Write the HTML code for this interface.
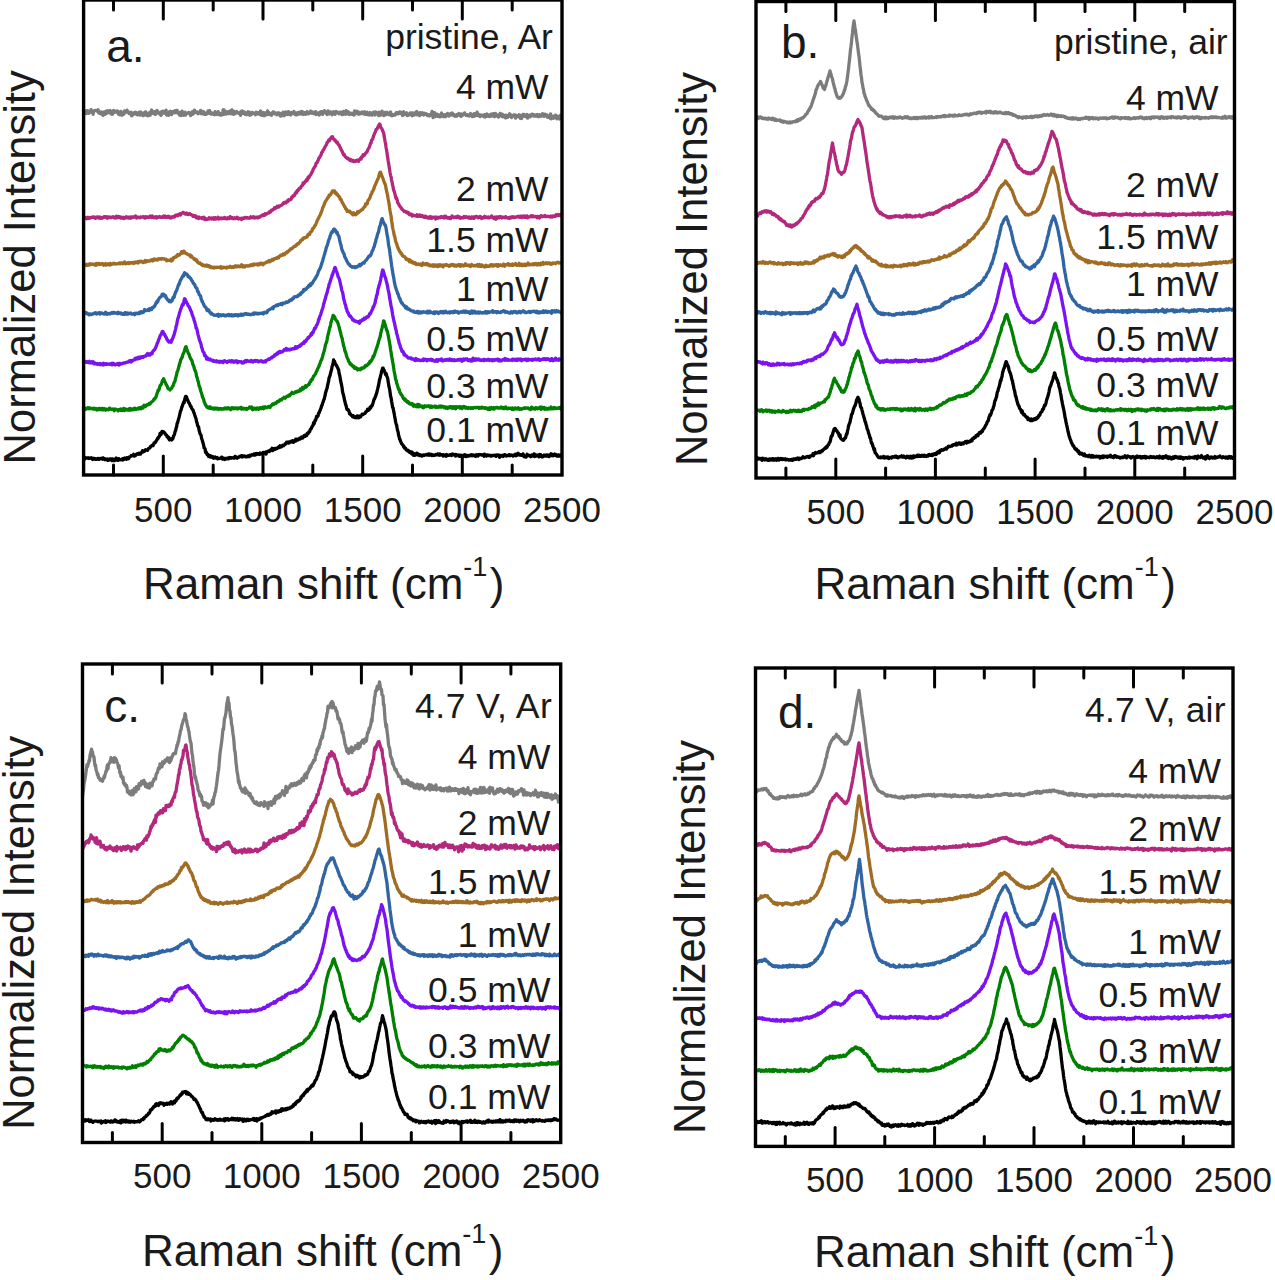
<!DOCTYPE html><html><head><meta charset="utf-8"><style>html,body{margin:0;padding:0;background:#fff;}svg{display:block}text{font-family:"Liberation Sans",sans-serif;fill:#1a1a1a}</style></head><body>
<div id="w">
<svg width="1275" height="1280" viewBox="0 0 1275 1280">
<clipPath id="ca"><rect x="83.6" y="0" width="478.4" height="475"/></clipPath>
<g clip-path="url(#ca)">
<path d="M83.6 111.1 84.1 112.6 84.6 111.5 85.1 112.7 85.6 113.1 86.1 113.6 86.6 110.7 87.1 112.3 87.6 113.0 88.1 110.9 88.6 113.4 89.1 112.9 89.6 112.8 90.1 111.7 90.6 111.2 91.1 109.6 91.6 110.8 92.1 112.3 92.6 111.3 93.1 114.3 93.6 111.2 94.1 110.8 94.6 110.8 95.1 110.4 95.6 110.4 96.1 110.4 96.6 110.9 97.1 110.9 97.6 111.6 98.1 109.8 98.6 112.9 99.1 111.5 99.6 112.3 100.1 113.5 100.6 113.1 101.1 113.4 101.6 112.0 102.1 114.4 102.6 113.0 103.1 115.3 103.6 112.4 104.1 111.9 104.6 112.3 105.1 114.3 105.6 112.7 106.1 111.2 106.6 113.3 107.1 111.9 107.6 110.7 108.1 112.6 108.6 111.9 109.1 112.6 109.6 111.1 110.1 110.5 110.6 112.7 111.1 114.0 111.6 112.3 112.1 112.8 112.6 114.2 113.1 111.2 113.6 110.4 114.1 112.4 114.6 111.2 115.1 112.0 115.6 111.3 116.1 111.9 116.6 111.9 117.1 110.9 117.6 112.7 118.1 111.2 118.6 114.3 119.1 112.9 119.6 112.7 120.1 114.9 120.6 114.4 121.1 111.5 121.6 114.6 122.1 115.2 122.6 114.0 123.1 114.5 123.6 113.9 124.1 113.9 124.6 110.9 125.1 112.5 125.6 111.8 126.1 111.4 126.6 112.0 127.1 110.2 127.6 111.9 128.1 112.3 128.6 112.2 129.1 113.6 129.6 112.8 130.1 112.4 130.6 112.6 131.1 112.2 131.6 115.9 132.1 113.0 132.6 113.3 133.1 114.6 133.6 113.5 134.1 113.9 134.6 112.4 135.1 113.7 135.6 112.3 136.1 113.4 136.6 114.2 137.1 112.9 137.6 114.9 138.1 113.4 138.6 112.8 139.1 112.3 139.6 113.8 140.1 115.0 140.6 111.9 141.1 113.4 141.6 113.9 142.1 114.9 142.6 113.6 143.1 115.7 143.6 112.9 144.1 114.2 144.6 115.0 145.1 112.1 145.6 111.7 146.1 113.0 146.6 115.2 147.1 114.1 147.6 114.6 148.1 115.8 148.6 114.8 149.1 112.8 149.6 112.5 150.1 115.3 150.6 113.3 151.1 111.1 151.6 110.0 152.1 112.1 152.6 113.4 153.1 112.0 153.6 113.6 154.1 112.8 154.6 111.6 155.1 112.9 155.6 114.4 156.1 112.2 156.6 111.4 157.1 110.4 157.6 112.0 158.1 112.5 158.6 113.1 159.1 112.6 159.6 114.1 160.1 113.3 160.6 113.9 161.1 115.4 161.6 111.7 162.1 113.3 162.6 113.3 163.1 111.2 163.6 111.6 164.1 113.0 164.6 113.1 165.1 113.4 165.6 112.3 166.1 110.2 166.6 115.1 167.1 112.7 167.6 113.0 168.1 114.1 168.6 115.2 169.1 114.3 169.6 111.7 170.1 111.8 170.6 111.3 171.1 112.4 171.6 114.6 172.1 112.2 172.6 111.6 173.1 111.6 173.6 111.7 174.1 111.7 174.6 112.9 175.1 110.7 175.6 111.8 176.1 111.1 176.6 110.8 177.1 110.2 177.6 113.2 178.1 113.2 178.6 112.4 179.1 112.8 179.6 115.2 180.1 112.3 180.6 112.9 181.1 115.7 181.6 112.3 182.1 111.1 182.6 114.9 183.1 112.6 183.6 113.7 184.1 115.2 184.6 112.4 185.1 112.2 185.6 115.1 186.1 113.3 186.6 113.7 187.1 113.5 187.6 113.3 188.1 112.8 188.6 112.3 189.1 112.5 189.6 113.5 190.1 114.0 190.6 115.6 191.1 114.1 191.6 113.6 192.1 112.0 192.6 114.4 193.1 113.7 193.6 111.2 194.1 113.1 194.6 110.1 195.1 111.9 195.6 111.7 196.1 112.3 196.6 112.3 197.1 113.0 197.6 112.0 198.1 113.7 198.6 113.1 199.1 112.5 199.6 113.1 200.1 113.2 200.6 110.4 201.1 113.7 201.6 111.2 202.1 113.8 202.6 113.7 203.1 113.2 203.6 111.8 204.1 112.9 204.6 114.4 205.1 113.0 205.6 113.2 206.1 114.2 206.6 113.6 207.1 112.7 207.6 113.5 208.1 110.8 208.6 112.2 209.1 111.8 209.6 110.6 210.1 113.6 210.6 113.6 211.1 114.1 211.6 112.8 212.1 113.0 212.6 114.1 213.1 113.7 213.6 114.0 214.1 114.5 214.6 114.7 215.1 111.7 215.6 112.8 216.1 114.4 216.6 114.3 217.1 114.5 217.6 113.1 218.1 111.6 218.6 113.0 219.1 113.0 219.6 114.8 220.1 114.5 220.6 113.8 221.1 115.2 221.6 114.1 222.1 113.3 222.6 114.3 223.1 109.9 223.6 114.7 224.1 109.9 224.6 113.8 225.1 112.6 225.6 111.5 226.1 114.1 226.6 112.9 227.1 112.9 227.6 113.3 228.1 111.6 228.6 113.7 229.1 113.0 229.6 112.3 230.1 111.7 230.6 110.8 231.1 113.6 231.6 113.8 232.1 109.9 232.6 113.3 233.1 113.1 233.6 114.4 234.1 111.5 234.6 113.9 235.1 112.7 235.6 113.3 236.1 111.9 236.6 111.4 237.1 112.8 237.6 113.0 238.1 112.8 238.6 112.8 239.1 113.5 239.6 113.0 240.1 112.5 240.6 115.4 241.1 111.5 241.6 112.0 242.1 113.4 242.6 111.0 243.1 112.6 243.6 113.2 244.1 113.4 244.6 112.1 245.1 114.4 245.6 113.5 246.1 113.4 246.6 114.7 247.1 112.7 247.6 112.8 248.1 111.7 248.6 111.9 249.1 113.9 249.6 115.2 250.1 112.8 250.6 113.2 251.1 114.8 251.6 112.3 252.1 112.3 252.6 113.8 253.1 112.7 253.6 113.3 254.1 113.6 254.6 113.1 255.1 113.1 255.6 114.7 256.1 112.2 256.6 112.8 257.1 113.9 257.6 114.0 258.1 112.6 258.6 113.1 259.1 113.2 259.6 114.3 260.1 112.2 260.6 111.0 261.1 113.0 261.6 115.3 262.1 113.6 262.6 113.6 263.1 113.3 263.6 112.6 264.1 115.8 264.6 112.8 265.1 114.1 265.6 113.4 266.1 115.0 266.6 112.8 267.1 114.3 267.6 110.9 268.1 113.0 268.6 114.4 269.1 112.7 269.6 114.6 270.1 113.4 270.6 113.5 271.1 114.3 271.6 115.2 272.1 113.5 272.6 112.8 273.1 111.9 273.6 111.8 274.1 112.4 274.6 113.7 275.1 112.7 275.6 113.1 276.1 113.8 276.6 114.7 277.1 113.1 277.6 113.9 278.1 114.1 278.6 112.7 279.1 113.3 279.6 114.0 280.1 115.8 280.6 113.5 281.1 116.1 281.6 114.1 282.1 114.8 282.6 113.3 283.1 112.2 283.6 113.2 284.1 115.8 284.6 113.5 285.1 112.6 285.6 111.9 286.1 114.5 286.6 113.4 287.1 112.3 287.6 112.6 288.1 114.5 288.6 111.7 289.1 112.7 289.6 114.3 290.1 114.5 290.6 114.9 291.1 113.5 291.6 112.4 292.1 112.7 292.6 113.4 293.1 113.0 293.6 113.6 294.1 111.5 294.6 113.4 295.1 114.2 295.6 113.4 296.1 114.9 296.6 113.1 297.1 114.7 297.6 112.7 298.1 113.0 298.6 113.5 299.1 114.1 299.6 112.2 300.1 113.9 300.6 114.0 301.1 111.9 301.6 111.4 302.1 111.5 302.6 112.6 303.1 114.2 303.6 112.4 304.1 114.2 304.6 113.6 305.1 112.7 305.6 114.3 306.1 114.0 306.6 113.5 307.1 111.7 307.6 113.4 308.1 112.6 308.6 113.8 309.1 113.4 309.6 113.2 310.1 112.4 310.6 111.1 311.1 112.0 311.6 111.6 312.1 113.4 312.6 112.5 313.1 113.6 313.6 113.6 314.1 112.4 314.6 112.0 315.1 113.6 315.6 111.7 316.1 114.6 316.6 112.7 317.1 114.2 317.6 114.1 318.1 113.1 318.6 114.1 319.1 115.1 319.6 112.5 320.1 112.9 320.6 111.9 321.1 113.9 321.6 111.6 322.1 112.7 322.6 114.4 323.1 113.4 323.6 112.3 324.1 111.0 324.6 110.7 325.1 112.1 325.6 112.5 326.1 112.7 326.6 113.9 327.1 114.6 327.6 114.3 328.1 110.8 328.6 112.8 329.1 112.9 329.6 113.8 330.1 113.7 330.6 111.9 331.1 113.5 331.6 113.3 332.1 114.8 332.6 114.0 333.1 113.5 333.6 111.8 334.1 112.9 334.6 113.3 335.1 114.4 335.6 111.8 336.1 111.5 336.6 112.0 337.1 112.7 337.6 112.2 338.1 112.8 338.6 112.7 339.1 113.9 339.6 113.2 340.1 112.1 340.6 113.4 341.1 113.7 341.6 114.4 342.1 112.1 342.6 114.6 343.1 113.7 343.6 111.5 344.1 112.8 344.6 112.5 345.1 111.9 345.6 114.3 346.1 110.7 346.6 111.4 347.1 111.8 347.6 113.0 348.1 111.8 348.6 114.3 349.1 112.3 349.6 114.5 350.1 114.2 350.6 113.6 351.1 113.6 351.6 113.2 352.1 114.4 352.6 113.4 353.1 114.5 353.6 113.0 354.1 115.0 354.6 111.0 355.1 112.7 355.6 113.8 356.1 112.7 356.6 112.9 357.1 111.3 357.6 112.6 358.1 113.6 358.6 114.2 359.1 112.3 359.6 114.0 360.1 113.8 360.6 113.0 361.1 113.1 361.6 113.5 362.1 112.0 362.6 113.6 363.1 113.6 363.6 113.2 364.1 114.0 364.6 111.8 365.1 112.8 365.6 112.9 366.1 114.4 366.6 113.3 367.1 112.2 367.6 114.2 368.1 114.8 368.6 114.9 369.1 114.3 369.6 113.9 370.1 112.5 370.6 114.9 371.1 113.6 371.6 113.2 372.1 115.1 372.6 112.8 373.1 113.5 373.6 112.1 374.1 112.5 374.6 113.0 375.1 115.0 375.6 111.9 376.1 113.3 376.6 112.8 377.1 113.5 377.6 112.9 378.1 114.1 378.6 115.6 379.1 112.2 379.6 114.6 380.1 115.2 380.6 113.9 381.1 113.6 381.6 112.7 382.1 111.1 382.6 115.1 383.1 114.0 383.6 115.0 384.1 115.6 384.6 114.0 385.1 112.4 385.6 112.9 386.1 114.6 386.6 112.8 387.1 112.3 387.6 114.0 388.1 113.1 388.6 114.6 389.1 113.2 389.6 113.7 390.1 113.7 390.6 112.0 391.1 115.6 391.6 114.1 392.1 115.7 392.6 114.8 393.1 115.3 393.6 114.7 394.1 114.5 394.6 114.7 395.1 115.0 395.6 113.8 396.1 113.0 396.6 112.4 397.1 113.9 397.6 113.6 398.1 112.8 398.6 113.7 399.1 113.5 399.6 111.9 400.1 113.2 400.6 112.1 401.1 113.5 401.6 113.8 402.1 112.7 402.6 115.6 403.1 113.3 403.6 111.8 404.1 113.6 404.6 114.4 405.1 113.9 405.6 114.4 406.1 113.5 406.6 112.8 407.1 115.4 407.6 115.6 408.1 114.9 408.6 115.1 409.1 115.0 409.6 113.9 410.1 113.0 410.6 113.4 411.1 114.2 411.6 112.9 412.1 115.8 412.6 113.0 413.1 114.7 413.6 114.7 414.1 115.1 414.6 112.9 415.1 113.7 415.6 113.3 416.1 112.3 416.6 111.5 417.1 114.9 417.6 113.7 418.1 113.9 418.6 113.1 419.1 113.7 419.6 115.7 420.1 112.6 420.6 113.0 421.1 114.2 421.6 113.1 422.1 112.8 422.6 114.5 423.1 113.7 423.6 115.0 424.1 113.1 424.6 113.8 425.1 114.2 425.6 114.4 426.1 113.7 426.6 114.2 427.1 114.7 427.6 115.6 428.1 114.7 428.6 114.8 429.1 114.9 429.6 115.9 430.1 114.7 430.6 114.9 431.1 113.7 431.6 114.3 432.1 111.3 432.6 115.0 433.1 117.6 433.6 115.8 434.1 115.1 434.6 112.6 435.1 116.5 435.6 115.2 436.1 114.1 436.6 114.5 437.1 114.3 437.6 116.3 438.1 115.1 438.6 116.1 439.1 115.0 439.6 116.8 440.1 116.8 440.6 116.5 441.1 114.5 441.6 113.0 442.1 115.8 442.6 115.1 443.1 116.5 443.6 115.2 444.1 116.6 444.6 114.8 445.1 114.6 445.6 116.7 446.1 114.7 446.6 116.0 447.1 113.8 447.6 113.5 448.1 113.9 448.6 115.1 449.1 116.0 449.6 115.0 450.1 115.1 450.6 113.7 451.1 114.9 451.6 115.0 452.1 113.0 452.6 114.0 453.1 114.3 453.6 115.5 454.1 114.5 454.6 115.3 455.1 116.3 455.6 116.2 456.1 115.9 456.6 116.2 457.1 114.4 457.6 114.4 458.1 115.1 458.6 115.2 459.1 113.5 459.6 115.2 460.1 114.2 460.6 115.9 461.1 116.4 461.6 113.9 462.1 115.5 462.6 115.3 463.1 114.1 463.6 114.2 464.1 114.3 464.6 112.9 465.1 113.9 465.6 114.4 466.1 115.4 466.6 115.2 467.1 114.7 467.6 115.6 468.1 114.8 468.6 114.9 469.1 116.1 469.6 115.3 470.1 115.2 470.6 113.5 471.1 115.1 471.6 115.2 472.1 116.4 472.6 116.6 473.1 115.2 473.6 116.4 474.1 113.6 474.6 114.0 475.1 115.8 475.6 114.4 476.1 115.4 476.6 114.1 477.1 112.2 477.6 115.7 478.1 113.9 478.6 114.7 479.1 114.9 479.6 115.3 480.1 116.6 480.6 115.0 481.1 115.9 481.6 115.6 482.1 115.3 482.6 115.2 483.1 115.9 483.6 116.5 484.1 115.8 484.6 114.7 485.1 117.2 485.6 114.6 486.1 116.2 486.6 116.3 487.1 114.0 487.6 115.9 488.1 115.4 488.6 115.8 489.1 116.5 489.6 115.8 490.1 114.7 490.6 116.4 491.1 114.1 491.6 114.1 492.1 114.3 492.6 114.2 493.1 116.1 493.6 113.7 494.1 115.3 494.6 116.7 495.1 114.4 495.6 113.5 496.1 115.5 496.6 115.0 497.1 114.9 497.6 115.5 498.1 117.0 498.6 117.0 499.1 115.3 499.6 115.7 500.1 113.4 500.6 114.3 501.1 114.9 501.6 116.3 502.1 114.1 502.6 114.4 503.1 116.8 503.6 116.6 504.1 115.3 504.6 115.8 505.1 116.9 505.6 117.9 506.1 115.2 506.6 116.0 507.1 116.4 507.6 117.3 508.1 115.5 508.6 116.5 509.1 115.4 509.6 113.8 510.1 116.2 510.6 114.8 511.1 115.9 511.6 117.6 512.1 116.0 512.6 116.2 513.1 115.7 513.6 115.1 514.1 114.9 514.6 115.9 515.1 115.0 515.6 118.2 516.1 115.4 516.6 116.5 517.1 116.4 517.6 116.4 518.1 115.7 518.6 116.9 519.1 114.8 519.6 117.2 520.1 116.8 520.6 118.4 521.1 115.5 521.6 118.6 522.1 116.6 522.6 116.4 523.1 114.4 523.6 115.3 524.1 114.5 524.6 116.2 525.1 115.2 525.6 116.5 526.1 115.5 526.6 115.8 527.1 114.5 527.6 118.2 528.1 116.0 528.6 117.1 529.1 115.5 529.6 116.7 530.1 116.8 530.6 115.0 531.1 116.0 531.6 115.4 532.1 114.1 532.6 115.2 533.1 115.2 533.6 116.0 534.1 114.7 534.6 115.7 535.1 116.0 535.6 115.2 536.1 115.9 536.6 115.0 537.1 114.6 537.6 116.3 538.1 114.9 538.6 116.7 539.1 116.6 539.6 114.8 540.1 116.4 540.6 115.5 541.1 115.9 541.6 114.7 542.1 116.0 542.6 113.6 543.1 115.2 543.6 115.0 544.1 116.4 544.6 116.1 545.1 114.2 545.6 115.9 546.1 115.7 546.6 116.1 547.1 114.9 547.6 117.3 548.1 115.8 548.6 116.0 549.1 116.0 549.6 117.5 550.1 118.2 550.6 114.0 551.1 118.9 551.6 117.3 552.1 117.1 552.6 116.5 553.1 116.2 553.6 118.2 554.1 117.9 554.6 116.8 555.1 117.9 555.6 115.1 556.1 115.8 556.6 117.2 557.1 118.7 557.6 116.3 558.1 116.3 558.6 117.3 559.1 116.9 559.6 119.0 560.1 116.2 560.6 115.3 561.1 117.8 561.6 115.6" fill="none" stroke="#7c7c7c" stroke-width="3.3" stroke-linejoin="round"/>
<path d="M83.6 217.6 84.1 216.7 84.6 218.5 85.1 218.0 85.6 217.7 86.1 217.9 86.6 218.8 87.1 217.6 87.6 217.3 88.1 218.4 88.6 217.7 89.1 218.4 89.6 217.5 90.1 218.0 90.6 217.8 91.1 217.3 91.6 217.5 92.1 217.4 92.6 216.8 93.1 216.8 93.6 217.3 94.1 217.0 94.6 217.8 95.1 217.6 95.6 218.4 96.1 217.7 96.6 216.9 97.1 217.4 97.6 217.3 98.1 216.9 98.6 218.0 99.1 217.0 99.6 217.7 100.1 218.2 100.6 217.3 101.1 218.2 101.6 217.8 102.1 217.8 102.6 218.1 103.1 217.4 103.6 217.6 104.1 216.6 104.6 217.1 105.1 216.9 105.6 216.7 106.1 216.7 106.6 217.6 107.1 218.2 107.6 217.1 108.1 216.9 108.6 217.8 109.1 217.2 109.6 216.9 110.1 217.2 110.6 217.3 111.1 217.6 111.6 217.2 112.1 217.1 112.6 217.0 113.1 216.7 113.6 217.2 114.1 217.6 114.6 218.0 115.1 217.2 115.6 217.6 116.1 217.9 116.6 216.3 117.1 217.2 117.6 217.6 118.1 216.4 118.6 216.7 119.1 217.3 119.6 216.7 120.1 216.9 120.6 218.1 121.1 218.1 121.6 217.5 122.1 217.9 122.6 218.1 123.1 217.2 123.6 218.6 124.1 217.7 124.6 217.8 125.1 218.0 125.6 217.6 126.1 216.7 126.6 216.9 127.1 217.9 127.6 217.4 128.1 217.5 128.6 217.2 129.1 218.1 129.6 217.1 130.1 217.0 130.6 218.2 131.1 217.6 131.6 217.0 132.1 217.5 132.6 216.9 133.1 216.8 133.6 217.2 134.1 216.8 134.6 217.0 135.1 217.0 135.6 215.9 136.1 216.9 136.6 218.1 137.1 217.6 137.6 217.3 138.1 217.1 138.6 217.3 139.1 217.7 139.6 217.5 140.1 217.7 140.6 217.0 141.1 216.8 141.6 217.1 142.1 217.1 142.6 217.2 143.1 216.6 143.6 216.6 144.1 217.1 144.6 217.9 145.1 217.0 145.6 217.9 146.1 216.8 146.6 217.4 147.1 217.0 147.6 216.9 148.1 217.2 148.6 217.5 149.1 217.3 149.6 216.9 150.1 216.1 150.6 217.1 151.1 217.4 151.6 216.1 152.1 216.0 152.6 217.1 153.1 217.4 153.6 217.8 154.1 216.9 154.6 217.2 155.1 217.1 155.6 217.8 156.1 216.8 156.6 218.1 157.1 216.9 157.6 217.0 158.1 217.4 158.6 217.1 159.1 217.0 159.6 216.5 160.1 217.2 160.6 216.9 161.1 217.4 161.6 217.1 162.1 217.4 162.6 217.4 163.1 216.5 163.6 217.0 164.1 216.1 164.6 217.2 165.1 216.1 165.6 217.0 166.1 216.4 166.6 217.6 167.1 217.3 167.6 216.6 168.1 216.2 168.6 217.0 169.1 216.5 169.6 217.9 170.1 217.2 170.6 217.5 171.1 217.9 171.6 216.9 172.1 217.1 172.6 216.9 173.1 216.5 173.6 217.1 174.1 217.1 174.6 216.8 175.1 215.8 175.6 215.1 176.1 215.3 176.6 215.6 177.1 214.9 177.6 215.8 178.1 215.5 178.6 214.5 179.1 214.2 179.6 214.4 180.1 213.8 180.6 215.0 181.1 213.5 181.6 213.3 182.1 213.3 182.6 212.8 183.1 212.4 183.6 212.6 184.1 213.3 184.6 213.1 185.1 213.9 185.6 214.1 186.1 213.4 186.6 213.0 187.1 214.2 187.6 213.8 188.1 214.5 188.6 214.2 189.1 214.2 189.6 213.6 190.1 214.3 190.6 214.6 191.1 214.8 191.6 214.7 192.1 215.1 192.6 215.8 193.1 216.4 193.6 216.3 194.1 215.6 194.6 216.3 195.1 216.6 195.6 215.8 196.1 217.7 196.6 217.9 197.1 217.4 197.6 217.1 198.1 218.1 198.6 218.6 199.1 217.1 199.6 217.8 200.1 217.6 200.6 218.0 201.1 218.1 201.6 218.4 202.1 217.5 202.6 218.3 203.1 218.6 203.6 218.6 204.1 217.3 204.6 219.5 205.1 218.3 205.6 219.6 206.1 219.2 206.6 219.1 207.1 219.4 207.6 218.9 208.1 218.8 208.6 219.0 209.1 217.8 209.6 218.8 210.1 218.3 210.6 218.5 211.1 217.9 211.6 219.1 212.1 218.5 212.6 218.1 213.1 217.8 213.6 219.2 214.1 218.5 214.6 218.6 215.1 217.6 215.6 219.1 216.1 218.9 216.6 218.2 217.1 217.9 217.6 218.4 218.1 217.2 218.6 219.0 219.1 217.9 219.6 218.2 220.1 218.8 220.6 218.2 221.1 218.0 221.6 218.7 222.1 218.2 222.6 218.3 223.1 218.5 223.6 218.1 224.1 217.5 224.6 217.4 225.1 218.6 225.6 218.2 226.1 218.9 226.6 218.9 227.1 218.0 227.6 217.8 228.1 218.5 228.6 218.6 229.1 217.8 229.6 218.4 230.1 216.6 230.6 217.8 231.1 217.5 231.6 218.2 232.1 217.6 232.6 218.6 233.1 218.1 233.6 218.5 234.1 218.6 234.6 217.8 235.1 218.0 235.6 218.6 236.1 217.9 236.6 218.3 237.1 217.2 237.6 218.0 238.1 217.9 238.6 219.0 239.1 218.4 239.6 218.4 240.1 218.7 240.6 218.7 241.1 218.3 241.6 219.6 242.1 218.1 242.6 218.7 243.1 218.6 243.6 218.4 244.1 218.4 244.6 217.4 245.1 217.9 245.6 217.5 246.1 217.4 246.6 217.5 247.1 218.0 247.6 217.6 248.1 218.1 248.6 218.2 249.1 217.9 249.6 218.2 250.1 217.3 250.6 216.8 251.1 217.3 251.6 217.3 252.1 217.8 252.6 217.4 253.1 216.7 253.6 217.9 254.1 217.1 254.6 217.9 255.1 217.2 255.6 217.8 256.1 217.6 256.6 217.3 257.1 217.7 257.6 217.9 258.1 216.9 258.6 217.5 259.1 216.9 259.6 217.2 260.1 216.3 260.6 216.4 261.1 216.0 261.6 215.7 262.1 215.1 262.6 215.0 263.1 215.7 263.6 214.7 264.1 215.1 264.6 215.3 265.1 213.7 265.6 214.5 266.1 213.7 266.6 214.0 267.1 213.7 267.6 213.4 268.1 213.0 268.6 213.0 269.1 211.8 269.6 211.9 270.1 212.3 270.6 211.9 271.1 210.4 271.6 210.1 272.1 209.8 272.6 210.0 273.1 209.5 273.6 209.2 274.1 208.6 274.6 207.6 275.1 208.7 275.6 208.0 276.1 207.8 276.6 207.7 277.1 206.3 277.6 207.1 278.1 206.5 278.6 207.0 279.1 206.0 279.6 206.1 280.1 205.9 280.6 205.7 281.1 205.4 281.6 205.1 282.1 204.8 282.6 204.2 283.1 203.3 283.6 203.3 284.1 202.4 284.6 203.2 285.1 202.4 285.6 202.1 286.1 202.8 286.6 201.9 287.1 201.0 287.6 201.7 288.1 201.4 288.6 199.7 289.1 200.1 289.6 200.0 290.1 199.7 290.6 199.5 291.1 199.3 291.6 197.5 292.1 197.7 292.6 196.4 293.1 195.7 293.6 196.2 294.1 195.7 294.6 195.3 295.1 193.4 295.6 193.3 296.1 192.0 296.6 192.9 297.1 191.0 297.6 190.2 298.1 190.4 298.6 189.4 299.1 188.6 299.6 188.4 300.1 188.3 300.6 187.9 301.1 186.5 301.6 186.1 302.1 185.6 302.6 185.2 303.1 182.9 303.6 183.8 304.1 183.4 304.6 182.4 305.1 181.5 305.6 181.5 306.1 180.5 306.6 179.6 307.1 180.5 307.6 179.0 308.1 177.3 308.6 178.1 309.1 177.0 309.6 176.3 310.1 175.3 310.6 174.8 311.1 174.1 311.6 172.7 312.1 171.9 312.6 171.5 313.1 169.3 313.6 168.9 314.1 167.7 314.6 167.0 315.1 166.4 315.6 165.4 316.1 163.2 316.6 162.9 317.1 162.6 317.6 161.2 318.1 160.6 318.6 159.1 319.1 157.7 319.6 157.5 320.1 156.3 320.6 155.5 321.1 154.9 321.6 152.5 322.1 152.3 322.6 151.6 323.1 150.2 323.6 149.7 324.1 148.9 324.6 147.6 325.1 146.8 325.6 146.1 326.1 145.1 326.6 144.2 327.1 142.3 327.6 142.3 328.1 141.5 328.6 140.3 329.1 139.9 329.6 140.7 330.1 138.7 330.6 138.5 331.1 137.6 331.6 136.9 332.1 137.7 332.6 136.8 333.1 139.0 333.6 139.1 334.1 139.3 334.6 140.2 335.1 140.0 335.6 140.9 336.1 141.9 336.6 142.6 337.1 142.0 337.6 142.7 338.1 144.2 338.6 144.9 339.1 145.1 339.6 146.6 340.1 147.2 340.6 148.3 341.1 149.6 341.6 150.4 342.1 151.3 342.6 152.6 343.1 153.5 343.6 154.8 344.1 154.2 344.6 155.6 345.1 156.5 345.6 156.8 346.1 157.6 346.6 157.7 347.1 158.5 347.6 158.7 348.1 158.2 348.6 159.0 349.1 159.6 349.6 160.1 350.1 160.5 350.6 159.5 351.1 160.8 351.6 160.4 352.1 160.7 352.6 161.1 353.1 160.3 353.6 161.5 354.1 161.0 354.6 161.2 355.1 161.5 355.6 160.7 356.1 160.4 356.6 160.9 357.1 160.4 357.6 160.2 358.1 160.3 358.6 161.4 359.1 159.6 359.6 159.3 360.1 159.4 360.6 158.2 361.1 159.1 361.6 157.0 362.1 157.2 362.6 156.4 363.1 154.8 363.6 155.8 364.1 155.0 364.6 155.1 365.1 154.0 365.6 153.3 366.1 152.6 366.6 152.4 367.1 151.7 367.6 150.3 368.1 149.1 368.6 148.4 369.1 147.7 369.6 146.2 370.1 144.7 370.6 143.1 371.1 142.9 371.6 140.0 372.1 139.9 372.6 139.2 373.1 137.5 373.6 135.8 374.1 134.8 374.6 133.3 375.1 132.3 375.6 131.2 376.1 129.3 376.6 129.3 377.1 128.9 377.6 127.6 378.1 127.2 378.6 125.5 379.1 125.6 379.6 124.0 380.1 124.7 380.6 127.1 381.1 127.8 381.6 128.3 382.1 129.2 382.6 130.7 383.1 131.8 383.6 132.6 384.1 136.2 384.6 138.6 385.1 141.6 385.6 143.9 386.1 147.8 386.6 150.3 387.1 153.6 387.6 156.8 388.1 160.5 388.6 163.3 389.1 166.4 389.6 169.7 390.1 172.8 390.6 175.3 391.1 177.2 391.6 180.1 392.1 182.2 392.6 185.2 393.1 187.1 393.6 190.0 394.1 191.2 394.6 192.6 395.1 194.6 395.6 196.8 396.1 198.6 396.6 197.8 397.1 199.8 397.6 202.2 398.1 203.3 398.6 203.9 399.1 205.2 399.6 205.6 400.1 206.7 400.6 207.4 401.1 207.7 401.6 208.9 402.1 209.0 402.6 209.8 403.1 210.2 403.6 210.7 404.1 211.5 404.6 211.2 405.1 211.5 405.6 211.8 406.1 211.7 406.6 212.6 407.1 212.9 407.6 212.2 408.1 212.8 408.6 213.8 409.1 213.1 409.6 214.7 410.1 214.4 410.6 214.4 411.1 214.6 411.6 214.2 412.1 216.1 412.6 215.6 413.1 215.1 413.6 215.2 414.1 215.8 414.6 215.6 415.1 215.7 415.6 215.8 416.1 215.8 416.6 216.2 417.1 214.8 417.6 215.9 418.1 216.4 418.6 216.2 419.1 216.0 419.6 215.0 420.1 216.1 420.6 216.3 421.1 216.4 421.6 216.5 422.1 215.5 422.6 215.8 423.1 216.2 423.6 216.8 424.1 217.3 424.6 217.4 425.1 216.3 425.6 217.6 426.1 216.5 426.6 216.8 427.1 217.2 427.6 217.7 428.1 218.2 428.6 217.1 429.1 217.1 429.6 217.4 430.1 218.2 430.6 216.5 431.1 218.1 431.6 218.4 432.1 218.0 432.6 217.2 433.1 217.2 433.6 217.6 434.1 217.2 434.6 217.8 435.1 218.1 435.6 219.0 436.1 217.0 436.6 217.4 437.1 217.4 437.6 218.3 438.1 218.1 438.6 217.2 439.1 217.5 439.6 217.6 440.1 217.8 440.6 217.2 441.1 216.6 441.6 216.5 442.1 217.4 442.6 217.3 443.1 217.6 443.6 217.4 444.1 218.0 444.6 216.3 445.1 216.5 445.6 216.3 446.1 217.3 446.6 217.9 447.1 217.3 447.6 217.5 448.1 218.0 448.6 217.8 449.1 217.5 449.6 217.7 450.1 218.7 450.6 218.7 451.1 217.4 451.6 217.2 452.1 216.0 452.6 217.1 453.1 217.2 453.6 217.7 454.1 217.7 454.6 217.4 455.1 216.9 455.6 217.1 456.1 217.6 456.6 217.6 457.1 217.5 457.6 216.1 458.1 216.4 458.6 217.5 459.1 217.8 459.6 216.9 460.1 217.2 460.6 218.3 461.1 217.9 461.6 217.6 462.1 217.6 462.6 217.8 463.1 217.3 463.6 217.7 464.1 216.5 464.6 217.1 465.1 217.4 465.6 217.5 466.1 216.7 466.6 216.8 467.1 217.2 467.6 217.7 468.1 217.7 468.6 218.0 469.1 217.0 469.6 217.6 470.1 218.2 470.6 217.5 471.1 218.3 471.6 217.0 472.1 217.0 472.6 218.0 473.1 217.7 473.6 216.9 474.1 218.4 474.6 217.7 475.1 216.7 475.6 216.5 476.1 216.8 476.6 216.5 477.1 216.6 477.6 216.9 478.1 217.8 478.6 217.3 479.1 217.3 479.6 217.2 480.1 216.4 480.6 217.7 481.1 216.9 481.6 218.5 482.1 217.4 482.6 218.1 483.1 217.8 483.6 217.9 484.1 217.1 484.6 216.3 485.1 217.7 485.6 217.6 486.1 217.2 486.6 217.0 487.1 217.1 487.6 217.2 488.1 217.9 488.6 216.9 489.1 217.8 489.6 217.4 490.1 217.2 490.6 217.3 491.1 216.8 491.6 216.0 492.1 216.7 492.6 217.6 493.1 217.6 493.6 218.0 494.1 218.5 494.6 217.1 495.1 218.3 495.6 217.6 496.1 219.2 496.6 216.8 497.1 218.1 497.6 218.1 498.1 217.7 498.6 216.9 499.1 217.9 499.6 216.7 500.1 216.5 500.6 216.9 501.1 217.4 501.6 217.0 502.1 217.9 502.6 217.1 503.1 217.2 503.6 217.3 504.1 217.6 504.6 217.6 505.1 217.8 505.6 216.6 506.1 217.7 506.6 217.6 507.1 217.9 507.6 217.8 508.1 218.1 508.6 217.7 509.1 217.6 509.6 218.4 510.1 217.3 510.6 217.8 511.1 217.3 511.6 217.7 512.1 216.8 512.6 217.2 513.1 216.7 513.6 217.6 514.1 217.7 514.6 217.1 515.1 217.3 515.6 217.4 516.1 216.9 516.6 217.0 517.1 216.8 517.6 216.8 518.1 216.3 518.6 216.9 519.1 216.5 519.6 217.2 520.1 217.4 520.6 216.2 521.1 216.7 521.6 216.3 522.1 217.6 522.6 216.1 523.1 217.1 523.6 216.8 524.1 216.0 524.6 217.4 525.1 217.3 525.6 216.5 526.1 216.9 526.6 217.5 527.1 215.9 527.6 217.8 528.1 217.2 528.6 217.1 529.1 217.1 529.6 217.0 530.1 216.5 530.6 216.6 531.1 215.8 531.6 216.1 532.1 216.8 532.6 215.7 533.1 216.8 533.6 216.3 534.1 216.4 534.6 216.8 535.1 216.7 535.6 216.4 536.1 216.4 536.6 216.9 537.1 217.7 537.6 216.5 538.1 217.3 538.6 217.7 539.1 216.5 539.6 218.0 540.1 216.7 540.6 216.3 541.1 215.6 541.6 216.6 542.1 216.2 542.6 216.7 543.1 216.2 543.6 216.0 544.1 215.9 544.6 216.5 545.1 215.5 545.6 216.1 546.1 216.7 546.6 216.6 547.1 216.6 547.6 216.5 548.1 216.2 548.6 216.3 549.1 216.5 549.6 216.9 550.1 216.5 550.6 217.0 551.1 216.1 551.6 216.6 552.1 216.9 552.6 216.1 553.1 216.7 553.6 216.0 554.1 216.1 554.6 215.9 555.1 216.5 555.6 216.0 556.1 214.8 556.6 215.4 557.1 215.3 557.6 214.7 558.1 215.6 558.6 214.5 559.1 215.6 559.6 215.3 560.1 215.0 560.6 214.5 561.1 215.9 561.6 214.6" fill="none" stroke="#b3287c" stroke-width="3.3" stroke-linejoin="round"/>
<path d="M83.6 264.6 84.1 264.6 84.6 265.1 85.1 265.7 85.6 264.6 86.1 264.3 86.6 265.2 87.1 265.3 87.6 264.4 88.1 265.3 88.6 265.1 89.1 264.7 89.6 263.8 90.1 264.8 90.6 264.5 91.1 264.1 91.6 263.8 92.1 264.1 92.6 264.3 93.1 264.6 93.6 264.2 94.1 264.7 94.6 264.7 95.1 264.1 95.6 265.4 96.1 263.7 96.6 263.4 97.1 264.8 97.6 264.7 98.1 264.3 98.6 263.4 99.1 264.1 99.6 263.6 100.1 264.5 100.6 264.4 101.1 264.3 101.6 263.7 102.1 263.8 102.6 263.7 103.1 264.0 103.6 265.2 104.1 264.5 104.6 264.3 105.1 263.9 105.6 263.6 106.1 265.1 106.6 264.1 107.1 264.7 107.6 264.6 108.1 264.7 108.6 263.8 109.1 264.0 109.6 265.1 110.1 264.7 110.6 263.5 111.1 264.5 111.6 264.2 112.1 264.2 112.6 264.2 113.1 264.0 113.6 263.3 114.1 263.8 114.6 263.4 115.1 264.0 115.6 264.1 116.1 263.8 116.6 263.9 117.1 263.8 117.6 263.9 118.1 263.4 118.6 263.5 119.1 263.3 119.6 262.9 120.1 263.8 120.6 263.3 121.1 262.9 121.6 262.8 122.1 263.2 122.6 263.7 123.1 263.0 123.6 263.4 124.1 262.2 124.6 261.9 125.1 262.8 125.6 263.8 126.1 263.6 126.6 263.4 127.1 263.4 127.6 262.9 128.1 262.5 128.6 263.5 129.1 263.5 129.6 262.9 130.1 262.6 130.6 262.8 131.1 263.1 131.6 263.2 132.1 262.6 132.6 263.1 133.1 262.9 133.6 262.5 134.1 263.4 134.6 262.4 135.1 262.0 135.6 262.3 136.1 262.3 136.6 262.5 137.1 262.7 137.6 261.6 138.1 263.0 138.6 262.0 139.1 261.9 139.6 261.2 140.1 261.7 140.6 261.7 141.1 261.9 141.6 261.2 142.1 261.9 142.6 262.2 143.1 262.5 143.6 262.5 144.1 261.7 144.6 261.4 145.1 260.5 145.6 262.1 146.1 261.4 146.6 261.2 147.1 261.4 147.6 260.8 148.1 261.1 148.6 261.0 149.1 261.1 149.6 260.9 150.1 260.9 150.6 260.5 151.1 259.8 151.6 259.9 152.1 260.6 152.6 260.9 153.1 259.4 153.6 259.8 154.1 259.0 154.6 260.0 155.1 259.7 155.6 259.2 156.1 259.9 156.6 260.0 157.1 260.1 157.6 260.1 158.1 259.6 158.6 258.6 159.1 259.1 159.6 259.1 160.1 259.1 160.6 258.6 161.1 258.7 161.6 259.3 162.1 258.5 162.6 258.6 163.1 258.9 163.6 259.0 164.1 258.6 164.6 259.1 165.1 259.2 165.6 259.7 166.1 259.3 166.6 260.8 167.1 260.0 167.6 260.4 168.1 260.5 168.6 260.4 169.1 260.4 169.6 260.5 170.1 260.6 170.6 260.3 171.1 259.1 171.6 261.0 172.1 259.4 172.6 260.1 173.1 259.1 173.6 257.6 174.1 257.5 174.6 257.3 175.1 256.9 175.6 257.2 176.1 256.3 176.6 256.5 177.1 255.3 177.6 254.6 178.1 255.6 178.6 255.0 179.1 255.1 179.6 255.0 180.1 254.0 180.6 253.3 181.1 253.4 181.6 251.7 182.1 253.2 182.6 253.0 183.1 251.9 183.6 251.2 184.1 251.2 184.6 252.9 185.1 252.6 185.6 253.3 186.1 253.5 186.6 253.5 187.1 253.8 187.6 254.4 188.1 254.7 188.6 254.8 189.1 255.1 189.6 255.0 190.1 254.9 190.6 256.8 191.1 255.9 191.6 256.1 192.1 257.1 192.6 257.7 193.1 257.8 193.6 258.1 194.1 259.3 194.6 258.7 195.1 259.1 195.6 260.2 196.1 260.6 196.6 259.7 197.1 261.4 197.6 262.3 198.1 262.0 198.6 262.8 199.1 263.4 199.6 263.4 200.1 262.9 200.6 263.9 201.1 264.5 201.6 264.2 202.1 264.3 202.6 265.5 203.1 265.3 203.6 265.1 204.1 265.1 204.6 266.1 205.1 265.7 205.6 265.5 206.1 265.5 206.6 265.1 207.1 266.3 207.6 265.4 208.1 265.6 208.6 265.6 209.1 265.8 209.6 267.1 210.1 266.7 210.6 266.6 211.1 267.6 211.6 267.0 212.1 267.6 212.6 267.6 213.1 267.1 213.6 267.1 214.1 268.0 214.6 267.4 215.1 267.1 215.6 267.7 216.1 267.7 216.6 267.5 217.1 267.1 217.6 267.4 218.1 267.4 218.6 267.3 219.1 267.5 219.6 267.5 220.1 267.5 220.6 266.6 221.1 266.8 221.6 268.3 222.1 267.2 222.6 267.5 223.1 267.7 223.6 267.1 224.1 267.1 224.6 267.4 225.1 267.7 225.6 267.9 226.1 267.4 226.6 268.1 227.1 267.1 227.6 267.6 228.1 267.3 228.6 267.3 229.1 267.3 229.6 266.9 230.1 266.3 230.6 267.0 231.1 266.9 231.6 267.5 232.1 266.9 232.6 267.1 233.1 267.5 233.6 266.6 234.1 267.2 234.6 266.4 235.1 266.7 235.6 265.7 236.1 266.7 236.6 266.5 237.1 266.8 237.6 266.6 238.1 265.9 238.6 266.0 239.1 266.1 239.6 266.7 240.1 266.8 240.6 266.0 241.1 266.0 241.6 264.8 242.1 265.7 242.6 267.0 243.1 266.2 243.6 265.7 244.1 266.1 244.6 267.1 245.1 265.9 245.6 266.1 246.1 265.9 246.6 265.7 247.1 265.7 247.6 265.9 248.1 266.1 248.6 266.1 249.1 265.6 249.6 265.8 250.1 265.1 250.6 265.7 251.1 265.3 251.6 264.9 252.1 264.5 252.6 264.5 253.1 265.4 253.6 264.1 254.1 264.0 254.6 264.2 255.1 264.2 255.6 264.6 256.1 264.2 256.6 264.5 257.1 264.0 257.6 263.9 258.1 265.0 258.6 264.0 259.1 264.0 259.6 264.5 260.1 263.4 260.6 264.1 261.1 263.1 261.6 263.3 262.1 263.9 262.6 263.7 263.1 264.8 263.6 263.5 264.1 263.1 264.6 263.1 265.1 263.1 265.6 263.0 266.1 262.4 266.6 262.2 267.1 261.7 267.6 262.0 268.1 261.2 268.6 261.1 269.1 260.5 269.6 261.9 270.1 260.8 270.6 260.4 271.1 261.0 271.6 260.6 272.1 259.5 272.6 260.0 273.1 260.2 273.6 259.8 274.1 258.6 274.6 258.7 275.1 258.8 275.6 258.7 276.1 258.1 276.6 257.9 277.1 258.2 277.6 257.6 278.1 257.1 278.6 257.8 279.1 257.0 279.6 256.3 280.1 255.6 280.6 255.5 281.1 255.0 281.6 255.5 282.1 255.4 282.6 255.1 283.1 253.9 283.6 254.2 284.1 254.8 284.6 254.6 285.1 253.3 285.6 253.1 286.1 252.6 286.6 252.4 287.1 252.8 287.6 251.4 288.1 251.7 288.6 250.9 289.1 250.5 289.6 250.0 290.1 250.0 290.6 248.9 291.1 248.7 291.6 248.7 292.1 248.7 292.6 247.9 293.1 247.4 293.6 246.7 294.1 246.8 294.6 246.2 295.1 246.3 295.6 246.3 296.1 244.9 296.6 245.1 297.1 244.5 297.6 243.7 298.1 244.0 298.6 243.8 299.1 242.8 299.6 242.2 300.1 242.2 300.6 240.6 301.1 240.0 301.6 239.9 302.1 239.7 302.6 239.8 303.1 238.3 303.6 237.9 304.1 238.3 304.6 237.9 305.1 237.8 305.6 237.3 306.1 236.8 306.6 237.0 307.1 237.0 307.6 235.4 308.1 234.5 308.6 234.1 309.1 234.4 309.6 234.5 310.1 232.4 310.6 232.3 311.1 231.5 311.6 231.4 312.1 230.6 312.6 228.5 313.1 228.3 313.6 228.0 314.1 227.3 314.6 225.7 315.1 225.5 315.6 225.1 316.1 223.3 316.6 222.5 317.1 220.8 317.6 220.1 318.1 218.9 318.6 218.1 319.1 217.0 319.6 216.0 320.1 215.2 320.6 214.0 321.1 212.7 321.6 211.3 322.1 210.0 322.6 208.2 323.1 207.0 323.6 206.2 324.1 204.6 324.6 203.6 325.1 201.9 325.6 201.2 326.1 200.5 326.6 199.7 327.1 198.9 327.6 198.0 328.1 197.3 328.6 197.1 329.1 195.1 329.6 195.4 330.1 195.2 330.6 194.8 331.1 193.6 331.6 192.6 332.1 192.3 332.6 190.9 333.1 191.4 333.6 191.0 334.1 191.3 334.6 191.0 335.1 193.0 335.6 192.8 336.1 192.7 336.6 194.2 337.1 193.9 337.6 194.8 338.1 195.7 338.6 196.4 339.1 196.8 339.6 196.9 340.1 199.1 340.6 199.6 341.1 199.4 341.6 201.0 342.1 202.0 342.6 203.2 343.1 203.7 343.6 204.9 344.1 205.7 344.6 206.7 345.1 207.1 345.6 208.7 346.1 208.6 346.6 209.3 347.1 211.4 347.6 211.2 348.1 211.2 348.6 211.4 349.1 211.0 349.6 211.9 350.1 211.6 350.6 212.6 351.1 212.9 351.6 213.0 352.1 214.1 352.6 214.3 353.1 214.8 353.6 212.8 354.1 213.9 354.6 214.1 355.1 213.7 355.6 214.8 356.1 213.5 356.6 213.4 357.1 213.8 357.6 211.6 358.1 212.8 358.6 212.3 359.1 211.8 359.6 211.3 360.1 211.1 360.6 210.7 361.1 210.1 361.6 209.9 362.1 209.8 362.6 209.4 363.1 208.4 363.6 207.9 364.1 206.9 364.6 206.8 365.1 206.3 365.6 203.9 366.1 204.3 366.6 204.2 367.1 204.1 367.6 201.9 368.1 200.2 368.6 199.8 369.1 199.4 369.6 198.2 370.1 197.4 370.6 195.3 371.1 194.4 371.6 194.0 372.1 191.7 372.6 191.5 373.1 190.5 373.6 189.5 374.1 188.1 374.6 186.3 375.1 185.0 375.6 184.5 376.1 183.0 376.6 181.8 377.1 180.9 377.6 179.2 378.1 178.6 378.6 177.2 379.1 175.0 379.6 173.2 380.1 172.2 380.6 172.4 381.1 173.7 381.6 175.5 382.1 176.4 382.6 177.6 383.1 178.8 383.6 180.7 384.1 181.7 384.6 183.4 385.1 183.9 385.6 185.8 386.1 188.9 386.6 191.0 387.1 193.2 387.6 195.3 388.1 198.8 388.6 201.0 389.1 204.1 389.6 207.9 390.1 211.0 390.6 213.7 391.1 216.2 391.6 221.0 392.1 223.6 392.6 227.3 393.1 229.8 393.6 231.7 394.1 234.9 394.6 236.2 395.1 238.4 395.6 241.2 396.1 242.4 396.6 243.4 397.1 245.6 397.6 246.8 398.1 248.5 398.6 248.9 399.1 250.5 399.6 250.7 400.1 252.1 400.6 252.2 401.1 253.8 401.6 253.5 402.1 254.5 402.6 255.8 403.1 256.2 403.6 256.3 404.1 256.5 404.6 256.6 405.1 257.2 405.6 258.1 406.1 259.3 406.6 259.2 407.1 258.9 407.6 260.0 408.1 260.0 408.6 259.8 409.1 259.6 409.6 261.9 410.1 260.1 410.6 261.1 411.1 261.1 411.6 262.2 412.1 262.6 412.6 261.8 413.1 262.5 413.6 263.4 414.1 263.5 414.6 263.5 415.1 262.6 415.6 263.1 416.1 264.6 416.6 264.5 417.1 264.2 417.6 264.3 418.1 263.9 418.6 264.5 419.1 264.1 419.6 264.4 420.1 264.6 420.6 264.9 421.1 263.9 421.6 264.6 422.1 265.4 422.6 264.4 423.1 263.0 423.6 264.1 424.1 264.2 424.6 264.3 425.1 264.7 425.6 263.9 426.1 264.2 426.6 263.4 427.1 264.4 427.6 265.1 428.1 264.0 428.6 264.9 429.1 264.8 429.6 265.7 430.1 265.1 430.6 265.8 431.1 265.3 431.6 265.9 432.1 265.6 432.6 265.5 433.1 264.8 433.6 266.4 434.1 265.8 434.6 264.9 435.1 265.7 435.6 266.1 436.1 264.9 436.6 265.7 437.1 265.4 437.6 266.5 438.1 264.9 438.6 266.2 439.1 265.5 439.6 266.1 440.1 264.8 440.6 265.8 441.1 266.0 441.6 265.1 442.1 265.9 442.6 266.2 443.1 266.9 443.6 265.0 444.1 265.7 444.6 265.1 445.1 265.2 445.6 264.6 446.1 264.7 446.6 265.3 447.1 265.0 447.6 265.3 448.1 265.3 448.6 265.8 449.1 266.3 449.6 265.2 450.1 265.5 450.6 265.7 451.1 264.9 451.6 264.4 452.1 264.9 452.6 265.3 453.1 264.6 453.6 265.6 454.1 266.0 454.6 265.2 455.1 265.4 455.6 265.9 456.1 265.1 456.6 266.0 457.1 265.7 457.6 265.5 458.1 265.1 458.6 264.6 459.1 265.9 459.6 265.0 460.1 264.8 460.6 266.3 461.1 265.5 461.6 265.4 462.1 264.8 462.6 265.4 463.1 265.6 463.6 266.0 464.1 265.4 464.6 265.2 465.1 265.3 465.6 263.7 466.1 265.3 466.6 265.0 467.1 265.5 467.6 265.1 468.1 265.4 468.6 265.7 469.1 265.0 469.6 266.1 470.1 265.5 470.6 266.4 471.1 265.4 471.6 264.5 472.1 265.7 472.6 265.7 473.1 265.5 473.6 265.8 474.1 265.6 474.6 265.8 475.1 265.3 475.6 265.8 476.1 265.6 476.6 265.3 477.1 265.2 477.6 264.6 478.1 266.2 478.6 265.9 479.1 265.3 479.6 264.4 480.1 266.3 480.6 265.6 481.1 265.5 481.6 266.4 482.1 265.0 482.6 265.9 483.1 265.9 483.6 266.4 484.1 266.0 484.6 267.0 485.1 266.0 485.6 266.6 486.1 265.3 486.6 266.5 487.1 265.9 487.6 265.9 488.1 266.4 488.6 266.4 489.1 266.0 489.6 266.1 490.1 265.1 490.6 266.1 491.1 264.7 491.6 264.7 492.1 264.8 492.6 265.2 493.1 266.1 493.6 264.9 494.1 265.2 494.6 265.0 495.1 265.6 495.6 265.1 496.1 264.7 496.6 264.6 497.1 265.0 497.6 266.4 498.1 264.7 498.6 265.9 499.1 265.5 499.6 265.3 500.1 265.2 500.6 264.8 501.1 265.4 501.6 265.6 502.1 265.8 502.6 265.2 503.1 264.9 503.6 264.1 504.1 264.6 504.6 266.2 505.1 265.6 505.6 264.6 506.1 265.0 506.6 264.6 507.1 264.8 507.6 264.9 508.1 263.6 508.6 264.7 509.1 264.5 509.6 265.3 510.1 264.4 510.6 265.0 511.1 264.8 511.6 265.3 512.1 265.2 512.6 264.0 513.1 265.4 513.6 264.7 514.1 264.9 514.6 264.6 515.1 263.9 515.6 263.6 516.1 265.1 516.6 265.2 517.1 265.4 517.6 265.1 518.1 265.1 518.6 265.2 519.1 263.3 519.6 265.5 520.1 264.0 520.6 264.3 521.1 264.6 521.6 265.5 522.1 264.3 522.6 265.6 523.1 264.7 523.6 265.3 524.1 265.3 524.6 264.1 525.1 265.3 525.6 265.6 526.1 264.7 526.6 264.4 527.1 264.6 527.6 264.8 528.1 263.0 528.6 264.3 529.1 264.8 529.6 264.5 530.1 264.4 530.6 264.8 531.1 264.3 531.6 264.5 532.1 264.0 532.6 264.7 533.1 264.2 533.6 263.8 534.1 264.8 534.6 263.6 535.1 263.6 535.6 264.3 536.1 263.4 536.6 264.8 537.1 264.0 537.6 264.9 538.1 264.1 538.6 263.5 539.1 264.5 539.6 263.8 540.1 264.0 540.6 264.8 541.1 263.2 541.6 264.1 542.1 264.0 542.6 264.1 543.1 262.4 543.6 264.2 544.1 263.6 544.6 263.7 545.1 263.4 545.6 263.6 546.1 262.7 546.6 263.0 547.1 262.9 547.6 263.7 548.1 263.0 548.6 262.8 549.1 262.9 549.6 263.1 550.1 264.1 550.6 263.4 551.1 263.3 551.6 264.2 552.1 263.6 552.6 262.9 553.1 263.5 553.6 263.0 554.1 263.1 554.6 263.2 555.1 263.2 555.6 263.8 556.1 262.9 556.6 262.5 557.1 262.5 557.6 262.5 558.1 262.3 558.6 263.0 559.1 262.9 559.6 263.0 560.1 262.6 560.6 263.1 561.1 262.9 561.6 262.8" fill="none" stroke="#a06c24" stroke-width="3.3" stroke-linejoin="round"/>
<path d="M83.6 313.7 84.1 313.4 84.6 313.5 85.1 313.4 85.6 312.4 86.1 313.5 86.6 313.0 87.1 313.1 87.6 313.5 88.1 314.1 88.6 314.3 89.1 314.8 89.6 313.9 90.1 313.8 90.6 314.5 91.1 314.6 91.6 314.4 92.1 314.0 92.6 314.1 93.1 313.8 93.6 313.5 94.1 313.5 94.6 313.5 95.1 312.7 95.6 313.4 96.1 313.0 96.6 314.0 97.1 313.7 97.6 313.6 98.1 313.0 98.6 313.2 99.1 313.0 99.6 312.6 100.1 314.1 100.6 313.0 101.1 313.4 101.6 312.9 102.1 313.2 102.6 313.1 103.1 313.6 103.6 314.0 104.1 313.9 104.6 313.5 105.1 314.1 105.6 312.3 106.1 313.2 106.6 313.3 107.1 314.3 107.6 313.4 108.1 313.4 108.6 313.9 109.1 313.9 109.6 313.4 110.1 314.0 110.6 313.1 111.1 312.8 111.6 312.9 112.1 312.4 112.6 313.2 113.1 312.5 113.6 313.0 114.1 312.4 114.6 312.5 115.1 313.0 115.6 312.9 116.1 313.2 116.6 313.0 117.1 313.4 117.6 313.7 118.1 312.3 118.6 313.4 119.1 312.8 119.6 313.0 120.1 313.4 120.6 313.0 121.1 313.8 121.6 313.3 122.1 313.7 122.6 314.4 123.1 314.4 123.6 313.7 124.1 313.3 124.6 314.3 125.1 312.6 125.6 313.7 126.1 313.0 126.6 314.2 127.1 312.9 127.6 313.0 128.1 314.0 128.6 313.3 129.1 313.3 129.6 313.5 130.1 313.7 130.6 312.9 131.1 313.6 131.6 313.8 132.1 314.1 132.6 314.2 133.1 314.1 133.6 313.7 134.1 313.4 134.6 314.8 135.1 313.2 135.6 313.7 136.1 313.3 136.6 313.1 137.1 313.7 137.6 313.3 138.1 313.6 138.6 313.1 139.1 312.6 139.6 313.6 140.1 312.6 140.6 311.8 141.1 312.4 141.6 311.7 142.1 312.7 142.6 311.9 143.1 312.0 143.6 312.2 144.1 311.4 144.6 309.5 145.1 310.6 145.6 310.4 146.1 310.7 146.6 310.6 147.1 310.3 147.6 310.0 148.1 309.4 148.6 309.6 149.1 310.5 149.6 308.7 150.1 308.9 150.6 309.4 151.1 308.4 151.6 309.5 152.1 307.6 152.6 308.0 153.1 307.1 153.6 307.3 154.1 306.4 154.6 306.4 155.1 305.0 155.6 304.3 156.1 302.7 156.6 303.0 157.1 301.3 157.6 302.0 158.1 300.4 158.6 299.3 159.1 298.5 159.6 297.9 160.1 297.3 160.6 296.8 161.1 296.6 161.6 296.1 162.1 294.3 162.6 294.1 163.1 294.6 163.6 294.3 164.1 295.3 164.6 296.2 165.1 296.3 165.6 295.6 166.1 297.8 166.6 297.8 167.1 299.2 167.6 300.0 168.1 299.9 168.6 300.5 169.1 301.6 169.6 300.4 170.1 301.7 170.6 301.2 171.1 301.7 171.6 300.8 172.1 300.6 172.6 299.3 173.1 297.3 173.6 297.6 174.1 297.4 174.6 294.7 175.1 294.0 175.6 291.8 176.1 291.6 176.6 290.4 177.1 288.9 177.6 287.6 178.1 285.9 178.6 284.4 179.1 284.5 179.6 282.7 180.1 281.1 180.6 279.9 181.1 279.4 181.6 278.2 182.1 277.2 182.6 276.4 183.1 275.4 183.6 276.2 184.1 273.9 184.6 272.8 185.1 273.6 185.6 273.7 186.1 274.0 186.6 274.0 187.1 275.1 187.6 275.0 188.1 276.7 188.6 276.9 189.1 276.7 189.6 277.1 190.1 278.2 190.6 278.3 191.1 279.4 191.6 280.3 192.1 281.2 192.6 281.5 193.1 283.1 193.6 283.3 194.1 284.2 194.6 284.5 195.1 285.9 195.6 287.0 196.1 287.8 196.6 287.8 197.1 289.2 197.6 291.5 198.1 291.4 198.6 292.4 199.1 294.4 199.6 295.2 200.1 295.3 200.6 296.1 201.1 298.9 201.6 299.8 202.1 301.7 202.6 301.7 203.1 303.3 203.6 304.1 204.1 305.6 204.6 306.6 205.1 306.7 205.6 307.4 206.1 307.7 206.6 309.1 207.1 310.6 207.6 310.0 208.1 310.3 208.6 309.8 209.1 311.2 209.6 311.6 210.1 312.7 210.6 313.1 211.1 313.9 211.6 313.2 212.1 313.9 212.6 314.4 213.1 314.3 213.6 314.8 214.1 315.3 214.6 315.1 215.1 315.1 215.6 315.3 216.1 315.4 216.6 315.4 217.1 314.7 217.6 314.6 218.1 314.2 218.6 316.3 219.1 315.7 219.6 315.6 220.1 314.7 220.6 315.6 221.1 315.8 221.6 315.5 222.1 314.8 222.6 314.9 223.1 315.2 223.6 314.8 224.1 315.3 224.6 315.8 225.1 315.9 225.6 315.3 226.1 315.8 226.6 315.2 227.1 315.1 227.6 314.7 228.1 315.0 228.6 315.5 229.1 314.6 229.6 315.5 230.1 315.0 230.6 315.6 231.1 314.8 231.6 314.7 232.1 316.0 232.6 314.9 233.1 315.8 233.6 315.3 234.1 315.6 234.6 314.8 235.1 314.7 235.6 315.4 236.1 314.9 236.6 314.9 237.1 315.5 237.6 314.7 238.1 316.0 238.6 315.2 239.1 315.4 239.6 314.9 240.1 315.2 240.6 314.3 241.1 315.2 241.6 315.4 242.1 314.2 242.6 314.9 243.1 314.4 243.6 315.0 244.1 314.1 244.6 313.9 245.1 313.6 245.6 313.7 246.1 313.4 246.6 314.3 247.1 314.1 247.6 314.4 248.1 313.9 248.6 314.5 249.1 314.4 249.6 314.2 250.1 314.8 250.6 314.4 251.1 314.3 251.6 314.5 252.1 314.3 252.6 313.7 253.1 313.9 253.6 313.1 254.1 314.2 254.6 313.2 255.1 313.8 255.6 313.0 256.1 313.1 256.6 313.7 257.1 313.3 257.6 314.0 258.1 313.8 258.6 313.8 259.1 313.2 259.6 313.7 260.1 313.7 260.6 313.4 261.1 313.1 261.6 313.3 262.1 313.0 262.6 313.6 263.1 313.9 263.6 312.8 264.1 312.5 264.6 312.9 265.1 312.3 265.6 312.6 266.1 312.9 266.6 312.3 267.1 312.5 267.6 310.9 268.1 310.5 268.6 310.1 269.1 310.0 269.6 309.4 270.1 309.4 270.6 308.9 271.1 308.6 271.6 308.6 272.1 307.9 272.6 307.5 273.1 308.7 273.6 306.6 274.1 306.5 274.6 306.4 275.1 306.1 275.6 305.7 276.1 305.2 276.6 305.8 277.1 305.6 277.6 304.8 278.1 305.3 278.6 304.7 279.1 304.5 279.6 304.2 280.1 304.2 280.6 304.4 281.1 303.6 281.6 304.6 282.1 304.7 282.6 303.8 283.1 303.0 283.6 303.2 284.1 303.1 284.6 303.1 285.1 303.1 285.6 302.7 286.1 302.0 286.6 302.0 287.1 302.4 287.6 302.2 288.1 301.7 288.6 301.8 289.1 300.6 289.6 300.3 290.1 300.6 290.6 299.7 291.1 299.9 291.6 300.1 292.1 299.6 292.6 298.4 293.1 298.1 293.6 298.3 294.1 296.9 294.6 296.9 295.1 296.6 295.6 296.7 296.1 296.6 296.6 296.8 297.1 296.7 297.6 296.4 298.1 295.3 298.6 295.7 299.1 295.2 299.6 294.9 300.1 293.8 300.6 294.3 301.1 293.0 301.6 292.5 302.1 292.7 302.6 291.7 303.1 291.5 303.6 289.8 304.1 290.7 304.6 289.3 305.1 289.7 305.6 289.5 306.1 289.4 306.6 288.6 307.1 287.6 307.6 287.4 308.1 287.3 308.6 285.7 309.1 286.1 309.6 286.1 310.1 284.3 310.6 285.5 311.1 284.3 311.6 283.3 312.1 283.7 312.6 282.9 313.1 281.6 313.6 280.8 314.1 280.2 314.6 279.7 315.1 278.5 315.6 278.4 316.1 276.5 316.6 276.4 317.1 275.2 317.6 274.1 318.1 272.5 318.6 271.0 319.1 270.3 319.6 269.2 320.1 268.2 320.6 267.2 321.1 265.4 321.6 264.3 322.1 262.1 322.6 261.4 323.1 258.9 323.6 257.7 324.1 255.5 324.6 254.1 325.1 252.0 325.6 250.9 326.1 248.4 326.6 246.8 327.1 245.7 327.6 244.4 328.1 242.4 328.6 240.5 329.1 239.1 329.6 238.2 330.1 235.8 330.6 235.0 331.1 233.2 331.6 232.5 332.1 231.6 332.6 232.1 333.1 230.9 333.6 229.5 334.1 229.0 334.6 229.7 335.1 229.9 335.6 230.4 336.1 232.0 336.6 232.9 337.1 232.2 337.6 233.8 338.1 235.2 338.6 235.8 339.1 237.2 339.6 239.9 340.1 242.3 340.6 244.1 341.1 245.6 341.6 248.5 342.1 250.0 342.6 251.1 343.1 252.3 343.6 253.3 344.1 253.8 344.6 256.6 345.1 257.4 345.6 258.2 346.1 259.3 346.6 260.6 347.1 261.6 347.6 262.3 348.1 263.4 348.6 264.1 349.1 264.2 349.6 264.6 350.1 265.8 350.6 266.0 351.1 266.4 351.6 266.8 352.1 267.2 352.6 266.7 353.1 267.0 353.6 267.1 354.1 267.5 354.6 266.8 355.1 267.6 355.6 267.4 356.1 266.7 356.6 267.1 357.1 266.9 357.6 266.4 358.1 265.9 358.6 266.0 359.1 265.3 359.6 264.4 360.1 265.9 360.6 264.4 361.1 264.1 361.6 264.4 362.1 263.5 362.6 263.5 363.1 262.7 363.6 262.7 364.1 263.1 364.6 262.0 365.1 261.1 365.6 260.6 366.1 260.3 366.6 259.8 367.1 258.9 367.6 258.2 368.1 257.3 368.6 256.5 369.1 256.8 369.6 256.1 370.1 255.2 370.6 255.5 371.1 254.1 371.6 252.8 372.1 251.2 372.6 250.6 373.1 249.3 373.6 247.6 374.1 246.9 374.6 245.3 375.1 243.0 375.6 242.1 376.1 239.1 376.6 238.1 377.1 236.0 377.6 234.3 378.1 232.7 378.6 231.7 379.1 228.9 379.6 226.7 380.1 225.9 380.6 223.8 381.1 221.6 381.6 219.7 382.1 218.6 382.6 219.9 383.1 222.2 383.6 222.3 384.1 223.7 384.6 224.6 385.1 224.8 385.6 226.0 386.1 228.5 386.6 231.7 387.1 235.0 387.6 237.1 388.1 240.5 388.6 245.4 389.1 247.3 389.6 250.2 390.1 254.5 390.6 257.8 391.1 261.7 391.6 265.5 392.1 268.6 392.6 271.7 393.1 274.9 393.6 277.1 394.1 280.2 394.6 283.2 395.1 285.4 395.6 287.4 396.1 288.8 396.6 290.5 397.1 291.3 397.6 293.8 398.1 293.8 398.6 295.7 399.1 297.3 399.6 298.8 400.1 298.8 400.6 301.3 401.1 301.5 401.6 303.1 402.1 303.0 402.6 303.7 403.1 304.6 403.6 305.1 404.1 305.7 404.6 305.9 405.1 307.0 405.6 308.0 406.1 307.3 406.6 306.8 407.1 307.8 407.6 309.1 408.1 309.0 408.6 309.3 409.1 309.0 409.6 309.6 410.1 309.6 410.6 310.6 411.1 310.6 411.6 310.9 412.1 310.9 412.6 311.2 413.1 311.8 413.6 311.1 414.1 311.9 414.6 312.0 415.1 312.4 415.6 312.1 416.1 312.1 416.6 312.5 417.1 311.3 417.6 311.3 418.1 311.3 418.6 313.1 419.1 312.2 419.6 312.3 420.1 312.0 420.6 312.9 421.1 311.9 421.6 312.6 422.1 312.8 422.6 312.0 423.1 312.0 423.6 311.7 424.1 312.1 424.6 312.1 425.1 312.0 425.6 312.3 426.1 312.3 426.6 312.6 427.1 312.9 427.6 311.3 428.1 312.0 428.6 311.5 429.1 312.8 429.6 312.7 430.1 311.3 430.6 312.1 431.1 312.5 431.6 312.3 432.1 312.6 432.6 312.6 433.1 313.3 433.6 312.8 434.1 311.9 434.6 313.6 435.1 313.3 435.6 311.9 436.1 312.7 436.6 312.6 437.1 311.9 437.6 312.3 438.1 312.3 438.6 313.5 439.1 312.6 439.6 312.2 440.1 312.5 440.6 311.5 441.1 311.6 441.6 312.5 442.1 311.9 442.6 311.7 443.1 311.5 443.6 313.0 444.1 311.9 444.6 311.9 445.1 312.2 445.6 311.3 446.1 312.5 446.6 312.2 447.1 312.3 447.6 312.7 448.1 312.1 448.6 312.1 449.1 312.7 449.6 312.1 450.1 312.9 450.6 311.9 451.1 311.7 451.6 312.3 452.1 312.4 452.6 312.7 453.1 311.8 453.6 311.4 454.1 312.4 454.6 311.9 455.1 311.1 455.6 312.1 456.1 312.2 456.6 311.9 457.1 311.7 457.6 311.7 458.1 311.9 458.6 313.3 459.1 312.7 459.6 312.5 460.1 312.1 460.6 312.0 461.1 311.7 461.6 311.9 462.1 312.2 462.6 312.4 463.1 311.1 463.6 311.8 464.1 312.1 464.6 311.2 465.1 312.5 465.6 311.2 466.1 311.1 466.6 312.2 467.1 312.2 467.6 312.4 468.1 311.7 468.6 312.4 469.1 312.4 469.6 311.9 470.1 313.4 470.6 312.8 471.1 311.9 471.6 311.0 472.1 312.2 472.6 313.1 473.1 311.4 473.6 312.7 474.1 311.7 474.6 311.3 475.1 312.0 475.6 313.1 476.1 312.7 476.6 312.2 477.1 312.6 477.6 312.9 478.1 311.9 478.6 313.0 479.1 313.2 479.6 312.7 480.1 312.1 480.6 312.7 481.1 312.7 481.6 313.2 482.1 313.1 482.6 312.6 483.1 312.9 483.6 312.5 484.1 312.7 484.6 312.8 485.1 313.0 485.6 311.5 486.1 311.7 486.6 312.3 487.1 313.1 487.6 311.8 488.1 312.6 488.6 311.8 489.1 312.5 489.6 312.2 490.1 312.0 490.6 312.0 491.1 311.9 491.6 311.9 492.1 311.9 492.6 310.6 493.1 312.3 493.6 312.0 494.1 312.2 494.6 311.9 495.1 311.6 495.6 312.0 496.1 311.8 496.6 312.7 497.1 311.9 497.6 311.7 498.1 311.6 498.6 312.3 499.1 312.4 499.6 312.5 500.1 312.1 500.6 312.6 501.1 311.7 501.6 311.9 502.1 311.8 502.6 311.4 503.1 310.9 503.6 310.7 504.1 311.3 504.6 311.9 505.1 311.2 505.6 312.5 506.1 312.0 506.6 312.2 507.1 311.9 507.6 312.1 508.1 312.7 508.6 312.8 509.1 312.7 509.6 312.9 510.1 313.1 510.6 312.9 511.1 311.8 511.6 312.6 512.1 312.1 512.6 312.9 513.1 311.9 513.6 311.8 514.1 311.5 514.6 311.7 515.1 311.9 515.6 311.6 516.1 312.7 516.6 312.8 517.1 312.7 517.6 312.8 518.1 311.9 518.6 312.3 519.1 311.4 519.6 311.4 520.1 311.8 520.6 312.7 521.1 312.1 521.6 311.6 522.1 311.6 522.6 311.3 523.1 310.7 523.6 311.7 524.1 311.5 524.6 311.5 525.1 312.5 525.6 312.3 526.1 312.6 526.6 312.4 527.1 312.3 527.6 312.2 528.1 312.1 528.6 311.5 529.1 311.9 529.6 311.6 530.1 312.6 530.6 311.7 531.1 311.7 531.6 311.4 532.1 311.9 532.6 311.6 533.1 311.5 533.6 311.1 534.1 311.4 534.6 311.2 535.1 311.5 535.6 312.3 536.1 312.1 536.6 312.5 537.1 311.2 537.6 312.9 538.1 312.1 538.6 311.9 539.1 312.9 539.6 312.2 540.1 312.8 540.6 311.9 541.1 311.9 541.6 311.8 542.1 312.4 542.6 311.7 543.1 311.8 543.6 310.7 544.1 312.5 544.6 311.7 545.1 311.5 545.6 311.7 546.1 311.0 546.6 312.2 547.1 311.4 547.6 312.3 548.1 311.8 548.6 311.4 549.1 311.7 549.6 311.9 550.1 312.2 550.6 312.4 551.1 311.4 551.6 313.3 552.1 310.7 552.6 311.5 553.1 311.4 553.6 311.8 554.1 311.8 554.6 310.8 555.1 312.0 555.6 311.2 556.1 311.5 556.6 310.6 557.1 311.8 557.6 311.1 558.1 311.0 558.6 311.7 559.1 311.9 559.6 311.6 560.1 312.1 560.6 311.9 561.1 312.7 561.6 311.8" fill="none" stroke="#3065a3" stroke-width="3.3" stroke-linejoin="round"/>
<path d="M83.6 362.4 84.1 362.3 84.6 362.1 85.1 361.4 85.6 361.7 86.1 362.1 86.6 361.5 87.1 362.4 87.6 362.4 88.1 361.9 88.6 361.6 89.1 361.3 89.6 362.9 90.1 362.6 90.6 362.2 91.1 362.9 91.6 361.8 92.1 362.5 92.6 362.1 93.1 361.7 93.6 363.7 94.1 362.4 94.6 363.3 95.1 363.9 95.6 363.8 96.1 363.6 96.6 363.9 97.1 363.5 97.6 364.4 98.1 363.7 98.6 363.9 99.1 363.8 99.6 364.4 100.1 363.6 100.6 364.5 101.1 364.7 101.6 363.9 102.1 363.9 102.6 364.6 103.1 365.0 103.6 363.3 104.1 364.2 104.6 364.5 105.1 363.9 105.6 363.7 106.1 364.3 106.6 363.8 107.1 364.4 107.6 364.1 108.1 364.2 108.6 364.2 109.1 363.9 109.6 363.9 110.1 364.5 110.6 363.9 111.1 364.3 111.6 363.5 112.1 364.9 112.6 364.0 113.1 363.3 113.6 363.5 114.1 364.2 114.6 364.8 115.1 364.2 115.6 364.7 116.1 364.3 116.6 364.3 117.1 363.8 117.6 364.4 118.1 363.3 118.6 363.3 119.1 365.1 119.6 363.5 120.1 363.8 120.6 363.5 121.1 364.0 121.6 363.9 122.1 363.6 122.6 363.5 123.1 363.3 123.6 362.9 124.1 363.0 124.6 363.0 125.1 362.7 125.6 362.8 126.1 362.4 126.6 362.3 127.1 362.2 127.6 362.1 128.1 362.2 128.6 361.5 129.1 360.9 129.6 361.3 130.1 361.3 130.6 360.5 131.1 362.0 131.6 360.9 132.1 361.3 132.6 360.3 133.1 360.2 133.6 360.0 134.1 360.0 134.6 359.9 135.1 358.4 135.6 358.2 136.1 359.1 136.6 359.1 137.1 357.9 137.6 357.8 138.1 358.8 138.6 357.3 139.1 358.1 139.6 357.1 140.1 358.2 140.6 357.1 141.1 356.7 141.6 357.1 142.1 357.4 142.6 356.8 143.1 357.3 143.6 356.5 144.1 356.7 144.6 356.2 145.1 356.0 145.6 356.1 146.1 355.9 146.6 354.6 147.1 354.9 147.6 353.5 148.1 354.2 148.6 355.1 149.1 354.7 149.6 354.0 150.1 355.0 150.6 353.4 151.1 353.7 151.6 353.2 152.1 353.8 152.6 351.8 153.1 351.0 153.6 350.6 154.1 350.0 154.6 349.7 155.1 348.7 155.6 347.7 156.1 346.4 156.6 345.4 157.1 343.5 157.6 342.8 158.1 341.6 158.6 339.6 159.1 338.9 159.6 337.4 160.1 335.8 160.6 335.4 161.1 334.2 161.6 333.4 162.1 331.7 162.6 331.4 163.1 331.7 163.6 334.0 164.1 333.8 164.6 334.2 165.1 335.4 165.6 336.9 166.1 337.1 166.6 338.5 167.1 339.7 167.6 340.0 168.1 341.3 168.6 341.5 169.1 342.1 169.6 341.6 170.1 342.0 170.6 341.1 171.1 342.3 171.6 340.5 172.1 339.9 172.6 338.3 173.1 337.7 173.6 335.8 174.1 334.8 174.6 332.7 175.1 330.9 175.6 329.1 176.1 326.4 176.6 325.2 177.1 322.2 177.6 319.5 178.1 318.2 178.6 316.5 179.1 314.7 179.6 312.6 180.1 311.4 180.6 309.2 181.1 308.6 181.6 306.9 182.1 305.3 182.6 304.2 183.1 305.0 183.6 303.0 184.1 300.2 184.6 298.8 185.1 299.0 185.6 300.7 186.1 301.1 186.6 302.9 187.1 303.4 187.6 304.0 188.1 305.7 188.6 306.4 189.1 306.7 189.6 307.8 190.1 309.0 190.6 310.2 191.1 311.5 191.6 312.1 192.1 314.6 192.6 315.6 193.1 317.1 193.6 317.9 194.1 320.3 194.6 321.5 195.1 323.5 195.6 325.0 196.1 328.2 196.6 328.2 197.1 330.2 197.6 332.6 198.1 334.8 198.6 336.7 199.1 338.7 199.6 340.7 200.1 341.5 200.6 343.1 201.1 344.6 201.6 347.6 202.1 348.1 202.6 350.6 203.1 351.7 203.6 352.5 204.1 352.7 204.6 355.7 205.1 355.2 205.6 356.1 206.1 357.0 206.6 359.0 207.1 357.4 207.6 358.3 208.1 359.3 208.6 359.6 209.1 359.5 209.6 359.7 210.1 359.1 210.6 359.9 211.1 360.1 211.6 360.2 212.1 360.1 212.6 360.9 213.1 361.3 213.6 360.5 214.1 361.2 214.6 361.0 215.1 361.4 215.6 361.1 216.1 361.8 216.6 360.8 217.1 361.1 217.6 361.7 218.1 361.4 218.6 361.3 219.1 361.4 219.6 362.4 220.1 361.7 220.6 361.3 221.1 361.3 221.6 361.7 222.1 362.1 222.6 362.0 223.1 362.5 223.6 361.2 224.1 361.6 224.6 360.7 225.1 361.6 225.6 361.5 226.1 361.6 226.6 361.9 227.1 362.5 227.6 361.4 228.1 361.7 228.6 361.0 229.1 360.9 229.6 361.0 230.1 361.4 230.6 360.9 231.1 361.9 231.6 360.6 232.1 361.0 232.6 361.4 233.1 361.0 233.6 362.3 234.1 362.1 234.6 361.2 235.1 361.4 235.6 361.1 236.1 360.9 236.6 361.9 237.1 360.9 237.6 362.7 238.1 362.3 238.6 361.7 239.1 361.6 239.6 361.5 240.1 361.9 240.6 361.9 241.1 361.6 241.6 362.0 242.1 363.1 242.6 362.4 243.1 362.1 243.6 362.8 244.1 361.6 244.6 361.2 245.1 361.5 245.6 360.6 246.1 361.7 246.6 360.8 247.1 360.5 247.6 361.0 248.1 361.0 248.6 361.3 249.1 361.1 249.6 361.2 250.1 361.2 250.6 361.6 251.1 360.5 251.6 361.5 252.1 361.4 252.6 360.9 253.1 362.1 253.6 361.1 254.1 360.7 254.6 361.0 255.1 360.6 255.6 361.2 256.1 360.5 256.6 361.1 257.1 360.6 257.6 360.8 258.1 361.5 258.6 361.8 259.1 361.3 259.6 361.1 260.1 361.0 260.6 360.9 261.1 361.3 261.6 360.8 262.1 361.7 262.6 361.3 263.1 361.5 263.6 362.0 264.1 361.8 264.6 361.1 265.1 360.8 265.6 361.9 266.1 360.8 266.6 360.4 267.1 360.1 267.6 359.7 268.1 359.4 268.6 358.9 269.1 359.4 269.6 359.2 270.1 358.6 270.6 358.2 271.1 357.8 271.6 357.3 272.1 357.7 272.6 356.7 273.1 356.7 273.6 356.4 274.1 356.4 274.6 354.8 275.1 354.7 275.6 354.9 276.1 354.0 276.6 354.6 277.1 353.3 277.6 353.9 278.1 352.4 278.6 352.5 279.1 352.3 279.6 351.4 280.1 352.6 280.6 351.4 281.1 351.9 281.6 352.0 282.1 351.7 282.6 351.7 283.1 351.1 283.6 350.5 284.1 349.7 284.6 350.1 285.1 349.9 285.6 350.0 286.1 348.4 286.6 348.7 287.1 350.1 287.6 349.0 288.1 349.9 288.6 349.7 289.1 349.9 289.6 350.0 290.1 349.3 290.6 349.1 291.1 349.4 291.6 349.3 292.1 348.9 292.6 348.6 293.1 348.8 293.6 348.7 294.1 348.9 294.6 348.1 295.1 348.6 295.6 346.7 296.1 348.2 296.6 347.1 297.1 347.9 297.6 346.7 298.1 347.2 298.6 346.3 299.1 346.4 299.6 345.5 300.1 346.0 300.6 344.9 301.1 345.2 301.6 344.1 302.1 343.9 302.6 343.8 303.1 342.8 303.6 342.3 304.1 343.2 304.6 341.3 305.1 341.6 305.6 341.6 306.1 340.8 306.6 339.6 307.1 339.3 307.6 338.6 308.1 337.5 308.6 337.9 309.1 336.7 309.6 336.5 310.1 336.0 310.6 335.7 311.1 333.7 311.6 334.8 312.1 333.5 312.6 332.2 313.1 332.6 313.6 331.1 314.1 329.5 314.6 328.2 315.1 328.6 315.6 327.5 316.1 326.6 316.6 324.9 317.1 324.6 317.6 323.2 318.1 322.3 318.6 319.4 319.1 319.5 319.6 317.1 320.1 316.1 320.6 315.1 321.1 313.1 321.6 311.5 322.1 309.8 322.6 308.5 323.1 307.0 323.6 304.2 324.1 303.0 324.6 300.7 325.1 299.4 325.6 297.7 326.1 295.4 326.6 293.9 327.1 292.8 327.6 290.3 328.1 288.3 328.6 287.3 329.1 284.3 329.6 283.6 330.1 281.7 330.6 280.0 331.1 278.5 331.6 277.4 332.1 274.9 332.6 275.2 333.1 272.4 333.6 271.4 334.1 269.9 334.6 268.0 335.1 267.4 335.6 268.5 336.1 270.5 336.6 271.3 337.1 273.2 337.6 274.4 338.1 276.9 338.6 277.4 339.1 278.6 339.6 280.2 340.1 282.4 340.6 284.7 341.1 286.9 341.6 289.4 342.1 291.0 342.6 292.3 343.1 294.9 343.6 298.4 344.1 300.3 344.6 302.1 345.1 304.1 345.6 305.0 346.1 308.2 346.6 308.5 347.1 311.3 347.6 311.9 348.1 312.9 348.6 313.7 349.1 315.4 349.6 316.1 350.1 316.5 350.6 316.2 351.1 317.5 351.6 317.7 352.1 318.5 352.6 319.9 353.1 319.5 353.6 320.0 354.1 320.9 354.6 320.7 355.1 321.3 355.6 321.0 356.1 321.6 356.6 321.4 357.1 321.7 357.6 321.6 358.1 322.3 358.6 321.6 359.1 321.7 359.6 323.2 360.1 321.0 360.6 321.7 361.1 321.3 361.6 320.7 362.1 319.7 362.6 319.5 363.1 319.8 363.6 319.8 364.1 318.1 364.6 319.2 365.1 318.8 365.6 318.5 366.1 317.6 366.6 316.9 367.1 317.2 367.6 316.4 368.1 317.0 368.6 315.8 369.1 315.2 369.6 313.7 370.1 314.1 370.6 313.5 371.1 311.7 371.6 311.3 372.1 309.7 372.6 309.3 373.1 306.9 373.6 307.1 374.1 305.6 374.6 304.1 375.1 302.8 375.6 299.7 376.1 298.4 376.6 295.3 377.1 294.8 377.6 291.9 378.1 288.8 378.6 287.5 379.1 285.1 379.6 284.3 380.1 281.8 380.6 280.1 381.1 277.1 381.6 275.0 382.1 272.3 382.6 270.0 383.1 270.4 383.6 272.0 384.1 273.8 384.6 275.8 385.1 277.0 385.6 278.3 386.1 280.4 386.6 282.2 387.1 284.1 387.6 286.7 388.1 289.3 388.6 291.6 389.1 293.9 389.6 297.9 390.1 300.3 390.6 303.3 391.1 306.6 391.6 308.1 392.1 311.3 392.6 314.6 393.1 317.1 393.6 319.5 394.1 321.8 394.6 323.6 395.1 326.1 395.6 328.6 396.1 330.0 396.6 333.3 397.1 334.8 397.6 336.7 398.1 339.0 398.6 340.4 399.1 343.1 399.6 344.2 400.1 345.6 400.6 347.8 401.1 348.5 401.6 350.4 402.1 351.6 402.6 351.1 403.1 351.4 403.6 353.1 404.1 354.9 404.6 354.0 405.1 355.4 405.6 355.8 406.1 355.9 406.6 356.1 407.1 356.6 407.6 357.3 408.1 357.9 408.6 358.1 409.1 358.0 409.6 357.8 410.1 358.1 410.6 357.8 411.1 357.8 411.6 359.0 412.1 359.1 412.6 358.8 413.1 358.8 413.6 359.0 414.1 359.2 414.6 360.4 415.1 359.5 415.6 360.5 416.1 358.5 416.6 359.5 417.1 359.9 417.6 360.3 418.1 360.0 418.6 359.6 419.1 359.9 419.6 360.2 420.1 360.4 420.6 360.6 421.1 360.4 421.6 360.3 422.1 359.8 422.6 359.9 423.1 360.6 423.6 359.0 424.1 360.0 424.6 359.8 425.1 359.2 425.6 360.1 426.1 359.5 426.6 359.6 427.1 360.7 427.6 359.7 428.1 359.9 428.6 359.7 429.1 359.6 429.6 360.1 430.1 359.6 430.6 359.3 431.1 360.0 431.6 359.5 432.1 360.5 432.6 359.7 433.1 360.2 433.6 360.3 434.1 360.9 434.6 361.1 435.1 361.4 435.6 361.1 436.1 360.9 436.6 359.6 437.1 360.1 437.6 361.2 438.1 360.2 438.6 359.7 439.1 360.0 439.6 360.1 440.1 359.6 440.6 360.2 441.1 359.3 441.6 359.0 442.1 360.1 442.6 360.9 443.1 360.3 443.6 360.6 444.1 360.4 444.6 359.9 445.1 359.6 445.6 360.0 446.1 360.2 446.6 359.5 447.1 359.4 447.6 359.6 448.1 360.3 448.6 359.6 449.1 359.6 449.6 358.9 450.1 360.0 450.6 360.3 451.1 360.1 451.6 360.4 452.1 359.4 452.6 359.9 453.1 360.4 453.6 360.6 454.1 360.6 454.6 359.8 455.1 360.6 455.6 360.3 456.1 360.2 456.6 360.2 457.1 360.4 457.6 359.7 458.1 359.4 458.6 359.9 459.1 360.2 459.6 359.9 460.1 359.3 460.6 359.8 461.1 360.3 461.6 359.5 462.1 361.2 462.6 359.7 463.1 360.2 463.6 359.0 464.1 360.3 464.6 359.9 465.1 359.3 465.6 358.9 466.1 359.5 466.6 359.1 467.1 359.0 467.6 360.1 468.1 360.6 468.6 360.2 469.1 360.0 469.6 359.7 470.1 360.6 470.6 360.3 471.1 361.1 471.6 360.3 472.1 359.3 472.6 360.9 473.1 358.2 473.6 359.9 474.1 360.2 474.6 359.8 475.1 359.0 475.6 360.2 476.1 359.2 476.6 359.0 477.1 359.5 477.6 359.9 478.1 359.9 478.6 359.1 479.1 359.9 479.6 359.4 480.1 360.2 480.6 360.0 481.1 360.5 481.6 360.4 482.1 359.9 482.6 360.4 483.1 360.5 483.6 359.6 484.1 360.5 484.6 359.5 485.1 359.7 485.6 359.6 486.1 360.0 486.6 360.3 487.1 360.2 487.6 359.9 488.1 359.3 488.6 360.1 489.1 359.6 489.6 360.6 490.1 359.8 490.6 360.1 491.1 360.0 491.6 359.8 492.1 360.7 492.6 360.0 493.1 359.8 493.6 360.6 494.1 359.9 494.6 360.1 495.1 360.0 495.6 359.5 496.1 360.0 496.6 359.6 497.1 359.1 497.6 359.5 498.1 359.2 498.6 360.9 499.1 359.5 499.6 359.8 500.1 360.9 500.6 360.3 501.1 360.9 501.6 360.4 502.1 360.3 502.6 360.2 503.1 359.4 503.6 359.8 504.1 359.6 504.6 360.2 505.1 358.5 505.6 359.1 506.1 359.8 506.6 360.2 507.1 359.3 507.6 359.5 508.1 359.6 508.6 360.3 509.1 359.9 509.6 360.0 510.1 360.2 510.6 360.2 511.1 360.0 511.6 360.0 512.1 360.4 512.6 359.3 513.1 359.5 513.6 359.2 514.1 360.1 514.6 359.7 515.1 359.6 515.6 360.3 516.1 359.3 516.6 359.9 517.1 360.5 517.6 359.2 518.1 358.9 518.6 359.5 519.1 359.9 519.6 359.2 520.1 359.7 520.6 359.2 521.1 359.1 521.6 360.7 522.1 359.7 522.6 359.7 523.1 359.4 523.6 359.9 524.1 359.8 524.6 359.7 525.1 359.7 525.6 359.0 526.1 359.7 526.6 360.5 527.1 359.5 527.6 359.3 528.1 360.3 528.6 359.3 529.1 359.7 529.6 359.8 530.1 359.8 530.6 359.6 531.1 360.0 531.6 359.6 532.1 359.3 532.6 360.4 533.1 359.7 533.6 359.5 534.1 359.5 534.6 359.2 535.1 359.5 535.6 359.0 536.1 359.5 536.6 359.8 537.1 359.3 537.6 359.5 538.1 359.6 538.6 358.8 539.1 359.8 539.6 360.3 540.1 359.5 540.6 359.8 541.1 359.9 541.6 359.5 542.1 359.4 542.6 358.9 543.1 359.5 543.6 358.8 544.1 358.7 544.6 359.4 545.1 358.9 545.6 359.5 546.1 358.8 546.6 359.6 547.1 359.6 547.6 359.1 548.1 358.7 548.6 359.3 549.1 359.3 549.6 359.3 550.1 360.6 550.6 360.5 551.1 359.8 551.6 358.6 552.1 359.9 552.6 360.5 553.1 360.7 553.6 359.5 554.1 359.8 554.6 359.3 555.1 360.0 555.6 358.1 556.1 360.0 556.6 359.0 557.1 359.5 557.6 359.9 558.1 359.5 558.6 360.3 559.1 358.9 559.6 359.7 560.1 359.3 560.6 359.3 561.1 359.6 561.6 359.7" fill="none" stroke="#7b12f2" stroke-width="3.3" stroke-linejoin="round"/>
<path d="M83.6 409.0 84.1 408.7 84.6 409.5 85.1 408.1 85.6 409.5 86.1 408.9 86.6 408.8 87.1 408.4 87.6 407.8 88.1 408.4 88.6 407.7 89.1 408.8 89.6 408.4 90.1 408.0 90.6 408.6 91.1 408.4 91.6 408.5 92.1 408.5 92.6 408.7 93.1 409.0 93.6 408.3 94.1 408.9 94.6 408.3 95.1 408.8 95.6 409.2 96.1 408.6 96.6 410.0 97.1 409.5 97.6 409.3 98.1 409.2 98.6 408.5 99.1 409.8 99.6 408.4 100.1 409.3 100.6 409.4 101.1 409.7 101.6 409.8 102.1 408.4 102.6 409.3 103.1 409.8 103.6 408.7 104.1 408.5 104.6 408.9 105.1 409.6 105.6 410.2 106.1 409.1 106.6 409.4 107.1 409.4 107.6 409.2 108.1 409.9 108.6 409.7 109.1 409.4 109.6 408.1 110.1 409.0 110.6 408.9 111.1 409.4 111.6 409.4 112.1 409.1 112.6 409.0 113.1 409.2 113.6 409.5 114.1 410.7 114.6 409.0 115.1 409.3 115.6 409.6 116.1 409.2 116.6 409.8 117.1 409.8 117.6 409.8 118.1 410.9 118.6 409.6 119.1 410.2 119.6 409.8 120.1 410.2 120.6 409.0 121.1 410.3 121.6 409.5 122.1 409.5 122.6 410.5 123.1 409.3 123.6 408.4 124.1 409.6 124.6 410.6 125.1 408.9 125.6 409.9 126.1 409.5 126.6 409.4 127.1 410.1 127.6 409.6 128.1 409.6 128.6 408.9 129.1 410.2 129.6 409.4 130.1 408.4 130.6 409.9 131.1 410.1 131.6 408.9 132.1 409.8 132.6 408.8 133.1 408.8 133.6 409.0 134.1 409.7 134.6 408.1 135.1 409.0 135.6 409.2 136.1 409.3 136.6 409.3 137.1 408.7 137.6 408.4 138.1 408.2 138.6 408.1 139.1 408.9 139.6 408.0 140.1 408.5 140.6 407.6 141.1 408.7 141.6 407.2 142.1 407.0 142.6 407.8 143.1 408.0 143.6 406.4 144.1 405.3 144.6 405.7 145.1 406.6 145.6 406.4 146.1 405.2 146.6 405.0 147.1 404.7 147.6 405.0 148.1 404.6 148.6 404.6 149.1 403.4 149.6 403.4 150.1 403.9 150.6 402.8 151.1 402.3 151.6 402.0 152.1 401.8 152.6 401.1 153.1 400.6 153.6 399.7 154.1 399.6 154.6 398.4 155.1 398.5 155.6 397.6 156.1 396.9 156.6 394.9 157.1 393.2 157.6 392.3 158.1 390.2 158.6 390.5 159.1 389.3 159.6 387.4 160.1 385.6 160.6 385.2 161.1 384.5 161.6 383.4 162.1 381.7 162.6 380.5 163.1 380.2 163.6 378.7 164.1 380.0 164.6 381.4 165.1 382.2 165.6 382.8 166.1 384.7 166.6 385.1 167.1 386.0 167.6 387.3 168.1 388.7 168.6 388.5 169.1 388.9 169.6 388.9 170.1 390.0 170.6 389.2 171.1 388.7 171.6 388.5 172.1 387.2 172.6 386.3 173.1 385.7 173.6 384.1 174.1 382.7 174.6 381.6 175.1 380.8 175.6 378.0 176.1 376.4 176.6 374.5 177.1 371.9 177.6 371.3 178.1 369.4 178.6 367.6 179.1 365.8 179.6 363.6 180.1 362.7 180.6 359.8 181.1 359.4 181.6 358.0 182.1 357.5 182.6 355.4 183.1 353.9 183.6 353.1 184.1 351.8 184.6 350.4 185.1 348.6 185.6 347.0 186.1 346.7 186.6 349.1 187.1 350.1 187.6 351.5 188.1 352.6 188.6 353.9 189.1 354.2 189.6 356.6 190.1 357.1 190.6 358.9 191.1 359.3 191.6 360.0 192.1 361.1 192.6 363.5 193.1 365.1 193.6 365.5 194.1 367.8 194.6 369.3 195.1 370.6 195.6 371.6 196.1 373.4 196.6 376.6 197.1 377.4 197.6 379.5 198.1 381.2 198.6 382.9 199.1 385.9 199.6 386.8 200.1 388.1 200.6 390.6 201.1 392.0 201.6 393.3 202.1 395.5 202.6 397.4 203.1 398.2 203.6 399.2 204.1 401.6 204.6 402.5 205.1 403.8 205.6 405.1 206.1 405.5 206.6 406.5 207.1 407.3 207.6 407.7 208.1 407.1 208.6 408.0 209.1 407.3 209.6 408.4 210.1 406.9 210.6 408.1 211.1 408.0 211.6 408.6 212.1 408.0 212.6 408.4 213.1 408.8 213.6 409.1 214.1 408.2 214.6 409.0 215.1 408.1 215.6 408.7 216.1 408.3 216.6 409.0 217.1 408.2 217.6 408.3 218.1 408.8 218.6 409.4 219.1 408.6 219.6 408.8 220.1 408.4 220.6 408.7 221.1 409.2 221.6 408.9 222.1 409.0 222.6 408.8 223.1 409.0 223.6 408.5 224.1 408.9 224.6 408.9 225.1 407.9 225.6 408.2 226.1 408.8 226.6 407.9 227.1 408.9 227.6 408.4 228.1 407.7 228.6 407.9 229.1 408.5 229.6 408.9 230.1 409.1 230.6 409.7 231.1 408.6 231.6 407.8 232.1 408.3 232.6 408.6 233.1 407.8 233.6 408.7 234.1 408.1 234.6 408.3 235.1 408.0 235.6 408.7 236.1 408.6 236.6 407.9 237.1 408.0 237.6 408.9 238.1 408.3 238.6 407.8 239.1 407.9 239.6 408.3 240.1 408.1 240.6 407.8 241.1 407.3 241.6 409.2 242.1 408.0 242.6 408.3 243.1 408.1 243.6 408.9 244.1 408.5 244.6 408.8 245.1 409.0 245.6 408.7 246.1 408.3 246.6 408.5 247.1 409.3 247.6 408.8 248.1 408.4 248.6 408.2 249.1 408.0 249.6 407.0 250.1 407.8 250.6 408.1 251.1 407.7 251.6 406.9 252.1 408.2 252.6 409.8 253.1 408.3 253.6 409.3 254.1 408.5 254.6 408.2 255.1 408.3 255.6 408.4 256.1 409.3 256.6 408.3 257.1 408.7 257.6 408.0 258.1 408.3 258.6 409.2 259.1 408.1 259.6 408.6 260.1 407.6 260.6 408.2 261.1 408.6 261.6 407.6 262.1 407.7 262.6 407.9 263.1 407.1 263.6 408.8 264.1 408.2 264.6 407.2 265.1 406.7 265.6 407.1 266.1 407.5 266.6 407.8 267.1 407.5 267.6 407.4 268.1 406.8 268.6 406.4 269.1 407.0 269.6 407.1 270.1 407.5 270.6 406.0 271.1 405.8 271.6 405.1 272.1 405.0 272.6 403.9 273.1 404.7 273.6 404.4 274.1 403.8 274.6 403.1 275.1 403.2 275.6 403.6 276.1 403.0 276.6 403.0 277.1 401.5 277.6 401.3 278.1 401.6 278.6 401.0 279.1 401.2 279.6 400.5 280.1 399.7 280.6 399.8 281.1 399.4 281.6 399.9 282.1 399.0 282.6 398.4 283.1 398.1 283.6 398.1 284.1 397.3 284.6 397.8 285.1 398.2 285.6 397.5 286.1 397.0 286.6 396.7 287.1 396.2 287.6 396.3 288.1 396.3 288.6 395.4 289.1 394.9 289.6 395.8 290.1 394.8 290.6 394.4 291.1 393.7 291.6 393.1 292.1 392.3 292.6 393.1 293.1 393.5 293.6 393.4 294.1 392.9 294.6 392.8 295.1 392.7 295.6 391.6 296.1 391.7 296.6 391.5 297.1 392.1 297.6 391.3 298.1 391.6 298.6 390.9 299.1 391.3 299.6 390.3 300.1 390.8 300.6 389.0 301.1 390.2 301.6 389.7 302.1 389.5 302.6 387.4 303.1 388.2 303.6 388.7 304.1 387.3 304.6 386.9 305.1 386.5 305.6 385.7 306.1 387.2 306.6 386.4 307.1 385.9 307.6 385.3 308.1 384.8 308.6 384.2 309.1 384.5 309.6 382.7 310.1 381.9 310.6 381.9 311.1 379.8 311.6 379.9 312.1 379.9 312.6 378.4 313.1 377.5 313.6 376.0 314.1 375.9 314.6 375.1 315.1 374.3 315.6 373.8 316.1 372.1 316.6 371.3 317.1 370.0 317.6 369.1 318.1 368.0 318.6 367.2 319.1 366.0 319.6 364.3 320.1 363.1 320.6 361.6 321.1 360.4 321.6 359.8 322.1 358.0 322.6 356.4 323.1 354.3 323.6 352.7 324.1 351.3 324.6 349.2 325.1 346.8 325.6 344.4 326.1 343.2 326.6 342.0 327.1 339.6 327.6 336.6 328.1 334.6 328.6 332.8 329.1 330.5 329.6 328.0 330.1 326.8 330.6 324.5 331.1 321.9 331.6 320.6 332.1 318.9 332.6 317.6 333.1 315.3 333.6 315.7 334.1 316.5 334.6 316.7 335.1 318.5 335.6 319.6 336.1 320.1 336.6 320.9 337.1 321.2 337.6 322.2 338.1 323.6 338.6 325.4 339.1 326.9 339.6 329.1 340.1 331.2 340.6 332.5 341.1 335.1 341.6 337.2 342.1 338.0 342.6 341.1 343.1 343.1 343.6 345.7 344.1 347.2 344.6 349.5 345.1 351.5 345.6 352.2 346.1 354.2 346.6 356.1 347.1 357.6 347.6 358.4 348.1 359.4 348.6 361.3 349.1 361.9 349.6 362.4 350.1 364.1 350.6 364.5 351.1 364.1 351.6 365.0 352.1 365.7 352.6 365.7 353.1 366.9 353.6 366.1 354.1 366.6 354.6 368.3 355.1 368.4 355.6 368.1 356.1 367.7 356.6 369.0 357.1 368.6 357.6 370.0 358.1 368.9 358.6 369.1 359.1 369.4 359.6 368.9 360.1 369.8 360.6 369.3 361.1 369.2 361.6 368.0 362.1 368.7 362.6 368.2 363.1 367.8 363.6 367.3 364.1 367.8 364.6 366.9 365.1 366.8 365.6 365.4 366.1 365.9 366.6 365.8 367.1 365.4 367.6 364.7 368.1 364.3 368.6 363.4 369.1 363.7 369.6 362.0 370.1 361.3 370.6 361.9 371.1 360.9 371.6 360.3 372.1 359.4 372.6 358.0 373.1 356.3 373.6 357.1 374.1 355.4 374.6 354.0 375.1 352.5 375.6 351.2 376.1 349.6 376.6 348.1 377.1 346.8 377.6 344.8 378.1 343.6 378.6 341.2 379.1 339.8 379.6 338.1 380.1 336.9 380.6 333.7 381.1 331.9 381.6 329.7 382.1 328.3 382.6 325.5 383.1 323.3 383.6 320.8 384.1 321.2 384.6 323.0 385.1 324.5 385.6 326.8 386.1 328.0 386.6 330.2 387.1 330.7 387.6 332.5 388.1 335.0 388.6 337.4 389.1 340.2 389.6 342.8 390.1 345.9 390.6 350.0 391.1 352.5 391.6 356.2 392.1 358.6 392.6 361.5 393.1 364.2 393.6 367.3 394.1 371.0 394.6 373.4 395.1 376.0 395.6 379.3 396.1 380.1 396.6 382.9 397.1 384.3 397.6 385.9 398.1 387.4 398.6 389.3 399.1 389.3 399.6 392.0 400.1 392.3 400.6 393.8 401.1 394.5 401.6 394.7 402.1 395.8 402.6 396.9 403.1 397.7 403.6 398.7 404.1 399.0 404.6 399.8 405.1 399.0 405.6 400.7 406.1 401.3 406.6 400.8 407.1 401.4 407.6 402.4 408.1 401.6 408.6 402.6 409.1 403.5 409.6 403.1 410.1 404.0 410.6 403.8 411.1 403.6 411.6 404.4 412.1 403.6 412.6 403.9 413.1 404.7 413.6 406.2 414.1 405.8 414.6 404.9 415.1 405.9 415.6 406.0 416.1 406.6 416.6 405.2 417.1 406.8 417.6 404.4 418.1 405.8 418.6 406.9 419.1 404.6 419.6 405.8 420.1 406.2 420.6 406.1 421.1 406.1 421.6 406.8 422.1 406.1 422.6 407.4 423.1 406.7 423.6 407.8 424.1 406.1 424.6 405.8 425.1 406.5 425.6 406.1 426.1 406.6 426.6 406.2 427.1 405.9 427.6 406.2 428.1 406.2 428.6 405.8 429.1 406.6 429.6 406.4 430.1 406.7 430.6 407.6 431.1 406.0 431.6 406.8 432.1 407.2 432.6 406.5 433.1 406.7 433.6 406.8 434.1 406.9 434.6 406.1 435.1 406.3 435.6 407.4 436.1 406.3 436.6 406.8 437.1 406.9 437.6 407.4 438.1 407.1 438.6 407.1 439.1 406.1 439.6 406.9 440.1 406.6 440.6 407.1 441.1 405.9 441.6 406.5 442.1 407.1 442.6 406.5 443.1 406.9 443.6 406.6 444.1 407.6 444.6 407.3 445.1 406.9 445.6 408.3 446.1 407.6 446.6 407.3 447.1 407.1 447.6 408.5 448.1 407.4 448.6 407.7 449.1 407.7 449.6 406.6 450.1 407.0 450.6 407.4 451.1 407.9 451.6 406.8 452.1 408.0 452.6 407.0 453.1 408.2 453.6 408.0 454.1 406.7 454.6 406.9 455.1 407.7 455.6 408.8 456.1 406.6 456.6 407.2 457.1 407.5 457.6 407.2 458.1 406.9 458.6 406.6 459.1 406.9 459.6 407.5 460.1 408.2 460.6 406.7 461.1 407.4 461.6 407.1 462.1 408.6 462.6 407.6 463.1 407.2 463.6 406.5 464.1 407.3 464.6 406.7 465.1 407.4 465.6 408.2 466.1 407.2 466.6 408.0 467.1 407.7 467.6 407.9 468.1 408.5 468.6 407.6 469.1 408.1 469.6 408.0 470.1 407.9 470.6 408.5 471.1 407.8 471.6 408.1 472.1 407.8 472.6 408.4 473.1 408.3 473.6 407.9 474.1 407.4 474.6 407.7 475.1 407.6 475.6 407.9 476.1 407.7 476.6 407.3 477.1 407.4 477.6 407.4 478.1 407.6 478.6 407.6 479.1 408.4 479.6 407.5 480.1 407.6 480.6 408.1 481.1 408.1 481.6 407.1 482.1 408.1 482.6 408.0 483.1 407.6 483.6 407.7 484.1 408.0 484.6 408.3 485.1 407.7 485.6 407.8 486.1 408.4 486.6 408.0 487.1 408.1 487.6 408.8 488.1 409.4 488.6 408.4 489.1 408.4 489.6 407.7 490.1 409.5 490.6 408.1 491.1 408.2 491.6 407.5 492.1 408.2 492.6 408.8 493.1 408.6 493.6 407.6 494.1 409.1 494.6 408.2 495.1 408.0 495.6 407.7 496.1 407.5 496.6 407.9 497.1 407.8 497.6 407.4 498.1 408.0 498.6 408.0 499.1 408.2 499.6 408.2 500.1 408.1 500.6 407.2 501.1 407.0 501.6 407.4 502.1 408.1 502.6 408.4 503.1 407.4 503.6 408.6 504.1 408.3 504.6 408.5 505.1 407.6 505.6 406.9 506.1 408.1 506.6 408.8 507.1 408.8 507.6 408.4 508.1 408.6 508.6 408.0 509.1 408.1 509.6 408.4 510.1 408.3 510.6 408.2 511.1 408.1 511.6 408.8 512.1 409.5 512.6 408.0 513.1 409.3 513.6 409.5 514.1 408.5 514.6 408.6 515.1 407.9 515.6 408.8 516.1 408.8 516.6 409.0 517.1 408.1 517.6 408.1 518.1 407.7 518.6 409.0 519.1 408.2 519.6 409.3 520.1 408.7 520.6 408.7 521.1 408.8 521.6 409.3 522.1 408.9 522.6 408.8 523.1 408.3 523.6 408.2 524.1 408.3 524.6 407.7 525.1 408.4 525.6 408.3 526.1 407.9 526.6 408.1 527.1 408.0 527.6 408.1 528.1 408.0 528.6 408.7 529.1 408.5 529.6 408.9 530.1 408.7 530.6 409.6 531.1 408.5 531.6 407.1 532.1 408.0 532.6 408.7 533.1 408.6 533.6 408.2 534.1 408.2 534.6 409.1 535.1 409.1 535.6 408.5 536.1 407.6 536.6 408.0 537.1 408.6 537.6 408.8 538.1 408.2 538.6 407.9 539.1 408.1 539.6 408.6 540.1 407.3 540.6 408.9 541.1 409.4 541.6 407.0 542.1 407.5 542.6 408.5 543.1 408.4 543.6 408.5 544.1 407.5 544.6 409.2 545.1 408.0 545.6 408.9 546.1 408.5 546.6 408.4 547.1 409.3 547.6 408.9 548.1 408.5 548.6 408.3 549.1 408.9 549.6 408.5 550.1 408.4 550.6 408.8 551.1 407.0 551.6 408.7 552.1 408.9 552.6 408.6 553.1 408.4 553.6 408.7 554.1 407.5 554.6 408.4 555.1 407.7 555.6 408.3 556.1 408.6 556.6 408.5 557.1 408.5 557.6 408.4 558.1 408.0 558.6 407.7 559.1 407.8 559.6 407.6 560.1 408.6 560.6 407.3 561.1 409.1 561.6 407.7" fill="none" stroke="#008000" stroke-width="3.3" stroke-linejoin="round"/>
<path d="M83.6 457.5 84.1 457.0 84.6 459.2 85.1 458.3 85.6 458.3 86.1 457.8 86.6 458.1 87.1 458.2 87.6 458.2 88.1 457.7 88.6 458.5 89.1 458.4 89.6 458.1 90.1 458.0 90.6 458.1 91.1 457.8 91.6 458.6 92.1 458.6 92.6 459.4 93.1 458.2 93.6 459.1 94.1 458.7 94.6 458.4 95.1 459.3 95.6 458.8 96.1 459.3 96.6 459.4 97.1 459.0 97.6 458.5 98.1 458.9 98.6 459.3 99.1 458.5 99.6 459.2 100.1 458.9 100.6 458.5 101.1 458.4 101.6 458.2 102.1 458.5 102.6 459.2 103.1 457.9 103.6 458.7 104.1 459.2 104.6 458.9 105.1 459.7 105.6 458.9 106.1 459.6 106.6 459.8 107.1 459.5 107.6 458.9 108.1 460.4 108.6 459.4 109.1 459.6 109.6 458.9 110.1 458.9 110.6 459.9 111.1 459.1 111.6 460.1 112.1 460.6 112.6 458.9 113.1 459.5 113.6 460.4 114.1 459.7 114.6 460.6 115.1 459.8 115.6 458.7 116.1 458.1 116.6 459.5 117.1 460.2 117.6 459.2 118.1 460.2 118.6 458.6 119.1 459.8 119.6 459.5 120.1 459.8 120.6 459.7 121.1 459.5 121.6 459.7 122.1 458.9 122.6 460.0 123.1 458.7 123.6 459.5 124.1 458.4 124.6 458.0 125.1 458.9 125.6 458.6 126.1 458.2 126.6 459.2 127.1 457.7 127.6 458.5 128.1 458.0 128.6 458.7 129.1 457.1 129.6 457.3 130.1 456.7 130.6 456.3 131.1 455.6 131.6 456.0 132.1 455.8 132.6 455.3 133.1 455.5 133.6 454.3 134.1 456.1 134.6 455.7 135.1 455.5 135.6 455.5 136.1 454.6 136.6 454.1 137.1 453.9 137.6 453.7 138.1 453.9 138.6 454.3 139.1 453.2 139.6 454.1 140.1 453.3 140.6 454.1 141.1 452.6 141.6 452.3 142.1 451.9 142.6 450.6 143.1 452.0 143.6 451.6 144.1 451.0 144.6 451.0 145.1 451.0 145.6 449.7 146.1 450.2 146.6 450.1 147.1 450.2 147.6 450.3 148.1 449.2 148.6 448.4 149.1 448.4 149.6 447.9 150.1 447.7 150.6 446.5 151.1 446.3 151.6 445.9 152.1 445.2 152.6 445.3 153.1 445.6 153.6 443.9 154.1 442.9 154.6 442.6 155.1 442.8 155.6 441.7 156.1 441.4 156.6 440.2 157.1 439.8 157.6 438.1 158.1 438.4 158.6 437.2 159.1 436.5 159.6 436.3 160.1 433.4 160.6 434.7 161.1 434.5 161.6 432.3 162.1 431.4 162.6 431.3 163.1 432.3 163.6 432.5 164.1 432.3 164.6 433.3 165.1 433.5 165.6 434.6 166.1 435.0 166.6 435.1 167.1 436.8 167.6 437.0 168.1 437.8 168.6 437.1 169.1 439.3 169.6 440.0 170.1 439.4 170.6 439.1 171.1 438.7 171.6 440.0 172.1 439.0 172.6 439.0 173.1 437.8 173.6 435.8 174.1 435.3 174.6 433.7 175.1 431.6 175.6 430.6 176.1 428.1 176.6 427.1 177.1 423.5 177.6 422.8 178.1 420.6 178.6 418.9 179.1 417.2 179.6 415.0 180.1 412.9 180.6 410.7 181.1 410.1 181.6 407.9 182.1 406.7 182.6 405.0 183.1 403.9 183.6 402.2 184.1 402.6 184.6 399.9 185.1 398.0 185.6 396.4 186.1 396.4 186.6 397.2 187.1 399.1 187.6 399.8 188.1 401.1 188.6 402.5 189.1 402.8 189.6 403.9 190.1 405.1 190.6 406.5 191.1 406.6 191.6 408.1 192.1 408.9 192.6 409.8 193.1 410.0 193.6 412.2 194.1 412.9 194.6 414.7 195.1 416.1 195.6 417.7 196.1 419.0 196.6 421.9 197.1 423.0 197.6 425.5 198.1 426.5 198.6 426.9 199.1 430.2 199.6 431.8 200.1 433.9 200.6 434.5 201.1 435.4 201.6 438.5 202.1 439.6 202.6 441.6 203.1 443.2 203.6 445.1 204.1 447.9 204.6 448.2 205.1 448.9 205.6 452.4 206.1 451.9 206.6 452.8 207.1 454.6 207.6 455.0 208.1 454.4 208.6 456.5 209.1 456.6 209.6 456.8 210.1 455.6 210.6 457.0 211.1 456.0 211.6 457.1 212.1 457.4 212.6 457.7 213.1 456.8 213.6 458.2 214.1 457.3 214.6 457.4 215.1 457.1 215.6 457.9 216.1 458.1 216.6 457.9 217.1 457.6 217.6 458.8 218.1 458.3 218.6 458.7 219.1 458.6 219.6 458.5 220.1 458.1 220.6 458.1 221.1 458.1 221.6 457.1 222.1 458.3 222.6 459.1 223.1 458.8 223.6 458.1 224.1 459.1 224.6 458.5 225.1 459.4 225.6 458.7 226.1 458.3 226.6 458.7 227.1 458.4 227.6 458.8 228.1 457.9 228.6 458.8 229.1 458.1 229.6 457.4 230.1 457.8 230.6 457.6 231.1 458.2 231.6 457.8 232.1 457.6 232.6 457.9 233.1 457.7 233.6 458.0 234.1 457.2 234.6 458.1 235.1 456.4 235.6 456.7 236.1 457.4 236.6 457.7 237.1 458.3 237.6 457.4 238.1 457.2 238.6 457.3 239.1 457.0 239.6 456.6 240.1 456.1 240.6 456.4 241.1 456.7 241.6 455.6 242.1 456.4 242.6 456.9 243.1 456.3 243.6 456.1 244.1 455.9 244.6 456.1 245.1 456.5 245.6 456.9 246.1 456.5 246.6 456.7 247.1 456.8 247.6 456.1 248.1 455.7 248.6 456.6 249.1 456.1 249.6 456.4 250.1 455.2 250.6 455.3 251.1 455.5 251.6 455.0 252.1 454.6 252.6 454.8 253.1 454.6 253.6 455.1 254.1 453.9 254.6 455.2 255.1 455.1 255.6 453.6 256.1 454.4 256.6 454.5 257.1 453.6 257.6 454.2 258.1 454.2 258.6 453.7 259.1 454.4 259.6 453.9 260.1 453.0 260.6 453.2 261.1 454.2 261.6 454.2 262.1 453.5 262.6 454.0 263.1 452.4 263.6 454.0 264.1 453.9 264.6 452.8 265.1 452.5 265.6 452.1 266.1 454.1 266.6 452.3 267.1 451.9 267.6 451.4 268.1 451.2 268.6 451.0 269.1 451.6 269.6 451.3 270.1 450.2 270.6 450.5 271.1 449.8 271.6 450.2 272.1 448.3 272.6 450.7 273.1 449.6 273.6 448.7 274.1 449.5 274.6 448.8 275.1 448.4 275.6 449.2 276.1 448.3 276.6 448.4 277.1 448.5 277.6 448.0 278.1 447.3 278.6 447.2 279.1 446.5 279.6 447.4 280.1 445.8 280.6 447.1 281.1 447.0 281.6 446.7 282.1 445.8 282.6 445.1 283.1 445.4 283.6 445.7 284.1 445.0 284.6 444.9 285.1 443.8 285.6 443.7 286.1 443.8 286.6 442.3 287.1 442.8 287.6 442.3 288.1 442.0 288.6 443.1 289.1 443.0 289.6 442.5 290.1 441.9 290.6 441.4 291.1 441.7 291.6 441.2 292.1 442.0 292.6 440.7 293.1 441.1 293.6 442.2 294.1 440.6 294.6 441.4 295.1 440.8 295.6 439.1 296.1 440.9 296.6 440.4 297.1 439.3 297.6 439.9 298.1 439.9 298.6 438.9 299.1 439.1 299.6 438.2 300.1 439.1 300.6 438.0 301.1 438.0 301.6 437.0 302.1 437.2 302.6 438.0 303.1 437.4 303.6 436.4 304.1 435.6 304.6 435.3 305.1 436.4 305.6 435.1 306.1 435.1 306.6 435.6 307.1 433.5 307.6 433.3 308.1 433.6 308.6 432.2 309.1 432.3 309.6 431.7 310.1 430.0 310.6 429.1 311.1 429.0 311.6 427.7 312.1 426.5 312.6 426.1 313.1 425.1 313.6 422.7 314.1 423.9 314.6 422.2 315.1 420.2 315.6 420.2 316.1 418.5 316.6 416.4 317.1 417.1 317.6 416.4 318.1 415.7 318.6 413.1 319.1 413.1 319.6 411.4 320.1 410.5 320.6 408.9 321.1 407.8 321.6 405.5 322.1 405.4 322.6 403.0 323.1 402.1 323.6 400.2 324.1 399.2 324.6 397.5 325.1 395.1 325.6 392.7 326.1 391.1 326.6 389.5 327.1 388.0 327.6 385.3 328.1 383.1 328.6 381.3 329.1 377.8 329.6 376.8 330.1 375.3 330.6 373.0 331.1 370.9 331.6 369.4 332.1 366.3 332.6 365.5 333.1 363.5 333.6 359.9 334.1 361.6 334.6 361.4 335.1 363.0 335.6 364.3 336.1 364.7 336.6 365.8 337.1 366.9 337.6 367.6 338.1 369.1 338.6 369.6 339.1 373.2 339.6 375.0 340.1 377.4 340.6 380.7 341.1 382.9 341.6 385.2 342.1 388.0 342.6 392.0 343.1 393.8 343.6 395.6 344.1 397.9 344.6 400.5 345.1 402.2 345.6 404.6 346.1 405.6 346.6 408.3 347.1 409.5 347.6 409.5 348.1 409.6 348.6 410.5 349.1 411.7 349.6 413.8 350.1 413.5 350.6 414.5 351.1 415.1 351.6 415.1 352.1 415.7 352.6 416.8 353.1 415.6 353.6 416.8 354.1 417.3 354.6 417.5 355.1 417.1 355.6 416.7 356.1 417.8 356.6 417.7 357.1 416.0 357.6 416.0 358.1 417.1 358.6 417.8 359.1 416.1 359.6 417.2 360.1 416.9 360.6 416.8 361.1 415.6 361.6 415.1 362.1 414.2 362.6 414.7 363.1 414.7 363.6 413.9 364.1 413.9 364.6 413.4 365.1 413.4 365.6 412.1 366.1 411.7 366.6 411.4 367.1 410.4 367.6 409.2 368.1 410.4 368.6 409.4 369.1 409.9 369.6 408.5 370.1 407.2 370.6 408.1 371.1 407.1 371.6 405.7 372.1 405.8 372.6 404.2 373.1 402.8 373.6 401.0 374.1 399.1 374.6 398.9 375.1 397.2 375.6 396.4 376.1 394.5 376.6 393.3 377.1 391.1 377.6 389.2 378.1 387.1 378.6 385.0 379.1 382.2 379.6 379.3 380.1 378.1 380.6 375.6 381.1 373.9 381.6 371.3 382.1 370.3 382.6 368.1 383.1 368.2 383.6 369.3 384.1 370.1 384.6 371.6 385.1 373.0 385.6 374.5 386.1 373.4 386.6 375.7 387.1 376.9 387.6 378.1 388.1 381.2 388.6 384.2 389.1 387.2 389.6 389.1 390.1 392.5 390.6 396.2 391.1 397.9 391.6 401.3 392.1 404.1 392.6 407.5 393.1 407.7 393.6 410.9 394.1 413.0 394.6 416.1 395.1 418.7 395.6 421.6 396.1 423.9 396.6 424.9 397.1 428.0 397.6 430.6 398.1 432.1 398.6 435.3 399.1 436.7 399.6 439.2 400.1 439.5 400.6 441.5 401.1 442.3 401.6 443.6 402.1 444.2 402.6 444.8 403.1 445.2 403.6 446.9 404.1 446.7 404.6 448.2 405.1 448.1 405.6 448.1 406.1 449.9 406.6 449.8 407.1 450.0 407.6 450.8 408.1 450.2 408.6 451.0 409.1 451.9 409.6 451.6 410.1 452.6 410.6 451.8 411.1 452.3 411.6 453.7 412.1 452.0 412.6 454.1 413.1 454.9 413.6 453.4 414.1 455.3 414.6 454.0 415.1 455.3 415.6 454.3 416.1 454.2 416.6 453.1 417.1 454.6 417.6 453.6 418.1 455.1 418.6 454.2 419.1 454.7 419.6 455.5 420.1 454.7 420.6 455.1 421.1 455.5 421.6 456.0 422.1 456.0 422.6 455.1 423.1 455.0 423.6 454.9 424.1 455.4 424.6 455.0 425.1 454.8 425.6 454.8 426.1 455.0 426.6 454.4 427.1 454.4 427.6 455.0 428.1 454.9 428.6 454.0 429.1 455.3 429.6 454.1 430.1 454.4 430.6 455.1 431.1 454.6 431.6 454.4 432.1 455.6 432.6 454.9 433.1 454.9 433.6 455.0 434.1 455.5 434.6 455.4 435.1 455.1 435.6 454.5 436.1 454.6 436.6 454.5 437.1 454.8 437.6 454.0 438.1 454.9 438.6 454.9 439.1 455.3 439.6 453.9 440.1 455.0 440.6 455.1 441.1 454.6 441.6 454.6 442.1 454.8 442.6 454.9 443.1 456.0 443.6 454.8 444.1 455.2 444.6 455.2 445.1 455.5 445.6 455.0 446.1 456.3 446.6 454.5 447.1 454.9 447.6 455.0 448.1 455.2 448.6 455.4 449.1 455.2 449.6 455.0 450.1 454.7 450.6 455.0 451.1 454.6 451.6 455.5 452.1 454.9 452.6 453.9 453.1 454.7 453.6 454.9 454.1 454.9 454.6 455.3 455.1 454.6 455.6 456.1 456.1 454.5 456.6 454.7 457.1 455.0 457.6 455.0 458.1 455.1 458.6 455.9 459.1 455.1 459.6 456.4 460.1 455.4 460.6 455.2 461.1 456.1 461.6 455.4 462.1 455.5 462.6 455.9 463.1 455.5 463.6 455.3 464.1 456.2 464.6 454.8 465.1 455.9 465.6 455.0 466.1 456.6 466.6 455.6 467.1 456.3 467.6 456.1 468.1 455.6 468.6 455.4 469.1 456.0 469.6 455.6 470.1 455.5 470.6 455.0 471.1 455.4 471.6 454.7 472.1 455.8 472.6 455.2 473.1 455.6 473.6 455.1 474.1 455.7 474.6 455.6 475.1 455.4 475.6 456.4 476.1 456.1 476.6 454.8 477.1 455.2 477.6 455.5 478.1 455.9 478.6 454.7 479.1 454.6 479.6 454.5 480.1 454.6 480.6 454.6 481.1 454.6 481.6 455.1 482.1 454.7 482.6 454.9 483.1 455.1 483.6 455.1 484.1 456.2 484.6 454.1 485.1 455.7 485.6 455.8 486.1 455.7 486.6 456.0 487.1 454.9 487.6 454.8 488.1 455.1 488.6 455.2 489.1 455.7 489.6 455.3 490.1 455.5 490.6 455.7 491.1 456.3 491.6 455.3 492.1 455.4 492.6 455.7 493.1 455.5 493.6 455.7 494.1 455.3 494.6 455.2 495.1 455.7 495.6 455.8 496.1 456.3 496.6 454.9 497.1 455.7 497.6 455.3 498.1 455.0 498.6 455.4 499.1 455.2 499.6 457.3 500.1 455.4 500.6 456.0 501.1 455.9 501.6 456.2 502.1 456.0 502.6 455.2 503.1 456.5 503.6 455.6 504.1 455.7 504.6 454.7 505.1 454.6 505.6 455.4 506.1 455.5 506.6 456.0 507.1 455.8 507.6 455.5 508.1 455.7 508.6 455.4 509.1 454.6 509.6 454.6 510.1 455.7 510.6 454.9 511.1 455.4 511.6 455.1 512.1 455.4 512.6 455.2 513.1 456.1 513.6 455.8 514.1 455.4 514.6 455.2 515.1 454.4 515.6 454.2 516.1 455.8 516.6 455.5 517.1 454.0 517.6 454.0 518.1 453.3 518.6 454.9 519.1 454.1 519.6 455.0 520.1 454.8 520.6 454.7 521.1 455.3 521.6 455.1 522.1 454.6 522.6 455.4 523.1 453.9 523.6 455.5 524.1 456.7 524.6 456.5 525.1 455.9 525.6 456.5 526.1 457.0 526.6 456.2 527.1 454.3 527.6 455.7 528.1 455.5 528.6 455.6 529.1 455.3 529.6 455.9 530.1 456.2 530.6 456.7 531.1 455.4 531.6 456.3 532.1 455.0 532.6 455.5 533.1 455.4 533.6 455.2 534.1 453.9 534.6 456.7 535.1 455.9 535.6 456.1 536.1 455.0 536.6 456.1 537.1 455.7 537.6 455.3 538.1 455.7 538.6 454.9 539.1 456.8 539.6 454.5 540.1 456.5 540.6 454.7 541.1 456.1 541.6 455.6 542.1 457.0 542.6 456.1 543.1 456.6 543.6 455.7 544.1 455.1 544.6 455.6 545.1 456.0 545.6 455.2 546.1 455.0 546.6 456.1 547.1 456.1 547.6 454.9 548.1 455.3 548.6 455.2 549.1 456.6 549.6 454.9 550.1 455.2 550.6 455.1 551.1 453.8 551.6 455.5 552.1 455.2 552.6 454.6 553.1 455.8 553.6 455.5 554.1 454.5 554.6 454.1 555.1 454.8 555.6 455.4 556.1 454.7 556.6 456.0 557.1 455.4 557.6 456.1 558.1 455.0 558.6 455.0 559.1 455.9 559.6 455.5 560.1 456.0 560.6 454.9 561.1 456.1 561.6 456.1" fill="none" stroke="#000000" stroke-width="3.3" stroke-linejoin="round"/>
</g>
<rect x="83.6" y="0" width="478.4" height="475" fill="none" stroke="#000" stroke-width="3.4"/>
<line x1="113.5" y1="475" x2="113.5" y2="465" stroke="#000" stroke-width="3" stroke-linecap="round"/>
<line x1="113.5" y1="0" x2="113.5" y2="10" stroke="#000" stroke-width="3" stroke-linecap="round"/>
<line x1="163.3" y1="475" x2="163.3" y2="456" stroke="#000" stroke-width="3" stroke-linecap="round"/>
<line x1="163.3" y1="0" x2="163.3" y2="19" stroke="#000" stroke-width="3" stroke-linecap="round"/>
<line x1="213.2" y1="475" x2="213.2" y2="465" stroke="#000" stroke-width="3" stroke-linecap="round"/>
<line x1="213.2" y1="0" x2="213.2" y2="10" stroke="#000" stroke-width="3" stroke-linecap="round"/>
<line x1="263.0" y1="475" x2="263.0" y2="456" stroke="#000" stroke-width="3" stroke-linecap="round"/>
<line x1="263.0" y1="0" x2="263.0" y2="19" stroke="#000" stroke-width="3" stroke-linecap="round"/>
<line x1="312.8" y1="475" x2="312.8" y2="465" stroke="#000" stroke-width="3" stroke-linecap="round"/>
<line x1="312.8" y1="0" x2="312.8" y2="10" stroke="#000" stroke-width="3" stroke-linecap="round"/>
<line x1="362.7" y1="475" x2="362.7" y2="456" stroke="#000" stroke-width="3" stroke-linecap="round"/>
<line x1="362.7" y1="0" x2="362.7" y2="19" stroke="#000" stroke-width="3" stroke-linecap="round"/>
<line x1="412.5" y1="475" x2="412.5" y2="465" stroke="#000" stroke-width="3" stroke-linecap="round"/>
<line x1="412.5" y1="0" x2="412.5" y2="10" stroke="#000" stroke-width="3" stroke-linecap="round"/>
<line x1="462.3" y1="475" x2="462.3" y2="456" stroke="#000" stroke-width="3" stroke-linecap="round"/>
<line x1="462.3" y1="0" x2="462.3" y2="19" stroke="#000" stroke-width="3" stroke-linecap="round"/>
<line x1="512.2" y1="475" x2="512.2" y2="465" stroke="#000" stroke-width="3" stroke-linecap="round"/>
<line x1="512.2" y1="0" x2="512.2" y2="10" stroke="#000" stroke-width="3" stroke-linecap="round"/>
<clipPath id="cb"><rect x="756" y="1.5" width="478.5" height="476.5"/></clipPath>
<g clip-path="url(#cb)">
<path d="M756.0 117.5 756.5 117.5 757.0 117.2 757.5 117.7 758.0 117.1 758.5 118.5 759.0 117.2 759.5 117.4 760.0 117.5 760.5 116.9 761.0 117.2 761.5 117.4 762.0 118.4 762.5 118.5 763.0 118.2 763.5 118.6 764.0 118.1 764.5 118.2 765.0 118.7 765.5 118.2 766.0 118.7 766.5 119.0 767.0 118.8 767.5 118.5 768.0 119.2 768.5 119.0 769.0 118.1 769.5 118.9 770.0 119.0 770.5 119.1 771.0 118.7 771.5 118.5 772.0 119.4 772.5 118.1 773.0 119.0 773.5 119.4 774.0 119.9 774.5 119.0 775.0 120.2 775.5 119.2 776.0 119.5 776.5 120.4 777.0 120.0 777.5 120.2 778.0 120.1 778.5 120.2 779.0 120.4 779.5 120.8 780.0 119.9 780.5 120.5 781.0 121.3 781.5 120.7 782.0 121.8 782.5 121.9 783.0 122.2 783.5 121.1 784.0 121.9 784.5 121.5 785.0 121.7 785.5 121.8 786.0 122.1 786.5 122.0 787.0 122.6 787.5 122.1 788.0 122.3 788.5 122.9 789.0 122.8 789.5 122.8 790.0 121.9 790.5 122.8 791.0 122.3 791.5 122.1 792.0 122.5 792.5 122.1 793.0 121.8 793.5 121.6 794.0 121.5 794.5 121.7 795.0 121.8 795.5 121.5 796.0 120.7 796.5 121.2 797.0 120.2 797.5 121.2 798.0 119.5 798.5 119.8 799.0 120.3 799.5 120.1 800.0 119.0 800.5 119.5 801.0 118.5 801.5 118.3 802.0 118.1 802.5 117.6 803.0 118.0 803.5 117.3 804.0 116.7 804.5 116.3 805.0 115.8 805.5 115.1 806.0 114.0 806.5 113.9 807.0 113.6 807.5 112.3 808.0 111.4 808.5 110.5 809.0 110.3 809.5 108.5 810.0 108.4 810.5 107.3 811.0 106.4 811.5 104.9 812.0 103.2 812.5 102.2 813.0 100.2 813.5 98.9 814.0 97.4 814.5 96.3 815.0 94.5 815.5 92.7 816.0 89.9 816.5 89.2 817.0 88.1 817.5 86.3 818.0 85.7 818.5 84.3 819.0 84.2 819.5 83.4 820.0 82.5 820.5 81.4 821.0 82.4 821.5 83.6 822.0 84.7 822.5 85.6 823.0 87.7 823.5 88.4 824.0 88.6 824.5 89.5 825.0 87.4 825.5 86.3 826.0 84.9 826.5 82.9 827.0 81.0 827.5 79.6 828.0 77.3 828.5 76.0 829.0 74.3 829.5 73.2 830.0 70.9 830.5 73.1 831.0 74.1 831.5 76.7 832.0 77.4 832.5 79.1 833.0 81.6 833.5 83.8 834.0 85.4 834.5 88.0 835.0 88.9 835.5 91.8 836.0 92.7 836.5 94.5 837.0 96.0 837.5 97.2 838.0 97.5 838.5 98.0 839.0 98.3 839.5 97.6 840.0 98.1 840.5 98.1 841.0 97.3 841.5 96.8 842.0 96.0 842.5 95.4 843.0 94.3 843.5 93.4 844.0 91.7 844.5 90.1 845.0 88.9 845.5 86.5 846.0 85.3 846.5 83.0 847.0 80.2 847.5 76.5 848.0 72.6 848.5 68.7 849.0 64.1 849.5 59.7 850.0 54.8 850.5 49.7 851.0 46.2 851.5 41.9 852.0 36.8 852.5 32.9 853.0 27.8 853.5 23.9 854.0 20.9 854.5 24.7 855.0 28.1 855.5 30.5 856.0 35.1 856.5 38.6 857.0 41.8 857.5 44.9 858.0 49.1 858.5 53.0 859.0 56.4 859.5 60.8 860.0 65.9 860.5 70.0 861.0 75.0 861.5 77.7 862.0 82.7 862.5 84.3 863.0 87.9 863.5 89.4 864.0 93.2 864.5 93.9 865.0 96.3 865.5 97.3 866.0 98.5 866.5 100.2 867.0 101.2 867.5 101.9 868.0 103.7 868.5 104.5 869.0 105.8 869.5 105.9 870.0 106.8 870.5 107.4 871.0 107.5 871.5 109.3 872.0 109.1 872.5 109.3 873.0 110.3 873.5 110.7 874.0 110.5 874.5 111.6 875.0 111.7 875.5 112.5 876.0 113.4 876.5 113.8 877.0 114.0 877.5 114.4 878.0 115.1 878.5 115.9 879.0 115.6 879.5 116.0 880.0 116.3 880.5 116.1 881.0 116.1 881.5 116.2 882.0 116.8 882.5 117.1 883.0 118.0 883.5 118.3 884.0 118.6 884.5 117.3 885.0 117.2 885.5 117.0 886.0 118.8 886.5 117.2 887.0 118.1 887.5 117.5 888.0 118.6 888.5 117.6 889.0 117.9 889.5 117.2 890.0 117.8 890.5 117.6 891.0 117.1 891.5 117.8 892.0 117.5 892.5 117.7 893.0 116.8 893.5 117.3 894.0 118.3 894.5 118.0 895.0 117.0 895.5 117.1 896.0 117.9 896.5 117.7 897.0 118.0 897.5 117.4 898.0 117.8 898.5 117.8 899.0 117.9 899.5 117.1 900.0 116.9 900.5 117.3 901.0 117.5 901.5 117.7 902.0 118.4 902.5 117.8 903.0 117.9 903.5 117.9 904.0 117.8 904.5 117.0 905.0 117.5 905.5 116.8 906.0 117.3 906.5 117.2 907.0 117.9 907.5 116.7 908.0 118.0 908.5 118.1 909.0 117.8 909.5 117.9 910.0 118.6 910.5 117.9 911.0 118.0 911.5 118.4 912.0 118.6 912.5 118.3 913.0 118.3 913.5 117.7 914.0 117.4 914.5 117.8 915.0 118.6 915.5 117.7 916.0 117.9 916.5 117.5 917.0 118.5 917.5 117.6 918.0 118.5 918.5 118.1 919.0 117.7 919.5 117.9 920.0 117.4 920.5 118.1 921.0 117.5 921.5 117.5 922.0 117.3 922.5 118.1 923.0 117.6 923.5 117.3 924.0 116.9 924.5 117.8 925.0 117.1 925.5 117.9 926.0 118.3 926.5 117.2 927.0 117.5 927.5 117.6 928.0 117.1 928.5 116.8 929.0 118.0 929.5 117.8 930.0 117.1 930.5 117.6 931.0 117.4 931.5 116.4 932.0 117.8 932.5 117.2 933.0 117.6 933.5 117.6 934.0 117.7 934.5 117.5 935.0 117.4 935.5 116.9 936.0 117.2 936.5 117.5 937.0 116.6 937.5 116.5 938.0 117.1 938.5 117.1 939.0 116.8 939.5 116.6 940.0 116.5 940.5 116.7 941.0 117.0 941.5 116.4 942.0 116.3 942.5 115.8 943.0 115.8 943.5 116.2 944.0 116.6 944.5 115.4 945.0 115.7 945.5 116.5 946.0 116.0 946.5 116.2 947.0 116.2 947.5 116.1 948.0 115.8 948.5 116.0 949.0 116.0 949.5 115.1 950.0 116.1 950.5 115.8 951.0 115.5 951.5 115.3 952.0 115.4 952.5 116.0 953.0 115.4 953.5 115.4 954.0 116.1 954.5 116.2 955.0 115.0 955.5 115.6 956.0 115.7 956.5 115.6 957.0 115.8 957.5 115.8 958.0 115.6 958.5 115.6 959.0 114.8 959.5 115.4 960.0 115.3 960.5 115.5 961.0 115.6 961.5 115.2 962.0 115.3 962.5 114.9 963.0 115.2 963.5 114.8 964.0 114.9 964.5 114.4 965.0 114.4 965.5 114.6 966.0 114.3 966.5 114.7 967.0 114.2 967.5 114.8 968.0 114.5 968.5 114.8 969.0 115.2 969.5 114.7 970.0 114.7 970.5 113.8 971.0 114.2 971.5 114.3 972.0 113.8 972.5 113.8 973.0 113.7 973.5 113.5 974.0 113.1 974.5 113.1 975.0 113.2 975.5 113.4 976.0 113.7 976.5 113.1 977.0 112.6 977.5 113.2 978.0 112.9 978.5 112.7 979.0 112.0 979.5 112.3 980.0 112.5 980.5 112.2 981.0 112.5 981.5 113.4 982.0 112.9 982.5 112.4 983.0 112.6 983.5 112.7 984.0 112.6 984.5 112.4 985.0 111.9 985.5 112.0 986.0 113.0 986.5 111.4 987.0 111.9 987.5 111.9 988.0 112.0 988.5 112.3 989.0 111.4 989.5 111.8 990.0 112.0 990.5 111.3 991.0 112.8 991.5 112.6 992.0 112.6 992.5 112.6 993.0 113.0 993.5 112.1 994.0 112.9 994.5 112.3 995.0 112.0 995.5 111.8 996.0 112.7 996.5 112.0 997.0 112.8 997.5 113.0 998.0 112.3 998.5 112.4 999.0 112.6 999.5 112.4 1000.0 111.9 1000.5 112.7 1001.0 112.7 1001.5 113.0 1002.0 113.2 1002.5 113.2 1003.0 113.4 1003.5 113.1 1004.0 113.5 1004.5 113.0 1005.0 113.6 1005.5 113.3 1006.0 112.5 1006.5 113.6 1007.0 112.8 1007.5 113.5 1008.0 113.1 1008.5 112.6 1009.0 113.4 1009.5 114.0 1010.0 113.5 1010.5 113.6 1011.0 113.9 1011.5 113.7 1012.0 114.7 1012.5 114.6 1013.0 114.4 1013.5 115.4 1014.0 115.0 1014.5 115.1 1015.0 115.1 1015.5 115.9 1016.0 115.8 1016.5 116.7 1017.0 116.8 1017.5 116.6 1018.0 117.0 1018.5 117.7 1019.0 117.5 1019.5 116.8 1020.0 117.2 1020.5 117.3 1021.0 117.5 1021.5 117.5 1022.0 117.3 1022.5 118.2 1023.0 117.7 1023.5 117.0 1024.0 117.1 1024.5 117.3 1025.0 117.5 1025.5 117.0 1026.0 117.8 1026.5 116.6 1027.0 117.3 1027.5 117.1 1028.0 117.4 1028.5 117.2 1029.0 117.4 1029.5 117.0 1030.0 116.7 1030.5 116.9 1031.0 116.3 1031.5 117.5 1032.0 116.7 1032.5 117.6 1033.0 116.4 1033.5 117.0 1034.0 117.0 1034.5 116.7 1035.0 116.0 1035.5 116.3 1036.0 115.8 1036.5 116.0 1037.0 116.7 1037.5 116.2 1038.0 116.7 1038.5 116.0 1039.0 116.6 1039.5 115.8 1040.0 116.4 1040.5 115.8 1041.0 115.9 1041.5 116.2 1042.0 115.3 1042.5 115.5 1043.0 115.6 1043.5 114.9 1044.0 114.5 1044.5 114.9 1045.0 115.2 1045.5 114.9 1046.0 115.4 1046.5 115.1 1047.0 115.0 1047.5 114.5 1048.0 114.9 1048.5 115.3 1049.0 115.3 1049.5 115.2 1050.0 114.9 1050.5 114.6 1051.0 114.1 1051.5 114.9 1052.0 114.5 1052.5 114.8 1053.0 115.8 1053.5 115.1 1054.0 114.4 1054.5 115.1 1055.0 115.9 1055.5 115.2 1056.0 115.1 1056.5 115.9 1057.0 116.7 1057.5 115.4 1058.0 116.1 1058.5 115.5 1059.0 116.4 1059.5 116.4 1060.0 116.1 1060.5 116.4 1061.0 115.8 1061.5 116.6 1062.0 116.3 1062.5 116.2 1063.0 116.1 1063.5 116.2 1064.0 116.9 1064.5 116.7 1065.0 116.7 1065.5 117.6 1066.0 117.2 1066.5 117.9 1067.0 117.7 1067.5 118.4 1068.0 118.3 1068.5 118.2 1069.0 118.5 1069.5 118.1 1070.0 118.3 1070.5 118.1 1071.0 118.9 1071.5 117.9 1072.0 118.1 1072.5 119.0 1073.0 117.8 1073.5 118.6 1074.0 119.0 1074.5 118.4 1075.0 118.5 1075.5 118.0 1076.0 118.7 1076.5 118.3 1077.0 118.9 1077.5 119.0 1078.0 119.6 1078.5 118.6 1079.0 119.3 1079.5 119.1 1080.0 119.5 1080.5 118.6 1081.0 118.8 1081.5 118.6 1082.0 118.4 1082.5 118.8 1083.0 118.5 1083.5 118.5 1084.0 118.3 1084.5 117.9 1085.0 117.7 1085.5 118.2 1086.0 117.3 1086.5 118.3 1087.0 118.1 1087.5 117.6 1088.0 118.2 1088.5 117.6 1089.0 119.2 1089.5 117.7 1090.0 118.9 1090.5 117.8 1091.0 117.9 1091.5 118.3 1092.0 118.3 1092.5 117.5 1093.0 118.3 1093.5 118.8 1094.0 118.2 1094.5 118.1 1095.0 118.4 1095.5 118.0 1096.0 118.7 1096.5 118.1 1097.0 118.4 1097.5 118.2 1098.0 118.3 1098.5 119.2 1099.0 118.4 1099.5 118.4 1100.0 117.9 1100.5 117.9 1101.0 118.4 1101.5 118.3 1102.0 118.3 1102.5 117.8 1103.0 117.9 1103.5 117.8 1104.0 118.3 1104.5 117.9 1105.0 117.8 1105.5 118.3 1106.0 118.6 1106.5 117.9 1107.0 118.8 1107.5 118.5 1108.0 118.3 1108.5 118.4 1109.0 118.3 1109.5 118.4 1110.0 117.7 1110.5 117.7 1111.0 117.7 1111.5 117.7 1112.0 117.1 1112.5 117.9 1113.0 117.2 1113.5 118.2 1114.0 118.3 1114.5 117.8 1115.0 117.1 1115.5 117.7 1116.0 117.3 1116.5 117.4 1117.0 117.4 1117.5 117.6 1118.0 117.4 1118.5 118.2 1119.0 118.3 1119.5 118.2 1120.0 118.0 1120.5 118.8 1121.0 117.6 1121.5 118.2 1122.0 118.2 1122.5 117.8 1123.0 117.8 1123.5 117.9 1124.0 117.7 1124.5 118.1 1125.0 118.4 1125.5 117.6 1126.0 117.9 1126.5 117.6 1127.0 117.9 1127.5 118.6 1128.0 117.9 1128.5 118.6 1129.0 117.7 1129.5 118.4 1130.0 118.9 1130.5 118.4 1131.0 118.7 1131.5 118.7 1132.0 118.6 1132.5 118.3 1133.0 118.2 1133.5 117.8 1134.0 118.2 1134.5 117.7 1135.0 118.0 1135.5 118.6 1136.0 117.9 1136.5 118.1 1137.0 117.7 1137.5 117.7 1138.0 117.8 1138.5 118.1 1139.0 117.7 1139.5 117.9 1140.0 117.1 1140.5 117.5 1141.0 117.2 1141.5 117.1 1142.0 117.3 1142.5 118.3 1143.0 118.5 1143.5 118.3 1144.0 118.2 1144.5 118.8 1145.0 117.9 1145.5 117.6 1146.0 118.3 1146.5 117.4 1147.0 118.6 1147.5 118.0 1148.0 117.9 1148.5 117.7 1149.0 117.5 1149.5 117.5 1150.0 118.4 1150.5 117.6 1151.0 118.5 1151.5 117.7 1152.0 117.0 1152.5 117.5 1153.0 117.1 1153.5 117.7 1154.0 117.9 1154.5 116.9 1155.0 117.0 1155.5 117.2 1156.0 117.3 1156.5 117.1 1157.0 117.2 1157.5 116.9 1158.0 117.5 1158.5 117.9 1159.0 117.2 1159.5 117.5 1160.0 118.6 1160.5 117.4 1161.0 117.2 1161.5 116.6 1162.0 116.9 1162.5 117.7 1163.0 118.0 1163.5 117.2 1164.0 118.4 1164.5 117.7 1165.0 117.4 1165.5 117.8 1166.0 117.5 1166.5 117.3 1167.0 118.3 1167.5 117.1 1168.0 117.2 1168.5 117.7 1169.0 117.1 1169.5 117.3 1170.0 117.0 1170.5 117.5 1171.0 117.8 1171.5 116.6 1172.0 116.7 1172.5 116.8 1173.0 116.9 1173.5 116.8 1174.0 117.6 1174.5 117.7 1175.0 117.6 1175.5 117.2 1176.0 117.5 1176.5 118.0 1177.0 117.9 1177.5 117.1 1178.0 117.7 1178.5 116.9 1179.0 117.3 1179.5 117.5 1180.0 117.0 1180.5 117.2 1181.0 118.2 1181.5 117.4 1182.0 117.6 1182.5 117.3 1183.0 117.6 1183.5 117.1 1184.0 117.6 1184.5 116.4 1185.0 117.4 1185.5 116.7 1186.0 116.8 1186.5 117.1 1187.0 117.7 1187.5 117.4 1188.0 117.5 1188.5 118.4 1189.0 117.5 1189.5 117.1 1190.0 117.5 1190.5 117.5 1191.0 117.4 1191.5 117.7 1192.0 117.6 1192.5 116.8 1193.0 117.5 1193.5 117.5 1194.0 118.2 1194.5 117.6 1195.0 118.0 1195.5 117.1 1196.0 117.4 1196.5 117.4 1197.0 116.8 1197.5 117.5 1198.0 117.4 1198.5 117.4 1199.0 117.0 1199.5 118.6 1200.0 118.0 1200.5 117.7 1201.0 118.5 1201.5 117.5 1202.0 117.9 1202.5 117.7 1203.0 117.9 1203.5 117.8 1204.0 117.8 1204.5 117.7 1205.0 118.0 1205.5 117.3 1206.0 117.3 1206.5 117.9 1207.0 117.8 1207.5 117.9 1208.0 117.8 1208.5 118.2 1209.0 117.6 1209.5 117.3 1210.0 117.3 1210.5 117.2 1211.0 117.5 1211.5 116.7 1212.0 117.7 1212.5 117.7 1213.0 117.5 1213.5 117.0 1214.0 117.4 1214.5 117.5 1215.0 116.9 1215.5 117.4 1216.0 117.0 1216.5 117.6 1217.0 117.3 1217.5 117.5 1218.0 117.1 1218.5 117.6 1219.0 117.6 1219.5 117.7 1220.0 117.8 1220.5 117.9 1221.0 117.9 1221.5 118.2 1222.0 117.5 1222.5 117.9 1223.0 116.9 1223.5 118.1 1224.0 117.0 1224.5 116.8 1225.0 116.2 1225.5 117.8 1226.0 117.4 1226.5 118.2 1227.0 117.2 1227.5 117.6 1228.0 117.6 1228.5 117.6 1229.0 116.6 1229.5 117.3 1230.0 116.8 1230.5 117.7 1231.0 117.2 1231.5 117.5 1232.0 116.8 1232.5 118.3 1233.0 116.8 1233.5 117.0 1234.0 117.8 1234.5 116.9" fill="none" stroke="#7c7c7c" stroke-width="3.3" stroke-linejoin="round"/>
<path d="M756.0 217.0 756.5 216.1 757.0 216.0 757.5 216.0 758.0 214.2 758.5 213.9 759.0 213.9 759.5 213.9 760.0 212.7 760.5 213.1 761.0 213.4 761.5 212.4 762.0 211.8 762.5 212.1 763.0 211.8 763.5 211.3 764.0 212.0 764.5 211.8 765.0 210.9 765.5 211.2 766.0 210.7 766.5 212.1 767.0 212.2 767.5 211.0 768.0 211.3 768.5 211.2 769.0 211.3 769.5 212.2 770.0 212.6 770.5 211.6 771.0 212.8 771.5 213.2 772.0 212.9 772.5 214.4 773.0 214.1 773.5 213.6 774.0 214.9 774.5 215.0 775.0 214.5 775.5 215.1 776.0 215.4 776.5 216.6 777.0 216.6 777.5 216.5 778.0 216.5 778.5 217.7 779.0 218.7 779.5 218.1 780.0 218.5 780.5 219.9 781.0 218.9 781.5 220.4 782.0 220.3 782.5 220.6 783.0 221.6 783.5 221.4 784.0 221.8 784.5 221.5 785.0 222.8 785.5 223.4 786.0 223.6 786.5 225.4 787.0 225.2 787.5 225.6 788.0 225.5 788.5 224.9 789.0 225.1 789.5 226.3 790.0 225.9 790.5 225.0 791.0 226.1 791.5 227.1 792.0 226.1 792.5 226.4 793.0 225.3 793.5 225.9 794.0 225.1 794.5 225.4 795.0 224.8 795.5 224.1 796.0 223.4 796.5 224.2 797.0 223.5 797.5 222.8 798.0 222.6 798.5 222.3 799.0 221.4 799.5 220.8 800.0 220.7 800.5 219.9 801.0 218.7 801.5 218.4 802.0 218.1 802.5 217.9 803.0 216.1 803.5 215.8 804.0 214.8 804.5 214.0 805.0 213.2 805.5 211.8 806.0 210.9 806.5 210.6 807.0 209.1 807.5 208.5 808.0 208.6 808.5 206.8 809.0 207.2 809.5 205.2 810.0 204.9 810.5 205.4 811.0 203.8 811.5 202.4 812.0 202.7 812.5 201.7 813.0 202.0 813.5 201.2 814.0 201.2 814.5 201.2 815.0 199.5 815.5 199.1 816.0 198.4 816.5 199.1 817.0 199.0 817.5 198.3 818.0 198.4 818.5 197.3 819.0 196.9 819.5 197.5 820.0 196.1 820.5 196.2 821.0 194.9 821.5 194.0 822.0 193.2 822.5 193.0 823.0 193.4 823.5 191.6 824.0 190.2 824.5 188.9 825.0 186.6 825.5 184.4 826.0 181.6 826.5 179.1 827.0 175.8 827.5 174.2 828.0 170.3 828.5 166.5 829.0 162.8 829.5 160.1 830.0 158.6 830.5 154.6 831.0 151.8 831.5 149.0 832.0 145.8 832.5 143.0 833.0 146.4 833.5 148.6 834.0 151.6 834.5 153.3 835.0 155.5 835.5 158.6 836.0 160.5 836.5 163.7 837.0 165.2 837.5 167.6 838.0 169.9 838.5 171.0 839.0 171.8 839.5 171.8 840.0 172.6 840.5 172.8 841.0 173.2 841.5 174.2 842.0 173.6 842.5 172.9 843.0 172.2 843.5 172.2 844.0 172.2 844.5 171.1 845.0 169.7 845.5 167.5 846.0 165.4 846.5 164.7 847.0 161.5 847.5 158.9 848.0 156.5 848.5 153.7 849.0 150.7 849.5 148.0 850.0 144.9 850.5 141.2 851.0 139.6 851.5 137.8 852.0 134.7 852.5 132.4 853.0 131.3 853.5 129.6 854.0 127.5 854.5 126.6 855.0 126.4 855.5 125.2 856.0 124.5 856.5 122.8 857.0 121.5 857.5 120.5 858.0 119.5 858.5 120.9 859.0 122.2 859.5 121.7 860.0 122.7 860.5 124.5 861.0 125.5 861.5 126.5 862.0 127.7 862.5 131.2 863.0 134.5 863.5 137.9 864.0 140.6 864.5 143.9 865.0 147.9 865.5 150.7 866.0 154.0 866.5 157.4 867.0 162.3 867.5 164.8 868.0 167.9 868.5 171.2 869.0 174.5 869.5 178.1 870.0 181.1 870.5 183.1 871.0 186.0 871.5 189.7 872.0 192.3 872.5 195.2 873.0 197.7 873.5 199.4 874.0 201.5 874.5 202.8 875.0 204.9 875.5 206.0 876.0 207.3 876.5 208.9 877.0 208.7 877.5 210.6 878.0 210.6 878.5 211.7 879.0 212.4 879.5 212.3 880.0 213.6 880.5 212.3 881.0 213.2 881.5 213.2 882.0 214.5 882.5 214.7 883.0 214.5 883.5 215.2 884.0 215.2 884.5 215.3 885.0 215.6 885.5 215.6 886.0 216.2 886.5 217.0 887.0 216.5 887.5 216.5 888.0 217.0 888.5 217.6 889.0 217.8 889.5 216.6 890.0 216.9 890.5 217.6 891.0 216.4 891.5 217.5 892.0 216.7 892.5 216.7 893.0 216.3 893.5 216.9 894.0 216.5 894.5 216.2 895.0 215.9 895.5 216.7 896.0 215.8 896.5 216.1 897.0 215.9 897.5 216.3 898.0 216.2 898.5 216.5 899.0 216.7 899.5 215.8 900.0 217.0 900.5 216.7 901.0 216.5 901.5 216.7 902.0 217.3 902.5 216.4 903.0 217.1 903.5 216.3 904.0 215.9 904.5 215.6 905.0 215.6 905.5 215.4 906.0 215.9 906.5 217.1 907.0 215.0 907.5 216.0 908.0 216.5 908.5 216.2 909.0 216.2 909.5 216.6 910.0 215.2 910.5 216.7 911.0 216.7 911.5 216.0 912.0 216.5 912.5 217.1 913.0 216.5 913.5 216.3 914.0 216.5 914.5 216.3 915.0 216.8 915.5 215.8 916.0 216.4 916.5 215.9 917.0 216.2 917.5 215.9 918.0 215.9 918.5 215.7 919.0 216.0 919.5 214.9 920.0 216.1 920.5 216.1 921.0 216.5 921.5 216.9 922.0 216.0 922.5 215.7 923.0 216.1 923.5 215.2 924.0 215.9 924.5 215.9 925.0 215.2 925.5 215.2 926.0 214.6 926.5 214.1 927.0 214.9 927.5 214.4 928.0 213.7 928.5 214.1 929.0 213.7 929.5 213.1 930.0 214.3 930.5 214.3 931.0 213.3 931.5 213.3 932.0 213.1 932.5 213.6 933.0 214.3 933.5 213.2 934.0 213.7 934.5 213.3 935.0 212.4 935.5 212.3 936.0 211.7 936.5 211.8 937.0 212.4 937.5 211.3 938.0 211.8 938.5 211.5 939.0 210.2 939.5 209.9 940.0 210.4 940.5 209.9 941.0 209.6 941.5 209.2 942.0 208.4 942.5 208.1 943.0 208.3 943.5 207.4 944.0 208.1 944.5 207.5 945.0 207.2 945.5 207.1 946.0 206.2 946.5 207.1 947.0 206.6 947.5 206.9 948.0 206.2 948.5 207.0 949.0 207.3 949.5 205.3 950.0 204.7 950.5 205.3 951.0 205.6 951.5 204.9 952.0 205.3 952.5 205.2 953.0 204.9 953.5 203.4 954.0 204.6 954.5 203.8 955.0 203.3 955.5 202.4 956.0 202.9 956.5 202.8 957.0 201.7 957.5 201.7 958.0 200.4 958.5 200.8 959.0 201.4 959.5 200.3 960.0 200.6 960.5 199.9 961.0 200.5 961.5 199.8 962.0 199.9 962.5 199.3 963.0 199.4 963.5 198.4 964.0 198.7 964.5 198.6 965.0 198.3 965.5 196.9 966.0 197.4 966.5 196.9 967.0 196.5 967.5 197.0 968.0 196.5 968.5 197.0 969.0 196.1 969.5 195.1 970.0 195.5 970.5 195.7 971.0 194.3 971.5 193.7 972.0 194.8 972.5 193.8 973.0 193.9 973.5 193.2 974.0 193.1 974.5 192.1 975.0 192.1 975.5 191.5 976.0 190.5 976.5 191.8 977.0 190.6 977.5 189.3 978.0 189.0 978.5 189.1 979.0 188.2 979.5 187.1 980.0 186.9 980.5 186.3 981.0 184.8 981.5 185.1 982.0 183.5 982.5 183.2 983.0 183.1 983.5 182.4 984.0 181.0 984.5 180.4 985.0 180.7 985.5 179.7 986.0 179.6 986.5 177.9 987.0 176.8 987.5 176.1 988.0 175.3 988.5 175.1 989.0 174.7 989.5 172.0 990.0 171.6 990.5 170.5 991.0 169.5 991.5 168.6 992.0 166.5 992.5 166.0 993.0 164.3 993.5 164.0 994.0 161.9 994.5 161.1 995.0 159.5 995.5 158.3 996.0 157.3 996.5 155.4 997.0 154.9 997.5 154.0 998.0 151.6 998.5 150.1 999.0 150.0 999.5 147.5 1000.0 146.9 1000.5 146.7 1001.0 144.7 1001.5 144.7 1002.0 143.0 1002.5 142.0 1003.0 140.0 1003.5 141.5 1004.0 140.1 1004.5 140.3 1005.0 141.3 1005.5 140.4 1006.0 140.9 1006.5 141.3 1007.0 142.6 1007.5 143.8 1008.0 144.7 1008.5 144.4 1009.0 147.2 1009.5 147.8 1010.0 148.9 1010.5 149.7 1011.0 150.5 1011.5 153.0 1012.0 153.1 1012.5 153.7 1013.0 155.8 1013.5 156.4 1014.0 158.2 1014.5 160.0 1015.0 160.3 1015.5 161.5 1016.0 163.0 1016.5 164.8 1017.0 165.1 1017.5 165.8 1018.0 167.2 1018.5 165.7 1019.0 168.1 1019.5 168.1 1020.0 168.6 1020.5 169.0 1021.0 169.0 1021.5 169.5 1022.0 170.5 1022.5 170.7 1023.0 171.3 1023.5 172.0 1024.0 171.7 1024.5 171.8 1025.0 171.5 1025.5 171.8 1026.0 173.1 1026.5 172.7 1027.0 173.0 1027.5 172.4 1028.0 173.7 1028.5 172.5 1029.0 173.2 1029.5 173.4 1030.0 173.8 1030.5 173.9 1031.0 172.8 1031.5 173.2 1032.0 172.2 1032.5 173.1 1033.0 172.1 1033.5 173.0 1034.0 171.8 1034.5 170.4 1035.0 170.9 1035.5 170.4 1036.0 169.8 1036.5 169.5 1037.0 170.1 1037.5 169.3 1038.0 168.8 1038.5 168.1 1039.0 166.8 1039.5 166.8 1040.0 165.5 1040.5 165.4 1041.0 164.4 1041.5 163.5 1042.0 162.3 1042.5 161.7 1043.0 160.2 1043.5 158.8 1044.0 156.2 1044.5 156.5 1045.0 154.4 1045.5 151.8 1046.0 151.6 1046.5 149.7 1047.0 147.6 1047.5 146.6 1048.0 144.3 1048.5 143.2 1049.0 141.6 1049.5 140.2 1050.0 138.7 1050.5 137.1 1051.0 134.5 1051.5 133.8 1052.0 131.3 1052.5 131.8 1053.0 133.1 1053.5 134.1 1054.0 134.9 1054.5 137.0 1055.0 137.8 1055.5 138.4 1056.0 139.1 1056.5 140.2 1057.0 142.7 1057.5 144.4 1058.0 146.7 1058.5 148.5 1059.0 151.9 1059.5 153.9 1060.0 157.0 1060.5 158.7 1061.0 162.6 1061.5 164.8 1062.0 167.9 1062.5 169.8 1063.0 172.4 1063.5 175.1 1064.0 178.4 1064.5 181.4 1065.0 182.6 1065.5 184.8 1066.0 187.6 1066.5 189.4 1067.0 192.4 1067.5 193.4 1068.0 194.7 1068.5 196.3 1069.0 197.2 1069.5 199.0 1070.0 199.4 1070.5 200.8 1071.0 201.2 1071.5 203.7 1072.0 202.4 1072.5 204.1 1073.0 204.0 1073.5 204.2 1074.0 205.3 1074.5 205.6 1075.0 205.7 1075.5 206.8 1076.0 206.4 1076.5 207.4 1077.0 208.6 1077.5 209.0 1078.0 209.3 1078.5 209.3 1079.0 209.1 1079.5 210.3 1080.0 209.7 1080.5 211.0 1081.0 209.5 1081.5 210.3 1082.0 211.0 1082.5 212.3 1083.0 211.5 1083.5 212.6 1084.0 212.1 1084.5 211.5 1085.0 212.1 1085.5 212.1 1086.0 212.8 1086.5 212.2 1087.0 212.6 1087.5 213.2 1088.0 212.3 1088.5 212.5 1089.0 213.7 1089.5 213.5 1090.0 213.0 1090.5 213.2 1091.0 213.7 1091.5 213.9 1092.0 213.9 1092.5 214.7 1093.0 215.2 1093.5 214.1 1094.0 214.6 1094.5 214.1 1095.0 215.0 1095.5 215.0 1096.0 214.3 1096.5 214.7 1097.0 215.0 1097.5 215.0 1098.0 214.9 1098.5 213.9 1099.0 214.8 1099.5 213.7 1100.0 215.0 1100.5 214.1 1101.0 214.4 1101.5 214.0 1102.0 213.5 1102.5 214.3 1103.0 214.6 1103.5 213.9 1104.0 213.6 1104.5 214.6 1105.0 213.6 1105.5 214.0 1106.0 214.5 1106.5 214.3 1107.0 214.2 1107.5 214.5 1108.0 215.0 1108.5 214.9 1109.0 214.4 1109.5 215.6 1110.0 215.4 1110.5 214.5 1111.0 213.9 1111.5 214.3 1112.0 213.9 1112.5 214.1 1113.0 213.8 1113.5 215.0 1114.0 214.5 1114.5 213.7 1115.0 214.4 1115.5 213.9 1116.0 214.3 1116.5 214.6 1117.0 214.5 1117.5 214.8 1118.0 215.1 1118.5 214.9 1119.0 214.6 1119.5 214.4 1120.0 214.6 1120.5 215.2 1121.0 214.8 1121.5 214.5 1122.0 214.3 1122.5 215.1 1123.0 214.5 1123.5 214.2 1124.0 214.5 1124.5 214.4 1125.0 214.2 1125.5 214.2 1126.0 214.4 1126.5 213.5 1127.0 214.5 1127.5 214.4 1128.0 214.6 1128.5 214.2 1129.0 214.2 1129.5 214.7 1130.0 213.8 1130.5 214.5 1131.0 214.0 1131.5 214.6 1132.0 215.3 1132.5 214.6 1133.0 214.8 1133.5 215.0 1134.0 214.7 1134.5 214.1 1135.0 214.4 1135.5 214.8 1136.0 214.5 1136.5 215.2 1137.0 214.8 1137.5 214.8 1138.0 214.6 1138.5 214.6 1139.0 214.5 1139.5 215.1 1140.0 214.3 1140.5 214.7 1141.0 214.7 1141.5 214.7 1142.0 215.2 1142.5 214.4 1143.0 214.1 1143.5 215.1 1144.0 213.9 1144.5 213.1 1145.0 214.8 1145.5 214.3 1146.0 214.5 1146.5 214.4 1147.0 214.4 1147.5 215.1 1148.0 214.8 1148.5 214.9 1149.0 215.0 1149.5 214.4 1150.0 214.2 1150.5 214.9 1151.0 214.9 1151.5 214.3 1152.0 214.1 1152.5 214.1 1153.0 214.3 1153.5 214.1 1154.0 214.5 1154.5 214.9 1155.0 214.6 1155.5 214.8 1156.0 214.9 1156.5 213.5 1157.0 214.6 1157.5 213.8 1158.0 214.8 1158.5 215.1 1159.0 213.8 1159.5 214.7 1160.0 214.6 1160.5 214.2 1161.0 214.2 1161.5 214.1 1162.0 214.1 1162.5 214.0 1163.0 215.7 1163.5 214.6 1164.0 214.4 1164.5 214.2 1165.0 215.3 1165.5 214.1 1166.0 214.7 1166.5 214.7 1167.0 214.4 1167.5 215.5 1168.0 214.7 1168.5 215.4 1169.0 214.7 1169.5 214.0 1170.0 215.0 1170.5 215.5 1171.0 214.9 1171.5 214.1 1172.0 214.3 1172.5 213.4 1173.0 214.8 1173.5 214.6 1174.0 213.7 1174.5 214.0 1175.0 214.0 1175.5 214.5 1176.0 215.4 1176.5 214.8 1177.0 214.3 1177.5 214.6 1178.0 214.7 1178.5 213.9 1179.0 213.7 1179.5 214.0 1180.0 214.7 1180.5 214.4 1181.0 214.4 1181.5 214.5 1182.0 214.5 1182.5 213.8 1183.0 214.3 1183.5 214.3 1184.0 213.9 1184.5 214.6 1185.0 214.1 1185.5 214.1 1186.0 214.4 1186.5 215.2 1187.0 214.3 1187.5 214.5 1188.0 214.3 1188.5 214.1 1189.0 214.5 1189.5 214.5 1190.0 214.3 1190.5 214.6 1191.0 214.0 1191.5 214.1 1192.0 214.2 1192.5 214.8 1193.0 213.1 1193.5 213.7 1194.0 214.2 1194.5 214.4 1195.0 213.7 1195.5 214.9 1196.0 214.2 1196.5 213.9 1197.0 213.6 1197.5 213.6 1198.0 213.0 1198.5 214.5 1199.0 213.3 1199.5 214.1 1200.0 214.9 1200.5 213.3 1201.0 214.3 1201.5 214.3 1202.0 213.8 1202.5 213.5 1203.0 213.4 1203.5 214.4 1204.0 213.3 1204.5 213.3 1205.0 214.7 1205.5 213.6 1206.0 213.9 1206.5 214.2 1207.0 213.1 1207.5 213.0 1208.0 213.5 1208.5 213.3 1209.0 214.2 1209.5 214.0 1210.0 213.0 1210.5 213.7 1211.0 213.5 1211.5 214.0 1212.0 213.6 1212.5 213.3 1213.0 215.0 1213.5 213.9 1214.0 214.5 1214.5 214.3 1215.0 213.8 1215.5 213.9 1216.0 214.5 1216.5 213.8 1217.0 213.1 1217.5 213.8 1218.0 214.0 1218.5 214.6 1219.0 213.5 1219.5 214.1 1220.0 213.5 1220.5 213.4 1221.0 213.0 1221.5 212.9 1222.0 213.8 1222.5 214.3 1223.0 212.8 1223.5 213.8 1224.0 212.8 1224.5 212.8 1225.0 213.3 1225.5 213.0 1226.0 213.5 1226.5 213.0 1227.0 213.4 1227.5 211.8 1228.0 213.6 1228.5 213.7 1229.0 213.3 1229.5 213.2 1230.0 212.6 1230.5 213.7 1231.0 212.8 1231.5 213.5 1232.0 214.2 1232.5 214.1 1233.0 212.6 1233.5 214.1 1234.0 213.8 1234.5 212.5" fill="none" stroke="#b3287c" stroke-width="3.3" stroke-linejoin="round"/>
<path d="M756.0 262.2 756.5 262.5 757.0 262.8 757.5 262.7 758.0 263.4 758.5 262.6 759.0 262.9 759.5 262.4 760.0 262.6 760.5 262.4 761.0 262.2 761.5 263.1 762.0 262.9 762.5 262.1 763.0 261.6 763.5 262.3 764.0 262.6 764.5 263.3 765.0 263.4 765.5 262.3 766.0 263.3 766.5 263.1 767.0 263.0 767.5 262.7 768.0 263.4 768.5 262.6 769.0 262.6 769.5 262.1 770.0 262.6 770.5 262.1 771.0 263.0 771.5 263.2 772.0 262.9 772.5 262.7 773.0 263.1 773.5 262.4 774.0 263.9 774.5 262.9 775.0 263.5 775.5 263.1 776.0 263.6 776.5 263.9 777.0 264.2 777.5 263.6 778.0 263.8 778.5 262.8 779.0 263.1 779.5 263.5 780.0 263.9 780.5 263.4 781.0 263.4 781.5 263.4 782.0 264.0 782.5 263.3 783.0 264.7 783.5 263.7 784.0 264.1 784.5 263.5 785.0 263.3 785.5 264.4 786.0 262.6 786.5 263.9 787.0 263.2 787.5 262.6 788.0 263.5 788.5 263.2 789.0 262.9 789.5 263.4 790.0 264.3 790.5 263.2 791.0 262.5 791.5 263.1 792.0 263.3 792.5 263.2 793.0 262.8 793.5 262.9 794.0 263.7 794.5 263.2 795.0 263.3 795.5 263.4 796.0 263.6 796.5 263.2 797.0 262.9 797.5 263.4 798.0 264.6 798.5 263.0 799.0 263.5 799.5 263.5 800.0 263.2 800.5 262.6 801.0 263.2 801.5 264.2 802.0 264.2 802.5 263.5 803.0 264.0 803.5 263.2 804.0 263.3 804.5 263.6 805.0 262.0 805.5 263.0 806.0 261.9 806.5 262.3 807.0 263.1 807.5 263.1 808.0 262.3 808.5 263.8 809.0 263.3 809.5 263.3 810.0 262.9 810.5 263.6 811.0 263.6 811.5 262.9 812.0 262.6 812.5 262.4 813.0 261.9 813.5 263.0 814.0 261.0 814.5 261.1 815.0 262.0 815.5 260.7 816.0 260.7 816.5 261.1 817.0 259.9 817.5 260.4 818.0 260.0 818.5 259.5 819.0 258.7 819.5 258.9 820.0 257.2 820.5 257.7 821.0 258.5 821.5 257.3 822.0 256.9 822.5 257.5 823.0 257.1 823.5 257.3 824.0 257.8 824.5 255.9 825.0 256.3 825.5 256.4 826.0 256.6 826.5 255.8 827.0 255.6 827.5 255.6 828.0 254.9 828.5 255.9 829.0 256.1 829.5 255.6 830.0 255.3 830.5 255.0 831.0 254.2 831.5 254.3 832.0 254.7 832.5 254.2 833.0 253.6 833.5 254.7 834.0 255.3 834.5 255.2 835.0 253.7 835.5 255.8 836.0 256.0 836.5 256.2 837.0 255.7 837.5 255.6 838.0 257.1 838.5 256.1 839.0 256.1 839.5 255.9 840.0 256.5 840.5 256.6 841.0 257.2 841.5 256.3 842.0 256.7 842.5 257.6 843.0 256.9 843.5 255.9 844.0 255.3 844.5 256.8 845.0 255.2 845.5 254.5 846.0 254.7 846.5 253.4 847.0 254.1 847.5 253.8 848.0 253.5 848.5 252.5 849.0 252.6 849.5 252.2 850.0 250.5 850.5 251.2 851.0 249.9 851.5 249.0 852.0 249.1 852.5 248.2 853.0 248.1 853.5 247.9 854.0 246.5 854.5 246.7 855.0 246.1 855.5 246.7 856.0 245.5 856.5 246.4 857.0 247.6 857.5 247.7 858.0 247.1 858.5 248.5 859.0 248.0 859.5 249.2 860.0 248.9 860.5 249.3 861.0 250.9 861.5 250.6 862.0 251.6 862.5 251.5 863.0 251.6 863.5 252.1 864.0 253.6 864.5 253.4 865.0 253.6 865.5 254.8 866.0 255.1 866.5 255.3 867.0 255.6 867.5 257.3 868.0 257.3 868.5 258.1 869.0 256.7 869.5 258.0 870.0 258.0 870.5 258.4 871.0 259.1 871.5 259.4 872.0 261.0 872.5 260.6 873.0 260.0 873.5 261.3 874.0 261.2 874.5 261.4 875.0 261.3 875.5 260.9 876.0 262.3 876.5 262.5 877.0 262.3 877.5 263.2 878.0 264.0 878.5 264.2 879.0 264.1 879.5 265.1 880.0 265.3 880.5 265.0 881.0 265.5 881.5 264.3 882.0 266.0 882.5 265.4 883.0 265.3 883.5 265.9 884.0 266.2 884.5 266.2 885.0 265.9 885.5 265.1 886.0 266.9 886.5 266.5 887.0 265.4 887.5 265.8 888.0 266.6 888.5 266.6 889.0 266.8 889.5 266.4 890.0 266.7 890.5 266.1 891.0 266.6 891.5 265.8 892.0 266.5 892.5 266.2 893.0 267.1 893.5 266.2 894.0 265.2 894.5 265.7 895.0 265.7 895.5 266.0 896.0 265.7 896.5 265.9 897.0 266.2 897.5 266.3 898.0 266.4 898.5 266.1 899.0 266.0 899.5 266.1 900.0 265.3 900.5 265.6 901.0 266.7 901.5 266.0 902.0 266.0 902.5 265.1 903.0 265.8 903.5 265.1 904.0 264.4 904.5 265.8 905.0 264.6 905.5 265.1 906.0 265.1 906.5 264.8 907.0 265.7 907.5 264.1 908.0 264.8 908.5 264.9 909.0 263.6 909.5 264.7 910.0 264.4 910.5 264.7 911.0 264.2 911.5 264.7 912.0 264.3 912.5 263.6 913.0 263.1 913.5 263.2 914.0 265.1 914.5 264.2 915.0 263.6 915.5 264.7 916.0 264.9 916.5 264.3 917.0 264.0 917.5 264.3 918.0 263.1 918.5 264.3 919.0 262.9 919.5 263.2 920.0 262.3 920.5 262.5 921.0 262.9 921.5 262.1 922.0 262.0 922.5 262.9 923.0 261.6 923.5 261.7 924.0 262.4 924.5 261.5 925.0 261.6 925.5 262.2 926.0 262.0 926.5 261.9 927.0 262.1 927.5 261.1 928.0 261.5 928.5 261.9 929.0 261.1 929.5 261.9 930.0 260.9 930.5 261.1 931.0 260.7 931.5 259.8 932.0 260.2 932.5 260.0 933.0 260.0 933.5 260.2 934.0 260.4 934.5 260.0 935.0 259.6 935.5 259.3 936.0 259.6 936.5 259.2 937.0 259.1 937.5 258.7 938.0 259.3 938.5 258.3 939.0 259.0 939.5 257.0 940.0 259.0 940.5 257.6 941.0 258.0 941.5 257.5 942.0 257.6 942.5 257.7 943.0 257.4 943.5 256.6 944.0 256.5 944.5 255.6 945.0 256.8 945.5 256.9 946.0 256.3 946.5 256.9 947.0 256.7 947.5 256.2 948.0 255.9 948.5 255.6 949.0 255.6 949.5 254.3 950.0 255.5 950.5 254.4 951.0 253.9 951.5 254.0 952.0 253.3 952.5 252.9 953.0 253.3 953.5 252.7 954.0 251.9 954.5 252.7 955.0 252.5 955.5 251.8 956.0 251.9 956.5 250.4 957.0 250.2 957.5 250.4 958.0 250.4 958.5 250.3 959.0 248.9 959.5 248.2 960.0 249.5 960.5 247.9 961.0 248.6 961.5 247.9 962.0 247.4 962.5 247.5 963.0 246.2 963.5 246.1 964.0 246.3 964.5 244.7 965.0 245.0 965.5 245.7 966.0 244.7 966.5 244.4 967.0 244.4 967.5 242.2 968.0 241.9 968.5 240.8 969.0 241.2 969.5 241.9 970.0 240.5 970.5 240.6 971.0 239.9 971.5 239.4 972.0 238.8 972.5 238.6 973.0 238.7 973.5 237.6 974.0 238.0 974.5 236.7 975.0 235.7 975.5 234.9 976.0 234.2 976.5 234.0 977.0 234.1 977.5 232.8 978.0 233.2 978.5 231.4 979.0 230.6 979.5 230.3 980.0 229.9 980.5 229.4 981.0 228.9 981.5 228.5 982.0 227.2 982.5 227.7 983.0 226.3 983.5 226.5 984.0 224.3 984.5 223.6 985.0 223.0 985.5 223.4 986.0 221.9 986.5 221.6 987.0 220.5 987.5 219.0 988.0 219.2 988.5 217.7 989.0 216.5 989.5 215.3 990.0 213.2 990.5 212.4 991.0 209.3 991.5 209.1 992.0 207.6 992.5 207.6 993.0 205.7 993.5 203.5 994.0 201.9 994.5 200.5 995.0 199.8 995.5 198.4 996.0 196.6 996.5 195.7 997.0 194.5 997.5 192.5 998.0 191.7 998.5 190.7 999.0 189.5 999.5 188.3 1000.0 187.7 1000.5 187.5 1001.0 186.5 1001.5 185.5 1002.0 185.9 1002.5 184.8 1003.0 184.4 1003.5 184.3 1004.0 183.0 1004.5 182.8 1005.0 182.9 1005.5 181.0 1006.0 182.0 1006.5 182.1 1007.0 183.0 1007.5 184.4 1008.0 184.4 1008.5 185.5 1009.0 185.4 1009.5 186.2 1010.0 187.6 1010.5 188.3 1011.0 189.5 1011.5 189.6 1012.0 190.5 1012.5 191.9 1013.0 193.2 1013.5 194.9 1014.0 195.9 1014.5 197.5 1015.0 199.0 1015.5 200.6 1016.0 201.0 1016.5 203.1 1017.0 203.3 1017.5 204.1 1018.0 204.6 1018.5 205.6 1019.0 206.4 1019.5 207.3 1020.0 208.1 1020.5 207.7 1021.0 208.9 1021.5 209.5 1022.0 210.7 1022.5 210.8 1023.0 211.7 1023.5 212.6 1024.0 212.7 1024.5 212.5 1025.0 214.7 1025.5 214.8 1026.0 214.8 1026.5 214.3 1027.0 214.8 1027.5 214.4 1028.0 214.5 1028.5 215.1 1029.0 214.5 1029.5 214.6 1030.0 214.1 1030.5 214.2 1031.0 214.2 1031.5 214.1 1032.0 213.6 1032.5 212.7 1033.0 212.4 1033.5 212.6 1034.0 212.6 1034.5 212.5 1035.0 212.2 1035.5 211.7 1036.0 211.6 1036.5 211.2 1037.0 210.8 1037.5 208.9 1038.0 209.6 1038.5 209.0 1039.0 207.0 1039.5 207.4 1040.0 206.1 1040.5 204.9 1041.0 203.9 1041.5 203.0 1042.0 201.1 1042.5 200.1 1043.0 198.2 1043.5 197.5 1044.0 195.7 1044.5 194.4 1045.0 192.5 1045.5 191.3 1046.0 188.2 1046.5 187.4 1047.0 185.2 1047.5 183.6 1048.0 182.8 1048.5 181.1 1049.0 178.8 1049.5 177.1 1050.0 175.9 1050.5 174.7 1051.0 172.7 1051.5 170.8 1052.0 168.6 1052.5 167.6 1053.0 167.1 1053.5 168.5 1054.0 170.8 1054.5 173.1 1055.0 173.9 1055.5 175.6 1056.0 176.8 1056.5 178.8 1057.0 181.0 1057.5 182.5 1058.0 184.2 1058.5 188.3 1059.0 191.0 1059.5 194.5 1060.0 197.3 1060.5 200.3 1061.0 203.2 1061.5 206.6 1062.0 210.1 1062.5 213.2 1063.0 215.1 1063.5 218.5 1064.0 221.0 1064.5 222.4 1065.0 225.3 1065.5 228.3 1066.0 229.8 1066.5 231.8 1067.0 233.2 1067.5 235.8 1068.0 237.2 1068.5 239.2 1069.0 240.9 1069.5 241.8 1070.0 244.2 1070.5 246.4 1071.0 246.9 1071.5 247.8 1072.0 249.8 1072.5 250.3 1073.0 250.3 1073.5 251.4 1074.0 253.4 1074.5 253.3 1075.0 254.3 1075.5 254.2 1076.0 255.1 1076.5 254.6 1077.0 256.1 1077.5 256.7 1078.0 256.5 1078.5 256.4 1079.0 258.0 1079.5 256.7 1080.0 258.0 1080.5 257.7 1081.0 258.0 1081.5 258.8 1082.0 258.4 1082.5 259.3 1083.0 259.6 1083.5 259.3 1084.0 259.3 1084.5 260.2 1085.0 260.4 1085.5 261.7 1086.0 259.9 1086.5 260.4 1087.0 260.8 1087.5 260.7 1088.0 262.8 1088.5 262.2 1089.0 260.7 1089.5 262.1 1090.0 262.6 1090.5 261.8 1091.0 261.6 1091.5 261.6 1092.0 261.7 1092.5 261.8 1093.0 261.8 1093.5 262.1 1094.0 262.2 1094.5 262.7 1095.0 263.0 1095.5 262.0 1096.0 262.7 1096.5 262.4 1097.0 263.1 1097.5 263.8 1098.0 263.2 1098.5 263.5 1099.0 263.7 1099.5 263.0 1100.0 263.4 1100.5 263.5 1101.0 263.2 1101.5 262.6 1102.0 263.1 1102.5 263.0 1103.0 263.4 1103.5 263.6 1104.0 264.0 1104.5 264.3 1105.0 263.2 1105.5 264.6 1106.0 264.4 1106.5 264.1 1107.0 263.8 1107.5 263.9 1108.0 264.7 1108.5 262.8 1109.0 262.9 1109.5 263.7 1110.0 263.3 1110.5 263.9 1111.0 264.9 1111.5 264.4 1112.0 264.8 1112.5 264.1 1113.0 264.5 1113.5 264.5 1114.0 265.0 1114.5 264.8 1115.0 265.5 1115.5 265.3 1116.0 265.0 1116.5 264.8 1117.0 264.7 1117.5 265.0 1118.0 265.3 1118.5 264.8 1119.0 265.9 1119.5 265.2 1120.0 265.3 1120.5 265.9 1121.0 264.6 1121.5 265.3 1122.0 265.3 1122.5 265.5 1123.0 265.0 1123.5 265.2 1124.0 264.9 1124.5 265.2 1125.0 265.3 1125.5 265.4 1126.0 265.7 1126.5 265.8 1127.0 265.2 1127.5 266.1 1128.0 265.1 1128.5 265.7 1129.0 265.4 1129.5 265.6 1130.0 265.4 1130.5 265.7 1131.0 266.0 1131.5 264.6 1132.0 266.2 1132.5 265.3 1133.0 264.1 1133.5 264.7 1134.0 265.1 1134.5 264.0 1135.0 264.7 1135.5 265.6 1136.0 265.0 1136.5 264.0 1137.0 264.7 1137.5 264.6 1138.0 265.0 1138.5 265.2 1139.0 266.0 1139.5 265.2 1140.0 265.4 1140.5 266.0 1141.0 265.6 1141.5 264.6 1142.0 265.9 1142.5 265.2 1143.0 265.7 1143.5 265.2 1144.0 265.3 1144.5 265.6 1145.0 264.5 1145.5 264.9 1146.0 264.9 1146.5 264.7 1147.0 264.2 1147.5 265.1 1148.0 265.2 1148.5 265.4 1149.0 265.5 1149.5 265.6 1150.0 265.9 1150.5 265.7 1151.0 265.6 1151.5 265.5 1152.0 266.2 1152.5 266.3 1153.0 265.9 1153.5 265.1 1154.0 264.7 1154.5 265.2 1155.0 265.5 1155.5 265.1 1156.0 265.0 1156.5 265.3 1157.0 265.7 1157.5 265.7 1158.0 264.9 1158.5 265.2 1159.0 265.0 1159.5 265.7 1160.0 266.1 1160.5 265.9 1161.0 265.5 1161.5 265.9 1162.0 265.3 1162.5 264.2 1163.0 264.8 1163.5 265.4 1164.0 264.9 1164.5 265.5 1165.0 265.9 1165.5 265.0 1166.0 264.6 1166.5 265.1 1167.0 265.7 1167.5 265.2 1168.0 263.9 1168.5 265.7 1169.0 265.4 1169.5 265.3 1170.0 266.0 1170.5 266.1 1171.0 265.3 1171.5 265.8 1172.0 265.2 1172.5 265.7 1173.0 264.6 1173.5 265.6 1174.0 263.9 1174.5 263.8 1175.0 264.6 1175.5 264.1 1176.0 264.6 1176.5 264.7 1177.0 263.7 1177.5 265.1 1178.0 264.2 1178.5 265.1 1179.0 264.9 1179.5 264.4 1180.0 264.4 1180.5 265.1 1181.0 265.2 1181.5 264.2 1182.0 264.8 1182.5 265.3 1183.0 264.5 1183.5 265.1 1184.0 264.8 1184.5 265.3 1185.0 264.9 1185.5 265.0 1186.0 264.6 1186.5 264.5 1187.0 264.8 1187.5 264.2 1188.0 265.4 1188.5 265.9 1189.0 265.0 1189.5 265.1 1190.0 264.5 1190.5 264.1 1191.0 264.6 1191.5 264.9 1192.0 263.7 1192.5 263.4 1193.0 263.7 1193.5 264.3 1194.0 264.9 1194.5 264.4 1195.0 264.1 1195.5 264.6 1196.0 264.2 1196.5 264.5 1197.0 264.4 1197.5 264.0 1198.0 264.4 1198.5 264.9 1199.0 264.8 1199.5 265.0 1200.0 264.3 1200.5 264.4 1201.0 264.1 1201.5 265.0 1202.0 264.3 1202.5 264.8 1203.0 264.1 1203.5 263.9 1204.0 264.1 1204.5 264.4 1205.0 264.5 1205.5 264.3 1206.0 263.5 1206.5 264.0 1207.0 264.1 1207.5 264.2 1208.0 264.2 1208.5 263.5 1209.0 262.8 1209.5 263.0 1210.0 264.2 1210.5 262.9 1211.0 264.1 1211.5 263.3 1212.0 263.6 1212.5 262.5 1213.0 263.4 1213.5 263.0 1214.0 262.7 1214.5 262.2 1215.0 263.3 1215.5 262.2 1216.0 263.8 1216.5 262.9 1217.0 262.3 1217.5 262.5 1218.0 263.2 1218.5 262.5 1219.0 262.7 1219.5 262.6 1220.0 262.1 1220.5 262.9 1221.0 262.2 1221.5 263.1 1222.0 262.4 1222.5 262.3 1223.0 262.2 1223.5 261.8 1224.0 262.4 1224.5 262.5 1225.0 262.1 1225.5 262.4 1226.0 261.6 1226.5 262.4 1227.0 262.8 1227.5 262.8 1228.0 262.2 1228.5 262.1 1229.0 261.4 1229.5 261.5 1230.0 261.9 1230.5 261.5 1231.0 262.1 1231.5 261.9 1232.0 261.7 1232.5 259.7 1233.0 260.2 1233.5 260.5 1234.0 260.5 1234.5 260.0" fill="none" stroke="#a06c24" stroke-width="3.3" stroke-linejoin="round"/>
<path d="M756.0 312.6 756.5 312.2 757.0 313.0 757.5 311.4 758.0 313.0 758.5 312.5 759.0 311.8 759.5 311.8 760.0 312.4 760.5 312.8 761.0 313.5 761.5 313.1 762.0 312.7 762.5 312.3 763.0 312.5 763.5 312.5 764.0 313.2 764.5 312.7 765.0 311.8 765.5 311.7 766.0 312.5 766.5 312.5 767.0 313.1 767.5 312.5 768.0 313.1 768.5 313.0 769.0 313.3 769.5 312.4 770.0 313.8 770.5 312.3 771.0 312.3 771.5 312.6 772.0 313.6 772.5 312.7 773.0 312.7 773.5 313.2 774.0 313.3 774.5 313.3 775.0 313.6 775.5 314.2 776.0 311.9 776.5 313.6 777.0 313.3 777.5 312.9 778.0 312.9 778.5 313.6 779.0 313.0 779.5 313.3 780.0 313.6 780.5 314.1 781.0 313.8 781.5 313.2 782.0 314.7 782.5 312.5 783.0 313.3 783.5 313.0 784.0 313.5 784.5 313.9 785.0 312.9 785.5 313.2 786.0 313.8 786.5 313.3 787.0 313.2 787.5 313.0 788.0 312.9 788.5 312.7 789.0 312.9 789.5 313.2 790.0 312.6 790.5 314.3 791.0 312.9 791.5 313.2 792.0 312.8 792.5 313.5 793.0 313.4 793.5 312.9 794.0 313.1 794.5 312.7 795.0 312.7 795.5 312.9 796.0 313.5 796.5 313.2 797.0 312.7 797.5 313.5 798.0 313.6 798.5 313.6 799.0 312.6 799.5 312.5 800.0 313.7 800.5 313.7 801.0 312.8 801.5 313.5 802.0 313.0 802.5 312.7 803.0 313.5 803.5 312.8 804.0 313.1 804.5 313.2 805.0 312.5 805.5 312.7 806.0 313.1 806.5 312.7 807.0 312.5 807.5 313.7 808.0 312.6 808.5 313.0 809.0 312.4 809.5 312.7 810.0 312.1 810.5 312.4 811.0 312.2 811.5 312.6 812.0 311.5 812.5 311.9 813.0 311.4 813.5 310.0 814.0 310.4 814.5 311.7 815.0 310.7 815.5 310.0 816.0 310.0 816.5 309.4 817.0 308.7 817.5 308.5 818.0 308.5 818.5 308.6 819.0 308.8 819.5 309.1 820.0 307.6 820.5 308.3 821.0 308.7 821.5 306.4 822.0 305.9 822.5 306.2 823.0 306.3 823.5 305.3 824.0 304.7 824.5 304.3 825.0 304.5 825.5 304.1 826.0 303.6 826.5 302.6 827.0 300.8 827.5 300.3 828.0 299.5 828.5 299.1 829.0 297.3 829.5 297.2 830.0 296.4 830.5 295.2 831.0 294.3 831.5 292.2 832.0 292.3 832.5 290.8 833.0 290.8 833.5 289.0 834.0 290.1 834.5 289.7 835.0 290.3 835.5 291.8 836.0 292.5 836.5 293.0 837.0 293.0 837.5 293.4 838.0 294.0 838.5 295.0 839.0 295.7 839.5 296.6 840.0 296.7 840.5 297.3 841.0 296.4 841.5 296.8 842.0 297.2 842.5 297.0 843.0 296.2 843.5 296.3 844.0 295.5 844.5 294.9 845.0 293.1 845.5 292.8 846.0 291.5 846.5 289.8 847.0 288.5 847.5 287.0 848.0 284.8 848.5 284.4 849.0 282.3 849.5 280.8 850.0 279.5 850.5 279.2 851.0 275.9 851.5 276.0 852.0 274.2 852.5 273.4 853.0 273.2 853.5 271.2 854.0 270.2 854.5 269.3 855.0 267.9 855.5 267.1 856.0 265.9 856.5 267.8 857.0 268.2 857.5 270.8 858.0 271.9 858.5 272.9 859.0 273.3 859.5 275.0 860.0 275.8 860.5 276.8 861.0 277.8 861.5 279.6 862.0 281.0 862.5 280.9 863.0 283.4 863.5 283.6 864.0 285.6 864.5 286.6 865.0 287.8 865.5 289.5 866.0 290.4 866.5 292.0 867.0 293.4 867.5 294.7 868.0 296.9 868.5 296.5 869.0 297.2 869.5 299.3 870.0 301.6 870.5 301.9 871.0 302.2 871.5 303.8 872.0 304.1 872.5 305.2 873.0 305.7 873.5 307.0 874.0 307.8 874.5 308.8 875.0 309.7 875.5 309.3 876.0 310.2 876.5 311.0 877.0 311.6 877.5 311.5 878.0 313.0 878.5 312.5 879.0 312.9 879.5 313.1 880.0 313.6 880.5 312.8 881.0 314.2 881.5 313.2 882.0 314.2 882.5 313.1 883.0 314.6 883.5 313.8 884.0 313.4 884.5 314.5 885.0 313.9 885.5 313.7 886.0 313.7 886.5 313.9 887.0 313.9 887.5 314.2 888.0 314.1 888.5 313.5 889.0 314.7 889.5 314.4 890.0 314.0 890.5 314.4 891.0 314.3 891.5 314.7 892.0 315.1 892.5 315.0 893.0 315.0 893.5 315.2 894.0 314.6 894.5 315.1 895.0 314.9 895.5 314.7 896.0 313.9 896.5 313.5 897.0 313.7 897.5 314.1 898.0 314.2 898.5 313.7 899.0 313.7 899.5 313.2 900.0 314.1 900.5 313.9 901.0 314.1 901.5 314.4 902.0 314.3 902.5 313.9 903.0 312.7 903.5 313.9 904.0 314.2 904.5 313.6 905.0 313.6 905.5 313.5 906.0 313.3 906.5 313.5 907.0 313.5 907.5 313.2 908.0 312.6 908.5 312.2 909.0 312.5 909.5 313.5 910.0 312.5 910.5 312.6 911.0 312.6 911.5 312.2 912.0 313.7 912.5 313.8 913.0 312.9 913.5 313.1 914.0 312.1 914.5 313.2 915.0 313.6 915.5 312.8 916.0 313.0 916.5 312.4 917.0 312.8 917.5 312.8 918.0 312.1 918.5 312.0 919.0 311.9 919.5 312.2 920.0 312.2 920.5 311.4 921.0 312.5 921.5 311.1 922.0 311.6 922.5 310.8 923.0 311.5 923.5 310.4 924.0 311.2 924.5 310.8 925.0 309.8 925.5 310.7 926.0 310.5 926.5 310.9 927.0 310.3 927.5 310.1 928.0 309.6 928.5 310.1 929.0 309.1 929.5 310.2 930.0 310.1 930.5 310.0 931.0 309.5 931.5 309.3 932.0 309.1 932.5 309.3 933.0 308.8 933.5 307.9 934.0 308.9 934.5 309.0 935.0 307.8 935.5 308.4 936.0 307.3 936.5 307.4 937.0 307.9 937.5 307.3 938.0 307.4 938.5 307.2 939.0 307.5 939.5 306.8 940.0 306.8 940.5 307.0 941.0 306.3 941.5 305.6 942.0 304.4 942.5 304.3 943.0 305.5 943.5 304.2 944.0 302.9 944.5 303.3 945.0 303.3 945.5 302.0 946.0 302.6 946.5 302.6 947.0 301.9 947.5 301.5 948.0 301.6 948.5 301.6 949.0 301.5 949.5 300.1 950.0 300.5 950.5 299.2 951.0 298.5 951.5 298.5 952.0 298.4 952.5 298.7 953.0 298.7 953.5 298.3 954.0 298.9 954.5 297.8 955.0 297.3 955.5 297.9 956.0 296.7 956.5 297.4 957.0 297.7 957.5 297.3 958.0 297.2 958.5 296.4 959.0 296.7 959.5 296.9 960.0 296.3 960.5 296.1 961.0 295.9 961.5 295.8 962.0 296.4 962.5 295.8 963.0 295.4 963.5 296.4 964.0 294.8 964.5 295.0 965.0 294.8 965.5 294.1 966.0 294.4 966.5 293.1 967.0 293.6 967.5 292.9 968.0 292.5 968.5 292.8 969.0 293.2 969.5 290.9 970.0 291.9 970.5 291.5 971.0 290.6 971.5 289.8 972.0 290.3 972.5 289.9 973.0 288.9 973.5 288.9 974.0 288.3 974.5 288.3 975.0 287.4 975.5 287.4 976.0 286.5 976.5 286.3 977.0 285.2 977.5 285.6 978.0 284.9 978.5 284.8 979.0 283.7 979.5 283.8 980.0 284.5 980.5 283.1 981.0 283.1 981.5 281.8 982.0 281.0 982.5 280.6 983.0 280.7 983.5 280.0 984.0 278.0 984.5 277.5 985.0 277.6 985.5 276.9 986.0 276.7 986.5 274.5 987.0 273.8 987.5 273.2 988.0 272.1 988.5 271.3 989.0 270.7 989.5 269.4 990.0 267.7 990.5 267.1 991.0 264.8 991.5 263.4 992.0 263.9 992.5 261.3 993.0 259.9 993.5 258.6 994.0 256.1 994.5 254.0 995.0 253.5 995.5 251.7 996.0 248.2 996.5 247.4 997.0 244.8 997.5 241.3 998.0 239.8 998.5 238.1 999.0 236.0 999.5 234.1 1000.0 231.4 1000.5 229.8 1001.0 227.2 1001.5 225.1 1002.0 224.1 1002.5 223.5 1003.0 222.3 1003.5 220.6 1004.0 220.1 1004.5 218.9 1005.0 218.9 1005.5 218.0 1006.0 217.1 1006.5 216.8 1007.0 218.8 1007.5 220.1 1008.0 220.7 1008.5 223.9 1009.0 224.3 1009.5 226.4 1010.0 226.5 1010.5 229.4 1011.0 230.6 1011.5 232.7 1012.0 235.3 1012.5 237.1 1013.0 240.2 1013.5 242.0 1014.0 243.9 1014.5 245.1 1015.0 247.3 1015.5 247.9 1016.0 250.3 1016.5 251.0 1017.0 253.0 1017.5 254.2 1018.0 255.3 1018.5 256.2 1019.0 257.8 1019.5 258.6 1020.0 259.6 1020.5 260.9 1021.0 261.1 1021.5 261.3 1022.0 261.2 1022.5 262.3 1023.0 263.6 1023.5 264.5 1024.0 265.1 1024.5 264.9 1025.0 265.5 1025.5 266.7 1026.0 266.4 1026.5 267.2 1027.0 267.1 1027.5 267.1 1028.0 267.7 1028.5 268.0 1029.0 268.0 1029.5 268.5 1030.0 269.0 1030.5 268.0 1031.0 267.3 1031.5 268.2 1032.0 267.2 1032.5 266.2 1033.0 266.0 1033.5 266.2 1034.0 264.9 1034.5 266.7 1035.0 265.3 1035.5 264.5 1036.0 263.9 1036.5 263.2 1037.0 263.4 1037.5 262.6 1038.0 261.0 1038.5 262.0 1039.0 261.0 1039.5 259.8 1040.0 259.3 1040.5 258.8 1041.0 257.4 1041.5 257.0 1042.0 256.2 1042.5 254.4 1043.0 253.1 1043.5 251.2 1044.0 250.6 1044.5 249.4 1045.0 247.5 1045.5 246.2 1046.0 243.3 1046.5 241.6 1047.0 239.6 1047.5 237.0 1048.0 235.8 1048.5 233.6 1049.0 230.9 1049.5 229.3 1050.0 226.6 1050.5 225.4 1051.0 223.9 1051.5 221.5 1052.0 220.1 1052.5 219.9 1053.0 218.3 1053.5 216.1 1054.0 217.3 1054.5 218.2 1055.0 219.0 1055.5 221.0 1056.0 222.5 1056.5 224.5 1057.0 225.6 1057.5 228.2 1058.0 229.9 1058.5 232.6 1059.0 235.7 1059.5 237.1 1060.0 241.0 1060.5 243.0 1061.0 246.4 1061.5 249.5 1062.0 253.2 1062.5 255.7 1063.0 259.3 1063.5 262.8 1064.0 267.2 1064.5 270.0 1065.0 273.1 1065.5 275.2 1066.0 278.8 1066.5 281.4 1067.0 283.0 1067.5 285.6 1068.0 287.3 1068.5 289.2 1069.0 291.4 1069.5 293.5 1070.0 294.2 1070.5 294.8 1071.0 296.4 1071.5 296.3 1072.0 298.3 1072.5 299.4 1073.0 299.2 1073.5 300.1 1074.0 301.1 1074.5 301.6 1075.0 301.6 1075.5 302.2 1076.0 303.5 1076.5 304.1 1077.0 304.6 1077.5 305.3 1078.0 305.1 1078.5 305.9 1079.0 306.2 1079.5 305.6 1080.0 306.6 1080.5 307.1 1081.0 307.5 1081.5 307.3 1082.0 307.6 1082.5 307.6 1083.0 308.7 1083.5 309.0 1084.0 308.6 1084.5 308.3 1085.0 308.4 1085.5 309.3 1086.0 309.4 1086.5 308.9 1087.0 309.9 1087.5 309.4 1088.0 310.8 1088.5 310.5 1089.0 310.6 1089.5 310.6 1090.0 309.2 1090.5 310.4 1091.0 310.4 1091.5 310.5 1092.0 311.4 1092.5 311.1 1093.0 311.6 1093.5 312.3 1094.0 311.1 1094.5 311.4 1095.0 311.2 1095.5 311.7 1096.0 311.3 1096.5 311.1 1097.0 311.2 1097.5 311.6 1098.0 310.5 1098.5 312.2 1099.0 310.9 1099.5 311.7 1100.0 311.7 1100.5 311.5 1101.0 311.2 1101.5 311.9 1102.0 311.3 1102.5 311.0 1103.0 311.2 1103.5 312.2 1104.0 312.1 1104.5 311.4 1105.0 310.9 1105.5 310.9 1106.0 311.5 1106.5 310.8 1107.0 311.2 1107.5 310.6 1108.0 310.2 1108.5 310.5 1109.0 311.4 1109.5 310.7 1110.0 311.3 1110.5 311.1 1111.0 311.7 1111.5 311.7 1112.0 311.1 1112.5 311.0 1113.0 311.2 1113.5 310.4 1114.0 311.2 1114.5 310.7 1115.0 311.9 1115.5 311.4 1116.0 311.2 1116.5 311.6 1117.0 311.4 1117.5 311.3 1118.0 310.9 1118.5 311.5 1119.0 311.1 1119.5 311.5 1120.0 311.8 1120.5 311.4 1121.0 311.6 1121.5 310.6 1122.0 311.4 1122.5 312.4 1123.0 310.9 1123.5 311.5 1124.0 310.8 1124.5 311.7 1125.0 311.0 1125.5 311.7 1126.0 310.7 1126.5 310.8 1127.0 310.7 1127.5 312.6 1128.0 311.6 1128.5 310.4 1129.0 312.1 1129.5 310.3 1130.0 310.5 1130.5 310.5 1131.0 311.8 1131.5 311.1 1132.0 311.4 1132.5 311.4 1133.0 310.7 1133.5 311.4 1134.0 310.4 1134.5 312.0 1135.0 311.2 1135.5 310.2 1136.0 310.3 1136.5 310.4 1137.0 311.1 1137.5 311.3 1138.0 310.2 1138.5 310.8 1139.0 311.2 1139.5 310.9 1140.0 311.6 1140.5 311.3 1141.0 310.9 1141.5 311.8 1142.0 310.9 1142.5 311.2 1143.0 311.8 1143.5 311.1 1144.0 310.9 1144.5 311.5 1145.0 311.1 1145.5 311.9 1146.0 311.1 1146.5 311.4 1147.0 310.9 1147.5 311.5 1148.0 311.1 1148.5 311.4 1149.0 310.4 1149.5 311.2 1150.0 311.3 1150.5 311.3 1151.0 310.8 1151.5 311.6 1152.0 311.7 1152.5 310.9 1153.0 310.8 1153.5 310.5 1154.0 310.2 1154.5 311.8 1155.0 310.7 1155.5 310.9 1156.0 309.6 1156.5 310.9 1157.0 310.4 1157.5 310.6 1158.0 311.9 1158.5 310.7 1159.0 311.0 1159.5 311.0 1160.0 311.1 1160.5 311.0 1161.0 310.5 1161.5 310.9 1162.0 311.2 1162.5 309.2 1163.0 311.3 1163.5 310.1 1164.0 310.3 1164.5 312.3 1165.0 311.2 1165.5 310.9 1166.0 312.0 1166.5 310.0 1167.0 309.8 1167.5 310.7 1168.0 310.7 1168.5 310.8 1169.0 310.4 1169.5 310.9 1170.0 310.7 1170.5 310.5 1171.0 310.1 1171.5 309.7 1172.0 310.3 1172.5 310.9 1173.0 310.6 1173.5 309.8 1174.0 311.9 1174.5 311.6 1175.0 310.7 1175.5 311.7 1176.0 310.2 1176.5 310.5 1177.0 310.5 1177.5 311.4 1178.0 311.0 1178.5 310.9 1179.0 311.2 1179.5 311.0 1180.0 311.2 1180.5 310.0 1181.0 310.6 1181.5 310.3 1182.0 310.5 1182.5 310.7 1183.0 309.1 1183.5 310.1 1184.0 311.1 1184.5 311.1 1185.0 310.9 1185.5 311.1 1186.0 310.8 1186.5 310.7 1187.0 311.1 1187.5 310.7 1188.0 311.4 1188.5 311.4 1189.0 312.1 1189.5 310.8 1190.0 310.9 1190.5 311.2 1191.0 311.2 1191.5 311.3 1192.0 310.2 1192.5 310.7 1193.0 310.2 1193.5 311.4 1194.0 310.3 1194.5 309.8 1195.0 310.9 1195.5 310.7 1196.0 310.4 1196.5 311.3 1197.0 310.5 1197.5 309.9 1198.0 310.5 1198.5 309.6 1199.0 309.7 1199.5 310.0 1200.0 309.7 1200.5 309.7 1201.0 310.5 1201.5 310.6 1202.0 309.9 1202.5 310.0 1203.0 309.7 1203.5 310.5 1204.0 311.1 1204.5 310.6 1205.0 310.5 1205.5 310.6 1206.0 310.4 1206.5 311.1 1207.0 310.6 1207.5 311.0 1208.0 311.4 1208.5 311.0 1209.0 310.4 1209.5 309.6 1210.0 309.9 1210.5 309.9 1211.0 310.2 1211.5 309.6 1212.0 309.8 1212.5 310.4 1213.0 311.2 1213.5 309.4 1214.0 309.9 1214.5 309.7 1215.0 309.9 1215.5 310.6 1216.0 310.0 1216.5 310.3 1217.0 310.2 1217.5 309.9 1218.0 309.6 1218.5 309.7 1219.0 309.5 1219.5 310.7 1220.0 309.9 1220.5 309.2 1221.0 310.1 1221.5 309.8 1222.0 310.1 1222.5 310.4 1223.0 310.1 1223.5 310.0 1224.0 310.1 1224.5 309.9 1225.0 309.6 1225.5 309.5 1226.0 308.9 1226.5 309.1 1227.0 309.9 1227.5 309.5 1228.0 309.9 1228.5 309.5 1229.0 308.6 1229.5 309.5 1230.0 309.3 1230.5 309.6 1231.0 309.3 1231.5 309.6 1232.0 310.2 1232.5 309.3 1233.0 309.1 1233.5 309.4 1234.0 309.7 1234.5 309.1" fill="none" stroke="#3065a3" stroke-width="3.3" stroke-linejoin="round"/>
<path d="M756.0 362.1 756.5 362.7 757.0 362.2 757.5 361.6 758.0 361.5 758.5 361.9 759.0 362.3 759.5 361.9 760.0 361.8 760.5 362.2 761.0 362.9 761.5 363.3 762.0 363.3 762.5 363.9 763.0 362.1 763.5 362.9 764.0 362.8 764.5 363.7 765.0 363.4 765.5 363.8 766.0 362.7 766.5 363.2 767.0 362.8 767.5 363.3 768.0 363.9 768.5 364.9 769.0 363.6 769.5 364.7 770.0 365.0 770.5 365.3 771.0 365.2 771.5 364.2 772.0 365.2 772.5 364.3 773.0 365.0 773.5 364.0 774.0 365.2 774.5 364.4 775.0 364.8 775.5 364.7 776.0 364.6 776.5 364.0 777.0 364.9 777.5 363.3 778.0 364.2 778.5 364.4 779.0 363.5 779.5 364.9 780.0 364.1 780.5 364.6 781.0 364.5 781.5 364.0 782.0 364.3 782.5 363.9 783.0 364.1 783.5 363.6 784.0 363.5 784.5 364.9 785.0 364.3 785.5 364.4 786.0 364.4 786.5 364.1 787.0 364.6 787.5 364.3 788.0 364.1 788.5 364.4 789.0 365.0 789.5 364.9 790.0 364.2 790.5 364.8 791.0 364.1 791.5 365.1 792.0 364.1 792.5 364.0 793.0 363.7 793.5 363.9 794.0 364.7 794.5 363.8 795.0 363.9 795.5 363.9 796.0 364.0 796.5 363.6 797.0 363.8 797.5 363.4 798.0 363.5 798.5 363.6 799.0 363.9 799.5 363.6 800.0 363.0 800.5 362.8 801.0 363.0 801.5 363.7 802.0 362.4 802.5 362.5 803.0 362.3 803.5 361.4 804.0 362.3 804.5 361.4 805.0 361.8 805.5 361.6 806.0 361.9 806.5 361.0 807.0 361.4 807.5 360.2 808.0 360.4 808.5 360.6 809.0 360.0 809.5 360.1 810.0 360.1 810.5 359.9 811.0 360.7 811.5 359.6 812.0 360.4 812.5 359.1 813.0 360.1 813.5 359.2 814.0 358.7 814.5 358.7 815.0 357.5 815.5 358.0 816.0 358.5 816.5 357.0 817.0 357.0 817.5 356.4 818.0 356.3 818.5 356.5 819.0 356.0 819.5 355.4 820.0 356.5 820.5 355.2 821.0 355.0 821.5 354.1 822.0 354.2 822.5 354.6 823.0 354.0 823.5 353.6 824.0 353.1 824.5 352.6 825.0 352.1 825.5 351.7 826.0 351.2 826.5 350.3 827.0 349.7 827.5 348.3 828.0 346.8 828.5 345.9 829.0 344.9 829.5 344.6 830.0 343.3 830.5 342.4 831.0 340.6 831.5 339.3 832.0 339.6 832.5 338.4 833.0 336.4 833.5 334.7 834.0 335.0 834.5 332.8 835.0 333.8 835.5 336.0 836.0 336.1 836.5 337.5 837.0 337.2 837.5 337.7 838.0 339.8 838.5 339.3 839.0 339.9 839.5 341.4 840.0 342.3 840.5 343.7 841.0 344.0 841.5 344.7 842.0 344.5 842.5 344.5 843.0 344.3 843.5 343.9 844.0 343.4 844.5 341.5 845.0 340.2 845.5 339.8 846.0 337.9 846.5 335.7 847.0 334.7 847.5 332.7 848.0 331.6 848.5 328.5 849.0 327.4 849.5 325.1 850.0 324.1 850.5 322.3 851.0 320.3 851.5 318.7 852.0 318.1 852.5 316.1 853.0 314.5 853.5 313.4 854.0 312.9 854.5 311.2 855.0 309.0 855.5 308.0 856.0 307.4 856.5 305.7 857.0 304.2 857.5 307.3 858.0 308.5 858.5 310.3 859.0 311.9 859.5 314.5 860.0 316.5 860.5 317.4 861.0 319.7 861.5 321.8 862.0 323.5 862.5 325.8 863.0 327.3 863.5 329.1 864.0 330.4 864.5 333.0 865.0 333.7 865.5 335.6 866.0 336.8 866.5 338.3 867.0 339.4 867.5 340.6 868.0 342.3 868.5 343.4 869.0 344.3 869.5 345.3 870.0 347.0 870.5 348.0 871.0 350.0 871.5 351.2 872.0 352.0 872.5 352.6 873.0 353.4 873.5 354.6 874.0 355.6 874.5 355.9 875.0 357.3 875.5 357.9 876.0 359.0 876.5 359.9 877.0 359.2 877.5 360.3 878.0 360.8 878.5 361.3 879.0 360.9 879.5 361.5 880.0 362.5 880.5 361.3 881.0 361.6 881.5 361.2 882.0 361.0 882.5 361.9 883.0 360.9 883.5 362.2 884.0 361.2 884.5 361.5 885.0 360.5 885.5 361.5 886.0 360.8 886.5 360.6 887.0 359.9 887.5 361.4 888.0 361.1 888.5 361.0 889.0 361.5 889.5 361.2 890.0 361.9 890.5 361.4 891.0 360.7 891.5 361.1 892.0 362.0 892.5 361.2 893.0 362.1 893.5 361.3 894.0 362.0 894.5 360.5 895.0 361.1 895.5 361.2 896.0 360.2 896.5 360.4 897.0 362.0 897.5 361.1 898.0 361.6 898.5 360.5 899.0 361.8 899.5 361.2 900.0 361.5 900.5 360.5 901.0 361.7 901.5 360.4 902.0 360.5 902.5 360.7 903.0 361.5 903.5 360.5 904.0 360.8 904.5 361.0 905.0 361.6 905.5 361.7 906.0 361.2 906.5 361.3 907.0 360.8 907.5 361.5 908.0 362.1 908.5 361.8 909.0 361.6 909.5 361.6 910.0 360.7 910.5 361.7 911.0 361.5 911.5 361.0 912.0 360.5 912.5 361.3 913.0 360.5 913.5 360.3 914.0 360.5 914.5 361.2 915.0 361.2 915.5 359.7 916.0 359.7 916.5 359.8 917.0 360.4 917.5 360.7 918.0 361.2 918.5 360.7 919.0 360.5 919.5 361.6 920.0 360.5 920.5 360.8 921.0 361.4 921.5 360.4 922.0 361.3 922.5 360.4 923.0 360.7 923.5 360.4 924.0 360.7 924.5 361.1 925.0 361.3 925.5 360.4 926.0 360.6 926.5 360.7 927.0 360.0 927.5 360.2 928.0 360.5 928.5 360.3 929.0 360.2 929.5 360.2 930.0 360.5 930.5 359.7 931.0 360.7 931.5 359.9 932.0 360.5 932.5 359.9 933.0 360.6 933.5 360.1 934.0 360.1 934.5 358.8 935.0 359.1 935.5 359.1 936.0 358.9 936.5 359.7 937.0 358.4 937.5 359.0 938.0 358.4 938.5 358.9 939.0 358.8 939.5 357.9 940.0 357.2 940.5 358.3 941.0 357.8 941.5 357.4 942.0 357.2 942.5 357.2 943.0 357.0 943.5 356.0 944.0 356.0 944.5 355.8 945.0 355.8 945.5 355.1 946.0 355.7 946.5 355.6 947.0 354.4 947.5 355.0 948.0 354.3 948.5 353.7 949.0 353.6 949.5 353.1 950.0 353.4 950.5 353.2 951.0 352.6 951.5 353.1 952.0 351.4 952.5 351.9 953.0 351.5 953.5 351.3 954.0 351.0 954.5 351.6 955.0 350.5 955.5 350.8 956.0 350.1 956.5 349.7 957.0 350.3 957.5 349.5 958.0 349.9 958.5 349.8 959.0 348.9 959.5 348.5 960.0 348.9 960.5 348.5 961.0 348.1 961.5 347.1 962.0 347.3 962.5 347.9 963.0 346.5 963.5 346.8 964.0 346.8 964.5 346.3 965.0 345.8 965.5 345.6 966.0 345.0 966.5 344.1 967.0 344.4 967.5 345.0 968.0 345.0 968.5 343.6 969.0 343.7 969.5 343.2 970.0 342.4 970.5 342.1 971.0 343.2 971.5 342.7 972.0 342.5 972.5 342.4 973.0 342.4 973.5 341.6 974.0 341.1 974.5 340.7 975.0 341.0 975.5 340.5 976.0 339.9 976.5 338.8 977.0 339.1 977.5 339.9 978.0 338.3 978.5 338.5 979.0 337.7 979.5 337.9 980.0 337.4 980.5 335.7 981.0 336.2 981.5 334.2 982.0 334.6 982.5 333.7 983.0 333.1 983.5 332.5 984.0 331.0 984.5 330.6 985.0 330.1 985.5 328.8 986.0 328.0 986.5 326.8 987.0 326.7 987.5 325.1 988.0 323.9 988.5 322.7 989.0 322.3 989.5 321.0 990.0 320.8 990.5 318.8 991.0 318.6 991.5 316.3 992.0 314.6 992.5 313.0 993.0 312.8 993.5 311.0 994.0 309.9 994.5 308.3 995.0 306.3 995.5 304.9 996.0 303.6 996.5 301.6 997.0 298.9 997.5 297.7 998.0 295.0 998.5 292.8 999.0 290.7 999.5 288.5 1000.0 286.3 1000.5 284.6 1001.0 282.6 1001.5 280.7 1002.0 278.2 1002.5 276.5 1003.0 274.3 1003.5 272.9 1004.0 270.1 1004.5 268.8 1005.0 266.9 1005.5 264.0 1006.0 264.6 1006.5 265.7 1007.0 266.5 1007.5 268.4 1008.0 269.1 1008.5 271.0 1009.0 271.7 1009.5 274.0 1010.0 276.2 1010.5 275.7 1011.0 278.8 1011.5 282.2 1012.0 284.7 1012.5 287.9 1013.0 289.2 1013.5 292.2 1014.0 294.6 1014.5 297.1 1015.0 298.4 1015.5 300.0 1016.0 302.4 1016.5 303.3 1017.0 304.3 1017.5 306.6 1018.0 307.5 1018.5 307.8 1019.0 310.1 1019.5 310.7 1020.0 311.7 1020.5 312.4 1021.0 313.7 1021.5 314.5 1022.0 315.3 1022.5 315.6 1023.0 315.8 1023.5 316.8 1024.0 318.2 1024.5 318.2 1025.0 318.6 1025.5 318.5 1026.0 319.0 1026.5 319.5 1027.0 319.8 1027.5 320.6 1028.0 320.2 1028.5 320.3 1029.0 321.4 1029.5 320.9 1030.0 322.5 1030.5 322.4 1031.0 321.9 1031.5 322.2 1032.0 321.9 1032.5 322.4 1033.0 322.4 1033.5 322.1 1034.0 322.8 1034.5 322.6 1035.0 321.8 1035.5 321.6 1036.0 321.3 1036.5 320.6 1037.0 320.6 1037.5 320.1 1038.0 319.9 1038.5 320.0 1039.0 319.5 1039.5 319.0 1040.0 318.7 1040.5 317.5 1041.0 317.4 1041.5 316.6 1042.0 316.5 1042.5 314.6 1043.0 314.5 1043.5 312.4 1044.0 311.8 1044.5 311.4 1045.0 309.0 1045.5 309.2 1046.0 306.6 1046.5 304.5 1047.0 303.2 1047.5 301.0 1048.0 299.0 1048.5 297.0 1049.0 296.1 1049.5 294.3 1050.0 291.9 1050.5 289.6 1051.0 288.0 1051.5 286.3 1052.0 284.1 1052.5 282.9 1053.0 280.9 1053.5 278.5 1054.0 277.6 1054.5 274.1 1055.0 273.9 1055.5 275.6 1056.0 278.2 1056.5 278.5 1057.0 279.7 1057.5 282.6 1058.0 283.4 1058.5 285.3 1059.0 288.1 1059.5 289.3 1060.0 291.4 1060.5 293.2 1061.0 295.3 1061.5 298.4 1062.0 300.7 1062.5 303.6 1063.0 306.2 1063.5 308.4 1064.0 311.0 1064.5 313.7 1065.0 316.4 1065.5 319.7 1066.0 322.3 1066.5 325.7 1067.0 327.8 1067.5 331.1 1068.0 333.9 1068.5 335.6 1069.0 339.1 1069.5 340.9 1070.0 342.6 1070.5 344.6 1071.0 346.5 1071.5 348.1 1072.0 347.9 1072.5 349.4 1073.0 350.1 1073.5 350.4 1074.0 351.7 1074.5 352.1 1075.0 352.6 1075.5 354.0 1076.0 353.6 1076.5 354.5 1077.0 354.8 1077.5 356.0 1078.0 355.7 1078.5 356.0 1079.0 356.5 1079.5 357.2 1080.0 357.6 1080.5 358.0 1081.0 358.1 1081.5 358.5 1082.0 357.4 1082.5 358.1 1083.0 358.4 1083.5 358.2 1084.0 358.3 1084.5 359.3 1085.0 358.7 1085.5 360.0 1086.0 359.0 1086.5 359.5 1087.0 359.5 1087.5 359.8 1088.0 358.2 1088.5 358.7 1089.0 359.1 1089.5 359.2 1090.0 359.6 1090.5 358.8 1091.0 360.1 1091.5 359.5 1092.0 359.8 1092.5 360.3 1093.0 360.3 1093.5 359.7 1094.0 360.6 1094.5 360.0 1095.0 360.0 1095.5 359.9 1096.0 360.3 1096.5 361.2 1097.0 359.1 1097.5 360.3 1098.0 359.4 1098.5 360.5 1099.0 360.1 1099.5 359.8 1100.0 359.9 1100.5 359.3 1101.0 359.6 1101.5 360.0 1102.0 359.3 1102.5 359.6 1103.0 359.7 1103.5 359.8 1104.0 359.0 1104.5 360.4 1105.0 359.9 1105.5 360.2 1106.0 360.8 1106.5 359.6 1107.0 359.2 1107.5 359.8 1108.0 360.3 1108.5 359.9 1109.0 359.1 1109.5 359.6 1110.0 360.3 1110.5 359.5 1111.0 360.3 1111.5 359.6 1112.0 360.5 1112.5 358.8 1113.0 360.3 1113.5 359.5 1114.0 359.4 1114.5 359.4 1115.0 360.5 1115.5 361.0 1116.0 360.2 1116.5 360.0 1117.0 359.4 1117.5 358.9 1118.0 359.4 1118.5 360.3 1119.0 359.3 1119.5 360.6 1120.0 360.3 1120.5 359.6 1121.0 359.4 1121.5 360.2 1122.0 359.9 1122.5 359.9 1123.0 361.0 1123.5 360.3 1124.0 360.2 1124.5 360.0 1125.0 360.4 1125.5 360.6 1126.0 359.9 1126.5 359.9 1127.0 360.8 1127.5 359.8 1128.0 360.5 1128.5 360.2 1129.0 360.3 1129.5 358.7 1130.0 359.4 1130.5 359.9 1131.0 360.4 1131.5 360.5 1132.0 359.6 1132.5 358.9 1133.0 360.3 1133.5 360.0 1134.0 359.8 1134.5 359.5 1135.0 360.0 1135.5 360.2 1136.0 360.2 1136.5 359.5 1137.0 360.4 1137.5 359.6 1138.0 359.9 1138.5 359.1 1139.0 360.0 1139.5 360.3 1140.0 359.9 1140.5 359.6 1141.0 360.2 1141.5 360.2 1142.0 360.8 1142.5 360.5 1143.0 360.6 1143.5 361.5 1144.0 360.5 1144.5 359.2 1145.0 360.4 1145.5 360.6 1146.0 360.2 1146.5 360.5 1147.0 360.3 1147.5 360.1 1148.0 360.6 1148.5 360.3 1149.0 360.0 1149.5 359.4 1150.0 358.9 1150.5 360.2 1151.0 360.2 1151.5 359.6 1152.0 360.7 1152.5 359.9 1153.0 360.2 1153.5 360.2 1154.0 361.0 1154.5 359.6 1155.0 360.4 1155.5 359.7 1156.0 360.8 1156.5 360.1 1157.0 360.3 1157.5 359.4 1158.0 360.5 1158.5 359.2 1159.0 360.3 1159.5 359.9 1160.0 360.3 1160.5 359.4 1161.0 360.1 1161.5 360.0 1162.0 359.8 1162.5 360.6 1163.0 360.0 1163.5 360.7 1164.0 360.3 1164.5 360.3 1165.0 360.2 1165.5 359.5 1166.0 359.3 1166.5 360.0 1167.0 359.8 1167.5 359.5 1168.0 359.1 1168.5 359.5 1169.0 359.7 1169.5 359.7 1170.0 360.7 1170.5 360.9 1171.0 360.7 1171.5 360.2 1172.0 360.4 1172.5 360.2 1173.0 360.4 1173.5 360.5 1174.0 359.7 1174.5 359.8 1175.0 360.0 1175.5 360.0 1176.0 360.1 1176.5 359.3 1177.0 359.9 1177.5 359.8 1178.0 360.5 1178.5 360.0 1179.0 359.6 1179.5 359.2 1180.0 359.4 1180.5 359.4 1181.0 360.3 1181.5 359.2 1182.0 360.2 1182.5 360.6 1183.0 359.6 1183.5 359.9 1184.0 359.2 1184.5 359.3 1185.0 360.1 1185.5 359.5 1186.0 360.0 1186.5 361.1 1187.0 360.4 1187.5 360.7 1188.0 360.9 1188.5 359.2 1189.0 360.3 1189.5 359.5 1190.0 359.2 1190.5 359.9 1191.0 359.8 1191.5 359.5 1192.0 359.6 1192.5 359.7 1193.0 359.4 1193.5 359.4 1194.0 360.4 1194.5 359.8 1195.0 360.3 1195.5 360.4 1196.0 360.2 1196.5 359.2 1197.0 360.4 1197.5 359.9 1198.0 359.6 1198.5 359.6 1199.0 360.0 1199.5 359.6 1200.0 358.6 1200.5 359.9 1201.0 360.1 1201.5 359.6 1202.0 359.0 1202.5 359.3 1203.0 359.0 1203.5 359.6 1204.0 360.1 1204.5 359.4 1205.0 359.1 1205.5 359.1 1206.0 358.9 1206.5 359.0 1207.0 359.3 1207.5 359.8 1208.0 359.6 1208.5 359.2 1209.0 359.3 1209.5 359.4 1210.0 359.7 1210.5 359.7 1211.0 359.4 1211.5 358.6 1212.0 359.6 1212.5 359.5 1213.0 359.5 1213.5 359.9 1214.0 359.8 1214.5 360.0 1215.0 359.5 1215.5 360.1 1216.0 359.6 1216.5 359.8 1217.0 359.4 1217.5 359.6 1218.0 359.2 1218.5 359.6 1219.0 359.4 1219.5 359.5 1220.0 359.5 1220.5 359.5 1221.0 360.3 1221.5 360.2 1222.0 360.0 1222.5 359.1 1223.0 359.9 1223.5 359.2 1224.0 359.5 1224.5 358.8 1225.0 359.3 1225.5 359.9 1226.0 359.6 1226.5 359.4 1227.0 359.9 1227.5 360.0 1228.0 359.9 1228.5 359.1 1229.0 360.2 1229.5 359.5 1230.0 360.2 1230.5 360.0 1231.0 359.5 1231.5 359.2 1232.0 359.7 1232.5 359.4 1233.0 359.7 1233.5 359.0 1234.0 360.8 1234.5 360.2" fill="none" stroke="#7b12f2" stroke-width="3.3" stroke-linejoin="round"/>
<path d="M756.0 409.1 756.5 410.4 757.0 410.3 757.5 410.0 758.0 410.2 758.5 410.5 759.0 410.4 759.5 410.2 760.0 411.3 760.5 410.6 761.0 410.4 761.5 409.7 762.0 410.5 762.5 410.6 763.0 411.7 763.5 411.1 764.0 410.8 764.5 410.6 765.0 410.7 765.5 410.9 766.0 410.0 766.5 411.0 767.0 411.4 767.5 411.2 768.0 410.3 768.5 410.7 769.0 410.6 769.5 410.3 770.0 411.7 770.5 410.9 771.0 411.0 771.5 410.7 772.0 412.1 772.5 411.0 773.0 412.0 773.5 411.9 774.0 411.2 774.5 411.2 775.0 412.4 775.5 411.5 776.0 411.5 776.5 411.6 777.0 411.7 777.5 411.5 778.0 410.9 778.5 410.5 779.0 411.7 779.5 411.2 780.0 411.5 780.5 411.5 781.0 412.0 781.5 412.0 782.0 411.7 782.5 411.6 783.0 410.4 783.5 410.7 784.0 411.4 784.5 411.4 785.0 411.4 785.5 411.5 786.0 412.5 786.5 411.8 787.0 411.3 787.5 412.0 788.0 412.3 788.5 411.8 789.0 411.2 789.5 411.9 790.0 411.5 790.5 410.3 791.0 410.5 791.5 411.8 792.0 411.0 792.5 410.6 793.0 410.8 793.5 410.3 794.0 410.7 794.5 410.5 795.0 411.1 795.5 410.5 796.0 411.2 796.5 410.8 797.0 411.4 797.5 410.6 798.0 411.0 798.5 410.3 799.0 411.5 799.5 410.5 800.0 410.7 800.5 411.2 801.0 410.9 801.5 411.6 802.0 410.6 802.5 410.0 803.0 409.4 803.5 410.3 804.0 410.4 804.5 409.2 805.0 409.6 805.5 409.6 806.0 409.7 806.5 409.3 807.0 409.5 807.5 409.5 808.0 409.6 808.5 409.2 809.0 408.5 809.5 408.8 810.0 408.4 810.5 408.6 811.0 408.3 811.5 407.7 812.0 406.7 812.5 406.7 813.0 407.2 813.5 406.5 814.0 406.8 814.5 405.4 815.0 407.6 815.5 406.2 816.0 405.4 816.5 404.5 817.0 405.8 817.5 404.0 818.0 404.3 818.5 403.0 819.0 404.9 819.5 403.9 820.0 403.5 820.5 403.4 821.0 402.8 821.5 402.8 822.0 402.7 822.5 402.5 823.0 401.9 823.5 401.9 824.0 401.3 824.5 401.8 825.0 399.8 825.5 400.0 826.0 399.1 826.5 399.0 827.0 398.2 827.5 397.6 828.0 397.1 828.5 397.1 829.0 395.4 829.5 393.8 830.0 393.0 830.5 390.8 831.0 388.6 831.5 388.5 832.0 385.5 832.5 384.8 833.0 382.5 833.5 380.6 834.0 379.2 834.5 378.3 835.0 380.3 835.5 381.4 836.0 381.2 836.5 382.4 837.0 383.3 837.5 384.1 838.0 384.7 838.5 386.1 839.0 386.6 839.5 388.1 840.0 387.5 840.5 389.9 841.0 389.9 841.5 391.8 842.0 391.2 842.5 391.8 843.0 391.1 843.5 392.2 844.0 391.5 844.5 391.5 845.0 389.8 845.5 388.6 846.0 387.9 846.5 386.4 847.0 384.3 847.5 384.2 848.0 381.1 848.5 379.8 849.0 377.0 849.5 376.4 850.0 373.7 850.5 372.4 851.0 370.6 851.5 367.4 852.0 367.7 852.5 365.7 853.0 363.0 853.5 362.6 854.0 361.2 854.5 358.3 855.0 358.6 855.5 357.8 856.0 355.1 856.5 353.7 857.0 353.4 857.5 352.3 858.0 351.0 858.5 352.2 859.0 355.2 859.5 355.8 860.0 357.1 860.5 359.3 861.0 361.4 861.5 361.7 862.0 364.3 862.5 366.3 863.0 367.9 863.5 369.9 864.0 372.7 864.5 372.9 865.0 375.1 865.5 376.2 866.0 378.2 866.5 379.9 867.0 382.3 867.5 384.1 868.0 384.2 868.5 385.8 869.0 388.7 869.5 389.7 870.0 390.6 870.5 391.8 871.0 394.2 871.5 395.6 872.0 396.3 872.5 398.5 873.0 399.6 873.5 400.8 874.0 402.3 874.5 403.7 875.0 404.0 875.5 405.2 876.0 406.7 876.5 405.5 877.0 407.7 877.5 408.2 878.0 408.9 878.5 408.5 879.0 408.3 879.5 408.7 880.0 409.4 880.5 410.0 881.0 410.1 881.5 408.6 882.0 408.6 882.5 409.5 883.0 409.8 883.5 408.7 884.0 410.1 884.5 410.2 885.0 409.4 885.5 410.2 886.0 409.7 886.5 409.7 887.0 409.6 887.5 409.0 888.0 409.3 888.5 409.3 889.0 409.2 889.5 409.3 890.0 409.5 890.5 408.6 891.0 408.6 891.5 408.9 892.0 409.2 892.5 408.9 893.0 408.4 893.5 408.7 894.0 408.9 894.5 408.7 895.0 409.5 895.5 409.0 896.0 409.3 896.5 408.5 897.0 408.9 897.5 408.9 898.0 409.0 898.5 409.3 899.0 409.5 899.5 409.6 900.0 409.5 900.5 408.9 901.0 410.8 901.5 409.2 902.0 410.2 902.5 410.6 903.0 409.4 903.5 409.8 904.0 408.9 904.5 409.4 905.0 408.9 905.5 409.1 906.0 409.7 906.5 409.3 907.0 409.5 907.5 410.0 908.0 408.9 908.5 408.4 909.0 409.2 909.5 410.3 910.0 410.2 910.5 410.1 911.0 409.7 911.5 408.5 912.0 409.2 912.5 409.6 913.0 409.7 913.5 410.5 914.0 410.0 914.5 408.5 915.0 408.3 915.5 410.9 916.0 409.6 916.5 408.9 917.0 408.9 917.5 408.7 918.0 409.1 918.5 409.7 919.0 410.1 919.5 408.6 920.0 408.4 920.5 409.0 921.0 409.0 921.5 410.1 922.0 410.3 922.5 410.2 923.0 409.7 923.5 409.9 924.0 409.3 924.5 409.8 925.0 410.5 925.5 409.7 926.0 409.0 926.5 409.3 927.0 409.1 927.5 410.3 928.0 409.1 928.5 409.6 929.0 409.1 929.5 409.2 930.0 408.2 930.5 408.8 931.0 409.6 931.5 408.7 932.0 408.5 932.5 409.0 933.0 408.8 933.5 408.5 934.0 409.1 934.5 408.5 935.0 408.3 935.5 407.9 936.0 407.4 936.5 408.1 937.0 406.8 937.5 407.5 938.0 406.3 938.5 406.3 939.0 405.7 939.5 405.0 940.0 405.6 940.5 405.0 941.0 405.1 941.5 404.6 942.0 404.3 942.5 403.6 943.0 403.0 943.5 402.4 944.0 403.1 944.5 403.1 945.0 402.4 945.5 402.5 946.0 401.7 946.5 401.8 947.0 400.6 947.5 400.5 948.0 400.7 948.5 400.2 949.0 399.1 949.5 399.8 950.0 399.1 950.5 399.7 951.0 398.9 951.5 399.4 952.0 399.5 952.5 399.1 953.0 398.1 953.5 398.3 954.0 398.7 954.5 397.6 955.0 397.5 955.5 398.4 956.0 397.3 956.5 396.8 957.0 396.4 957.5 396.6 958.0 396.7 958.5 396.6 959.0 395.7 959.5 396.7 960.0 396.8 960.5 396.1 961.0 395.9 961.5 396.3 962.0 395.6 962.5 395.8 963.0 396.1 963.5 395.9 964.0 395.4 964.5 395.7 965.0 394.3 965.5 395.4 966.0 395.1 966.5 395.5 967.0 394.0 967.5 393.5 968.0 394.2 968.5 393.1 969.0 393.1 969.5 393.1 970.0 393.3 970.5 392.8 971.0 392.0 971.5 391.6 972.0 391.8 972.5 391.2 973.0 391.2 973.5 390.8 974.0 389.9 974.5 389.2 975.0 388.9 975.5 387.9 976.0 386.7 976.5 387.0 977.0 386.3 977.5 386.8 978.0 385.4 978.5 385.2 979.0 384.7 979.5 383.9 980.0 382.6 980.5 382.5 981.0 382.5 981.5 381.0 982.0 379.7 982.5 379.8 983.0 378.8 983.5 378.1 984.0 376.5 984.5 376.1 985.0 374.8 985.5 374.4 986.0 373.4 986.5 372.4 987.0 371.6 987.5 370.2 988.0 369.1 988.5 367.7 989.0 367.6 989.5 365.6 990.0 363.5 990.5 362.4 991.0 361.2 991.5 361.3 992.0 358.2 992.5 357.8 993.0 355.7 993.5 354.4 994.0 353.0 994.5 351.5 995.0 349.2 995.5 347.4 996.0 346.3 996.5 345.3 997.0 343.7 997.5 341.5 998.0 340.0 998.5 337.6 999.0 336.2 999.5 335.4 1000.0 333.2 1000.5 332.2 1001.0 331.0 1001.5 327.9 1002.0 326.2 1002.5 324.5 1003.0 324.3 1003.5 322.5 1004.0 321.4 1004.5 320.1 1005.0 317.6 1005.5 316.1 1006.0 315.3 1006.5 314.5 1007.0 314.7 1007.5 316.4 1008.0 318.4 1008.5 319.9 1009.0 321.4 1009.5 323.7 1010.0 324.8 1010.5 325.8 1011.0 327.7 1011.5 330.0 1012.0 331.3 1012.5 333.3 1013.0 335.8 1013.5 337.0 1014.0 340.3 1014.5 341.9 1015.0 344.6 1015.5 345.6 1016.0 347.3 1016.5 349.8 1017.0 352.1 1017.5 352.3 1018.0 355.4 1018.5 356.0 1019.0 357.6 1019.5 358.0 1020.0 359.7 1020.5 360.3 1021.0 361.4 1021.5 362.9 1022.0 363.1 1022.5 363.9 1023.0 365.1 1023.5 365.0 1024.0 365.4 1024.5 366.1 1025.0 366.1 1025.5 367.2 1026.0 367.4 1026.5 368.7 1027.0 368.6 1027.5 369.0 1028.0 370.0 1028.5 370.8 1029.0 369.5 1029.5 370.1 1030.0 371.2 1030.5 370.1 1031.0 371.5 1031.5 370.9 1032.0 371.7 1032.5 371.0 1033.0 371.0 1033.5 370.6 1034.0 370.4 1034.5 369.5 1035.0 369.9 1035.5 370.2 1036.0 369.3 1036.5 368.8 1037.0 367.1 1037.5 367.2 1038.0 367.7 1038.5 366.2 1039.0 365.1 1039.5 364.7 1040.0 364.0 1040.5 363.8 1041.0 363.4 1041.5 361.7 1042.0 360.9 1042.5 360.5 1043.0 358.8 1043.5 357.8 1044.0 357.6 1044.5 355.8 1045.0 354.3 1045.5 354.7 1046.0 352.4 1046.5 350.9 1047.0 349.9 1047.5 348.1 1048.0 346.6 1048.5 345.7 1049.0 343.7 1049.5 342.4 1050.0 340.2 1050.5 338.5 1051.0 337.4 1051.5 335.2 1052.0 333.4 1052.5 331.8 1053.0 330.4 1053.5 327.7 1054.0 326.6 1054.5 325.0 1055.0 323.7 1055.5 323.0 1056.0 324.7 1056.5 326.1 1057.0 329.1 1057.5 330.3 1058.0 331.3 1058.5 332.5 1059.0 335.0 1059.5 336.7 1060.0 338.4 1060.5 340.2 1061.0 342.7 1061.5 345.8 1062.0 347.5 1062.5 350.0 1063.0 354.4 1063.5 355.9 1064.0 358.7 1064.5 362.0 1065.0 365.2 1065.5 367.4 1066.0 370.8 1066.5 374.2 1067.0 376.1 1067.5 378.1 1068.0 381.2 1068.5 383.9 1069.0 385.7 1069.5 388.1 1070.0 390.5 1070.5 391.1 1071.0 393.3 1071.5 395.0 1072.0 395.7 1072.5 397.4 1073.0 397.4 1073.5 400.0 1074.0 399.6 1074.5 400.5 1075.0 400.5 1075.5 401.6 1076.0 402.4 1076.5 404.0 1077.0 404.4 1077.5 405.0 1078.0 405.5 1078.5 405.0 1079.0 405.5 1079.5 406.2 1080.0 406.3 1080.5 406.6 1081.0 406.9 1081.5 407.7 1082.0 407.8 1082.5 406.6 1083.0 406.6 1083.5 408.2 1084.0 407.8 1084.5 408.2 1085.0 408.9 1085.5 407.8 1086.0 408.6 1086.5 409.3 1087.0 409.1 1087.5 408.7 1088.0 408.6 1088.5 409.3 1089.0 409.1 1089.5 409.0 1090.0 409.1 1090.5 410.3 1091.0 409.3 1091.5 410.3 1092.0 410.1 1092.5 410.0 1093.0 410.5 1093.5 410.5 1094.0 410.6 1094.5 410.0 1095.0 410.6 1095.5 409.9 1096.0 410.3 1096.5 410.8 1097.0 410.2 1097.5 410.3 1098.0 409.2 1098.5 409.7 1099.0 408.8 1099.5 409.0 1100.0 409.6 1100.5 409.9 1101.0 409.0 1101.5 408.8 1102.0 409.4 1102.5 410.5 1103.0 409.9 1103.5 409.3 1104.0 409.5 1104.5 410.6 1105.0 410.9 1105.5 409.4 1106.0 409.1 1106.5 409.8 1107.0 409.8 1107.5 408.6 1108.0 409.7 1108.5 410.6 1109.0 410.5 1109.5 410.8 1110.0 409.8 1110.5 409.6 1111.0 410.4 1111.5 410.8 1112.0 410.3 1112.5 410.5 1113.0 410.6 1113.5 410.2 1114.0 410.1 1114.5 410.7 1115.0 410.1 1115.5 410.2 1116.0 409.7 1116.5 410.0 1117.0 410.1 1117.5 410.1 1118.0 409.5 1118.5 409.9 1119.0 409.8 1119.5 410.0 1120.0 409.9 1120.5 408.8 1121.0 410.3 1121.5 409.0 1122.0 410.0 1122.5 409.9 1123.0 409.8 1123.5 409.3 1124.0 409.3 1124.5 410.3 1125.0 409.3 1125.5 409.4 1126.0 409.4 1126.5 410.2 1127.0 410.7 1127.5 409.7 1128.0 409.8 1128.5 409.3 1129.0 410.4 1129.5 410.1 1130.0 409.9 1130.5 410.1 1131.0 409.3 1131.5 410.3 1132.0 411.5 1132.5 409.7 1133.0 410.8 1133.5 409.9 1134.0 410.4 1134.5 409.7 1135.0 410.7 1135.5 409.4 1136.0 410.2 1136.5 409.3 1137.0 409.6 1137.5 409.1 1138.0 409.7 1138.5 409.1 1139.0 410.1 1139.5 409.1 1140.0 409.6 1140.5 410.0 1141.0 409.8 1141.5 410.6 1142.0 409.3 1142.5 410.1 1143.0 410.0 1143.5 409.8 1144.0 409.9 1144.5 410.8 1145.0 410.8 1145.5 409.9 1146.0 410.6 1146.5 411.3 1147.0 410.4 1147.5 409.8 1148.0 410.3 1148.5 410.2 1149.0 409.8 1149.5 409.9 1150.0 409.7 1150.5 409.1 1151.0 409.9 1151.5 408.9 1152.0 408.7 1152.5 408.9 1153.0 408.9 1153.5 409.3 1154.0 408.6 1154.5 409.6 1155.0 409.2 1155.5 409.5 1156.0 410.1 1156.5 410.5 1157.0 409.5 1157.5 408.4 1158.0 409.1 1158.5 410.2 1159.0 408.5 1159.5 409.1 1160.0 408.7 1160.5 409.4 1161.0 409.8 1161.5 410.2 1162.0 410.1 1162.5 409.6 1163.0 410.0 1163.5 410.5 1164.0 409.3 1164.5 409.8 1165.0 410.7 1165.5 409.2 1166.0 409.0 1166.5 410.1 1167.0 410.0 1167.5 409.2 1168.0 409.3 1168.5 409.3 1169.0 410.3 1169.5 410.0 1170.0 410.1 1170.5 409.7 1171.0 410.5 1171.5 410.3 1172.0 409.7 1172.5 409.4 1173.0 410.0 1173.5 409.1 1174.0 409.3 1174.5 409.6 1175.0 409.7 1175.5 410.0 1176.0 409.6 1176.5 409.9 1177.0 408.8 1177.5 410.0 1178.0 409.3 1178.5 409.8 1179.0 409.1 1179.5 409.7 1180.0 409.7 1180.5 408.5 1181.0 409.7 1181.5 409.3 1182.0 410.0 1182.5 408.8 1183.0 409.9 1183.5 409.5 1184.0 409.2 1184.5 409.3 1185.0 409.2 1185.5 410.3 1186.0 409.8 1186.5 409.2 1187.0 408.8 1187.5 408.5 1188.0 408.9 1188.5 410.4 1189.0 408.9 1189.5 409.1 1190.0 409.9 1190.5 408.5 1191.0 409.5 1191.5 410.1 1192.0 408.9 1192.5 408.9 1193.0 409.2 1193.5 409.4 1194.0 409.0 1194.5 409.2 1195.0 409.0 1195.5 409.2 1196.0 408.9 1196.5 409.1 1197.0 408.1 1197.5 408.9 1198.0 407.7 1198.5 409.3 1199.0 408.9 1199.5 409.6 1200.0 408.1 1200.5 409.3 1201.0 408.5 1201.5 408.3 1202.0 408.6 1202.5 409.2 1203.0 408.2 1203.5 408.9 1204.0 408.1 1204.5 409.5 1205.0 409.3 1205.5 408.9 1206.0 408.6 1206.5 408.8 1207.0 409.0 1207.5 408.2 1208.0 408.8 1208.5 409.3 1209.0 408.2 1209.5 408.5 1210.0 408.3 1210.5 409.0 1211.0 409.6 1211.5 408.8 1212.0 408.7 1212.5 407.6 1213.0 408.0 1213.5 407.9 1214.0 407.7 1214.5 409.3 1215.0 408.1 1215.5 408.6 1216.0 408.6 1216.5 408.6 1217.0 408.6 1217.5 408.3 1218.0 408.2 1218.5 408.3 1219.0 407.4 1219.5 406.6 1220.0 407.9 1220.5 407.7 1221.0 407.0 1221.5 408.2 1222.0 406.9 1222.5 407.2 1223.0 407.3 1223.5 407.2 1224.0 407.7 1224.5 408.4 1225.0 408.4 1225.5 408.4 1226.0 408.7 1226.5 408.3 1227.0 407.8 1227.5 408.1 1228.0 408.1 1228.5 407.9 1229.0 408.1 1229.5 407.1 1230.0 407.5 1230.5 407.5 1231.0 406.9 1231.5 407.4 1232.0 407.7 1232.5 406.6 1233.0 408.1 1233.5 407.1 1234.0 407.2 1234.5 408.4" fill="none" stroke="#008000" stroke-width="3.3" stroke-linejoin="round"/>
<path d="M756.0 458.6 756.5 459.0 757.0 458.4 757.5 457.8 758.0 459.1 758.5 459.0 759.0 458.9 759.5 458.4 760.0 458.6 760.5 459.1 761.0 458.8 761.5 459.4 762.0 460.3 762.5 458.3 763.0 458.5 763.5 458.5 764.0 458.7 764.5 460.0 765.0 459.5 765.5 459.3 766.0 458.7 766.5 459.8 767.0 459.9 767.5 460.2 768.0 459.5 768.5 459.2 769.0 460.3 769.5 460.0 770.0 459.1 770.5 459.9 771.0 459.0 771.5 459.1 772.0 460.0 772.5 458.6 773.0 459.1 773.5 458.8 774.0 460.2 774.5 459.0 775.0 459.3 775.5 459.6 776.0 458.8 776.5 460.3 777.0 460.0 777.5 459.3 778.0 458.3 778.5 458.3 779.0 460.1 779.5 458.9 780.0 459.4 780.5 459.4 781.0 458.5 781.5 459.1 782.0 459.0 782.5 459.5 783.0 458.8 783.5 459.4 784.0 459.3 784.5 459.2 785.0 458.8 785.5 459.9 786.0 459.4 786.5 459.8 787.0 459.2 787.5 459.4 788.0 459.4 788.5 460.1 789.0 459.8 789.5 460.0 790.0 459.6 790.5 460.1 791.0 459.5 791.5 459.4 792.0 459.8 792.5 460.4 793.0 460.1 793.5 458.9 794.0 459.1 794.5 459.5 795.0 459.3 795.5 458.8 796.0 459.3 796.5 458.7 797.0 458.9 797.5 458.1 798.0 459.0 798.5 458.3 799.0 459.5 799.5 458.2 800.0 458.9 800.5 458.5 801.0 458.5 801.5 458.5 802.0 457.8 802.5 457.5 803.0 456.7 803.5 457.6 804.0 457.8 804.5 457.8 805.0 457.7 805.5 457.3 806.0 457.1 806.5 456.9 807.0 456.6 807.5 456.5 808.0 456.8 808.5 457.2 809.0 456.6 809.5 457.3 810.0 456.2 810.5 455.9 811.0 455.8 811.5 455.9 812.0 455.6 812.5 455.4 813.0 453.8 813.5 455.7 814.0 454.4 814.5 453.3 815.0 452.9 815.5 452.4 816.0 453.2 816.5 453.0 817.0 452.8 817.5 452.8 818.0 452.7 818.5 451.9 819.0 452.4 819.5 451.6 820.0 452.6 820.5 452.1 821.0 451.9 821.5 450.8 822.0 450.5 822.5 450.9 823.0 449.8 823.5 449.3 824.0 449.4 824.5 448.6 825.0 448.4 825.5 447.6 826.0 448.1 826.5 446.6 827.0 447.4 827.5 445.6 828.0 445.1 828.5 444.9 829.0 443.5 829.5 442.5 830.0 442.2 830.5 440.2 831.0 437.3 831.5 435.9 832.0 436.1 832.5 434.5 833.0 432.5 833.5 431.2 834.0 429.3 834.5 428.7 835.0 428.4 835.5 428.9 836.0 430.0 836.5 430.6 837.0 430.9 837.5 432.3 838.0 432.9 838.5 433.1 839.0 435.4 839.5 436.4 840.0 434.9 840.5 437.8 841.0 438.6 841.5 439.1 842.0 439.4 842.5 439.9 843.0 440.3 843.5 440.2 844.0 439.5 844.5 438.8 845.0 437.8 845.5 438.0 846.0 435.9 846.5 434.0 847.0 434.0 847.5 430.9 848.0 429.1 848.5 426.2 849.0 424.9 849.5 423.1 850.0 422.3 850.5 419.4 851.0 417.7 851.5 414.5 852.0 414.2 852.5 412.9 853.0 410.8 853.5 409.2 854.0 407.9 854.5 406.3 855.0 405.9 855.5 404.3 856.0 402.8 856.5 400.0 857.0 399.6 857.5 398.0 858.0 397.3 858.5 398.7 859.0 399.3 859.5 402.3 860.0 403.0 860.5 406.5 861.0 407.5 861.5 408.0 862.0 410.1 862.5 411.8 863.0 414.2 863.5 415.2 864.0 417.7 864.5 418.8 865.0 421.5 865.5 422.1 866.0 424.5 866.5 425.6 867.0 428.3 867.5 429.5 868.0 430.5 868.5 432.9 869.0 434.2 869.5 435.6 870.0 437.9 870.5 438.1 871.0 440.8 871.5 443.2 872.0 443.2 872.5 444.7 873.0 446.5 873.5 447.8 874.0 449.8 874.5 448.7 875.0 452.6 875.5 452.9 876.0 453.8 876.5 454.4 877.0 455.1 877.5 456.1 878.0 456.8 878.5 457.5 879.0 457.7 879.5 457.3 880.0 457.6 880.5 457.8 881.0 456.9 881.5 457.7 882.0 457.7 882.5 457.7 883.0 457.4 883.5 456.4 884.0 456.8 884.5 458.1 885.0 457.1 885.5 457.7 886.0 457.2 886.5 457.4 887.0 457.0 887.5 457.8 888.0 457.0 888.5 458.5 889.0 458.5 889.5 457.7 890.0 457.7 890.5 457.4 891.0 457.2 891.5 458.0 892.0 457.2 892.5 456.7 893.0 456.9 893.5 457.2 894.0 457.2 894.5 456.5 895.0 457.0 895.5 456.1 896.0 456.2 896.5 457.3 897.0 456.6 897.5 457.5 898.0 457.8 898.5 457.6 899.0 456.9 899.5 456.6 900.0 456.8 900.5 456.3 901.0 456.3 901.5 455.8 902.0 457.0 902.5 457.1 903.0 456.1 903.5 457.0 904.0 456.2 904.5 457.0 905.0 457.4 905.5 457.3 906.0 457.9 906.5 457.5 907.0 456.3 907.5 457.2 908.0 457.4 908.5 456.4 909.0 457.1 909.5 457.9 910.0 457.2 910.5 456.2 911.0 456.9 911.5 458.1 912.0 456.5 912.5 456.5 913.0 457.9 913.5 455.9 914.0 456.5 914.5 457.2 915.0 456.2 915.5 456.1 916.0 456.4 916.5 456.0 917.0 456.5 917.5 455.1 918.0 455.1 918.5 456.4 919.0 456.1 919.5 455.3 920.0 456.2 920.5 455.7 921.0 456.3 921.5 456.0 922.0 455.3 922.5 456.1 923.0 456.0 923.5 455.4 924.0 456.4 924.5 455.2 925.0 455.6 925.5 455.7 926.0 456.5 926.5 456.3 927.0 456.0 927.5 455.6 928.0 456.1 928.5 454.8 929.0 455.4 929.5 454.6 930.0 454.9 930.5 455.4 931.0 455.2 931.5 454.6 932.0 454.3 932.5 455.5 933.0 454.9 933.5 454.2 934.0 453.9 934.5 453.7 935.0 454.6 935.5 454.2 936.0 453.1 936.5 454.3 937.0 452.8 937.5 452.0 938.0 452.8 938.5 451.8 939.0 452.9 939.5 452.5 940.0 450.5 940.5 450.7 941.0 450.6 941.5 449.7 942.0 450.1 942.5 450.1 943.0 450.3 943.5 449.9 944.0 449.1 944.5 449.1 945.0 449.1 945.5 448.3 946.0 448.0 946.5 449.1 947.0 447.8 947.5 447.8 948.0 447.0 948.5 446.3 949.0 446.5 949.5 446.4 950.0 446.7 950.5 446.4 951.0 446.1 951.5 446.0 952.0 446.1 952.5 445.1 953.0 444.7 953.5 445.0 954.0 444.5 954.5 444.4 955.0 444.3 955.5 444.1 956.0 445.0 956.5 443.2 957.0 444.9 957.5 443.9 958.0 443.6 958.5 443.8 959.0 443.0 959.5 443.6 960.0 443.0 960.5 444.4 961.0 444.0 961.5 444.2 962.0 443.4 962.5 443.0 963.0 443.9 963.5 443.9 964.0 442.6 964.5 442.9 965.0 442.2 965.5 441.5 966.0 442.4 966.5 443.1 967.0 442.1 967.5 441.3 968.0 442.2 968.5 441.9 969.0 442.0 969.5 441.3 970.0 441.6 970.5 440.8 971.0 441.1 971.5 439.7 972.0 440.8 972.5 438.7 973.0 438.7 973.5 438.6 974.0 437.4 974.5 437.8 975.0 437.5 975.5 437.4 976.0 435.7 976.5 436.0 977.0 435.3 977.5 434.6 978.0 435.7 978.5 434.0 979.0 433.8 979.5 432.5 980.0 432.7 980.5 433.1 981.0 432.2 981.5 431.3 982.0 432.0 982.5 431.0 983.0 429.8 983.5 428.9 984.0 428.4 984.5 427.8 985.0 426.6 985.5 425.7 986.0 424.9 986.5 423.9 987.0 422.8 987.5 421.3 988.0 421.0 988.5 419.9 989.0 417.3 989.5 416.0 990.0 414.6 990.5 415.4 991.0 413.7 991.5 412.2 992.0 410.3 992.5 409.6 993.0 408.8 993.5 406.7 994.0 405.7 994.5 402.6 995.0 400.5 995.5 400.1 996.0 398.1 996.5 397.1 997.0 393.7 997.5 391.6 998.0 390.9 998.5 388.3 999.0 387.3 999.5 385.1 1000.0 383.3 1000.5 380.3 1001.0 380.6 1001.5 377.9 1002.0 376.8 1002.5 373.1 1003.0 371.6 1003.5 369.5 1004.0 368.0 1004.5 367.6 1005.0 364.8 1005.5 363.7 1006.0 361.7 1006.5 361.8 1007.0 364.4 1007.5 364.7 1008.0 366.0 1008.5 367.1 1009.0 369.9 1009.5 371.6 1010.0 372.5 1010.5 373.9 1011.0 375.4 1011.5 378.0 1012.0 379.9 1012.5 380.9 1013.0 384.2 1013.5 386.2 1014.0 388.9 1014.5 390.4 1015.0 393.1 1015.5 396.2 1016.0 396.5 1016.5 399.3 1017.0 401.0 1017.5 402.7 1018.0 404.5 1018.5 405.7 1019.0 406.0 1019.5 408.1 1020.0 409.0 1020.5 409.3 1021.0 410.7 1021.5 412.3 1022.0 410.6 1022.5 412.0 1023.0 413.9 1023.5 414.7 1024.0 414.4 1024.5 414.4 1025.0 415.6 1025.5 416.1 1026.0 416.9 1026.5 417.3 1027.0 417.8 1027.5 417.3 1028.0 419.7 1028.5 418.6 1029.0 418.6 1029.5 418.9 1030.0 419.7 1030.5 420.6 1031.0 420.1 1031.5 419.0 1032.0 420.6 1032.5 419.9 1033.0 419.5 1033.5 420.0 1034.0 419.0 1034.5 418.7 1035.0 419.4 1035.5 419.5 1036.0 418.3 1036.5 419.0 1037.0 417.9 1037.5 417.3 1038.0 417.6 1038.5 416.4 1039.0 415.1 1039.5 415.5 1040.0 414.6 1040.5 412.9 1041.0 412.2 1041.5 411.8 1042.0 411.5 1042.5 409.4 1043.0 409.6 1043.5 408.8 1044.0 406.7 1044.5 405.2 1045.0 405.6 1045.5 404.6 1046.0 402.9 1046.5 400.5 1047.0 398.7 1047.5 397.6 1048.0 395.8 1048.5 394.0 1049.0 391.8 1049.5 388.9 1050.0 386.9 1050.5 386.3 1051.0 384.9 1051.5 383.0 1052.0 381.6 1052.5 380.7 1053.0 378.7 1053.5 376.3 1054.0 375.7 1054.5 372.9 1055.0 373.7 1055.5 376.4 1056.0 377.5 1056.5 378.4 1057.0 380.1 1057.5 380.3 1058.0 382.9 1058.5 383.2 1059.0 386.9 1059.5 387.8 1060.0 390.0 1060.5 393.1 1061.0 395.4 1061.5 398.9 1062.0 401.2 1062.5 404.0 1063.0 406.4 1063.5 408.6 1064.0 411.0 1064.5 413.6 1065.0 417.3 1065.5 419.1 1066.0 421.9 1066.5 424.3 1067.0 426.4 1067.5 428.8 1068.0 431.5 1068.5 433.2 1069.0 435.7 1069.5 437.1 1070.0 438.6 1070.5 439.9 1071.0 441.2 1071.5 442.9 1072.0 443.3 1072.5 444.5 1073.0 445.8 1073.5 445.7 1074.0 447.0 1074.5 447.6 1075.0 448.8 1075.5 449.1 1076.0 449.8 1076.5 449.1 1077.0 450.3 1077.5 451.1 1078.0 451.8 1078.5 450.9 1079.0 453.3 1079.5 452.9 1080.0 454.0 1080.5 453.0 1081.0 453.6 1081.5 453.3 1082.0 453.4 1082.5 454.5 1083.0 454.8 1083.5 455.4 1084.0 454.3 1084.5 454.0 1085.0 455.7 1085.5 456.0 1086.0 455.6 1086.5 455.7 1087.0 456.0 1087.5 456.0 1088.0 455.7 1088.5 456.6 1089.0 456.4 1089.5 455.3 1090.0 455.8 1090.5 456.7 1091.0 457.2 1091.5 456.2 1092.0 455.5 1092.5 455.7 1093.0 457.1 1093.5 456.0 1094.0 456.9 1094.5 456.6 1095.0 457.0 1095.5 456.4 1096.0 456.3 1096.5 456.2 1097.0 456.9 1097.5 456.5 1098.0 456.5 1098.5 456.3 1099.0 456.5 1099.5 456.4 1100.0 458.1 1100.5 457.0 1101.0 457.4 1101.5 456.5 1102.0 457.3 1102.5 457.6 1103.0 455.9 1103.5 457.5 1104.0 456.3 1104.5 456.2 1105.0 456.2 1105.5 456.6 1106.0 456.6 1106.5 457.1 1107.0 456.2 1107.5 457.2 1108.0 456.1 1108.5 456.5 1109.0 456.4 1109.5 456.5 1110.0 456.5 1110.5 455.3 1111.0 456.9 1111.5 456.3 1112.0 457.0 1112.5 456.8 1113.0 457.4 1113.5 457.7 1114.0 457.2 1114.5 455.8 1115.0 456.0 1115.5 455.8 1116.0 456.6 1116.5 457.2 1117.0 456.6 1117.5 456.7 1118.0 457.2 1118.5 457.3 1119.0 457.1 1119.5 457.1 1120.0 458.1 1120.5 457.9 1121.0 457.4 1121.5 457.5 1122.0 457.5 1122.5 457.0 1123.0 457.5 1123.5 457.0 1124.0 457.2 1124.5 456.7 1125.0 455.7 1125.5 457.1 1126.0 456.2 1126.5 457.9 1127.0 456.4 1127.5 456.0 1128.0 456.7 1128.5 456.3 1129.0 456.6 1129.5 456.6 1130.0 457.3 1130.5 457.0 1131.0 458.0 1131.5 457.3 1132.0 456.8 1132.5 457.1 1133.0 456.5 1133.5 457.0 1134.0 457.0 1134.5 457.3 1135.0 457.6 1135.5 457.1 1136.0 457.5 1136.5 456.4 1137.0 456.0 1137.5 457.4 1138.0 456.4 1138.5 456.8 1139.0 456.7 1139.5 457.1 1140.0 456.4 1140.5 457.8 1141.0 458.0 1141.5 457.0 1142.0 457.0 1142.5 457.7 1143.0 456.7 1143.5 456.7 1144.0 457.6 1144.5 456.4 1145.0 457.3 1145.5 456.4 1146.0 458.0 1146.5 457.6 1147.0 456.9 1147.5 457.3 1148.0 457.2 1148.5 457.4 1149.0 457.2 1149.5 457.7 1150.0 457.3 1150.5 456.5 1151.0 456.6 1151.5 456.6 1152.0 457.6 1152.5 457.3 1153.0 457.4 1153.5 456.8 1154.0 457.1 1154.5 457.0 1155.0 457.7 1155.5 457.8 1156.0 457.6 1156.5 457.7 1157.0 456.7 1157.5 457.2 1158.0 457.4 1158.5 456.7 1159.0 458.0 1159.5 456.2 1160.0 456.7 1160.5 457.6 1161.0 457.8 1161.5 457.3 1162.0 457.9 1162.5 456.7 1163.0 458.2 1163.5 456.6 1164.0 457.7 1164.5 457.4 1165.0 456.9 1165.5 456.4 1166.0 455.8 1166.5 457.6 1167.0 457.9 1167.5 456.7 1168.0 457.8 1168.5 457.0 1169.0 458.5 1169.5 457.9 1170.0 457.1 1170.5 458.1 1171.0 458.2 1171.5 459.0 1172.0 458.6 1172.5 457.3 1173.0 457.0 1173.5 457.0 1174.0 458.3 1174.5 457.0 1175.0 457.7 1175.5 456.5 1176.0 456.7 1176.5 457.4 1177.0 456.9 1177.5 457.2 1178.0 458.0 1178.5 457.5 1179.0 457.0 1179.5 458.2 1180.0 458.3 1180.5 456.9 1181.0 458.2 1181.5 458.0 1182.0 457.6 1182.5 458.2 1183.0 459.0 1183.5 457.7 1184.0 458.5 1184.5 458.0 1185.0 458.1 1185.5 457.6 1186.0 457.5 1186.5 457.6 1187.0 458.2 1187.5 458.3 1188.0 457.6 1188.5 457.5 1189.0 457.1 1189.5 458.1 1190.0 457.7 1190.5 457.4 1191.0 457.5 1191.5 457.6 1192.0 457.3 1192.5 457.6 1193.0 457.4 1193.5 457.8 1194.0 458.1 1194.5 457.2 1195.0 456.4 1195.5 456.7 1196.0 456.6 1196.5 457.4 1197.0 458.8 1197.5 456.4 1198.0 456.0 1198.5 457.1 1199.0 457.1 1199.5 457.1 1200.0 457.5 1200.5 457.0 1201.0 456.3 1201.5 455.6 1202.0 457.4 1202.5 457.5 1203.0 458.0 1203.5 458.1 1204.0 458.0 1204.5 457.1 1205.0 457.9 1205.5 459.1 1206.0 456.6 1206.5 457.3 1207.0 457.8 1207.5 455.6 1208.0 457.5 1208.5 457.4 1209.0 457.4 1209.5 458.5 1210.0 457.1 1210.5 457.1 1211.0 457.4 1211.5 457.0 1212.0 457.8 1212.5 458.1 1213.0 457.5 1213.5 457.9 1214.0 457.4 1214.5 458.0 1215.0 456.5 1215.5 458.0 1216.0 456.9 1216.5 457.3 1217.0 457.5 1217.5 457.2 1218.0 457.1 1218.5 456.7 1219.0 456.5 1219.5 456.8 1220.0 456.0 1220.5 456.8 1221.0 457.1 1221.5 457.5 1222.0 457.8 1222.5 457.3 1223.0 456.6 1223.5 456.9 1224.0 457.3 1224.5 457.5 1225.0 457.3 1225.5 458.0 1226.0 457.0 1226.5 457.1 1227.0 457.2 1227.5 458.3 1228.0 458.2 1228.5 456.8 1229.0 456.7 1229.5 457.4 1230.0 456.6 1230.5 458.0 1231.0 457.6 1231.5 456.8 1232.0 457.1 1232.5 458.3 1233.0 458.0 1233.5 458.0 1234.0 457.4 1234.5 458.1" fill="none" stroke="#000000" stroke-width="3.3" stroke-linejoin="round"/>
</g>
<rect x="756" y="1.5" width="478.5" height="476.5" fill="none" stroke="#000" stroke-width="3.4"/>
<line x1="785.9" y1="478" x2="785.9" y2="468" stroke="#000" stroke-width="3" stroke-linecap="round"/>
<line x1="785.9" y1="1.5" x2="785.9" y2="11.5" stroke="#000" stroke-width="3" stroke-linecap="round"/>
<line x1="835.8" y1="478" x2="835.8" y2="459" stroke="#000" stroke-width="3" stroke-linecap="round"/>
<line x1="835.8" y1="1.5" x2="835.8" y2="20.5" stroke="#000" stroke-width="3" stroke-linecap="round"/>
<line x1="885.6" y1="478" x2="885.6" y2="468" stroke="#000" stroke-width="3" stroke-linecap="round"/>
<line x1="885.6" y1="1.5" x2="885.6" y2="11.5" stroke="#000" stroke-width="3" stroke-linecap="round"/>
<line x1="935.4" y1="478" x2="935.4" y2="459" stroke="#000" stroke-width="3" stroke-linecap="round"/>
<line x1="935.4" y1="1.5" x2="935.4" y2="20.5" stroke="#000" stroke-width="3" stroke-linecap="round"/>
<line x1="985.3" y1="478" x2="985.3" y2="468" stroke="#000" stroke-width="3" stroke-linecap="round"/>
<line x1="985.3" y1="1.5" x2="985.3" y2="11.5" stroke="#000" stroke-width="3" stroke-linecap="round"/>
<line x1="1035.1" y1="478" x2="1035.1" y2="459" stroke="#000" stroke-width="3" stroke-linecap="round"/>
<line x1="1035.1" y1="1.5" x2="1035.1" y2="20.5" stroke="#000" stroke-width="3" stroke-linecap="round"/>
<line x1="1085.0" y1="478" x2="1085.0" y2="468" stroke="#000" stroke-width="3" stroke-linecap="round"/>
<line x1="1085.0" y1="1.5" x2="1085.0" y2="11.5" stroke="#000" stroke-width="3" stroke-linecap="round"/>
<line x1="1134.8" y1="478" x2="1134.8" y2="459" stroke="#000" stroke-width="3" stroke-linecap="round"/>
<line x1="1134.8" y1="1.5" x2="1134.8" y2="20.5" stroke="#000" stroke-width="3" stroke-linecap="round"/>
<line x1="1184.7" y1="478" x2="1184.7" y2="468" stroke="#000" stroke-width="3" stroke-linecap="round"/>
<line x1="1184.7" y1="1.5" x2="1184.7" y2="11.5" stroke="#000" stroke-width="3" stroke-linecap="round"/>
<clipPath id="cc"><rect x="82.5" y="664" width="478.20000000000005" height="478.5"/></clipPath>
<g clip-path="url(#cc)">
<path d="M82.5 796.5 83.0 792.4 83.5 789.7 84.0 783.5 84.5 781.6 85.0 778.9 85.5 775.8 86.0 772.0 86.5 768.5 87.0 764.7 87.5 766.7 88.0 764.1 88.5 763.4 89.0 760.4 89.5 761.0 90.0 755.3 90.5 753.5 91.0 751.8 91.5 749.2 92.0 751.5 92.5 751.8 93.0 756.4 93.5 756.0 94.0 757.0 94.5 762.3 95.0 765.8 95.5 764.9 96.0 769.5 96.5 771.0 97.0 772.3 97.5 775.2 98.0 774.2 98.5 777.8 99.0 777.6 99.5 778.4 100.0 780.1 100.5 778.9 101.0 779.4 101.5 779.8 102.0 781.0 102.5 781.2 103.0 778.9 103.5 778.8 104.0 776.5 104.5 777.5 105.0 774.8 105.5 773.2 106.0 771.0 106.5 771.1 107.0 767.0 107.5 764.9 108.0 768.8 108.5 764.1 109.0 763.5 109.5 763.3 110.0 761.3 110.5 761.0 111.0 757.7 111.5 758.3 112.0 759.4 112.5 761.8 113.0 758.8 113.5 758.4 114.0 762.3 114.5 757.7 115.0 760.8 115.5 758.3 116.0 759.3 116.5 760.3 117.0 762.4 117.5 763.3 118.0 764.7 118.5 767.9 119.0 765.5 119.5 769.9 120.0 773.2 120.5 772.1 121.0 776.5 121.5 775.6 122.0 776.6 122.5 778.8 123.0 777.4 123.5 783.0 124.0 782.6 124.5 784.7 125.0 783.8 125.5 784.7 126.0 786.7 126.5 785.4 127.0 787.8 127.5 792.0 128.0 792.4 128.5 791.1 129.0 791.5 129.5 793.8 130.0 791.3 130.5 794.4 131.0 794.9 131.5 792.9 132.0 792.6 132.5 790.4 133.0 794.8 133.5 793.9 134.0 792.5 134.5 788.3 135.0 790.7 135.5 790.6 136.0 791.8 136.5 786.7 137.0 789.5 137.5 787.7 138.0 788.4 138.5 789.0 139.0 783.6 139.5 785.5 140.0 785.5 140.5 784.6 141.0 785.1 141.5 781.3 142.0 783.5 142.5 781.3 143.0 782.0 143.5 783.4 144.0 780.4 144.5 784.3 145.0 782.3 145.5 786.6 146.0 785.7 146.5 786.4 147.0 784.2 147.5 787.6 148.0 787.0 148.5 785.5 149.0 784.7 149.5 788.0 150.0 783.1 150.5 785.5 151.0 785.0 151.5 783.4 152.0 785.9 152.5 782.8 153.0 781.3 153.5 781.5 154.0 778.9 154.5 779.2 155.0 778.2 155.5 779.0 156.0 775.1 156.5 773.4 157.0 773.1 157.5 772.5 158.0 769.7 158.5 767.9 159.0 768.0 159.5 768.5 160.0 763.9 160.5 767.2 161.0 765.4 161.5 764.1 162.0 766.8 162.5 762.0 163.0 762.7 163.5 763.6 164.0 763.4 164.5 762.7 165.0 760.1 165.5 760.6 166.0 760.5 166.5 759.4 167.0 761.0 167.5 757.9 168.0 760.7 168.5 760.2 169.0 761.5 169.5 762.5 170.0 757.9 170.5 761.2 171.0 759.9 171.5 758.7 172.0 756.6 172.5 756.5 173.0 754.1 173.5 753.6 174.0 754.0 174.5 753.3 175.0 752.7 175.5 753.6 176.0 749.8 176.5 748.4 177.0 745.1 177.5 745.5 178.0 741.9 178.5 742.0 179.0 738.4 179.5 735.8 180.0 733.9 180.5 730.3 181.0 730.0 181.5 727.3 182.0 724.4 182.5 723.4 183.0 721.4 183.5 719.7 184.0 719.0 184.5 717.9 185.0 713.7 185.5 714.6 186.0 719.5 186.5 720.3 187.0 723.5 187.5 726.6 188.0 727.0 188.5 730.5 189.0 731.6 189.5 736.3 190.0 739.3 190.5 742.0 191.0 742.9 191.5 748.6 192.0 753.4 192.5 755.4 193.0 761.6 193.5 764.7 194.0 767.8 194.5 773.7 195.0 778.2 195.5 776.6 196.0 780.3 196.5 781.5 197.0 784.1 197.5 785.2 198.0 789.4 198.5 791.0 199.0 791.3 199.5 794.2 200.0 796.0 200.5 794.1 201.0 795.9 201.5 796.2 202.0 801.0 202.5 801.3 203.0 802.5 203.5 805.3 204.0 803.4 204.5 802.8 205.0 803.4 205.5 802.7 206.0 805.2 206.5 806.0 207.0 804.1 207.5 803.8 208.0 805.9 208.5 807.9 209.0 807.2 209.5 806.7 210.0 806.3 210.5 804.7 211.0 804.8 211.5 803.6 212.0 803.6 212.5 800.1 213.0 804.1 213.5 799.4 214.0 796.7 214.5 795.8 215.0 792.7 215.5 791.9 216.0 788.3 216.5 785.2 217.0 781.3 217.5 777.1 218.0 772.7 218.5 770.5 219.0 765.7 219.5 759.3 220.0 753.7 220.5 749.8 221.0 746.6 221.5 743.0 222.0 738.9 222.5 734.2 223.0 728.9 223.5 729.6 224.0 724.0 224.5 718.2 225.0 717.8 225.5 715.0 226.0 712.6 226.5 706.9 227.0 702.7 227.5 701.0 228.0 697.6 228.5 703.9 229.0 702.9 229.5 710.4 230.0 711.0 230.5 717.4 231.0 717.7 231.5 724.2 232.0 725.6 232.5 729.7 233.0 733.9 233.5 737.2 234.0 742.1 234.5 749.6 235.0 751.5 235.5 755.8 236.0 762.6 236.5 766.3 237.0 771.4 237.5 773.5 238.0 777.0 238.5 782.4 239.0 780.7 239.5 784.7 240.0 786.0 240.5 788.1 241.0 788.3 241.5 788.9 242.0 791.1 242.5 790.9 243.0 792.0 243.5 790.2 244.0 791.5 244.5 790.2 245.0 787.9 245.5 793.4 246.0 789.7 246.5 791.1 247.0 791.4 247.5 791.8 248.0 793.1 248.5 793.4 249.0 795.4 249.5 793.3 250.0 793.4 250.5 795.4 251.0 797.5 251.5 796.7 252.0 799.1 252.5 798.1 253.0 801.1 253.5 801.1 254.0 801.8 254.5 803.1 255.0 803.3 255.5 803.6 256.0 803.9 256.5 801.9 257.0 804.2 257.5 804.8 258.0 803.7 258.5 804.2 259.0 805.3 259.5 803.3 260.0 805.6 260.5 804.5 261.0 802.6 261.5 804.1 262.0 804.3 262.5 804.1 263.0 804.2 263.5 804.0 264.0 806.4 264.5 801.6 265.0 803.8 265.5 803.4 266.0 802.9 266.5 805.1 267.0 805.5 267.5 804.4 268.0 808.6 268.5 802.5 269.0 804.2 269.5 804.3 270.0 804.4 270.5 803.1 271.0 801.8 271.5 805.4 272.0 802.2 272.5 803.6 273.0 803.6 273.5 802.3 274.0 799.0 274.5 803.2 275.0 799.3 275.5 796.4 276.0 799.5 276.5 798.6 277.0 798.0 277.5 796.1 278.0 795.5 278.5 795.2 279.0 797.9 279.5 794.7 280.0 794.0 280.5 796.3 281.0 793.7 281.5 793.5 282.0 792.7 282.5 790.7 283.0 793.2 283.5 793.1 284.0 794.2 284.5 795.5 285.0 791.2 285.5 791.1 286.0 786.3 286.5 790.0 287.0 792.3 287.5 788.8 288.0 788.5 288.5 787.5 289.0 787.4 289.5 788.0 290.0 785.3 290.5 784.8 291.0 786.1 291.5 783.7 292.0 784.8 292.5 785.7 293.0 785.0 293.5 785.4 294.0 784.4 294.5 783.2 295.0 784.8 295.5 784.2 296.0 785.3 296.5 783.7 297.0 782.8 297.5 783.8 298.0 784.0 298.5 783.1 299.0 781.3 299.5 782.9 300.0 783.2 300.5 783.2 301.0 781.9 301.5 779.5 302.0 778.6 302.5 779.8 303.0 778.3 303.5 780.7 304.0 776.8 304.5 775.1 305.0 774.3 305.5 774.9 306.0 776.8 306.5 777.9 307.0 772.1 307.5 773.5 308.0 772.0 308.5 771.8 309.0 768.6 309.5 769.5 310.0 766.2 310.5 767.9 311.0 767.0 311.5 764.4 312.0 764.3 312.5 762.8 313.0 763.0 313.5 760.5 314.0 760.8 314.5 759.9 315.0 760.2 315.5 755.2 316.0 754.3 316.5 754.4 317.0 749.7 317.5 751.3 318.0 748.0 318.5 747.1 319.0 748.1 319.5 743.9 320.0 744.6 320.5 740.2 321.0 739.3 321.5 739.1 322.0 735.8 322.5 737.6 323.0 732.5 323.5 731.5 324.0 729.0 324.5 728.6 325.0 724.0 325.5 722.1 326.0 718.4 326.5 717.4 327.0 713.3 327.5 712.6 328.0 706.2 328.5 708.0 329.0 707.9 329.5 707.7 330.0 705.8 330.5 703.8 331.0 702.8 331.5 702.4 332.0 701.4 332.5 707.8 333.0 702.7 333.5 705.2 334.0 707.8 334.5 707.3 335.0 707.1 335.5 707.9 336.0 711.2 336.5 710.5 337.0 712.1 337.5 715.1 338.0 719.0 338.5 717.6 339.0 719.5 339.5 719.4 340.0 723.1 340.5 722.9 341.0 724.1 341.5 727.0 342.0 731.0 342.5 733.0 343.0 731.7 343.5 735.5 344.0 738.2 344.5 740.7 345.0 744.4 345.5 745.0 346.0 747.3 346.5 749.4 347.0 751.5 347.5 750.8 348.0 748.9 348.5 753.4 349.0 752.4 349.5 748.9 350.0 751.0 350.5 749.6 351.0 749.1 351.5 747.0 352.0 752.6 352.5 749.8 353.0 749.3 353.5 750.2 354.0 750.2 354.5 747.7 355.0 747.2 355.5 745.8 356.0 747.9 356.5 748.2 357.0 746.4 357.5 748.6 358.0 743.5 358.5 748.7 359.0 743.3 359.5 746.3 360.0 747.1 360.5 744.5 361.0 743.4 361.5 741.8 362.0 742.0 362.5 740.1 363.0 741.1 363.5 742.0 364.0 743.2 364.5 739.4 365.0 740.2 365.5 738.7 366.0 741.3 366.5 740.0 367.0 736.4 367.5 733.0 368.0 732.0 368.5 732.4 369.0 728.5 369.5 729.5 370.0 727.3 370.5 725.7 371.0 723.4 371.5 719.1 372.0 721.5 372.5 714.3 373.0 711.3 373.5 704.9 374.0 705.0 374.5 697.4 375.0 696.5 375.5 691.4 376.0 690.3 376.5 690.7 377.0 687.1 377.5 686.1 378.0 687.9 378.5 688.9 379.0 684.9 379.5 682.0 380.0 685.0 380.5 687.9 381.0 688.9 381.5 689.7 382.0 694.8 382.5 695.3 383.0 695.9 383.5 704.8 384.0 704.3 384.5 711.5 385.0 718.7 385.5 723.1 386.0 727.4 386.5 724.5 387.0 731.1 387.5 734.5 388.0 738.8 388.5 744.7 389.0 746.8 389.5 747.8 390.0 750.7 390.5 756.3 391.0 756.8 391.5 758.4 392.0 759.0 392.5 763.9 393.0 762.6 393.5 765.5 394.0 766.5 394.5 767.8 395.0 769.9 395.5 770.3 396.0 769.2 396.5 771.1 397.0 772.7 397.5 773.3 398.0 774.0 398.5 776.3 399.0 775.8 399.5 776.2 400.0 776.3 400.5 776.6 401.0 779.3 401.5 779.8 402.0 779.8 402.5 783.7 403.0 781.0 403.5 780.8 404.0 782.3 404.5 782.0 405.0 782.8 405.5 783.3 406.0 781.7 406.5 783.2 407.0 780.0 407.5 780.4 408.0 780.6 408.5 784.8 409.0 781.9 409.5 783.2 410.0 785.2 410.5 785.9 411.0 783.0 411.5 782.8 412.0 784.0 412.5 783.2 413.0 786.6 413.5 784.1 414.0 787.8 414.5 787.0 415.0 786.4 415.5 788.0 416.0 786.4 416.5 784.7 417.0 787.8 417.5 784.2 418.0 786.1 418.5 788.2 419.0 786.4 419.5 789.0 420.0 785.7 420.5 784.7 421.0 787.5 421.5 786.8 422.0 787.7 422.5 785.5 423.0 788.6 423.5 788.4 424.0 788.1 424.5 788.6 425.0 789.8 425.5 789.3 426.0 788.9 426.5 788.0 427.0 788.2 427.5 788.6 428.0 787.0 428.5 785.8 429.0 784.6 429.5 786.9 430.0 790.0 430.5 789.4 431.0 786.3 431.5 785.0 432.0 787.2 432.5 789.1 433.0 788.5 433.5 789.6 434.0 786.4 434.5 786.7 435.0 788.7 435.5 789.1 436.0 784.9 436.5 790.1 437.0 788.2 437.5 788.0 438.0 788.1 438.5 788.5 439.0 788.5 439.5 789.2 440.0 789.9 440.5 787.8 441.0 788.8 441.5 790.7 442.0 789.5 442.5 790.2 443.0 788.9 443.5 788.7 444.0 790.8 444.5 789.8 445.0 789.1 445.5 788.4 446.0 789.4 446.5 788.1 447.0 789.1 447.5 791.1 448.0 791.1 448.5 788.3 449.0 787.9 449.5 787.2 450.0 788.7 450.5 791.0 451.0 790.8 451.5 789.8 452.0 788.8 452.5 789.1 453.0 790.4 453.5 789.2 454.0 789.5 454.5 790.6 455.0 788.7 455.5 788.4 456.0 789.4 456.5 790.4 457.0 790.4 457.5 790.0 458.0 789.5 458.5 791.4 459.0 793.6 459.5 791.2 460.0 790.1 460.5 789.6 461.0 791.2 461.5 790.2 462.0 789.2 462.5 792.7 463.0 792.2 463.5 788.5 464.0 790.9 464.5 793.6 465.0 792.1 465.5 793.5 466.0 789.8 466.5 791.2 467.0 792.6 467.5 791.0 468.0 787.6 468.5 791.8 469.0 792.8 469.5 793.9 470.0 791.3 470.5 794.8 471.0 793.0 471.5 791.5 472.0 791.4 472.5 791.4 473.0 791.3 473.5 791.6 474.0 789.4 474.5 792.7 475.0 790.9 475.5 789.2 476.0 793.0 476.5 792.4 477.0 791.9 477.5 793.2 478.0 789.9 478.5 793.0 479.0 792.3 479.5 790.6 480.0 791.4 480.5 787.3 481.0 790.2 481.5 793.1 482.0 787.8 482.5 790.5 483.0 788.9 483.5 792.8 484.0 787.4 484.5 790.2 485.0 790.6 485.5 792.4 486.0 790.0 486.5 790.9 487.0 791.5 487.5 791.7 488.0 790.0 488.5 792.5 489.0 788.4 489.5 793.3 490.0 787.2 490.5 790.0 491.0 789.8 491.5 790.3 492.0 790.8 492.5 787.9 493.0 791.2 493.5 792.5 494.0 793.8 494.5 793.7 495.0 792.7 495.5 793.6 496.0 791.6 496.5 791.4 497.0 790.2 497.5 789.2 498.0 791.2 498.5 792.1 499.0 790.5 499.5 790.7 500.0 788.7 500.5 790.1 501.0 790.3 501.5 791.3 502.0 789.5 502.5 791.2 503.0 790.7 503.5 792.5 504.0 793.0 504.5 790.6 505.0 792.1 505.5 791.9 506.0 790.1 506.5 790.3 507.0 790.9 507.5 791.4 508.0 791.1 508.5 788.3 509.0 792.6 509.5 791.3 510.0 792.6 510.5 793.5 511.0 789.4 511.5 790.9 512.0 790.2 512.5 789.4 513.0 790.9 513.5 796.1 514.0 794.1 514.5 795.4 515.0 793.5 515.5 794.6 516.0 791.9 516.5 793.7 517.0 793.2 517.5 794.1 518.0 792.1 518.5 790.8 519.0 791.6 519.5 790.8 520.0 790.2 520.5 790.1 521.0 790.7 521.5 788.7 522.0 791.1 522.5 791.6 523.0 790.7 523.5 795.0 524.0 789.9 524.5 792.0 525.0 793.0 525.5 794.0 526.0 794.8 526.5 792.7 527.0 795.0 527.5 794.5 528.0 793.1 528.5 794.2 529.0 794.6 529.5 793.4 530.0 793.7 530.5 795.7 531.0 794.8 531.5 794.6 532.0 793.7 532.5 793.6 533.0 792.8 533.5 793.1 534.0 795.1 534.5 794.7 535.0 791.9 535.5 790.3 536.0 794.6 536.5 794.1 537.0 792.7 537.5 796.9 538.0 796.1 538.5 796.8 539.0 793.2 539.5 794.5 540.0 795.4 540.5 794.8 541.0 794.3 541.5 792.5 542.0 795.3 542.5 795.7 543.0 795.2 543.5 793.2 544.0 795.2 544.5 797.0 545.0 794.9 545.5 793.4 546.0 797.3 546.5 794.3 547.0 797.3 547.5 793.5 548.0 795.0 548.5 794.5 549.0 795.9 549.5 797.2 550.0 797.6 550.5 796.3 551.0 796.8 551.5 794.8 552.0 799.4 552.5 798.2 553.0 796.2 553.5 798.4 554.0 795.7 554.5 795.2 555.0 796.8 555.5 794.0 556.0 797.8 556.5 796.8 557.0 796.4 557.5 795.8 558.0 797.8 558.5 802.2 559.0 800.1 559.5 801.6 560.0 801.4 560.5 799.2" fill="none" stroke="#7c7c7c" stroke-width="3.3" stroke-linejoin="round"/>
<path d="M82.5 848.7 83.0 848.7 83.5 846.0 84.0 846.6 84.5 843.5 85.0 843.3 85.5 843.6 86.0 841.6 86.5 841.3 87.0 841.3 87.5 840.8 88.0 842.3 88.5 842.7 89.0 841.5 89.5 839.4 90.0 838.3 90.5 838.7 91.0 835.0 91.5 836.3 92.0 836.9 92.5 837.3 93.0 839.0 93.5 837.5 94.0 839.4 94.5 839.0 95.0 842.3 95.5 840.7 96.0 843.2 96.5 837.6 97.0 841.2 97.5 844.0 98.0 841.0 98.5 843.1 99.0 842.0 99.5 843.7 100.0 841.1 100.5 843.6 101.0 847.2 101.5 845.6 102.0 845.3 102.5 846.4 103.0 845.6 103.5 845.5 104.0 848.0 104.5 848.3 105.0 849.1 105.5 847.9 106.0 847.4 106.5 850.0 107.0 847.3 107.5 848.4 108.0 848.7 108.5 847.9 109.0 848.5 109.5 846.6 110.0 846.0 110.5 847.7 111.0 848.2 111.5 848.5 112.0 849.2 112.5 848.0 113.0 850.0 113.5 850.5 114.0 848.9 114.5 848.8 115.0 847.6 115.5 850.1 116.0 847.6 116.5 851.0 117.0 846.5 117.5 849.6 118.0 848.6 118.5 848.6 119.0 848.7 119.5 848.0 120.0 848.7 120.5 847.2 121.0 848.1 121.5 850.5 122.0 849.2 122.5 847.9 123.0 848.9 123.5 846.7 124.0 848.5 124.5 847.7 125.0 848.9 125.5 849.7 126.0 846.7 126.5 849.0 127.0 847.0 127.5 847.3 128.0 846.0 128.5 847.3 129.0 847.9 129.5 848.1 130.0 846.9 130.5 848.0 131.0 851.2 131.5 847.6 132.0 847.6 132.5 848.7 133.0 846.8 133.5 846.7 134.0 847.8 134.5 848.0 135.0 847.8 135.5 848.5 136.0 847.9 136.5 847.2 137.0 849.4 137.5 845.0 138.0 848.0 138.5 845.6 139.0 846.7 139.5 844.4 140.0 845.1 140.5 844.6 141.0 843.5 141.5 843.4 142.0 843.0 142.5 842.5 143.0 843.3 143.5 840.8 144.0 840.5 144.5 840.0 145.0 838.6 145.5 838.8 146.0 837.7 146.5 840.1 147.0 835.8 147.5 836.7 148.0 836.8 148.5 835.1 149.0 834.7 149.5 831.9 150.0 831.3 150.5 828.9 151.0 826.3 151.5 827.7 152.0 825.2 152.5 824.1 153.0 825.0 153.5 822.4 154.0 821.1 154.5 819.8 155.0 819.0 155.5 822.4 156.0 815.2 156.5 817.1 157.0 815.2 157.5 814.1 158.0 813.6 158.5 812.6 159.0 814.1 159.5 812.2 160.0 813.2 160.5 810.6 161.0 810.5 161.5 811.4 162.0 810.4 162.5 812.8 163.0 812.0 163.5 808.7 164.0 809.3 164.5 808.8 165.0 808.4 165.5 810.7 166.0 805.7 166.5 806.9 167.0 805.4 167.5 805.5 168.0 805.4 168.5 806.6 169.0 805.0 169.5 806.2 170.0 804.0 170.5 803.8 171.0 805.1 171.5 802.2 172.0 800.6 172.5 801.6 173.0 798.3 173.5 798.0 174.0 796.2 174.5 797.4 175.0 793.2 175.5 791.8 176.0 791.7 176.5 787.4 177.0 784.6 177.5 782.2 178.0 779.4 178.5 774.7 179.0 774.9 179.5 769.0 180.0 769.0 180.5 764.8 181.0 763.8 181.5 759.9 182.0 759.9 182.5 757.1 183.0 756.0 183.5 750.2 184.0 751.0 184.5 750.1 185.0 748.5 185.5 745.3 186.0 745.0 186.5 749.3 187.0 750.9 187.5 754.7 188.0 758.0 188.5 760.8 189.0 764.1 189.5 765.0 190.0 769.6 190.5 771.2 191.0 776.0 191.5 779.6 192.0 785.1 192.5 785.7 193.0 789.7 193.5 794.7 194.0 796.3 194.5 799.7 195.0 802.4 195.5 804.9 196.0 808.4 196.5 811.6 197.0 811.7 197.5 816.9 198.0 817.8 198.5 819.1 199.0 820.8 199.5 824.9 200.0 825.9 200.5 826.9 201.0 831.4 201.5 832.0 202.0 834.1 202.5 835.6 203.0 836.6 203.5 839.8 204.0 839.1 204.5 839.9 205.0 839.5 205.5 841.0 206.0 841.3 206.5 843.4 207.0 844.1 207.5 839.4 208.0 842.2 208.5 843.7 209.0 844.8 209.5 844.7 210.0 846.8 210.5 847.4 211.0 848.2 211.5 846.6 212.0 848.0 212.5 849.2 213.0 848.1 213.5 847.5 214.0 848.4 214.5 848.9 215.0 849.3 215.5 849.1 216.0 848.9 216.5 851.6 217.0 846.4 217.5 847.4 218.0 846.5 218.5 849.0 219.0 848.8 219.5 848.5 220.0 848.2 220.5 846.4 221.0 846.7 221.5 846.0 222.0 846.4 222.5 845.5 223.0 846.3 223.5 845.2 224.0 843.4 224.5 844.9 225.0 844.1 225.5 843.1 226.0 844.1 226.5 842.5 227.0 843.1 227.5 844.3 228.0 842.3 228.5 844.5 229.0 842.0 229.5 845.1 230.0 844.6 230.5 846.5 231.0 846.9 231.5 847.1 232.0 848.7 232.5 849.4 233.0 851.6 233.5 850.6 234.0 850.4 234.5 849.1 235.0 852.6 235.5 852.9 236.0 850.4 236.5 851.0 237.0 851.6 237.5 851.5 238.0 852.2 238.5 852.0 239.0 851.1 239.5 850.4 240.0 851.4 240.5 850.9 241.0 851.3 241.5 849.9 242.0 853.0 242.5 851.2 243.0 851.2 243.5 850.0 244.0 851.0 244.5 849.0 245.0 852.0 245.5 849.8 246.0 850.3 246.5 852.2 247.0 851.8 247.5 851.4 248.0 851.7 248.5 849.0 249.0 851.0 249.5 850.4 250.0 852.0 250.5 849.2 251.0 849.6 251.5 851.7 252.0 850.5 252.5 850.6 253.0 851.5 253.5 850.7 254.0 850.9 254.5 850.4 255.0 850.4 255.5 849.2 256.0 849.4 256.5 849.9 257.0 849.3 257.5 851.9 258.0 850.4 258.5 850.1 259.0 850.4 259.5 850.4 260.0 849.2 260.5 848.6 261.0 849.4 261.5 848.1 262.0 848.1 262.5 847.6 263.0 846.8 263.5 848.2 264.0 842.8 264.5 847.5 265.0 846.1 265.5 845.7 266.0 846.6 266.5 844.1 267.0 844.5 267.5 843.6 268.0 842.9 268.5 844.4 269.0 843.3 269.5 840.6 270.0 842.9 270.5 841.4 271.0 840.0 271.5 841.4 272.0 840.1 272.5 840.5 273.0 839.3 273.5 838.1 274.0 840.2 274.5 841.0 275.0 839.2 275.5 838.9 276.0 839.7 276.5 838.7 277.0 840.4 277.5 837.2 278.0 837.5 278.5 838.4 279.0 836.7 279.5 838.1 280.0 837.7 280.5 836.5 281.0 837.1 281.5 837.6 282.0 838.6 282.5 836.3 283.0 835.3 283.5 835.7 284.0 836.1 284.5 837.6 285.0 834.3 285.5 836.5 286.0 835.3 286.5 833.6 287.0 834.3 287.5 834.3 288.0 834.1 288.5 833.1 289.0 831.7 289.5 830.6 290.0 831.2 290.5 831.9 291.0 832.9 291.5 831.0 292.0 830.3 292.5 832.2 293.0 831.1 293.5 832.0 294.0 831.9 294.5 830.0 295.0 830.9 295.5 830.6 296.0 829.2 296.5 829.6 297.0 827.6 297.5 828.0 298.0 829.1 298.5 828.6 299.0 827.6 299.5 827.9 300.0 823.4 300.5 825.9 301.0 825.8 301.5 825.6 302.0 822.0 302.5 822.5 303.0 823.3 303.5 822.5 304.0 825.6 304.5 818.6 305.0 822.0 305.5 820.3 306.0 819.9 306.5 816.4 307.0 817.8 307.5 816.1 308.0 814.5 308.5 810.9 309.0 812.7 309.5 811.2 310.0 810.9 310.5 811.2 311.0 806.5 311.5 807.9 312.0 807.6 312.5 804.2 313.0 805.6 313.5 803.8 314.0 802.1 314.5 801.9 315.0 800.6 315.5 802.7 316.0 798.2 316.5 797.5 317.0 794.7 317.5 795.2 318.0 794.8 318.5 792.6 319.0 789.6 319.5 788.6 320.0 788.5 320.5 784.8 321.0 784.4 321.5 782.4 322.0 781.6 322.5 777.7 323.0 775.9 323.5 774.6 324.0 773.9 324.5 769.1 325.0 770.3 325.5 768.0 326.0 764.5 326.5 761.8 327.0 762.6 327.5 757.6 328.0 759.0 328.5 756.8 329.0 756.3 329.5 753.8 330.0 754.1 330.5 755.5 331.0 756.1 331.5 751.6 332.0 753.8 332.5 753.0 333.0 755.7 333.5 756.0 334.0 754.1 334.5 755.8 335.0 759.1 335.5 758.9 336.0 760.3 336.5 762.3 337.0 762.4 337.5 765.3 338.0 768.3 338.5 769.1 339.0 773.4 339.5 774.6 340.0 776.4 340.5 777.7 341.0 778.3 341.5 779.2 342.0 782.7 342.5 784.5 343.0 784.4 343.5 784.4 344.0 786.1 344.5 787.8 345.0 790.2 345.5 790.9 346.0 791.0 346.5 791.8 347.0 792.9 347.5 793.7 348.0 788.9 348.5 793.1 349.0 790.8 349.5 792.5 350.0 792.8 350.5 793.1 351.0 792.8 351.5 792.8 352.0 795.0 352.5 793.4 353.0 793.9 353.5 794.2 354.0 793.4 354.5 793.2 355.0 792.1 355.5 793.4 356.0 793.0 356.5 792.2 357.0 793.4 357.5 792.9 358.0 792.1 358.5 791.7 359.0 790.2 359.5 791.0 360.0 791.3 360.5 789.4 361.0 789.7 361.5 790.4 362.0 790.4 362.5 790.2 363.0 790.0 363.5 789.6 364.0 787.8 364.5 787.9 365.0 785.3 365.5 786.1 366.0 783.3 366.5 784.5 367.0 780.4 367.5 779.5 368.0 777.2 368.5 778.3 369.0 777.3 369.5 775.2 370.0 772.3 370.5 768.5 371.0 769.0 371.5 764.3 372.0 764.9 372.5 762.2 373.0 759.9 373.5 759.3 374.0 753.8 374.5 749.1 375.0 747.4 375.5 749.6 376.0 746.5 376.5 747.4 377.0 744.1 377.5 744.0 378.0 742.0 378.5 741.7 379.0 741.5 379.5 743.2 380.0 745.3 380.5 747.0 381.0 747.7 381.5 750.5 382.0 749.3 382.5 755.7 383.0 758.5 383.5 760.5 384.0 765.0 384.5 763.5 385.0 771.1 385.5 774.3 386.0 775.7 386.5 780.7 387.0 785.0 387.5 788.0 388.0 792.8 388.5 794.9 389.0 796.8 389.5 801.5 390.0 803.0 390.5 805.5 391.0 809.5 391.5 814.5 392.0 812.4 392.5 815.7 393.0 817.5 393.5 816.8 394.0 819.0 394.5 823.8 395.0 822.1 395.5 824.8 396.0 825.5 396.5 826.4 397.0 829.0 397.5 829.8 398.0 830.9 398.5 830.5 399.0 831.2 399.5 834.2 400.0 834.5 400.5 837.8 401.0 833.0 401.5 837.0 402.0 834.0 402.5 838.0 403.0 838.8 403.5 841.1 404.0 839.1 404.5 839.0 405.0 839.4 405.5 841.6 406.0 841.5 406.5 840.9 407.0 841.2 407.5 841.9 408.0 840.4 408.5 842.8 409.0 840.9 409.5 842.1 410.0 841.7 410.5 842.6 411.0 843.2 411.5 842.5 412.0 845.3 412.5 843.2 413.0 842.5 413.5 845.8 414.0 845.5 414.5 844.5 415.0 844.8 415.5 845.0 416.0 843.5 416.5 844.3 417.0 844.7 417.5 842.0 418.0 843.7 418.5 845.8 419.0 844.5 419.5 844.9 420.0 846.5 420.5 846.4 421.0 844.5 421.5 847.3 422.0 846.7 422.5 846.6 423.0 845.9 423.5 846.2 424.0 844.5 424.5 845.9 425.0 846.3 425.5 846.1 426.0 846.5 426.5 845.9 427.0 845.6 427.5 845.0 428.0 846.2 428.5 845.2 429.0 846.5 429.5 848.2 430.0 845.6 430.5 847.6 431.0 846.2 431.5 846.2 432.0 845.9 432.5 846.2 433.0 846.0 433.5 844.7 434.0 848.0 434.5 848.3 435.0 848.3 435.5 848.4 436.0 847.3 436.5 849.3 437.0 848.9 437.5 846.3 438.0 848.2 438.5 847.0 439.0 845.3 439.5 845.2 440.0 845.8 440.5 845.4 441.0 846.8 441.5 846.7 442.0 844.2 442.5 847.2 443.0 843.6 443.5 847.1 444.0 844.6 444.5 845.4 445.0 842.3 445.5 845.0 446.0 845.5 446.5 845.2 447.0 844.8 447.5 845.7 448.0 844.9 448.5 847.6 449.0 847.2 449.5 847.6 450.0 845.0 450.5 846.7 451.0 847.5 451.5 846.4 452.0 845.3 452.5 845.2 453.0 847.5 453.5 846.8 454.0 846.9 454.5 849.8 455.0 847.4 455.5 847.3 456.0 847.6 456.5 847.0 457.0 847.3 457.5 847.0 458.0 848.6 458.5 851.8 459.0 847.2 459.5 849.3 460.0 846.0 460.5 847.9 461.0 848.7 461.5 845.3 462.0 851.1 462.5 848.3 463.0 849.0 463.5 849.4 464.0 845.6 464.5 846.7 465.0 843.8 465.5 845.8 466.0 844.4 466.5 844.7 467.0 846.4 467.5 845.3 468.0 847.0 468.5 846.5 469.0 845.7 469.5 846.8 470.0 846.7 470.5 846.1 471.0 845.8 471.5 847.0 472.0 845.8 472.5 847.1 473.0 843.5 473.5 844.8 474.0 845.1 474.5 844.3 475.0 845.9 475.5 844.8 476.0 847.7 476.5 846.2 477.0 847.2 477.5 848.2 478.0 846.3 478.5 845.4 479.0 846.3 479.5 848.2 480.0 846.9 480.5 846.9 481.0 848.4 481.5 846.3 482.0 848.1 482.5 845.5 483.0 845.8 483.5 845.6 484.0 847.1 484.5 845.1 485.0 847.9 485.5 849.6 486.0 847.3 486.5 848.9 487.0 846.1 487.5 847.8 488.0 848.5 488.5 847.3 489.0 847.6 489.5 847.7 490.0 849.1 490.5 846.7 491.0 845.6 491.5 844.7 492.0 846.7 492.5 846.8 493.0 846.4 493.5 846.9 494.0 846.2 494.5 846.0 495.0 845.2 495.5 848.6 496.0 849.0 496.5 848.8 497.0 846.7 497.5 847.6 498.0 848.1 498.5 849.4 499.0 847.1 499.5 848.6 500.0 847.5 500.5 845.6 501.0 844.9 501.5 846.3 502.0 848.1 502.5 847.7 503.0 845.4 503.5 845.3 504.0 847.0 504.5 844.5 505.0 846.1 505.5 847.2 506.0 844.3 506.5 847.9 507.0 848.2 507.5 847.0 508.0 846.5 508.5 846.6 509.0 845.7 509.5 847.0 510.0 845.5 510.5 847.9 511.0 845.6 511.5 846.7 512.0 847.9 512.5 846.2 513.0 847.0 513.5 846.4 514.0 845.4 514.5 846.3 515.0 849.2 515.5 847.8 516.0 844.8 516.5 846.0 517.0 848.2 517.5 848.1 518.0 848.1 518.5 847.8 519.0 847.8 519.5 847.1 520.0 848.2 520.5 848.0 521.0 845.9 521.5 847.7 522.0 847.4 522.5 847.6 523.0 846.0 523.5 847.8 524.0 846.6 524.5 848.6 525.0 850.0 525.5 848.0 526.0 848.6 526.5 849.3 527.0 848.1 527.5 849.7 528.0 849.3 528.5 848.0 529.0 848.4 529.5 845.0 530.0 848.0 530.5 848.0 531.0 846.7 531.5 847.9 532.0 847.9 532.5 847.9 533.0 848.5 533.5 846.6 534.0 846.9 534.5 849.7 535.0 848.1 535.5 846.8 536.0 848.9 536.5 847.8 537.0 848.5 537.5 848.0 538.0 848.1 538.5 847.8 539.0 847.3 539.5 846.7 540.0 848.4 540.5 849.8 541.0 848.8 541.5 847.8 542.0 847.3 542.5 846.8 543.0 846.4 543.5 845.5 544.0 848.6 544.5 849.7 545.0 848.7 545.5 846.9 546.0 848.1 546.5 846.7 547.0 847.5 547.5 847.4 548.0 845.8 548.5 849.1 549.0 847.9 549.5 847.9 550.0 847.7 550.5 847.0 551.0 845.7 551.5 848.3 552.0 849.3 552.5 847.9 553.0 848.1 553.5 849.5 554.0 849.7 554.5 846.1 555.0 847.5 555.5 846.7 556.0 847.4 556.5 845.4 557.0 846.9 557.5 844.7 558.0 848.1 558.5 848.6 559.0 848.0 559.5 847.2 560.0 849.1 560.5 847.2" fill="none" stroke="#b3287c" stroke-width="3.3" stroke-linejoin="round"/>
<path d="M82.5 902.5 83.0 902.0 83.5 901.6 84.0 901.2 84.5 901.6 85.0 900.8 85.5 900.4 86.0 901.3 86.5 901.1 87.0 900.0 87.5 901.2 88.0 900.3 88.5 901.0 89.0 900.3 89.5 900.8 90.0 900.3 90.5 900.0 91.0 899.7 91.5 899.2 92.0 899.8 92.5 899.8 93.0 899.8 93.5 899.9 94.0 899.9 94.5 899.6 95.0 899.6 95.5 899.4 96.0 900.2 96.5 899.7 97.0 899.8 97.5 899.1 98.0 900.9 98.5 901.1 99.0 900.7 99.5 900.2 100.0 901.0 100.5 900.2 101.0 902.1 101.5 901.1 102.0 901.1 102.5 901.6 103.0 901.6 103.5 902.5 104.0 902.3 104.5 901.6 105.0 901.5 105.5 901.7 106.0 901.6 106.5 902.8 107.0 901.3 107.5 900.5 108.0 902.2 108.5 902.9 109.0 902.7 109.5 902.3 110.0 902.1 110.5 901.7 111.0 902.0 111.5 902.4 112.0 900.7 112.5 901.5 113.0 902.1 113.5 901.8 114.0 903.3 114.5 902.1 115.0 901.7 115.5 902.4 116.0 902.4 116.5 903.0 117.0 901.8 117.5 902.4 118.0 902.0 118.5 901.7 119.0 902.7 119.5 901.9 120.0 902.2 120.5 901.7 121.0 903.0 121.5 902.2 122.0 902.3 122.5 902.7 123.0 902.6 123.5 902.4 124.0 902.7 124.5 902.7 125.0 901.6 125.5 901.7 126.0 902.5 126.5 901.7 127.0 901.8 127.5 902.3 128.0 901.8 128.5 901.6 129.0 902.1 129.5 902.7 130.0 902.5 130.5 902.1 131.0 902.3 131.5 903.3 132.0 901.8 132.5 902.4 133.0 901.7 133.5 902.8 134.0 903.1 134.5 903.2 135.0 902.2 135.5 902.5 136.0 902.0 136.5 901.7 137.0 902.0 137.5 902.4 138.0 901.7 138.5 902.0 139.0 901.5 139.5 901.8 140.0 900.7 140.5 902.2 141.0 901.1 141.5 900.6 142.0 900.7 142.5 900.4 143.0 900.0 143.5 899.2 144.0 899.2 144.5 899.2 145.0 898.4 145.5 897.9 146.0 897.2 146.5 896.8 147.0 896.7 147.5 896.1 148.0 895.9 148.5 895.6 149.0 895.4 149.5 894.8 150.0 894.5 150.5 893.6 151.0 892.9 151.5 892.4 152.0 892.0 152.5 891.3 153.0 891.5 153.5 890.2 154.0 889.9 154.5 889.7 155.0 889.1 155.5 888.9 156.0 888.4 156.5 888.0 157.0 888.3 157.5 887.5 158.0 886.8 158.5 887.0 159.0 886.6 159.5 887.0 160.0 886.0 160.5 886.7 161.0 886.5 161.5 885.7 162.0 886.2 162.5 885.5 163.0 885.8 163.5 885.2 164.0 885.6 164.5 884.7 165.0 883.9 165.5 884.6 166.0 883.8 166.5 883.8 167.0 884.2 167.5 883.9 168.0 884.1 168.5 883.5 169.0 882.6 169.5 883.1 170.0 882.0 170.5 883.0 171.0 881.5 171.5 881.7 172.0 880.8 172.5 881.1 173.0 880.8 173.5 880.5 174.0 879.2 174.5 879.1 175.0 878.3 175.5 878.7 176.0 877.1 176.5 876.8 177.0 875.8 177.5 875.4 178.0 874.1 178.5 874.0 179.0 873.4 179.5 872.3 180.0 870.4 180.5 870.4 181.0 870.3 181.5 867.4 182.0 868.0 182.5 866.8 183.0 866.9 183.5 866.0 184.0 865.1 184.5 864.2 185.0 863.3 185.5 863.7 186.0 863.1 186.5 863.9 187.0 864.7 187.5 865.9 188.0 865.8 188.5 868.2 189.0 868.2 189.5 870.0 190.0 870.5 190.5 872.1 191.0 872.3 191.5 872.9 192.0 874.0 192.5 876.0 193.0 876.2 193.5 879.4 194.0 880.7 194.5 880.8 195.0 881.9 195.5 883.5 196.0 885.4 196.5 886.9 197.0 886.8 197.5 888.5 198.0 890.4 198.5 891.9 199.0 892.7 199.5 894.1 200.0 895.5 200.5 895.5 201.0 897.4 201.5 897.1 202.0 898.1 202.5 898.1 203.0 899.2 203.5 898.5 204.0 900.1 204.5 899.6 205.0 900.4 205.5 899.7 206.0 900.9 206.5 900.7 207.0 901.4 207.5 900.6 208.0 902.0 208.5 901.5 209.0 901.0 209.5 901.3 210.0 902.1 210.5 903.2 211.0 903.0 211.5 902.7 212.0 902.9 212.5 902.8 213.0 903.6 213.5 902.9 214.0 902.2 214.5 902.3 215.0 903.8 215.5 903.0 216.0 902.7 216.5 902.7 217.0 903.2 217.5 903.1 218.0 904.2 218.5 903.6 219.0 903.7 219.5 903.1 220.0 902.4 220.5 903.1 221.0 903.3 221.5 902.9 222.0 903.7 222.5 903.8 223.0 904.2 223.5 903.5 224.0 903.1 224.5 903.3 225.0 903.1 225.5 902.9 226.0 902.7 226.5 902.7 227.0 901.9 227.5 903.4 228.0 903.2 228.5 903.2 229.0 902.4 229.5 903.0 230.0 903.2 230.5 902.9 231.0 902.2 231.5 902.6 232.0 902.3 232.5 902.5 233.0 902.8 233.5 902.5 234.0 901.3 234.5 901.6 235.0 902.2 235.5 902.4 236.0 902.0 236.5 902.2 237.0 903.5 237.5 902.6 238.0 903.2 238.5 902.1 239.0 901.3 239.5 902.4 240.0 901.9 240.5 902.5 241.0 901.4 241.5 902.5 242.0 901.6 242.5 902.0 243.0 900.9 243.5 901.9 244.0 900.7 244.5 901.3 245.0 901.3 245.5 900.0 246.0 899.8 246.5 899.9 247.0 900.3 247.5 900.6 248.0 900.7 248.5 900.3 249.0 900.3 249.5 900.2 250.0 899.7 250.5 898.9 251.0 900.7 251.5 900.6 252.0 900.0 252.5 900.1 253.0 899.7 253.5 899.6 254.0 899.6 254.5 900.1 255.0 899.4 255.5 898.3 256.0 899.4 256.5 898.5 257.0 898.3 257.5 898.2 258.0 898.7 258.5 897.2 259.0 898.0 259.5 896.9 260.0 897.2 260.5 897.6 261.0 896.1 261.5 897.3 262.0 896.8 262.5 896.2 263.0 896.6 263.5 897.5 264.0 895.5 264.5 895.0 265.0 895.5 265.5 895.1 266.0 895.0 266.5 894.4 267.0 894.7 267.5 894.7 268.0 894.7 268.5 893.9 269.0 892.6 269.5 893.1 270.0 892.4 270.5 891.3 271.0 891.6 271.5 892.2 272.0 890.5 272.5 891.2 273.0 890.3 273.5 889.9 274.0 890.2 274.5 889.5 275.0 890.3 275.5 889.7 276.0 888.9 276.5 888.4 277.0 888.0 277.5 888.0 278.0 888.0 278.5 888.5 279.0 887.8 279.5 887.8 280.0 887.2 280.5 888.0 281.0 886.6 281.5 885.5 282.0 886.6 282.5 885.2 283.0 884.5 283.5 885.1 284.0 884.4 284.5 884.3 285.0 883.6 285.5 883.6 286.0 882.7 286.5 882.7 287.0 882.2 287.5 882.1 288.0 882.4 288.5 882.4 289.0 881.3 289.5 881.1 290.0 880.9 290.5 881.1 291.0 879.9 291.5 880.2 292.0 880.2 292.5 879.1 293.0 879.5 293.5 879.2 294.0 878.1 294.5 878.0 295.0 878.4 295.5 878.0 296.0 877.3 296.5 877.8 297.0 876.9 297.5 877.3 298.0 876.0 298.5 876.8 299.0 877.1 299.5 875.5 300.0 874.7 300.5 875.2 301.0 873.7 301.5 873.6 302.0 873.3 302.5 872.2 303.0 871.7 303.5 870.8 304.0 871.1 304.5 870.0 305.0 868.3 305.5 869.2 306.0 868.6 306.5 867.1 307.0 866.3 307.5 865.2 308.0 864.4 308.5 863.0 309.0 862.5 309.5 862.0 310.0 860.8 310.5 860.0 311.0 859.1 311.5 857.4 312.0 857.4 312.5 855.7 313.0 854.9 313.5 853.9 314.0 852.4 314.5 850.9 315.0 849.3 315.5 848.2 316.0 847.2 316.5 845.4 317.0 843.5 317.5 842.9 318.0 840.8 318.5 839.5 319.0 837.8 319.5 837.0 320.0 833.7 320.5 832.6 321.0 831.0 321.5 828.4 322.0 826.4 322.5 824.3 323.0 823.0 323.5 819.5 324.0 819.4 324.5 816.6 325.0 815.8 325.5 813.7 326.0 811.0 326.5 809.4 327.0 807.0 327.5 806.1 328.0 804.3 328.5 802.8 329.0 800.9 329.5 801.2 330.0 801.0 330.5 799.3 331.0 800.5 331.5 800.2 332.0 800.6 332.5 801.7 333.0 802.6 333.5 803.1 334.0 805.1 334.5 807.0 335.0 808.3 335.5 808.4 336.0 810.8 336.5 812.2 337.0 812.8 337.5 815.5 338.0 816.6 338.5 818.6 339.0 820.0 339.5 821.9 340.0 822.0 340.5 824.4 341.0 826.3 341.5 827.1 342.0 828.3 342.5 828.8 343.0 830.8 343.5 831.3 344.0 832.4 344.5 834.5 345.0 835.4 345.5 836.3 346.0 837.5 346.5 839.1 347.0 839.1 347.5 839.8 348.0 841.2 348.5 841.2 349.0 841.9 349.5 843.5 350.0 843.7 350.5 844.3 351.0 845.2 351.5 845.2 352.0 845.5 352.5 844.9 353.0 845.5 353.5 845.5 354.0 845.8 354.5 845.7 355.0 846.0 355.5 844.6 356.0 845.2 356.5 844.9 357.0 844.1 357.5 845.1 358.0 844.2 358.5 844.5 359.0 844.0 359.5 843.0 360.0 843.5 360.5 843.1 361.0 842.9 361.5 842.5 362.0 841.8 362.5 841.2 363.0 840.6 363.5 840.1 364.0 839.0 364.5 838.1 365.0 837.3 365.5 837.5 366.0 835.7 366.5 834.7 367.0 834.0 367.5 832.6 368.0 830.9 368.5 829.2 369.0 828.3 369.5 827.1 370.0 824.9 370.5 822.7 371.0 820.9 371.5 819.4 372.0 817.4 372.5 815.9 373.0 813.2 373.5 810.3 374.0 808.2 374.5 806.5 375.0 804.1 375.5 802.3 376.0 799.6 376.5 798.4 377.0 798.7 377.5 795.7 378.0 794.8 378.5 794.4 379.0 794.9 379.5 795.9 380.0 797.7 380.5 798.6 381.0 800.5 381.5 801.6 382.0 804.0 382.5 805.3 383.0 808.0 383.5 811.3 384.0 814.7 384.5 817.8 385.0 821.2 385.5 825.0 386.0 829.8 386.5 833.2 387.0 837.5 387.5 841.1 388.0 845.2 388.5 848.9 389.0 852.1 389.5 854.6 390.0 858.4 390.5 861.3 391.0 864.8 391.5 867.9 392.0 871.0 392.5 872.4 393.0 875.4 393.5 877.4 394.0 878.4 394.5 880.1 395.0 882.3 395.5 883.7 396.0 884.2 396.5 885.6 397.0 886.8 397.5 888.8 398.0 889.4 398.5 890.3 399.0 890.9 399.5 892.3 400.0 892.2 400.5 893.5 401.0 893.7 401.5 894.5 402.0 896.1 402.5 895.4 403.0 896.3 403.5 895.1 404.0 896.4 404.5 896.6 405.0 896.6 405.5 896.5 406.0 896.7 406.5 897.0 407.0 898.1 407.5 897.9 408.0 897.6 408.5 898.2 409.0 898.7 409.5 899.2 410.0 899.9 410.5 899.4 411.0 899.5 411.5 901.1 412.0 899.6 412.5 900.5 413.0 900.5 413.5 901.1 414.0 900.5 414.5 900.0 415.0 900.4 415.5 900.3 416.0 901.4 416.5 900.3 417.0 901.4 417.5 900.7 418.0 900.8 418.5 900.5 419.0 901.8 419.5 900.8 420.0 901.2 420.5 901.9 421.0 900.8 421.5 900.2 422.0 901.9 422.5 902.5 423.0 902.0 423.5 902.0 424.0 902.2 424.5 900.7 425.0 901.1 425.5 902.2 426.0 901.9 426.5 900.8 427.0 902.1 427.5 901.3 428.0 901.5 428.5 902.4 429.0 902.3 429.5 902.3 430.0 901.1 430.5 902.6 431.0 902.2 431.5 901.6 432.0 901.5 432.5 902.6 433.0 900.9 433.5 902.7 434.0 902.2 434.5 901.7 435.0 902.9 435.5 902.2 436.0 901.8 436.5 902.1 437.0 902.5 437.5 902.7 438.0 902.4 438.5 901.7 439.0 902.4 439.5 903.0 440.0 903.0 440.5 902.6 441.0 902.4 441.5 902.6 442.0 901.8 442.5 901.6 443.0 900.9 443.5 902.6 444.0 902.1 444.5 902.1 445.0 902.3 445.5 902.7 446.0 903.0 446.5 902.4 447.0 901.9 447.5 902.6 448.0 903.3 448.5 902.7 449.0 902.5 449.5 902.4 450.0 902.1 450.5 902.2 451.0 902.5 451.5 902.6 452.0 902.4 452.5 901.6 453.0 901.7 453.5 901.5 454.0 902.4 454.5 902.5 455.0 902.3 455.5 901.9 456.0 901.1 456.5 901.6 457.0 902.5 457.5 901.5 458.0 901.2 458.5 901.4 459.0 902.5 459.5 902.0 460.0 901.7 460.5 902.0 461.0 901.6 461.5 902.4 462.0 902.6 462.5 902.7 463.0 901.7 463.5 902.7 464.0 902.7 464.5 902.6 465.0 902.2 465.5 901.9 466.0 902.7 466.5 901.0 467.0 900.7 467.5 902.3 468.0 902.8 468.5 901.9 469.0 902.0 469.5 902.5 470.0 903.0 470.5 902.0 471.0 902.4 471.5 902.5 472.0 902.6 472.5 902.9 473.0 902.6 473.5 901.9 474.0 902.1 474.5 901.7 475.0 902.3 475.5 901.8 476.0 901.6 476.5 901.3 477.0 902.5 477.5 901.6 478.0 902.2 478.5 902.3 479.0 903.6 479.5 902.7 480.0 902.6 480.5 902.5 481.0 903.8 481.5 903.2 482.0 902.6 482.5 903.6 483.0 902.7 483.5 903.7 484.0 902.8 484.5 902.6 485.0 902.5 485.5 902.5 486.0 902.2 486.5 903.1 487.0 901.5 487.5 902.1 488.0 901.6 488.5 902.6 489.0 902.4 489.5 902.7 490.0 901.6 490.5 902.4 491.0 901.8 491.5 902.2 492.0 901.9 492.5 901.5 493.0 901.4 493.5 901.1 494.0 901.3 494.5 901.1 495.0 901.6 495.5 901.5 496.0 902.2 496.5 902.1 497.0 902.4 497.5 901.9 498.0 901.9 498.5 900.9 499.0 900.6 499.5 901.0 500.0 901.7 500.5 901.9 501.0 901.0 501.5 900.9 502.0 901.4 502.5 900.6 503.0 901.8 503.5 901.7 504.0 900.7 504.5 901.6 505.0 901.4 505.5 901.1 506.0 900.6 506.5 901.1 507.0 900.5 507.5 901.5 508.0 900.8 508.5 901.5 509.0 902.3 509.5 900.2 510.0 901.3 510.5 900.9 511.0 901.2 511.5 902.1 512.0 900.8 512.5 900.4 513.0 901.0 513.5 900.5 514.0 901.0 514.5 900.1 515.0 901.6 515.5 900.4 516.0 899.8 516.5 900.9 517.0 901.2 517.5 899.9 518.0 900.7 518.5 901.0 519.0 900.5 519.5 901.2 520.0 900.4 520.5 901.2 521.0 901.6 521.5 900.9 522.0 899.7 522.5 901.0 523.0 900.0 523.5 900.2 524.0 900.4 524.5 901.0 525.0 899.9 525.5 900.2 526.0 900.9 526.5 901.1 527.0 901.9 527.5 900.1 528.0 900.2 528.5 901.1 529.0 900.0 529.5 901.5 530.0 900.1 530.5 900.0 531.0 899.9 531.5 900.4 532.0 899.5 532.5 900.0 533.0 899.9 533.5 899.8 534.0 900.7 534.5 900.5 535.0 900.1 535.5 899.6 536.0 899.7 536.5 898.7 537.0 900.5 537.5 899.9 538.0 899.5 538.5 899.6 539.0 899.6 539.5 899.4 540.0 900.2 540.5 900.9 541.0 900.0 541.5 900.3 542.0 900.7 542.5 899.7 543.0 900.3 543.5 899.4 544.0 899.7 544.5 899.2 545.0 899.4 545.5 899.3 546.0 898.8 546.5 898.8 547.0 899.2 547.5 898.8 548.0 898.8 548.5 899.4 549.0 899.4 549.5 900.8 550.0 899.5 550.5 899.4 551.0 898.8 551.5 899.0 552.0 899.3 552.5 899.0 553.0 899.9 553.5 899.2 554.0 898.4 554.5 898.8 555.0 898.0 555.5 897.8 556.0 898.7 556.5 898.4 557.0 898.7 557.5 898.6 558.0 898.4 558.5 898.6 559.0 897.9 559.5 898.0 560.0 898.7 560.5 898.1" fill="none" stroke="#a06c24" stroke-width="3.3" stroke-linejoin="round"/>
<path d="M82.5 957.0 83.0 956.8 83.5 956.3 84.0 955.8 84.5 956.1 85.0 956.1 85.5 956.6 86.0 955.1 86.5 956.1 87.0 955.8 87.5 955.7 88.0 955.1 88.5 956.3 89.0 954.5 89.5 955.0 90.0 955.1 90.5 954.3 91.0 954.2 91.5 955.1 92.0 953.9 92.5 954.5 93.0 955.3 93.5 955.3 94.0 956.2 94.5 956.0 95.0 954.6 95.5 955.3 96.0 955.6 96.5 956.0 97.0 954.6 97.5 955.2 98.0 954.1 98.5 955.2 99.0 955.6 99.5 955.6 100.0 955.5 100.5 955.2 101.0 955.2 101.5 955.4 102.0 955.7 102.5 955.8 103.0 955.7 103.5 956.2 104.0 955.4 104.5 955.7 105.0 954.9 105.5 955.9 106.0 956.1 106.5 955.0 107.0 955.2 107.5 955.3 108.0 956.6 108.5 956.2 109.0 956.7 109.5 955.8 110.0 956.1 110.5 956.8 111.0 956.3 111.5 956.0 112.0 956.9 112.5 956.7 113.0 956.7 113.5 957.2 114.0 957.3 114.5 957.0 115.0 956.7 115.5 956.6 116.0 957.5 116.5 958.4 117.0 957.2 117.5 957.8 118.0 956.7 118.5 957.1 119.0 957.2 119.5 957.7 120.0 957.0 120.5 957.4 121.0 957.7 121.5 957.2 122.0 957.1 122.5 957.2 123.0 957.5 123.5 957.7 124.0 957.4 124.5 958.1 125.0 958.5 125.5 958.3 126.0 957.7 126.5 958.7 127.0 957.3 127.5 958.5 128.0 958.2 128.5 957.3 129.0 958.2 129.5 957.9 130.0 959.2 130.5 957.9 131.0 958.4 131.5 958.4 132.0 957.8 132.5 957.1 133.0 958.1 133.5 957.7 134.0 956.3 134.5 957.5 135.0 957.0 135.5 956.6 136.0 956.4 136.5 957.1 137.0 957.0 137.5 956.9 138.0 957.1 138.5 956.4 139.0 958.0 139.5 958.1 140.0 956.9 140.5 956.9 141.0 957.0 141.5 956.3 142.0 955.9 142.5 956.2 143.0 955.7 143.5 956.0 144.0 956.1 144.5 956.3 145.0 955.3 145.5 956.0 146.0 956.2 146.5 955.5 147.0 955.5 147.5 956.3 148.0 956.3 148.5 954.2 149.0 954.8 149.5 954.4 150.0 955.4 150.5 953.6 151.0 954.8 151.5 955.1 152.0 953.8 152.5 954.6 153.0 953.8 153.5 953.3 154.0 954.4 154.5 953.6 155.0 953.5 155.5 953.5 156.0 953.6 156.5 952.8 157.0 952.7 157.5 952.6 158.0 953.4 158.5 952.6 159.0 953.0 159.5 951.1 160.0 952.6 160.5 952.2 161.0 951.9 161.5 951.2 162.0 951.9 162.5 950.5 163.0 951.0 163.5 951.2 164.0 951.8 164.5 951.6 165.0 951.5 165.5 951.2 166.0 951.2 166.5 950.9 167.0 950.0 167.5 950.7 168.0 950.5 168.5 950.3 169.0 950.1 169.5 950.6 170.0 950.3 170.5 950.8 171.0 950.2 171.5 949.5 172.0 949.4 172.5 950.0 173.0 949.3 173.5 949.4 174.0 948.7 174.5 948.6 175.0 948.2 175.5 948.3 176.0 947.7 176.5 947.9 177.0 947.2 177.5 948.5 178.0 946.4 178.5 947.2 179.0 945.9 179.5 945.9 180.0 945.7 180.5 944.5 181.0 944.7 181.5 943.8 182.0 943.7 182.5 943.7 183.0 943.4 183.5 943.7 184.0 942.8 184.5 942.6 185.0 942.6 185.5 941.4 186.0 941.4 186.5 942.3 187.0 940.8 187.5 940.9 188.0 940.4 188.5 939.8 189.0 940.6 189.5 941.4 190.0 941.2 190.5 941.3 191.0 942.2 191.5 943.9 192.0 944.5 192.5 945.9 193.0 946.9 193.5 948.1 194.0 948.0 194.5 949.6 195.0 949.4 195.5 949.4 196.0 950.8 196.5 950.4 197.0 952.3 197.5 952.5 198.0 952.6 198.5 953.2 199.0 953.9 199.5 954.2 200.0 953.5 200.5 954.9 201.0 955.1 201.5 954.8 202.0 955.2 202.5 955.9 203.0 956.2 203.5 955.6 204.0 956.3 204.5 957.1 205.0 956.4 205.5 956.5 206.0 957.8 206.5 958.0 207.0 956.7 207.5 957.7 208.0 956.9 208.5 957.8 209.0 958.2 209.5 956.8 210.0 958.1 210.5 957.9 211.0 958.4 211.5 958.4 212.0 958.1 212.5 957.8 213.0 957.5 213.5 958.6 214.0 958.1 214.5 957.5 215.0 957.7 215.5 957.5 216.0 957.4 216.5 957.2 217.0 957.3 217.5 957.6 218.0 958.3 218.5 956.9 219.0 958.3 219.5 956.1 220.0 957.6 220.5 957.5 221.0 956.2 221.5 957.7 222.0 957.0 222.5 957.5 223.0 957.9 223.5 957.1 224.0 957.3 224.5 956.1 225.0 958.1 225.5 957.3 226.0 958.3 226.5 958.4 227.0 957.8 227.5 958.6 228.0 958.8 228.5 957.4 229.0 957.2 229.5 957.3 230.0 958.0 230.5 958.2 231.0 957.4 231.5 957.4 232.0 958.1 232.5 957.0 233.0 956.4 233.5 957.5 234.0 957.8 234.5 956.5 235.0 957.3 235.5 957.7 236.0 959.1 236.5 957.8 237.0 957.6 237.5 957.6 238.0 958.2 238.5 957.3 239.0 957.7 239.5 957.9 240.0 956.9 240.5 957.5 241.0 956.5 241.5 957.5 242.0 957.3 242.5 956.7 243.0 956.4 243.5 956.5 244.0 956.7 244.5 956.2 245.0 956.7 245.5 956.8 246.0 957.0 246.5 956.4 247.0 956.8 247.5 957.6 248.0 956.8 248.5 956.4 249.0 956.9 249.5 956.3 250.0 957.3 250.5 956.9 251.0 958.1 251.5 956.1 252.0 956.9 252.5 957.5 253.0 956.2 253.5 957.0 254.0 957.1 254.5 957.0 255.0 957.3 255.5 957.1 256.0 956.0 256.5 956.7 257.0 956.1 257.5 956.5 258.0 956.7 258.5 955.9 259.0 956.3 259.5 955.0 260.0 955.1 260.5 955.3 261.0 954.8 261.5 955.3 262.0 954.5 262.5 954.1 263.0 953.9 263.5 954.4 264.0 954.4 264.5 952.8 265.0 953.5 265.5 952.9 266.0 952.2 266.5 952.1 267.0 952.3 267.5 951.6 268.0 951.5 268.5 950.7 269.0 950.7 269.5 950.8 270.0 949.9 270.5 949.6 271.0 949.0 271.5 948.7 272.0 948.6 272.5 947.4 273.0 948.4 273.5 946.8 274.0 947.0 274.5 946.9 275.0 946.6 275.5 946.7 276.0 946.0 276.5 945.2 277.0 944.9 277.5 945.5 278.0 945.5 278.5 944.8 279.0 944.5 279.5 944.1 280.0 944.0 280.5 943.8 281.0 942.9 281.5 942.7 282.0 942.9 282.5 942.7 283.0 942.6 283.5 942.0 284.0 942.4 284.5 942.5 285.0 941.2 285.5 940.7 286.0 940.6 286.5 941.0 287.0 940.6 287.5 939.4 288.0 939.4 288.5 938.7 289.0 937.9 289.5 938.2 290.0 939.3 290.5 937.9 291.0 937.1 291.5 936.6 292.0 936.3 292.5 936.7 293.0 936.2 293.5 935.1 294.0 934.5 294.5 934.1 295.0 933.2 295.5 932.4 296.0 933.3 296.5 932.7 297.0 932.1 297.5 932.5 298.0 931.3 298.5 931.4 299.0 931.8 299.5 931.2 300.0 930.5 300.5 929.0 301.0 928.2 301.5 927.5 302.0 928.2 302.5 927.5 303.0 926.2 303.5 924.7 304.0 924.5 304.5 924.9 305.0 923.7 305.5 923.5 306.0 922.6 306.5 921.6 307.0 922.1 307.5 920.4 308.0 920.0 308.5 919.2 309.0 918.5 309.5 917.1 310.0 916.1 310.5 915.7 311.0 914.0 311.5 914.1 312.0 913.6 312.5 912.3 313.0 910.5 313.5 909.7 314.0 908.5 314.5 907.3 315.0 906.9 315.5 904.9 316.0 903.7 316.5 902.1 317.0 900.4 317.5 898.1 318.0 897.7 318.5 896.0 319.0 894.0 319.5 891.8 320.0 890.7 320.5 887.0 321.0 885.5 321.5 884.7 322.0 882.4 322.5 879.5 323.0 878.1 323.5 876.3 324.0 874.1 324.5 873.8 325.0 871.0 325.5 869.7 326.0 867.0 326.5 866.2 327.0 864.5 327.5 863.6 328.0 863.6 328.5 862.3 329.0 861.6 329.5 861.1 330.0 860.1 330.5 859.9 331.0 858.3 331.5 858.6 332.0 858.5 332.5 857.9 333.0 857.8 333.5 859.3 334.0 860.0 334.5 861.6 335.0 863.5 335.5 864.7 336.0 865.8 336.5 867.7 337.0 868.0 337.5 869.3 338.0 871.4 338.5 872.2 339.0 873.8 339.5 875.7 340.0 876.8 340.5 877.2 341.0 878.7 341.5 880.0 342.0 880.9 342.5 882.2 343.0 883.8 343.5 885.3 344.0 885.3 344.5 885.9 345.0 886.9 345.5 888.4 346.0 889.5 346.5 889.8 347.0 891.3 347.5 892.2 348.0 892.5 348.5 892.8 349.0 892.6 349.5 894.6 350.0 895.1 350.5 895.8 351.0 896.2 351.5 895.4 352.0 896.3 352.5 894.9 353.0 896.9 353.5 897.1 354.0 899.1 354.5 897.1 355.0 897.6 355.5 896.4 356.0 897.8 356.5 898.5 357.0 898.2 357.5 897.2 358.0 896.5 358.5 897.1 359.0 896.8 359.5 895.9 360.0 895.5 360.5 894.7 361.0 895.0 361.5 894.1 362.0 893.9 362.5 892.9 363.0 891.3 363.5 891.6 364.0 891.6 364.5 890.9 365.0 889.7 365.5 888.7 366.0 888.4 366.5 887.4 367.0 886.2 367.5 885.0 368.0 882.9 368.5 882.1 369.0 881.3 369.5 879.7 370.0 878.1 370.5 876.4 371.0 874.6 371.5 873.5 372.0 871.7 372.5 869.6 373.0 868.9 373.5 866.8 374.0 864.6 374.5 862.8 375.0 860.3 375.5 859.4 376.0 857.6 376.5 855.7 377.0 854.1 377.5 852.4 378.0 850.7 378.5 849.4 379.0 849.1 379.5 850.6 380.0 852.7 380.5 854.3 381.0 855.8 381.5 855.9 382.0 858.6 382.5 859.9 383.0 861.8 383.5 863.4 384.0 865.3 384.5 868.0 385.0 870.8 385.5 874.3 386.0 877.4 386.5 880.2 387.0 883.1 387.5 888.8 388.0 892.6 388.5 897.4 389.0 901.3 389.5 905.1 390.0 910.0 390.5 913.6 391.0 916.9 391.5 921.6 392.0 924.2 392.5 927.2 393.0 929.4 393.5 931.6 394.0 933.7 394.5 934.3 395.0 937.1 395.5 938.3 396.0 938.7 396.5 939.6 397.0 940.7 397.5 941.4 398.0 942.5 398.5 943.0 399.0 944.5 399.5 943.8 400.0 944.2 400.5 945.0 401.0 946.0 401.5 945.8 402.0 946.5 402.5 946.5 403.0 948.1 403.5 947.6 404.0 947.5 404.5 949.1 405.0 949.4 405.5 949.8 406.0 949.8 406.5 950.1 407.0 950.1 407.5 950.8 408.0 951.5 408.5 951.2 409.0 952.5 409.5 952.2 410.0 952.0 410.5 953.0 411.0 953.3 411.5 953.6 412.0 953.0 412.5 953.7 413.0 952.9 413.5 954.4 414.0 954.5 414.5 953.9 415.0 953.7 415.5 954.2 416.0 954.5 416.5 954.9 417.0 955.1 417.5 955.0 418.0 955.4 418.5 954.7 419.0 955.0 419.5 955.7 420.0 955.3 420.5 955.9 421.0 955.0 421.5 955.3 422.0 955.4 422.5 954.7 423.0 954.7 423.5 955.8 424.0 956.3 424.5 954.7 425.0 956.1 425.5 955.4 426.0 955.1 426.5 955.3 427.0 955.9 427.5 955.2 428.0 956.5 428.5 955.1 429.0 955.0 429.5 955.3 430.0 954.8 430.5 956.1 431.0 955.3 431.5 955.0 432.0 954.8 432.5 956.1 433.0 956.6 433.5 955.2 434.0 954.9 434.5 955.0 435.0 956.0 435.5 955.3 436.0 956.4 436.5 956.3 437.0 955.8 437.5 956.0 438.0 955.5 438.5 954.5 439.0 955.8 439.5 954.5 440.0 955.3 440.5 955.4 441.0 955.1 441.5 956.1 442.0 956.6 442.5 955.4 443.0 955.8 443.5 955.6 444.0 956.1 444.5 955.6 445.0 955.7 445.5 955.5 446.0 955.8 446.5 956.7 447.0 956.6 447.5 956.3 448.0 956.2 448.5 956.6 449.0 956.2 449.5 956.5 450.0 957.0 450.5 954.9 451.0 955.0 451.5 955.6 452.0 954.7 452.5 956.0 453.0 955.5 453.5 956.0 454.0 955.3 454.5 955.4 455.0 954.7 455.5 955.4 456.0 955.3 456.5 955.6 457.0 954.6 457.5 954.8 458.0 954.9 458.5 955.1 459.0 954.8 459.5 954.6 460.0 954.7 460.5 954.4 461.0 955.1 461.5 955.3 462.0 955.3 462.5 955.1 463.0 954.8 463.5 954.7 464.0 954.7 464.5 954.8 465.0 955.7 465.5 954.8 466.0 955.8 466.5 956.5 467.0 955.0 467.5 955.8 468.0 954.9 468.5 955.2 469.0 955.0 469.5 954.9 470.0 954.6 470.5 955.5 471.0 955.1 471.5 954.0 472.0 954.8 472.5 955.1 473.0 954.8 473.5 955.6 474.0 955.9 474.5 954.2 475.0 955.4 475.5 956.2 476.0 955.1 476.5 954.9 477.0 954.9 477.5 954.9 478.0 955.6 478.5 955.1 479.0 954.7 479.5 956.0 480.0 954.6 480.5 955.4 481.0 955.7 481.5 954.2 482.0 955.1 482.5 956.4 483.0 955.0 483.5 955.7 484.0 955.2 484.5 954.7 485.0 955.2 485.5 955.0 486.0 955.6 486.5 956.2 487.0 956.4 487.5 955.4 488.0 955.4 488.5 954.8 489.0 955.4 489.5 955.5 490.0 955.1 490.5 955.3 491.0 954.9 491.5 954.9 492.0 955.4 492.5 955.1 493.0 954.4 493.5 954.5 494.0 955.0 494.5 955.3 495.0 955.6 495.5 954.8 496.0 955.0 496.5 954.9 497.0 955.9 497.5 956.2 498.0 954.7 498.5 954.7 499.0 954.7 499.5 956.1 500.0 955.0 500.5 954.3 501.0 954.9 501.5 954.5 502.0 955.2 502.5 955.3 503.0 954.5 503.5 954.7 504.0 954.9 504.5 955.8 505.0 955.4 505.5 956.1 506.0 955.6 506.5 955.5 507.0 955.2 507.5 955.1 508.0 955.6 508.5 954.6 509.0 955.5 509.5 954.5 510.0 954.4 510.5 954.7 511.0 954.8 511.5 955.6 512.0 954.8 512.5 955.3 513.0 954.8 513.5 954.9 514.0 954.6 514.5 953.8 515.0 954.6 515.5 955.1 516.0 953.4 516.5 954.6 517.0 954.6 517.5 954.7 518.0 955.5 518.5 955.0 519.0 955.4 519.5 955.5 520.0 954.8 520.5 955.9 521.0 955.6 521.5 955.7 522.0 955.2 522.5 954.8 523.0 955.3 523.5 955.5 524.0 955.3 524.5 954.6 525.0 954.5 525.5 954.5 526.0 955.0 526.5 955.0 527.0 954.4 527.5 954.5 528.0 954.5 528.5 954.8 529.0 954.6 529.5 954.2 530.0 954.9 530.5 954.6 531.0 954.9 531.5 955.3 532.0 955.1 532.5 954.2 533.0 955.3 533.5 954.1 534.0 955.3 534.5 954.9 535.0 955.0 535.5 955.2 536.0 953.9 536.5 954.8 537.0 954.1 537.5 953.7 538.0 954.3 538.5 954.7 539.0 954.3 539.5 954.3 540.0 954.9 540.5 954.4 541.0 954.8 541.5 955.0 542.0 953.8 542.5 954.3 543.0 954.0 543.5 954.0 544.0 954.7 544.5 954.5 545.0 955.6 545.5 954.8 546.0 954.2 546.5 955.0 547.0 955.6 547.5 954.9 548.0 955.0 548.5 955.4 549.0 955.9 549.5 954.1 550.0 955.3 550.5 955.6 551.0 955.3 551.5 955.7 552.0 955.4 552.5 955.3 553.0 955.8 553.5 955.6 554.0 954.7 554.5 954.1 555.0 954.9 555.5 954.9 556.0 955.5 556.5 955.2 557.0 954.9 557.5 955.0 558.0 954.7 558.5 954.3 559.0 955.7 559.5 955.2 560.0 954.3 560.5 955.8" fill="none" stroke="#3065a3" stroke-width="3.3" stroke-linejoin="round"/>
<path d="M82.5 1010.9 83.0 1011.0 83.5 1010.4 84.0 1010.3 84.5 1010.3 85.0 1010.2 85.5 1009.8 86.0 1008.7 86.5 1009.0 87.0 1008.9 87.5 1009.2 88.0 1008.8 88.5 1008.4 89.0 1008.7 89.5 1008.6 90.0 1007.8 90.5 1008.5 91.0 1007.9 91.5 1008.0 92.0 1007.7 92.5 1007.0 93.0 1008.1 93.5 1006.8 94.0 1007.6 94.5 1007.8 95.0 1007.6 95.5 1008.3 96.0 1007.6 96.5 1007.6 97.0 1008.2 97.5 1007.8 98.0 1008.4 98.5 1008.7 99.0 1009.1 99.5 1008.0 100.0 1008.3 100.5 1008.7 101.0 1008.7 101.5 1008.3 102.0 1008.9 102.5 1008.2 103.0 1008.6 103.5 1008.6 104.0 1009.1 104.5 1009.8 105.0 1009.4 105.5 1010.0 106.0 1009.1 106.5 1009.4 107.0 1010.2 107.5 1009.8 108.0 1009.9 108.5 1009.2 109.0 1010.3 109.5 1009.7 110.0 1010.6 110.5 1009.8 111.0 1010.1 111.5 1011.1 112.0 1010.0 112.5 1010.1 113.0 1010.6 113.5 1009.8 114.0 1010.8 114.5 1010.8 115.0 1011.0 115.5 1010.9 116.0 1011.2 116.5 1011.0 117.0 1011.2 117.5 1011.1 118.0 1011.9 118.5 1011.6 119.0 1012.3 119.5 1011.6 120.0 1011.9 120.5 1011.8 121.0 1012.5 121.5 1012.9 122.0 1012.7 122.5 1013.2 123.0 1012.5 123.5 1011.6 124.0 1012.3 124.5 1012.8 125.0 1012.5 125.5 1012.2 126.0 1012.5 126.5 1012.4 127.0 1011.4 127.5 1011.9 128.0 1012.6 128.5 1012.8 129.0 1011.8 129.5 1012.0 130.0 1012.6 130.5 1012.5 131.0 1012.2 131.5 1011.9 132.0 1012.6 132.5 1012.7 133.0 1011.6 133.5 1011.7 134.0 1012.7 134.5 1012.4 135.0 1011.7 135.5 1011.9 136.0 1011.9 136.5 1012.1 137.0 1011.9 137.5 1011.7 138.0 1011.4 138.5 1011.0 139.0 1010.7 139.5 1010.5 140.0 1010.9 140.5 1010.3 141.0 1009.9 141.5 1010.7 142.0 1010.3 142.5 1011.1 143.0 1010.2 143.5 1009.6 144.0 1009.3 144.5 1010.2 145.0 1009.5 145.5 1008.1 146.0 1008.4 146.5 1008.6 147.0 1008.9 147.5 1007.8 148.0 1006.7 148.5 1007.9 149.0 1006.9 149.5 1007.2 150.0 1006.4 150.5 1006.6 151.0 1006.5 151.5 1005.1 152.0 1005.1 152.5 1005.6 153.0 1004.8 153.5 1004.7 154.0 1003.7 154.5 1002.8 155.0 1002.3 155.5 1002.6 156.0 1002.4 156.5 1001.8 157.0 1001.6 157.5 1001.3 158.0 1000.1 158.5 999.9 159.0 1000.1 159.5 1000.1 160.0 999.7 160.5 999.2 161.0 998.6 161.5 998.8 162.0 999.1 162.5 999.1 163.0 999.7 163.5 999.3 164.0 999.5 164.5 999.9 165.0 999.6 165.5 1000.8 166.0 999.8 166.5 1000.3 167.0 999.4 167.5 1000.2 168.0 1000.1 168.5 1000.3 169.0 1001.3 169.5 1000.2 170.0 1000.0 170.5 999.1 171.0 999.8 171.5 999.9 172.0 997.3 172.5 996.2 173.0 995.9 173.5 995.9 174.0 994.4 174.5 992.6 175.0 992.4 175.5 992.4 176.0 991.5 176.5 991.6 177.0 990.5 177.5 989.7 178.0 989.4 178.5 988.9 179.0 988.5 179.5 988.6 180.0 988.8 180.5 987.9 181.0 987.9 181.5 988.0 182.0 988.6 182.5 988.0 183.0 988.0 183.5 987.9 184.0 987.5 184.5 987.4 185.0 986.8 185.5 987.4 186.0 987.0 186.5 986.2 187.0 986.4 187.5 986.1 188.0 985.6 188.5 987.0 189.0 987.0 189.5 988.0 190.0 989.0 190.5 989.5 191.0 990.0 191.5 990.3 192.0 991.3 192.5 990.8 193.0 992.6 193.5 992.9 194.0 992.7 194.5 992.8 195.0 994.0 195.5 994.6 196.0 994.9 196.5 995.8 197.0 997.0 197.5 997.7 198.0 998.2 198.5 999.4 199.0 999.9 199.5 1000.1 200.0 1001.2 200.5 1002.7 201.0 1003.3 201.5 1004.4 202.0 1005.6 202.5 1005.4 203.0 1006.1 203.5 1007.5 204.0 1008.1 204.5 1008.7 205.0 1009.1 205.5 1010.9 206.0 1009.7 206.5 1010.1 207.0 1010.3 207.5 1010.2 208.0 1010.5 208.5 1011.5 209.0 1011.6 209.5 1011.0 210.0 1010.8 210.5 1012.3 211.0 1012.3 211.5 1011.9 212.0 1012.3 212.5 1012.5 213.0 1012.2 213.5 1012.0 214.0 1012.6 214.5 1012.9 215.0 1012.6 215.5 1013.1 216.0 1012.5 216.5 1012.0 217.0 1012.4 217.5 1012.0 218.0 1011.7 218.5 1012.5 219.0 1012.5 219.5 1011.8 220.0 1012.3 220.5 1012.5 221.0 1011.9 221.5 1012.6 222.0 1012.2 222.5 1012.7 223.0 1012.5 223.5 1013.1 224.0 1011.9 224.5 1013.6 225.0 1011.7 225.5 1013.5 226.0 1012.5 226.5 1012.1 227.0 1013.7 227.5 1012.1 228.0 1012.3 228.5 1011.5 229.0 1011.7 229.5 1011.6 230.0 1012.1 230.5 1012.2 231.0 1012.5 231.5 1011.8 232.0 1011.8 232.5 1011.0 233.0 1012.4 233.5 1011.7 234.0 1011.6 234.5 1012.9 235.0 1011.8 235.5 1011.5 236.0 1011.8 236.5 1011.8 237.0 1011.7 237.5 1012.3 238.0 1011.9 238.5 1012.5 239.0 1011.9 239.5 1012.0 240.0 1010.7 240.5 1011.2 241.0 1011.6 241.5 1011.2 242.0 1011.3 242.5 1011.4 243.0 1011.7 243.5 1011.3 244.0 1011.1 244.5 1011.0 245.0 1011.5 245.5 1011.7 246.0 1011.4 246.5 1011.0 247.0 1011.0 247.5 1011.8 248.0 1011.4 248.5 1011.1 249.0 1011.1 249.5 1011.2 250.0 1011.4 250.5 1011.3 251.0 1009.9 251.5 1010.6 252.0 1010.9 252.5 1011.0 253.0 1010.4 253.5 1010.9 254.0 1010.7 254.5 1010.6 255.0 1010.1 255.5 1011.0 256.0 1011.0 256.5 1010.2 257.0 1010.4 257.5 1010.0 258.0 1010.2 258.5 1009.4 259.0 1009.4 259.5 1009.7 260.0 1009.0 260.5 1009.9 261.0 1009.7 261.5 1009.1 262.0 1009.2 262.5 1008.2 263.0 1008.0 263.5 1007.5 264.0 1008.2 264.5 1007.5 265.0 1008.2 265.5 1007.7 266.0 1006.9 266.5 1006.6 267.0 1006.5 267.5 1005.2 268.0 1005.7 268.5 1006.3 269.0 1005.1 269.5 1004.6 270.0 1004.9 270.5 1003.9 271.0 1004.1 271.5 1003.7 272.0 1003.3 272.5 1003.2 273.0 1002.8 273.5 1003.2 274.0 1001.8 274.5 1003.1 275.0 1002.1 275.5 1002.8 276.0 1001.5 276.5 1001.0 277.0 1001.2 277.5 1000.0 278.0 999.3 278.5 999.2 279.0 999.5 279.5 998.9 280.0 999.2 280.5 998.3 281.0 998.0 281.5 999.3 282.0 998.2 282.5 997.0 283.0 997.6 283.5 997.1 284.0 997.2 284.5 997.3 285.0 996.2 285.5 994.9 286.0 995.9 286.5 995.6 287.0 994.6 287.5 994.0 288.0 993.7 288.5 993.2 289.0 993.2 289.5 993.2 290.0 993.3 290.5 993.0 291.0 992.6 291.5 992.4 292.0 992.4 292.5 992.7 293.0 992.5 293.5 991.8 294.0 991.6 294.5 991.7 295.0 991.2 295.5 990.1 296.0 992.0 296.5 991.5 297.0 990.8 297.5 990.8 298.0 990.5 298.5 990.5 299.0 989.9 299.5 988.8 300.0 988.8 300.5 989.2 301.0 989.2 301.5 987.8 302.0 988.4 302.5 987.4 303.0 986.2 303.5 986.4 304.0 985.6 304.5 986.2 305.0 985.0 305.5 984.5 306.0 984.5 306.5 983.9 307.0 982.3 307.5 981.4 308.0 981.0 308.5 980.7 309.0 979.7 309.5 979.0 310.0 978.8 310.5 978.2 311.0 976.4 311.5 975.5 312.0 975.0 312.5 974.2 313.0 974.0 313.5 972.6 314.0 971.4 314.5 971.1 315.0 970.2 315.5 968.5 316.0 968.4 316.5 967.0 317.0 965.3 317.5 964.2 318.0 963.3 318.5 962.2 319.0 960.9 319.5 959.2 320.0 958.1 320.5 955.7 321.0 953.8 321.5 953.7 322.0 950.8 322.5 948.7 323.0 947.2 323.5 944.2 324.0 943.2 324.5 940.3 325.0 937.9 325.5 935.2 326.0 932.6 326.5 929.3 327.0 927.4 327.5 924.5 328.0 921.6 328.5 918.4 329.0 916.3 329.5 915.1 330.0 913.2 330.5 913.3 331.0 911.6 331.5 910.7 332.0 909.6 332.5 908.0 333.0 907.8 333.5 907.7 334.0 909.2 334.5 910.5 335.0 911.2 335.5 913.4 336.0 915.1 336.5 916.8 337.0 918.9 337.5 919.5 338.0 920.7 338.5 923.9 339.0 925.5 339.5 926.8 340.0 929.0 340.5 930.2 341.0 932.8 341.5 935.3 342.0 936.4 342.5 937.8 343.0 940.5 343.5 942.7 344.0 945.4 344.5 946.5 345.0 947.9 345.5 949.7 346.0 950.2 346.5 952.3 347.0 952.9 347.5 954.2 348.0 955.3 348.5 956.7 349.0 955.6 349.5 957.5 350.0 958.3 350.5 957.8 351.0 958.7 351.5 958.3 352.0 960.2 352.5 959.3 353.0 960.3 353.5 960.5 354.0 959.2 354.5 959.7 355.0 959.6 355.5 960.0 356.0 960.3 356.5 960.6 357.0 960.1 357.5 960.1 358.0 959.8 358.5 959.7 359.0 959.1 359.5 959.8 360.0 959.9 360.5 958.6 361.0 958.2 361.5 957.8 362.0 958.1 362.5 956.4 363.0 956.9 363.5 956.5 364.0 956.8 364.5 956.7 365.0 955.4 365.5 954.6 366.0 954.5 366.5 953.7 367.0 952.5 367.5 952.1 368.0 951.4 368.5 949.7 369.0 949.4 369.5 948.5 370.0 947.8 370.5 945.5 371.0 944.7 371.5 943.4 372.0 942.1 372.5 940.3 373.0 939.5 373.5 937.1 374.0 934.4 374.5 933.0 375.0 930.9 375.5 928.7 376.0 927.5 376.5 924.4 377.0 923.0 377.5 919.6 378.0 918.4 378.5 915.7 379.0 915.4 379.5 913.7 380.0 910.5 380.5 910.0 381.0 908.0 381.5 904.7 382.0 905.5 382.5 907.1 383.0 908.8 383.5 910.8 384.0 913.0 384.5 914.7 385.0 917.4 385.5 919.2 386.0 923.4 386.5 926.9 387.0 929.4 387.5 933.9 388.0 938.3 388.5 942.6 389.0 946.0 389.5 949.8 390.0 954.1 390.5 957.4 391.0 960.7 391.5 964.1 392.0 967.5 392.5 970.4 393.0 972.9 393.5 975.3 394.0 978.5 394.5 981.3 395.0 982.3 395.5 984.3 396.0 986.4 396.5 987.6 397.0 989.3 397.5 990.9 398.0 990.9 398.5 992.1 399.0 992.6 399.5 994.5 400.0 995.0 400.5 995.2 401.0 997.4 401.5 997.5 402.0 996.6 402.5 998.3 403.0 999.3 403.5 1000.1 404.0 1000.2 404.5 1000.4 405.0 1001.5 405.5 1000.8 406.0 1001.6 406.5 1001.7 407.0 1002.1 407.5 1002.6 408.0 1003.4 408.5 1004.0 409.0 1003.7 409.5 1004.8 410.0 1005.4 410.5 1005.2 411.0 1006.0 411.5 1006.0 412.0 1005.4 412.5 1005.2 413.0 1006.1 413.5 1006.2 414.0 1005.8 414.5 1007.0 415.0 1006.2 415.5 1006.6 416.0 1007.4 416.5 1007.1 417.0 1007.0 417.5 1007.2 418.0 1007.3 418.5 1007.2 419.0 1007.1 419.5 1006.8 420.0 1008.1 420.5 1007.7 421.0 1007.2 421.5 1006.9 422.0 1008.1 422.5 1007.4 423.0 1007.2 423.5 1007.9 424.0 1007.1 424.5 1007.7 425.0 1007.3 425.5 1007.9 426.0 1007.4 426.5 1007.0 427.0 1007.8 427.5 1007.5 428.0 1007.5 428.5 1007.7 429.0 1007.6 429.5 1007.2 430.0 1007.1 430.5 1007.2 431.0 1006.9 431.5 1007.1 432.0 1007.6 432.5 1006.5 433.0 1007.1 433.5 1007.0 434.0 1006.5 434.5 1007.6 435.0 1007.7 435.5 1008.0 436.0 1006.8 436.5 1007.2 437.0 1007.5 437.5 1007.7 438.0 1008.3 438.5 1006.8 439.0 1007.8 439.5 1008.2 440.0 1007.7 440.5 1007.7 441.0 1007.7 441.5 1007.3 442.0 1007.3 442.5 1007.5 443.0 1008.3 443.5 1007.2 444.0 1007.5 444.5 1007.3 445.0 1006.7 445.5 1007.3 446.0 1007.4 446.5 1008.4 447.0 1008.3 447.5 1007.4 448.0 1008.7 448.5 1007.5 449.0 1007.5 449.5 1008.1 450.0 1006.8 450.5 1006.0 451.0 1007.8 451.5 1007.0 452.0 1006.6 452.5 1007.4 453.0 1006.2 453.5 1007.3 454.0 1007.4 454.5 1007.0 455.0 1007.3 455.5 1006.5 456.0 1007.6 456.5 1007.1 457.0 1007.1 457.5 1007.5 458.0 1007.9 458.5 1007.6 459.0 1008.0 459.5 1007.7 460.0 1008.1 460.5 1008.1 461.0 1008.0 461.5 1006.8 462.0 1008.1 462.5 1007.2 463.0 1006.9 463.5 1007.0 464.0 1008.2 464.5 1007.2 465.0 1006.5 465.5 1007.8 466.0 1008.0 466.5 1007.1 467.0 1007.0 467.5 1007.5 468.0 1007.0 468.5 1007.6 469.0 1007.5 469.5 1008.6 470.0 1008.3 470.5 1008.0 471.0 1007.4 471.5 1007.9 472.0 1008.2 472.5 1008.1 473.0 1007.9 473.5 1008.3 474.0 1007.4 474.5 1007.4 475.0 1007.7 475.5 1007.0 476.0 1008.0 476.5 1007.1 477.0 1007.4 477.5 1007.3 478.0 1006.2 478.5 1006.9 479.0 1007.6 479.5 1006.8 480.0 1007.5 480.5 1006.9 481.0 1007.3 481.5 1007.6 482.0 1007.0 482.5 1006.4 483.0 1007.9 483.5 1008.9 484.0 1008.4 484.5 1007.7 485.0 1008.2 485.5 1008.5 486.0 1007.9 486.5 1007.9 487.0 1008.1 487.5 1007.4 488.0 1007.5 488.5 1007.2 489.0 1007.3 489.5 1007.2 490.0 1007.6 490.5 1008.8 491.0 1007.2 491.5 1007.6 492.0 1008.6 492.5 1008.1 493.0 1006.6 493.5 1007.7 494.0 1008.0 494.5 1008.2 495.0 1007.3 495.5 1007.3 496.0 1007.6 496.5 1008.1 497.0 1008.6 497.5 1007.2 498.0 1007.1 498.5 1008.4 499.0 1007.6 499.5 1008.7 500.0 1007.2 500.5 1006.8 501.0 1008.4 501.5 1006.8 502.0 1007.9 502.5 1007.7 503.0 1007.7 503.5 1006.7 504.0 1007.0 504.5 1007.0 505.0 1008.2 505.5 1007.4 506.0 1006.8 506.5 1006.6 507.0 1007.2 507.5 1006.3 508.0 1007.2 508.5 1008.1 509.0 1007.4 509.5 1007.3 510.0 1007.4 510.5 1007.4 511.0 1007.8 511.5 1006.6 512.0 1006.9 512.5 1006.7 513.0 1006.5 513.5 1007.3 514.0 1007.3 514.5 1007.1 515.0 1007.5 515.5 1008.2 516.0 1007.6 516.5 1007.8 517.0 1007.9 517.5 1007.8 518.0 1008.7 518.5 1007.5 519.0 1008.6 519.5 1008.0 520.0 1008.2 520.5 1007.5 521.0 1008.5 521.5 1007.5 522.0 1007.7 522.5 1007.7 523.0 1007.7 523.5 1008.1 524.0 1007.4 524.5 1008.2 525.0 1008.2 525.5 1007.9 526.0 1006.7 526.5 1007.6 527.0 1007.6 527.5 1008.2 528.0 1007.1 528.5 1007.5 529.0 1008.0 529.5 1007.8 530.0 1007.7 530.5 1008.9 531.0 1007.2 531.5 1007.3 532.0 1007.9 532.5 1007.5 533.0 1007.2 533.5 1008.5 534.0 1007.7 534.5 1007.6 535.0 1007.9 535.5 1008.0 536.0 1008.4 536.5 1008.3 537.0 1007.8 537.5 1007.6 538.0 1007.8 538.5 1008.7 539.0 1007.9 539.5 1008.2 540.0 1008.0 540.5 1007.4 541.0 1007.8 541.5 1008.0 542.0 1008.8 542.5 1008.8 543.0 1007.7 543.5 1008.4 544.0 1007.7 544.5 1008.3 545.0 1007.9 545.5 1009.2 546.0 1007.0 546.5 1007.4 547.0 1007.8 547.5 1007.6 548.0 1006.7 548.5 1007.6 549.0 1007.4 549.5 1007.9 550.0 1007.1 550.5 1007.4 551.0 1006.9 551.5 1007.9 552.0 1007.4 552.5 1007.7 553.0 1007.7 553.5 1007.8 554.0 1007.0 554.5 1008.0 555.0 1007.0 555.5 1007.6 556.0 1008.2 556.5 1007.9 557.0 1007.5 557.5 1007.7 558.0 1008.2 558.5 1008.0 559.0 1008.6 559.5 1007.4 560.0 1008.6 560.5 1008.4" fill="none" stroke="#7b12f2" stroke-width="3.3" stroke-linejoin="round"/>
<path d="M82.5 1065.2 83.0 1065.8 83.5 1065.1 84.0 1065.1 84.5 1065.8 85.0 1065.9 85.5 1066.2 86.0 1065.9 86.5 1067.0 87.0 1065.8 87.5 1066.6 88.0 1066.2 88.5 1066.2 89.0 1066.5 89.5 1066.4 90.0 1066.6 90.5 1066.5 91.0 1066.2 91.5 1066.4 92.0 1066.4 92.5 1067.5 93.0 1066.0 93.5 1067.2 94.0 1066.7 94.5 1065.8 95.0 1067.0 95.5 1067.1 96.0 1067.0 96.5 1066.5 97.0 1067.2 97.5 1066.5 98.0 1067.1 98.5 1066.7 99.0 1066.7 99.5 1067.1 100.0 1066.4 100.5 1067.7 101.0 1067.5 101.5 1067.1 102.0 1067.8 102.5 1067.6 103.0 1067.7 103.5 1067.5 104.0 1068.5 104.5 1067.0 105.0 1067.1 105.5 1066.3 106.0 1066.2 106.5 1067.2 107.0 1066.4 107.5 1067.4 108.0 1067.8 108.5 1067.7 109.0 1066.0 109.5 1067.5 110.0 1067.4 110.5 1067.3 111.0 1067.5 111.5 1066.7 112.0 1066.8 112.5 1066.9 113.0 1067.1 113.5 1068.2 114.0 1066.7 114.5 1067.2 115.0 1067.5 115.5 1067.2 116.0 1067.2 116.5 1067.0 117.0 1067.3 117.5 1067.4 118.0 1067.1 118.5 1067.9 119.0 1067.8 119.5 1067.4 120.0 1067.9 120.5 1067.6 121.0 1068.0 121.5 1068.1 122.0 1068.3 122.5 1067.0 123.0 1067.6 123.5 1067.1 124.0 1067.1 124.5 1067.5 125.0 1067.3 125.5 1067.6 126.0 1068.2 126.5 1068.2 127.0 1068.9 127.5 1068.0 128.0 1067.5 128.5 1068.2 129.0 1068.1 129.5 1067.8 130.0 1067.2 130.5 1068.0 131.0 1067.2 131.5 1067.7 132.0 1067.2 132.5 1065.8 133.0 1067.5 133.5 1066.8 134.0 1067.1 134.5 1066.3 135.0 1066.3 135.5 1065.7 136.0 1067.4 136.5 1066.0 137.0 1065.8 137.5 1065.6 138.0 1065.0 138.5 1065.1 139.0 1065.7 139.5 1065.2 140.0 1064.8 140.5 1064.3 141.0 1064.7 141.5 1064.4 142.0 1065.1 142.5 1064.2 143.0 1065.0 143.5 1064.0 144.0 1063.4 144.5 1063.7 145.0 1063.3 145.5 1064.0 146.0 1063.1 146.5 1062.8 147.0 1061.5 147.5 1061.9 148.0 1062.3 148.5 1061.4 149.0 1060.9 149.5 1060.3 150.0 1059.9 150.5 1059.9 151.0 1058.4 151.5 1058.3 152.0 1057.7 152.5 1056.8 153.0 1056.2 153.5 1056.0 154.0 1055.3 154.5 1053.9 155.0 1053.9 155.5 1053.9 156.0 1053.2 156.5 1052.0 157.0 1051.8 157.5 1051.3 158.0 1051.2 158.5 1051.3 159.0 1049.0 159.5 1050.2 160.0 1049.8 160.5 1048.8 161.0 1050.1 161.5 1050.2 162.0 1050.1 162.5 1049.8 163.0 1050.1 163.5 1050.6 164.0 1050.3 164.5 1050.6 165.0 1049.5 165.5 1050.1 166.0 1050.1 166.5 1051.5 167.0 1050.7 167.5 1050.7 168.0 1051.0 168.5 1050.0 169.0 1050.7 169.5 1050.6 170.0 1050.8 170.5 1049.8 171.0 1049.2 171.5 1049.2 172.0 1049.1 172.5 1047.1 173.0 1048.0 173.5 1047.1 174.0 1045.6 174.5 1045.4 175.0 1044.0 175.5 1043.2 176.0 1043.2 176.5 1042.5 177.0 1042.3 177.5 1041.1 178.0 1041.5 178.5 1039.9 179.0 1039.1 179.5 1039.4 180.0 1038.3 180.5 1037.2 181.0 1037.4 181.5 1036.7 182.0 1036.2 182.5 1035.4 183.0 1035.2 183.5 1035.3 184.0 1035.8 184.5 1036.2 185.0 1036.6 185.5 1036.7 186.0 1037.9 186.5 1037.8 187.0 1038.1 187.5 1038.9 188.0 1039.1 188.5 1039.7 189.0 1039.3 189.5 1039.9 190.0 1041.0 190.5 1040.9 191.0 1041.0 191.5 1042.0 192.0 1041.9 192.5 1043.2 193.0 1043.5 193.5 1044.0 194.0 1044.9 194.5 1047.0 195.0 1046.9 195.5 1048.0 196.0 1049.1 196.5 1050.5 197.0 1052.8 197.5 1052.3 198.0 1053.5 198.5 1054.3 199.0 1056.0 199.5 1057.1 200.0 1058.2 200.5 1058.6 201.0 1060.9 201.5 1060.0 202.0 1061.6 202.5 1062.0 203.0 1063.1 203.5 1063.1 204.0 1063.8 204.5 1063.4 205.0 1063.5 205.5 1064.2 206.0 1064.2 206.5 1064.9 207.0 1064.5 207.5 1063.4 208.0 1065.1 208.5 1065.5 209.0 1065.5 209.5 1065.0 210.0 1066.1 210.5 1065.2 211.0 1065.6 211.5 1066.4 212.0 1065.1 212.5 1065.5 213.0 1065.9 213.5 1066.1 214.0 1065.4 214.5 1067.0 215.0 1067.2 215.5 1065.5 216.0 1066.9 216.5 1065.0 217.0 1067.0 217.5 1067.3 218.0 1066.5 218.5 1066.7 219.0 1066.6 219.5 1066.7 220.0 1066.5 220.5 1066.5 221.0 1066.1 221.5 1066.7 222.0 1066.7 222.5 1066.9 223.0 1066.7 223.5 1066.2 224.0 1067.1 224.5 1066.2 225.0 1066.0 225.5 1066.4 226.0 1065.8 226.5 1066.1 227.0 1066.0 227.5 1066.9 228.0 1065.9 228.5 1066.2 229.0 1066.6 229.5 1066.0 230.0 1065.6 230.5 1066.9 231.0 1067.0 231.5 1066.3 232.0 1067.2 232.5 1066.5 233.0 1066.0 233.5 1065.5 234.0 1065.9 234.5 1066.0 235.0 1065.5 235.5 1065.8 236.0 1066.2 236.5 1066.7 237.0 1065.9 237.5 1066.0 238.0 1066.8 238.5 1066.4 239.0 1066.3 239.5 1067.0 240.0 1066.9 240.5 1066.4 241.0 1066.2 241.5 1066.9 242.0 1066.6 242.5 1066.2 243.0 1066.2 243.5 1064.7 244.0 1064.2 244.5 1065.3 245.0 1065.5 245.5 1066.3 246.0 1065.9 246.5 1066.5 247.0 1065.9 247.5 1065.3 248.0 1065.4 248.5 1066.5 249.0 1065.8 249.5 1066.2 250.0 1066.0 250.5 1065.2 251.0 1065.5 251.5 1065.8 252.0 1065.1 252.5 1065.0 253.0 1065.7 253.5 1065.2 254.0 1065.5 254.5 1065.6 255.0 1065.6 255.5 1066.2 256.0 1067.2 256.5 1066.1 257.0 1065.5 257.5 1065.6 258.0 1065.7 258.5 1064.8 259.0 1064.8 259.5 1064.5 260.0 1064.7 260.5 1065.3 261.0 1064.3 261.5 1064.6 262.0 1064.3 262.5 1064.0 263.0 1063.6 263.5 1063.5 264.0 1063.0 264.5 1062.3 265.0 1063.1 265.5 1063.0 266.0 1062.6 266.5 1062.6 267.0 1062.4 267.5 1061.0 268.0 1062.1 268.5 1061.1 269.0 1061.5 269.5 1061.3 270.0 1060.0 270.5 1060.5 271.0 1059.7 271.5 1060.2 272.0 1060.2 272.5 1060.1 273.0 1059.1 273.5 1059.5 274.0 1058.8 274.5 1059.7 275.0 1059.4 275.5 1057.9 276.0 1058.7 276.5 1057.8 277.0 1058.1 277.5 1058.6 278.0 1056.1 278.5 1057.0 279.0 1057.7 279.5 1055.5 280.0 1056.3 280.5 1054.8 281.0 1056.4 281.5 1054.7 282.0 1055.1 282.5 1053.6 283.0 1054.3 283.5 1053.3 284.0 1054.2 284.5 1053.3 285.0 1052.7 285.5 1052.9 286.0 1052.4 286.5 1052.2 287.0 1052.6 287.5 1051.9 288.0 1051.2 288.5 1050.6 289.0 1050.5 289.5 1050.9 290.0 1051.2 290.5 1050.5 291.0 1049.7 291.5 1048.6 292.0 1048.0 292.5 1048.4 293.0 1048.4 293.5 1047.5 294.0 1047.5 294.5 1047.8 295.0 1047.1 295.5 1046.6 296.0 1047.3 296.5 1045.9 297.0 1046.0 297.5 1046.1 298.0 1045.8 298.5 1044.7 299.0 1045.1 299.5 1044.3 300.0 1044.8 300.5 1044.2 301.0 1043.8 301.5 1044.1 302.0 1043.4 302.5 1043.4 303.0 1043.2 303.5 1042.2 304.0 1041.9 304.5 1040.3 305.0 1040.2 305.5 1040.4 306.0 1039.5 306.5 1038.6 307.0 1038.6 307.5 1038.6 308.0 1037.6 308.5 1037.8 309.0 1036.3 309.5 1036.3 310.0 1035.0 310.5 1033.4 311.0 1034.1 311.5 1032.7 312.0 1031.9 312.5 1031.1 313.0 1030.7 313.5 1030.4 314.0 1028.5 314.5 1028.0 315.0 1027.8 315.5 1026.2 316.0 1025.4 316.5 1023.7 317.0 1022.0 317.5 1021.7 318.0 1020.3 318.5 1018.4 319.0 1017.4 319.5 1016.1 320.0 1014.4 320.5 1011.3 321.0 1010.3 321.5 1007.4 322.0 1004.9 322.5 1002.9 323.0 999.6 323.5 996.7 324.0 994.4 324.5 990.6 325.0 986.8 325.5 984.3 326.0 982.3 326.5 979.7 327.0 977.6 327.5 976.0 328.0 973.9 328.5 972.3 329.0 970.6 329.5 969.4 330.0 968.8 330.5 967.2 331.0 966.3 331.5 965.4 332.0 963.7 332.5 961.7 333.0 960.2 333.5 959.1 334.0 958.8 334.5 960.8 335.0 962.3 335.5 964.3 336.0 965.3 336.5 967.1 337.0 967.7 337.5 969.9 338.0 970.6 338.5 972.3 339.0 973.1 339.5 974.9 340.0 977.0 340.5 980.4 341.0 981.4 341.5 982.6 342.0 985.7 342.5 987.7 343.0 989.7 343.5 991.0 344.0 993.9 344.5 996.2 345.0 998.0 345.5 1000.2 346.0 1002.0 346.5 1003.0 347.0 1004.0 347.5 1006.1 348.0 1008.1 348.5 1008.5 349.0 1010.6 349.5 1009.0 350.0 1011.5 350.5 1012.6 351.0 1013.2 351.5 1014.3 352.0 1014.3 352.5 1014.9 353.0 1016.9 353.5 1018.0 354.0 1018.0 354.5 1017.4 355.0 1018.1 355.5 1018.0 356.0 1017.8 356.5 1018.7 357.0 1019.3 357.5 1019.9 358.0 1019.6 358.5 1020.6 359.0 1020.1 359.5 1021.0 360.0 1020.0 360.5 1019.1 361.0 1018.9 361.5 1018.9 362.0 1018.7 362.5 1018.7 363.0 1018.6 363.5 1017.0 364.0 1016.6 364.5 1016.8 365.0 1015.9 365.5 1015.9 366.0 1015.1 366.5 1015.9 367.0 1014.0 367.5 1012.3 368.0 1011.7 368.5 1011.4 369.0 1010.0 369.5 1010.0 370.0 1009.2 370.5 1007.2 371.0 1006.5 371.5 1004.3 372.0 1002.4 372.5 1000.6 373.0 998.4 373.5 995.0 374.0 993.0 374.5 991.1 375.0 988.3 375.5 985.9 376.0 983.1 376.5 981.4 377.0 980.2 377.5 976.2 378.0 974.9 378.5 972.2 379.0 971.9 379.5 968.7 380.0 967.5 380.5 965.4 381.0 964.3 381.5 962.2 382.0 959.9 382.5 958.9 383.0 961.6 383.5 963.8 384.0 965.2 384.5 967.0 385.0 968.7 385.5 971.0 386.0 973.0 386.5 975.7 387.0 977.7 387.5 981.4 388.0 985.3 388.5 987.9 389.0 991.9 389.5 994.6 390.0 998.3 390.5 1002.0 391.0 1005.2 391.5 1007.5 392.0 1011.1 392.5 1014.4 393.0 1017.4 393.5 1021.3 394.0 1023.4 394.5 1027.0 395.0 1029.5 395.5 1030.7 396.0 1033.9 396.5 1036.9 397.0 1039.0 397.5 1040.3 398.0 1042.0 398.5 1044.3 399.0 1046.7 399.5 1048.5 400.0 1049.9 400.5 1051.2 401.0 1052.4 401.5 1052.7 402.0 1054.8 402.5 1055.9 403.0 1056.4 403.5 1056.3 404.0 1057.7 404.5 1057.6 405.0 1057.8 405.5 1058.8 406.0 1058.5 406.5 1059.3 407.0 1059.4 407.5 1059.5 408.0 1060.4 408.5 1060.5 409.0 1060.3 409.5 1060.8 410.0 1061.1 410.5 1061.8 411.0 1061.8 411.5 1062.5 412.0 1062.5 412.5 1063.0 413.0 1063.2 413.5 1063.2 414.0 1064.4 414.5 1064.2 415.0 1064.5 415.5 1065.6 416.0 1065.4 416.5 1064.8 417.0 1066.3 417.5 1065.8 418.0 1066.6 418.5 1066.8 419.0 1066.0 419.5 1066.3 420.0 1066.8 420.5 1066.9 421.0 1066.4 421.5 1067.1 422.0 1066.3 422.5 1066.5 423.0 1066.3 423.5 1066.5 424.0 1066.2 424.5 1065.7 425.0 1067.0 425.5 1066.6 426.0 1067.1 426.5 1066.2 427.0 1066.5 427.5 1066.1 428.0 1065.6 428.5 1066.2 429.0 1066.8 429.5 1066.5 430.0 1066.3 430.5 1066.5 431.0 1067.2 431.5 1065.9 432.0 1065.6 432.5 1065.7 433.0 1066.7 433.5 1066.5 434.0 1066.6 434.5 1065.7 435.0 1066.4 435.5 1066.1 436.0 1066.7 436.5 1066.1 437.0 1066.9 437.5 1065.6 438.0 1066.0 438.5 1066.6 439.0 1066.5 439.5 1066.3 440.0 1066.9 440.5 1067.1 441.0 1066.0 441.5 1067.1 442.0 1066.5 442.5 1067.7 443.0 1066.8 443.5 1066.8 444.0 1065.9 444.5 1066.7 445.0 1067.1 445.5 1067.0 446.0 1066.3 446.5 1066.3 447.0 1066.3 447.5 1066.4 448.0 1066.4 448.5 1065.7 449.0 1066.3 449.5 1066.4 450.0 1066.4 450.5 1066.5 451.0 1066.9 451.5 1066.1 452.0 1066.8 452.5 1067.1 453.0 1066.6 453.5 1066.9 454.0 1066.4 454.5 1066.9 455.0 1066.3 455.5 1066.8 456.0 1066.9 456.5 1066.8 457.0 1066.4 457.5 1066.7 458.0 1066.6 458.5 1066.8 459.0 1067.2 459.5 1067.5 460.0 1066.1 460.5 1066.5 461.0 1067.0 461.5 1066.4 462.0 1067.3 462.5 1068.1 463.0 1067.8 463.5 1067.1 464.0 1066.6 464.5 1066.6 465.0 1066.7 465.5 1066.1 466.0 1067.3 466.5 1066.5 467.0 1066.3 467.5 1066.1 468.0 1067.0 468.5 1067.3 469.0 1066.5 469.5 1066.5 470.0 1065.7 470.5 1065.8 471.0 1066.6 471.5 1067.2 472.0 1066.0 472.5 1066.5 473.0 1065.4 473.5 1067.2 474.0 1066.6 474.5 1066.6 475.0 1066.0 475.5 1066.6 476.0 1066.6 476.5 1065.9 477.0 1066.7 477.5 1067.1 478.0 1065.9 478.5 1066.8 479.0 1066.1 479.5 1066.7 480.0 1066.2 480.5 1065.9 481.0 1066.2 481.5 1066.3 482.0 1066.3 482.5 1065.8 483.0 1066.3 483.5 1066.6 484.0 1066.8 484.5 1066.1 485.0 1066.4 485.5 1065.7 486.0 1065.9 486.5 1065.7 487.0 1066.7 487.5 1066.2 488.0 1067.1 488.5 1066.5 489.0 1066.0 489.5 1066.1 490.0 1067.1 490.5 1066.6 491.0 1065.9 491.5 1065.6 492.0 1065.9 492.5 1065.9 493.0 1065.9 493.5 1066.6 494.0 1066.1 494.5 1065.4 495.0 1065.7 495.5 1065.3 496.0 1066.4 496.5 1066.0 497.0 1065.7 497.5 1065.4 498.0 1065.9 498.5 1066.0 499.0 1065.9 499.5 1066.0 500.0 1066.2 500.5 1066.1 501.0 1065.5 501.5 1065.7 502.0 1066.0 502.5 1066.3 503.0 1066.7 503.5 1064.7 504.0 1065.2 504.5 1066.2 505.0 1065.7 505.5 1065.5 506.0 1065.4 506.5 1066.4 507.0 1064.9 507.5 1065.6 508.0 1065.2 508.5 1065.5 509.0 1064.8 509.5 1065.0 510.0 1065.1 510.5 1064.6 511.0 1065.0 511.5 1065.6 512.0 1064.9 512.5 1065.6 513.0 1065.2 513.5 1065.6 514.0 1065.8 514.5 1065.9 515.0 1065.0 515.5 1064.8 516.0 1065.3 516.5 1066.4 517.0 1065.9 517.5 1064.1 518.0 1064.9 518.5 1065.4 519.0 1065.1 519.5 1064.7 520.0 1065.1 520.5 1065.0 521.0 1065.2 521.5 1065.1 522.0 1064.6 522.5 1064.6 523.0 1065.8 523.5 1065.2 524.0 1064.2 524.5 1064.9 525.0 1066.0 525.5 1064.3 526.0 1064.8 526.5 1065.4 527.0 1064.6 527.5 1064.0 528.0 1064.7 528.5 1065.2 529.0 1065.5 529.5 1063.9 530.0 1064.5 530.5 1064.9 531.0 1065.2 531.5 1065.2 532.0 1065.3 532.5 1065.3 533.0 1064.7 533.5 1065.4 534.0 1064.8 534.5 1064.8 535.0 1065.0 535.5 1064.4 536.0 1064.0 536.5 1064.4 537.0 1064.1 537.5 1064.0 538.0 1063.9 538.5 1065.0 539.0 1064.3 539.5 1063.7 540.0 1064.7 540.5 1064.2 541.0 1062.8 541.5 1063.9 542.0 1064.3 542.5 1063.5 543.0 1064.3 543.5 1063.5 544.0 1064.2 544.5 1064.3 545.0 1064.1 545.5 1064.4 546.0 1063.6 546.5 1064.2 547.0 1064.7 547.5 1063.2 548.0 1064.0 548.5 1062.6 549.0 1063.8 549.5 1063.3 550.0 1063.7 550.5 1063.8 551.0 1063.8 551.5 1064.1 552.0 1062.7 552.5 1063.9 553.0 1063.7 553.5 1064.0 554.0 1063.0 554.5 1063.4 555.0 1062.9 555.5 1063.7 556.0 1064.0 556.5 1063.9 557.0 1062.8 557.5 1063.8 558.0 1061.9 558.5 1062.3 559.0 1062.5 559.5 1062.4 560.0 1062.5 560.5 1063.0" fill="none" stroke="#008000" stroke-width="3.3" stroke-linejoin="round"/>
<path d="M82.5 1120.2 83.0 1121.3 83.5 1120.4 84.0 1119.8 84.5 1120.1 85.0 1121.1 85.5 1119.7 86.0 1120.7 86.5 1120.7 87.0 1120.2 87.5 1119.9 88.0 1120.5 88.5 1119.6 89.0 1120.4 89.5 1121.6 90.0 1120.7 90.5 1120.1 91.0 1120.2 91.5 1121.6 92.0 1121.3 92.5 1121.5 93.0 1122.3 93.5 1121.5 94.0 1121.3 94.5 1121.2 95.0 1121.2 95.5 1121.2 96.0 1121.0 96.5 1121.1 97.0 1121.3 97.5 1121.6 98.0 1121.6 98.5 1121.3 99.0 1121.7 99.5 1121.2 100.0 1121.5 100.5 1121.2 101.0 1121.0 101.5 1123.1 102.0 1122.1 102.5 1122.1 103.0 1122.1 103.5 1121.4 104.0 1121.4 104.5 1121.9 105.0 1121.2 105.5 1120.7 106.0 1122.5 106.5 1121.2 107.0 1121.6 107.5 1121.4 108.0 1121.0 108.5 1121.4 109.0 1121.7 109.5 1121.7 110.0 1121.5 110.5 1122.2 111.0 1120.9 111.5 1121.8 112.0 1121.4 112.5 1122.1 113.0 1121.9 113.5 1121.0 114.0 1120.8 114.5 1121.2 115.0 1119.9 115.5 1121.6 116.0 1120.5 116.5 1121.3 117.0 1121.2 117.5 1122.2 118.0 1122.2 118.5 1122.0 119.0 1121.5 119.5 1122.3 120.0 1121.9 120.5 1120.8 121.0 1122.9 121.5 1122.0 122.0 1120.1 122.5 1121.9 123.0 1121.7 123.5 1121.8 124.0 1120.3 124.5 1120.6 125.0 1121.6 125.5 1122.0 126.0 1120.2 126.5 1120.9 127.0 1121.8 127.5 1120.9 128.0 1121.5 128.5 1121.9 129.0 1120.9 129.5 1122.1 130.0 1122.3 130.5 1121.6 131.0 1121.4 131.5 1121.1 132.0 1121.8 132.5 1121.6 133.0 1121.8 133.5 1121.9 134.0 1121.3 134.5 1122.2 135.0 1121.9 135.5 1121.7 136.0 1121.7 136.5 1121.7 137.0 1121.8 137.5 1121.7 138.0 1121.6 138.5 1120.8 139.0 1121.2 139.5 1121.9 140.0 1121.1 140.5 1121.0 141.0 1120.3 141.5 1119.6 142.0 1119.5 142.5 1119.2 143.0 1119.6 143.5 1118.2 144.0 1118.8 144.5 1117.2 145.0 1117.0 145.5 1116.7 146.0 1116.7 146.5 1115.3 147.0 1115.2 147.5 1115.2 148.0 1114.7 148.5 1113.3 149.0 1113.5 149.5 1112.9 150.0 1111.7 150.5 1109.8 151.0 1109.9 151.5 1110.0 152.0 1109.2 152.5 1108.1 153.0 1108.0 153.5 1106.8 154.0 1106.4 154.5 1106.6 155.0 1105.7 155.5 1104.5 156.0 1105.7 156.5 1103.7 157.0 1104.9 157.5 1104.2 158.0 1104.8 158.5 1105.4 159.0 1103.9 159.5 1102.9 160.0 1103.5 160.5 1103.5 161.0 1102.8 161.5 1103.3 162.0 1103.6 162.5 1103.5 163.0 1103.2 163.5 1104.1 164.0 1105.2 164.5 1104.7 165.0 1103.6 165.5 1104.4 166.0 1104.2 166.5 1104.3 167.0 1103.2 167.5 1104.2 168.0 1103.6 168.5 1103.1 169.0 1103.1 169.5 1104.0 170.0 1102.8 170.5 1102.8 171.0 1101.8 171.5 1102.6 172.0 1103.8 172.5 1104.0 173.0 1102.2 173.5 1102.3 174.0 1101.1 174.5 1102.9 175.0 1101.5 175.5 1100.5 176.0 1100.9 176.5 1099.4 177.0 1098.1 177.5 1098.9 178.0 1098.4 178.5 1097.5 179.0 1096.9 179.5 1096.2 180.0 1095.2 180.5 1095.5 181.0 1094.0 181.5 1093.8 182.0 1094.1 182.5 1092.2 183.0 1092.8 183.5 1092.4 184.0 1092.0 184.5 1091.7 185.0 1091.6 185.5 1092.2 186.0 1091.5 186.5 1093.9 187.0 1092.5 187.5 1093.5 188.0 1092.6 188.5 1094.2 189.0 1093.4 189.5 1094.1 190.0 1094.4 190.5 1095.0 191.0 1095.5 191.5 1096.3 192.0 1096.5 192.5 1096.8 193.0 1097.6 193.5 1098.4 194.0 1099.5 194.5 1098.7 195.0 1099.3 195.5 1099.6 196.0 1100.4 196.5 1101.8 197.0 1102.4 197.5 1102.8 198.0 1104.1 198.5 1105.3 199.0 1106.3 199.5 1107.4 200.0 1108.7 200.5 1109.0 201.0 1111.2 201.5 1112.0 202.0 1112.8 202.5 1112.5 203.0 1115.0 203.5 1115.2 204.0 1117.0 204.5 1116.8 205.0 1117.7 205.5 1118.3 206.0 1119.6 206.5 1119.1 207.0 1119.8 207.5 1119.4 208.0 1118.8 208.5 1119.7 209.0 1119.6 209.5 1119.2 210.0 1119.6 210.5 1118.9 211.0 1121.0 211.5 1120.2 212.0 1119.9 212.5 1119.5 213.0 1119.6 213.5 1120.2 214.0 1119.5 214.5 1120.0 215.0 1118.7 215.5 1119.4 216.0 1119.6 216.5 1119.4 217.0 1119.5 217.5 1120.3 218.0 1119.7 218.5 1120.0 219.0 1119.7 219.5 1119.2 220.0 1120.1 220.5 1119.3 221.0 1120.1 221.5 1120.0 222.0 1120.1 222.5 1120.1 223.0 1119.9 223.5 1120.3 224.0 1119.0 224.5 1120.9 225.0 1120.6 225.5 1118.7 226.0 1119.1 226.5 1119.2 227.0 1119.8 227.5 1118.6 228.0 1119.9 228.5 1119.4 229.0 1120.2 229.5 1119.6 230.0 1119.3 230.5 1119.1 231.0 1119.2 231.5 1119.5 232.0 1118.3 232.5 1118.5 233.0 1119.4 233.5 1118.5 234.0 1119.7 234.5 1118.6 235.0 1119.9 235.5 1120.0 236.0 1119.3 236.5 1119.7 237.0 1118.8 237.5 1118.5 238.0 1119.3 238.5 1120.4 239.0 1119.8 239.5 1119.7 240.0 1118.8 240.5 1119.6 241.0 1119.5 241.5 1119.7 242.0 1119.8 242.5 1119.0 243.0 1121.4 243.5 1120.4 244.0 1119.8 244.5 1119.3 245.0 1120.9 245.5 1119.6 246.0 1119.5 246.5 1120.7 247.0 1119.4 247.5 1120.4 248.0 1119.2 248.5 1120.5 249.0 1120.2 249.5 1119.9 250.0 1120.0 250.5 1119.7 251.0 1119.6 251.5 1119.7 252.0 1119.4 252.5 1119.5 253.0 1118.7 253.5 1119.5 254.0 1118.5 254.5 1120.4 255.0 1119.9 255.5 1120.3 256.0 1119.6 256.5 1118.6 257.0 1121.0 257.5 1119.8 258.0 1119.5 258.5 1119.0 259.0 1118.7 259.5 1119.4 260.0 1118.3 260.5 1118.6 261.0 1118.0 261.5 1117.6 262.0 1117.9 262.5 1117.5 263.0 1117.3 263.5 1116.8 264.0 1116.8 264.5 1116.6 265.0 1116.4 265.5 1115.8 266.0 1116.0 266.5 1115.8 267.0 1115.3 267.5 1114.4 268.0 1115.4 268.5 1114.6 269.0 1114.2 269.5 1114.9 270.0 1113.8 270.5 1113.7 271.0 1114.1 271.5 1112.7 272.0 1111.8 272.5 1113.0 273.0 1112.9 273.5 1112.1 274.0 1112.2 274.5 1112.1 275.0 1111.9 275.5 1111.0 276.0 1113.2 276.5 1111.1 277.0 1111.6 277.5 1111.6 278.0 1111.1 278.5 1112.1 279.0 1111.7 279.5 1110.5 280.0 1110.4 280.5 1110.2 281.0 1111.2 281.5 1109.0 282.0 1109.5 282.5 1108.8 283.0 1110.3 283.5 1110.1 284.0 1109.3 284.5 1109.3 285.0 1109.8 285.5 1108.6 286.0 1109.9 286.5 1109.4 287.0 1108.4 287.5 1109.3 288.0 1108.2 288.5 1108.2 289.0 1108.4 289.5 1108.5 290.0 1108.2 290.5 1107.2 291.0 1107.3 291.5 1107.5 292.0 1106.9 292.5 1105.9 293.0 1106.5 293.5 1104.7 294.0 1105.3 294.5 1104.6 295.0 1103.4 295.5 1104.3 296.0 1102.3 296.5 1102.4 297.0 1101.4 297.5 1101.2 298.0 1101.8 298.5 1100.5 299.0 1100.5 299.5 1100.5 300.0 1099.6 300.5 1099.0 301.0 1097.0 301.5 1097.5 302.0 1095.9 302.5 1096.3 303.0 1094.8 303.5 1095.5 304.0 1094.0 304.5 1092.9 305.0 1093.3 305.5 1091.9 306.0 1092.1 306.5 1090.7 307.0 1089.8 307.5 1091.2 308.0 1089.3 308.5 1089.5 309.0 1089.1 309.5 1088.6 310.0 1088.3 310.5 1087.2 311.0 1087.0 311.5 1085.8 312.0 1086.2 312.5 1085.0 313.0 1085.8 313.5 1084.0 314.0 1083.4 314.5 1082.7 315.0 1080.8 315.5 1080.4 316.0 1079.8 316.5 1079.1 317.0 1077.2 317.5 1076.1 318.0 1075.2 318.5 1072.3 319.0 1071.7 319.5 1070.6 320.0 1067.8 320.5 1065.7 321.0 1064.2 321.5 1061.7 322.0 1059.3 322.5 1057.6 323.0 1054.9 323.5 1053.2 324.0 1050.4 324.5 1048.2 325.0 1045.6 325.5 1042.7 326.0 1039.8 326.5 1038.0 327.0 1034.7 327.5 1032.8 328.0 1029.1 328.5 1026.6 329.0 1025.0 329.5 1022.2 330.0 1020.6 330.5 1019.3 331.0 1017.2 331.5 1015.9 332.0 1015.6 332.5 1016.0 333.0 1014.3 333.5 1012.9 334.0 1011.9 334.5 1011.8 335.0 1012.7 335.5 1014.1 336.0 1017.2 336.5 1019.8 337.0 1021.0 337.5 1022.4 338.0 1023.9 338.5 1027.5 339.0 1029.8 339.5 1032.9 340.0 1034.7 340.5 1039.3 341.0 1041.0 341.5 1044.1 342.0 1046.3 342.5 1047.8 343.0 1050.5 343.5 1052.3 344.0 1054.0 344.5 1056.8 345.0 1058.1 345.5 1059.9 346.0 1061.6 346.5 1062.6 347.0 1063.8 347.5 1066.1 348.0 1066.9 348.5 1068.0 349.0 1068.5 349.5 1069.5 350.0 1071.8 350.5 1071.4 351.0 1071.3 351.5 1071.9 352.0 1072.9 352.5 1072.6 353.0 1074.6 353.5 1074.2 354.0 1074.0 354.5 1074.8 355.0 1074.9 355.5 1075.6 356.0 1076.7 356.5 1075.2 357.0 1076.0 357.5 1075.6 358.0 1076.7 358.5 1076.1 359.0 1077.1 359.5 1078.0 360.0 1077.5 360.5 1076.5 361.0 1076.6 361.5 1077.4 362.0 1077.0 362.5 1076.6 363.0 1077.1 363.5 1076.6 364.0 1076.2 364.5 1075.8 365.0 1074.9 365.5 1075.7 366.0 1074.9 366.5 1074.8 367.0 1074.4 367.5 1074.5 368.0 1073.2 368.5 1071.4 369.0 1071.1 369.5 1070.9 370.0 1069.3 370.5 1067.9 371.0 1066.2 371.5 1065.6 372.0 1063.3 372.5 1061.4 373.0 1058.6 373.5 1055.5 374.0 1052.6 374.5 1051.4 375.0 1049.4 375.5 1046.2 376.0 1044.2 376.5 1041.8 377.0 1040.2 377.5 1038.2 378.0 1035.4 378.5 1032.5 379.0 1031.2 379.5 1028.0 380.0 1025.8 380.5 1023.3 381.0 1022.5 381.5 1021.9 382.0 1018.4 382.5 1015.7 383.0 1017.4 383.5 1018.9 384.0 1022.3 384.5 1022.9 385.0 1024.9 385.5 1026.8 386.0 1029.3 386.5 1032.2 387.0 1036.9 387.5 1039.4 388.0 1043.4 388.5 1047.3 389.0 1051.8 389.5 1055.6 390.0 1059.1 390.5 1062.1 391.0 1065.7 391.5 1068.5 392.0 1073.3 392.5 1074.2 393.0 1077.9 393.5 1080.1 394.0 1082.3 394.5 1085.7 395.0 1087.6 395.5 1090.1 396.0 1092.0 396.5 1094.2 397.0 1096.2 397.5 1097.3 398.0 1099.3 398.5 1100.6 399.0 1101.6 399.5 1103.3 400.0 1105.1 400.5 1105.3 401.0 1107.6 401.5 1107.7 402.0 1108.5 402.5 1110.0 403.0 1110.5 403.5 1112.0 404.0 1112.4 404.5 1112.8 405.0 1114.4 405.5 1114.1 406.0 1114.4 406.5 1114.9 407.0 1114.2 407.5 1115.4 408.0 1117.1 408.5 1117.5 409.0 1118.0 409.5 1117.4 410.0 1117.9 410.5 1119.0 411.0 1118.1 411.5 1118.9 412.0 1119.3 412.5 1119.4 413.0 1120.7 413.5 1119.9 414.0 1120.1 414.5 1120.5 415.0 1121.0 415.5 1120.2 416.0 1121.8 416.5 1120.5 417.0 1121.2 417.5 1121.4 418.0 1121.2 418.5 1121.9 419.0 1121.3 419.5 1122.9 420.0 1122.5 420.5 1121.6 421.0 1121.3 421.5 1122.1 422.0 1121.8 422.5 1122.2 423.0 1122.3 423.5 1122.3 424.0 1121.6 424.5 1122.7 425.0 1122.7 425.5 1121.7 426.0 1122.7 426.5 1121.4 427.0 1121.8 427.5 1121.7 428.0 1121.8 428.5 1121.0 429.0 1121.4 429.5 1122.1 430.0 1122.4 430.5 1121.7 431.0 1122.0 431.5 1121.2 432.0 1123.2 432.5 1121.9 433.0 1121.7 433.5 1121.7 434.0 1122.0 434.5 1120.6 435.0 1122.7 435.5 1123.5 436.0 1120.8 436.5 1120.5 437.0 1121.6 437.5 1122.2 438.0 1122.5 438.5 1122.1 439.0 1120.8 439.5 1121.6 440.0 1122.5 440.5 1122.4 441.0 1122.6 441.5 1123.0 442.0 1122.8 442.5 1122.7 443.0 1123.3 443.5 1123.2 444.0 1121.0 444.5 1121.4 445.0 1122.2 445.5 1121.8 446.0 1122.2 446.5 1120.5 447.0 1121.5 447.5 1121.2 448.0 1120.9 448.5 1121.6 449.0 1121.3 449.5 1121.6 450.0 1122.5 450.5 1121.4 451.0 1122.4 451.5 1121.5 452.0 1121.8 452.5 1121.3 453.0 1121.0 453.5 1121.7 454.0 1122.8 454.5 1122.1 455.0 1121.5 455.5 1122.2 456.0 1121.6 456.5 1120.9 457.0 1122.3 457.5 1122.5 458.0 1123.1 458.5 1123.0 459.0 1122.0 459.5 1123.9 460.0 1122.1 460.5 1123.6 461.0 1122.4 461.5 1122.4 462.0 1121.5 462.5 1121.9 463.0 1121.5 463.5 1122.5 464.0 1121.7 464.5 1121.9 465.0 1121.7 465.5 1121.2 466.0 1121.9 466.5 1121.8 467.0 1120.9 467.5 1122.2 468.0 1121.2 468.5 1121.9 469.0 1121.7 469.5 1121.5 470.0 1121.0 470.5 1120.3 471.0 1122.4 471.5 1122.1 472.0 1122.5 472.5 1121.8 473.0 1122.0 473.5 1121.3 474.0 1121.9 474.5 1122.2 475.0 1120.3 475.5 1122.4 476.0 1121.6 476.5 1121.6 477.0 1121.4 477.5 1122.5 478.0 1121.2 478.5 1121.2 479.0 1121.4 479.5 1122.3 480.0 1122.3 480.5 1121.8 481.0 1122.1 481.5 1122.2 482.0 1123.0 482.5 1122.6 483.0 1122.1 483.5 1121.7 484.0 1122.9 484.5 1122.7 485.0 1123.0 485.5 1122.3 486.0 1121.6 486.5 1121.1 487.0 1120.8 487.5 1121.8 488.0 1122.1 488.5 1120.1 489.0 1121.5 489.5 1121.3 490.0 1121.7 490.5 1121.2 491.0 1121.7 491.5 1121.3 492.0 1122.1 492.5 1121.7 493.0 1122.3 493.5 1121.2 494.0 1121.7 494.5 1121.6 495.0 1122.0 495.5 1120.8 496.0 1120.8 496.5 1121.8 497.0 1121.1 497.5 1121.8 498.0 1120.8 498.5 1121.9 499.0 1120.5 499.5 1121.6 500.0 1119.7 500.5 1122.0 501.0 1121.3 501.5 1121.1 502.0 1120.7 502.5 1122.1 503.0 1121.9 503.5 1120.9 504.0 1121.2 504.5 1121.6 505.0 1121.3 505.5 1121.7 506.0 1120.2 506.5 1121.0 507.0 1120.7 507.5 1120.3 508.0 1120.5 508.5 1121.1 509.0 1120.7 509.5 1120.0 510.0 1121.3 510.5 1121.5 511.0 1121.5 511.5 1121.4 512.0 1120.8 512.5 1121.5 513.0 1121.3 513.5 1120.4 514.0 1121.7 514.5 1119.9 515.0 1120.9 515.5 1120.9 516.0 1120.1 516.5 1121.3 517.0 1120.4 517.5 1120.5 518.0 1121.0 518.5 1120.3 519.0 1121.0 519.5 1121.8 520.0 1120.7 520.5 1120.3 521.0 1121.1 521.5 1121.1 522.0 1121.2 522.5 1121.2 523.0 1120.3 523.5 1121.2 524.0 1120.7 524.5 1121.7 525.0 1122.1 525.5 1121.1 526.0 1121.2 526.5 1120.5 527.0 1121.7 527.5 1120.2 528.0 1119.7 528.5 1120.2 529.0 1120.2 529.5 1120.4 530.0 1120.1 530.5 1121.3 531.0 1120.8 531.5 1120.6 532.0 1120.7 532.5 1119.6 533.0 1122.0 533.5 1121.0 534.0 1120.3 534.5 1121.3 535.0 1120.6 535.5 1120.0 536.0 1119.8 536.5 1120.6 537.0 1120.2 537.5 1120.1 538.0 1120.8 538.5 1120.9 539.0 1120.5 539.5 1119.7 540.0 1120.2 540.5 1120.3 541.0 1120.7 541.5 1120.7 542.0 1121.0 542.5 1120.5 543.0 1120.7 543.5 1121.0 544.0 1121.1 544.5 1121.4 545.0 1121.1 545.5 1120.2 546.0 1120.3 546.5 1120.6 547.0 1120.1 547.5 1120.0 548.0 1119.9 548.5 1120.6 549.0 1120.4 549.5 1119.9 550.0 1120.0 550.5 1120.0 551.0 1120.7 551.5 1119.9 552.0 1119.6 552.5 1120.2 553.0 1119.7 553.5 1119.9 554.0 1118.6 554.5 1119.7 555.0 1119.6 555.5 1119.3 556.0 1119.0 556.5 1119.6 557.0 1119.9 557.5 1120.3 558.0 1120.3 558.5 1120.1 559.0 1120.1 559.5 1120.2 560.0 1119.9 560.5 1119.7" fill="none" stroke="#000000" stroke-width="3.3" stroke-linejoin="round"/>
</g>
<rect x="82.5" y="664" width="478.20000000000005" height="478.5" fill="none" stroke="#000" stroke-width="3.4"/>
<line x1="112.4" y1="1142.5" x2="112.4" y2="1132.5" stroke="#000" stroke-width="3" stroke-linecap="round"/>
<line x1="112.4" y1="664" x2="112.4" y2="674" stroke="#000" stroke-width="3" stroke-linecap="round"/>
<line x1="162.2" y1="1142.5" x2="162.2" y2="1123.5" stroke="#000" stroke-width="3" stroke-linecap="round"/>
<line x1="162.2" y1="664" x2="162.2" y2="683" stroke="#000" stroke-width="3" stroke-linecap="round"/>
<line x1="212.0" y1="1142.5" x2="212.0" y2="1132.5" stroke="#000" stroke-width="3" stroke-linecap="round"/>
<line x1="212.0" y1="664" x2="212.0" y2="674" stroke="#000" stroke-width="3" stroke-linecap="round"/>
<line x1="261.8" y1="1142.5" x2="261.8" y2="1123.5" stroke="#000" stroke-width="3" stroke-linecap="round"/>
<line x1="261.8" y1="664" x2="261.8" y2="683" stroke="#000" stroke-width="3" stroke-linecap="round"/>
<line x1="311.6" y1="1142.5" x2="311.6" y2="1132.5" stroke="#000" stroke-width="3" stroke-linecap="round"/>
<line x1="311.6" y1="664" x2="311.6" y2="674" stroke="#000" stroke-width="3" stroke-linecap="round"/>
<line x1="361.4" y1="1142.5" x2="361.4" y2="1123.5" stroke="#000" stroke-width="3" stroke-linecap="round"/>
<line x1="361.4" y1="664" x2="361.4" y2="683" stroke="#000" stroke-width="3" stroke-linecap="round"/>
<line x1="411.3" y1="1142.5" x2="411.3" y2="1132.5" stroke="#000" stroke-width="3" stroke-linecap="round"/>
<line x1="411.3" y1="664" x2="411.3" y2="674" stroke="#000" stroke-width="3" stroke-linecap="round"/>
<line x1="461.1" y1="1142.5" x2="461.1" y2="1123.5" stroke="#000" stroke-width="3" stroke-linecap="round"/>
<line x1="461.1" y1="664" x2="461.1" y2="683" stroke="#000" stroke-width="3" stroke-linecap="round"/>
<line x1="510.9" y1="1142.5" x2="510.9" y2="1132.5" stroke="#000" stroke-width="3" stroke-linecap="round"/>
<line x1="510.9" y1="664" x2="510.9" y2="674" stroke="#000" stroke-width="3" stroke-linecap="round"/>
<clipPath id="cd"><rect x="755.5" y="668" width="477.5" height="478.4000000000001"/></clipPath>
<g clip-path="url(#cd)">
<path d="M755.5 792.0 756.0 792.4 756.5 791.3 757.0 791.4 757.5 790.2 758.0 789.9 758.5 790.4 759.0 789.9 759.5 790.0 760.0 790.1 760.5 789.9 761.0 789.4 761.5 789.1 762.0 788.9 762.5 789.3 763.0 790.0 763.5 789.1 764.0 788.5 764.5 788.8 765.0 789.2 765.5 788.8 766.0 788.4 766.5 789.8 767.0 790.7 767.5 791.3 768.0 790.4 768.5 791.9 769.0 792.9 769.5 794.2 770.0 794.4 770.5 794.1 771.0 795.6 771.5 795.5 772.0 796.3 772.5 796.7 773.0 797.3 773.5 798.4 774.0 797.4 774.5 798.4 775.0 798.2 775.5 798.8 776.0 798.8 776.5 798.1 777.0 798.5 777.5 798.9 778.0 797.7 778.5 798.7 779.0 798.2 779.5 798.5 780.0 796.5 780.5 797.6 781.0 797.5 781.5 797.4 782.0 796.7 782.5 797.4 783.0 797.4 783.5 796.8 784.0 796.9 784.5 797.6 785.0 796.9 785.5 797.2 786.0 797.9 786.5 796.7 787.0 796.6 787.5 795.9 788.0 795.5 788.5 796.4 789.0 796.2 789.5 796.9 790.0 797.1 790.5 796.4 791.0 796.8 791.5 796.1 792.0 796.7 792.5 795.8 793.0 796.6 793.5 796.8 794.0 795.2 794.5 795.6 795.0 796.3 795.5 796.1 796.0 796.2 796.5 795.4 797.0 796.4 797.5 795.9 798.0 795.7 798.5 796.0 799.0 795.8 799.5 795.6 800.0 795.3 800.5 795.0 801.0 794.2 801.5 795.4 802.0 795.8 802.5 794.4 803.0 795.0 803.5 794.8 804.0 794.6 804.5 794.6 805.0 793.8 805.5 795.0 806.0 794.4 806.5 794.4 807.0 794.6 807.5 794.2 808.0 793.3 808.5 794.1 809.0 793.2 809.5 793.1 810.0 792.3 810.5 792.5 811.0 791.9 811.5 791.6 812.0 791.1 812.5 791.5 813.0 790.7 813.5 789.2 814.0 788.4 814.5 788.3 815.0 787.0 815.5 786.5 816.0 786.2 816.5 786.0 817.0 784.4 817.5 783.4 818.0 782.7 818.5 781.9 819.0 780.6 819.5 780.1 820.0 778.6 820.5 777.6 821.0 776.0 821.5 775.1 822.0 773.4 822.5 771.8 823.0 769.7 823.5 768.7 824.0 766.8 824.5 764.7 825.0 762.8 825.5 759.7 826.0 758.3 826.5 757.8 827.0 753.9 827.5 751.7 828.0 750.6 828.5 747.6 829.0 747.3 829.5 745.4 830.0 743.5 830.5 743.3 831.0 741.4 831.5 741.0 832.0 739.7 832.5 739.3 833.0 739.2 833.5 737.4 834.0 738.5 834.5 736.8 835.0 736.7 835.5 736.3 836.0 735.3 836.5 734.3 837.0 736.5 837.5 736.8 838.0 737.3 838.5 736.5 839.0 737.2 839.5 737.8 840.0 739.1 840.5 739.8 841.0 739.5 841.5 741.1 842.0 741.5 842.5 741.7 843.0 742.2 843.5 741.5 844.0 743.0 844.5 744.0 845.0 742.5 845.5 743.9 846.0 743.6 846.5 744.0 847.0 743.9 847.5 743.2 848.0 741.4 848.5 741.5 849.0 740.6 849.5 739.8 850.0 738.6 850.5 736.3 851.0 735.4 851.5 732.7 852.0 731.3 852.5 728.4 853.0 725.2 853.5 722.7 854.0 719.7 854.5 716.6 855.0 713.7 855.5 710.1 856.0 707.7 856.5 704.9 857.0 701.0 857.5 698.6 858.0 696.1 858.5 693.4 859.0 690.5 859.5 694.3 860.0 699.0 860.5 701.5 861.0 706.0 861.5 709.2 862.0 713.7 862.5 716.9 863.0 720.3 863.5 724.6 864.0 727.8 864.5 732.2 865.0 735.4 865.5 740.2 866.0 744.2 866.5 748.0 867.0 751.2 867.5 756.1 868.0 758.3 868.5 763.2 869.0 764.8 869.5 767.7 870.0 769.7 870.5 771.6 871.0 774.6 871.5 775.8 872.0 778.3 872.5 778.3 873.0 779.5 873.5 781.8 874.0 781.7 874.5 784.2 875.0 785.3 875.5 784.8 876.0 787.0 876.5 787.4 877.0 788.0 877.5 789.1 878.0 790.2 878.5 790.4 879.0 791.1 879.5 791.2 880.0 791.7 880.5 791.7 881.0 792.4 881.5 792.5 882.0 792.9 882.5 792.3 883.0 793.2 883.5 793.1 884.0 793.6 884.5 794.1 885.0 794.1 885.5 795.5 886.0 795.3 886.5 795.7 887.0 796.2 887.5 794.9 888.0 795.7 888.5 795.8 889.0 795.9 889.5 795.9 890.0 795.5 890.5 795.4 891.0 795.8 891.5 795.9 892.0 796.2 892.5 796.6 893.0 796.2 893.5 796.1 894.0 796.5 894.5 796.4 895.0 796.9 895.5 796.1 896.0 796.8 896.5 796.9 897.0 796.9 897.5 797.4 898.0 797.6 898.5 797.2 899.0 797.7 899.5 797.2 900.0 797.6 900.5 798.0 901.0 796.9 901.5 797.3 902.0 797.2 902.5 796.5 903.0 797.9 903.5 798.3 904.0 798.5 904.5 797.6 905.0 797.0 905.5 797.1 906.0 796.8 906.5 796.5 907.0 796.1 907.5 797.2 908.0 796.9 908.5 796.2 909.0 796.2 909.5 796.8 910.0 796.4 910.5 796.4 911.0 796.7 911.5 796.3 912.0 795.6 912.5 796.0 913.0 796.4 913.5 796.0 914.0 796.2 914.5 796.1 915.0 795.9 915.5 797.4 916.0 795.7 916.5 796.3 917.0 796.2 917.5 796.0 918.0 796.5 918.5 796.7 919.0 796.4 919.5 795.8 920.0 796.0 920.5 795.6 921.0 795.7 921.5 795.9 922.0 796.0 922.5 795.1 923.0 795.4 923.5 794.8 924.0 795.4 924.5 795.0 925.0 795.7 925.5 795.4 926.0 795.3 926.5 794.7 927.0 795.4 927.5 795.0 928.0 795.1 928.5 794.4 929.0 795.2 929.5 795.4 930.0 795.2 930.5 795.3 931.0 794.5 931.5 795.7 932.0 796.0 932.5 795.7 933.0 795.1 933.5 795.4 934.0 794.3 934.5 795.5 935.0 796.5 935.5 795.3 936.0 796.1 936.5 795.3 937.0 795.1 937.5 794.9 938.0 795.5 938.5 795.5 939.0 795.0 939.5 795.0 940.0 795.2 940.5 794.9 941.0 794.6 941.5 795.1 942.0 794.9 942.5 794.9 943.0 795.6 943.5 795.8 944.0 795.7 944.5 795.9 945.0 794.5 945.5 795.4 946.0 795.3 946.5 796.1 947.0 795.0 947.5 795.1 948.0 796.1 948.5 795.4 949.0 795.9 949.5 796.0 950.0 795.1 950.5 796.3 951.0 795.7 951.5 797.0 952.0 795.9 952.5 796.0 953.0 795.1 953.5 796.2 954.0 795.4 954.5 795.9 955.0 794.8 955.5 795.7 956.0 795.7 956.5 796.5 957.0 796.4 957.5 796.3 958.0 795.6 958.5 796.3 959.0 796.4 959.5 796.6 960.0 795.9 960.5 796.5 961.0 796.4 961.5 796.2 962.0 795.6 962.5 795.6 963.0 795.9 963.5 796.0 964.0 795.8 964.5 796.5 965.0 796.1 965.5 795.9 966.0 796.4 966.5 797.1 967.0 795.5 967.5 796.6 968.0 796.6 968.5 796.6 969.0 796.1 969.5 795.1 970.0 796.1 970.5 795.1 971.0 796.5 971.5 796.6 972.0 796.1 972.5 796.0 973.0 796.9 973.5 795.5 974.0 796.3 974.5 796.7 975.0 797.1 975.5 796.8 976.0 797.0 976.5 796.5 977.0 797.2 977.5 796.0 978.0 797.0 978.5 796.7 979.0 795.9 979.5 796.8 980.0 796.2 980.5 796.4 981.0 796.4 981.5 797.3 982.0 796.6 982.5 796.4 983.0 796.0 983.5 796.4 984.0 796.2 984.5 796.6 985.0 796.4 985.5 796.4 986.0 795.4 986.5 796.2 987.0 795.7 987.5 796.1 988.0 794.5 988.5 796.5 989.0 795.8 989.5 796.3 990.0 795.6 990.5 796.5 991.0 795.4 991.5 796.1 992.0 796.3 992.5 795.7 993.0 795.9 993.5 795.8 994.0 795.5 994.5 795.2 995.0 795.2 995.5 795.2 996.0 794.7 996.5 795.0 997.0 794.4 997.5 794.6 998.0 794.6 998.5 795.5 999.0 795.0 999.5 794.9 1000.0 795.1 1000.5 795.3 1001.0 794.6 1001.5 795.0 1002.0 794.1 1002.5 794.0 1003.0 794.3 1003.5 794.3 1004.0 793.7 1004.5 794.6 1005.0 793.4 1005.5 794.2 1006.0 794.1 1006.5 794.3 1007.0 793.7 1007.5 793.7 1008.0 794.4 1008.5 795.2 1009.0 794.6 1009.5 795.2 1010.0 794.3 1010.5 795.3 1011.0 793.7 1011.5 795.4 1012.0 794.8 1012.5 795.3 1013.0 795.3 1013.5 795.3 1014.0 795.2 1014.5 794.7 1015.0 794.2 1015.5 794.8 1016.0 794.4 1016.5 794.1 1017.0 794.6 1017.5 794.9 1018.0 794.4 1018.5 794.3 1019.0 794.8 1019.5 793.7 1020.0 795.1 1020.5 795.2 1021.0 795.6 1021.5 794.5 1022.0 795.3 1022.5 794.9 1023.0 795.0 1023.5 794.7 1024.0 795.7 1024.5 794.9 1025.0 794.6 1025.5 794.3 1026.0 794.5 1026.5 794.3 1027.0 794.6 1027.5 794.3 1028.0 793.7 1028.5 794.1 1029.0 794.3 1029.5 792.9 1030.0 793.9 1030.5 793.2 1031.0 793.1 1031.5 792.9 1032.0 793.3 1032.5 793.4 1033.0 792.7 1033.5 792.6 1034.0 792.5 1034.5 792.4 1035.0 791.8 1035.5 792.9 1036.0 792.0 1036.5 792.2 1037.0 793.1 1037.5 791.3 1038.0 791.7 1038.5 792.4 1039.0 792.0 1039.5 791.6 1040.0 793.2 1040.5 791.9 1041.0 792.0 1041.5 793.0 1042.0 792.1 1042.5 791.9 1043.0 792.0 1043.5 790.9 1044.0 791.5 1044.5 791.7 1045.0 791.7 1045.5 791.1 1046.0 791.0 1046.5 790.8 1047.0 791.8 1047.5 791.8 1048.0 791.2 1048.5 791.6 1049.0 790.8 1049.5 790.3 1050.0 790.9 1050.5 790.8 1051.0 791.7 1051.5 791.1 1052.0 790.1 1052.5 790.3 1053.0 790.9 1053.5 790.7 1054.0 790.1 1054.5 791.0 1055.0 791.0 1055.5 791.2 1056.0 790.9 1056.5 791.7 1057.0 791.6 1057.5 791.2 1058.0 791.1 1058.5 791.8 1059.0 792.7 1059.5 791.8 1060.0 792.2 1060.5 792.0 1061.0 792.0 1061.5 793.0 1062.0 793.0 1062.5 793.2 1063.0 791.9 1063.5 792.7 1064.0 793.8 1064.5 793.4 1065.0 793.7 1065.5 793.2 1066.0 793.7 1066.5 794.4 1067.0 794.3 1067.5 794.9 1068.0 794.1 1068.5 794.1 1069.0 793.4 1069.5 795.2 1070.0 793.6 1070.5 794.7 1071.0 793.3 1071.5 794.7 1072.0 793.9 1072.5 793.9 1073.0 793.4 1073.5 795.1 1074.0 795.1 1074.5 795.0 1075.0 795.9 1075.5 795.2 1076.0 795.0 1076.5 793.8 1077.0 794.8 1077.5 794.7 1078.0 794.5 1078.5 795.1 1079.0 795.4 1079.5 795.3 1080.0 794.7 1080.5 795.3 1081.0 794.5 1081.5 794.9 1082.0 794.7 1082.5 795.6 1083.0 796.4 1083.5 795.0 1084.0 795.0 1084.5 794.9 1085.0 795.2 1085.5 795.9 1086.0 795.5 1086.5 796.8 1087.0 795.8 1087.5 795.3 1088.0 795.4 1088.5 795.3 1089.0 795.4 1089.5 794.9 1090.0 795.2 1090.5 795.2 1091.0 795.5 1091.5 795.0 1092.0 795.7 1092.5 795.1 1093.0 794.9 1093.5 795.5 1094.0 795.3 1094.5 796.9 1095.0 795.1 1095.5 795.9 1096.0 795.4 1096.5 796.5 1097.0 795.7 1097.5 795.0 1098.0 795.5 1098.5 794.3 1099.0 795.0 1099.5 795.4 1100.0 795.6 1100.5 795.2 1101.0 794.8 1101.5 795.2 1102.0 794.2 1102.5 794.8 1103.0 795.2 1103.5 794.9 1104.0 794.9 1104.5 795.5 1105.0 795.2 1105.5 795.1 1106.0 795.6 1106.5 795.9 1107.0 795.7 1107.5 794.6 1108.0 794.7 1108.5 794.7 1109.0 795.5 1109.5 795.5 1110.0 795.2 1110.5 795.0 1111.0 795.1 1111.5 794.4 1112.0 795.1 1112.5 794.1 1113.0 795.2 1113.5 794.9 1114.0 795.5 1114.5 795.3 1115.0 795.5 1115.5 795.8 1116.0 795.4 1116.5 794.7 1117.0 795.3 1117.5 795.0 1118.0 795.9 1118.5 794.8 1119.0 794.5 1119.5 795.1 1120.0 795.5 1120.5 795.6 1121.0 795.5 1121.5 795.8 1122.0 795.4 1122.5 796.3 1123.0 795.7 1123.5 796.2 1124.0 795.4 1124.5 795.8 1125.0 795.7 1125.5 794.6 1126.0 795.5 1126.5 795.2 1127.0 795.4 1127.5 795.7 1128.0 795.1 1128.5 795.4 1129.0 794.9 1129.5 795.9 1130.0 795.2 1130.5 795.9 1131.0 795.7 1131.5 796.3 1132.0 795.8 1132.5 796.3 1133.0 796.4 1133.5 795.8 1134.0 795.7 1134.5 796.1 1135.0 796.1 1135.5 796.8 1136.0 797.0 1136.5 795.9 1137.0 795.7 1137.5 794.9 1138.0 795.6 1138.5 795.5 1139.0 795.8 1139.5 796.0 1140.0 795.2 1140.5 795.9 1141.0 795.8 1141.5 796.5 1142.0 796.6 1142.5 796.0 1143.0 796.7 1143.5 797.2 1144.0 796.2 1144.5 796.2 1145.0 796.0 1145.5 795.0 1146.0 795.9 1146.5 795.9 1147.0 796.0 1147.5 796.3 1148.0 796.8 1148.5 796.7 1149.0 797.1 1149.5 796.9 1150.0 795.1 1150.5 795.9 1151.0 795.8 1151.5 795.1 1152.0 795.1 1152.5 795.6 1153.0 795.6 1153.5 796.6 1154.0 797.2 1154.5 796.1 1155.0 796.5 1155.5 796.1 1156.0 795.9 1156.5 796.1 1157.0 795.8 1157.5 796.9 1158.0 796.8 1158.5 797.0 1159.0 796.2 1159.5 796.4 1160.0 796.6 1160.5 795.9 1161.0 796.5 1161.5 795.9 1162.0 795.3 1162.5 796.8 1163.0 796.0 1163.5 797.2 1164.0 796.4 1164.5 796.5 1165.0 797.0 1165.5 796.8 1166.0 795.8 1166.5 796.1 1167.0 796.0 1167.5 796.2 1168.0 796.8 1168.5 796.1 1169.0 796.2 1169.5 795.8 1170.0 796.5 1170.5 796.5 1171.0 797.0 1171.5 796.9 1172.0 796.0 1172.5 796.7 1173.0 796.5 1173.5 796.5 1174.0 796.3 1174.5 796.1 1175.0 796.4 1175.5 796.6 1176.0 797.4 1176.5 797.1 1177.0 796.4 1177.5 795.5 1178.0 796.5 1178.5 796.6 1179.0 796.8 1179.5 796.6 1180.0 796.4 1180.5 796.7 1181.0 796.9 1181.5 797.3 1182.0 797.4 1182.5 796.7 1183.0 796.3 1183.5 797.3 1184.0 796.1 1184.5 797.3 1185.0 796.9 1185.5 797.9 1186.0 796.4 1186.5 797.0 1187.0 795.9 1187.5 796.9 1188.0 796.2 1188.5 796.8 1189.0 796.6 1189.5 797.4 1190.0 796.6 1190.5 797.2 1191.0 796.8 1191.5 796.9 1192.0 797.4 1192.5 796.3 1193.0 796.8 1193.5 796.2 1194.0 796.5 1194.5 796.8 1195.0 797.1 1195.5 796.9 1196.0 796.6 1196.5 796.9 1197.0 797.3 1197.5 797.2 1198.0 797.0 1198.5 797.8 1199.0 796.2 1199.5 797.0 1200.0 797.1 1200.5 797.6 1201.0 797.7 1201.5 796.5 1202.0 796.5 1202.5 797.0 1203.0 796.8 1203.5 796.6 1204.0 797.1 1204.5 797.0 1205.0 796.4 1205.5 796.5 1206.0 797.1 1206.5 796.5 1207.0 796.9 1207.5 797.4 1208.0 796.5 1208.5 797.3 1209.0 797.7 1209.5 796.0 1210.0 796.3 1210.5 796.6 1211.0 796.8 1211.5 797.5 1212.0 797.3 1212.5 797.1 1213.0 796.4 1213.5 797.0 1214.0 797.1 1214.5 797.6 1215.0 797.1 1215.5 797.6 1216.0 796.7 1216.5 797.2 1217.0 796.6 1217.5 797.0 1218.0 797.2 1218.5 797.1 1219.0 796.9 1219.5 797.4 1220.0 797.2 1220.5 797.4 1221.0 798.0 1221.5 797.8 1222.0 798.0 1222.5 797.8 1223.0 798.2 1223.5 796.8 1224.0 797.5 1224.5 798.0 1225.0 797.4 1225.5 797.4 1226.0 797.9 1226.5 797.3 1227.0 797.9 1227.5 798.3 1228.0 796.6 1228.5 796.9 1229.0 796.6 1229.5 797.4 1230.0 797.5 1230.5 795.9 1231.0 796.6 1231.5 796.9 1232.0 796.9 1232.5 796.9 1233.0 797.7" fill="none" stroke="#7c7c7c" stroke-width="3.3" stroke-linejoin="round"/>
<path d="M755.5 846.3 756.0 845.8 756.5 845.8 757.0 845.0 757.5 845.3 758.0 844.0 758.5 844.7 759.0 843.6 759.5 844.7 760.0 844.0 760.5 844.5 761.0 844.0 761.5 845.0 762.0 843.4 762.5 843.3 763.0 842.9 763.5 843.0 764.0 842.8 764.5 843.6 765.0 842.4 765.5 843.2 766.0 843.1 766.5 843.6 767.0 844.0 767.5 844.4 768.0 845.4 768.5 844.3 769.0 846.3 769.5 846.3 770.0 846.6 770.5 847.0 771.0 847.4 771.5 848.1 772.0 850.2 772.5 849.4 773.0 850.1 773.5 850.5 774.0 850.5 774.5 849.8 775.0 850.8 775.5 850.7 776.0 851.0 776.5 850.2 777.0 850.6 777.5 850.5 778.0 850.6 778.5 850.9 779.0 851.0 779.5 850.8 780.0 851.0 780.5 850.8 781.0 851.1 781.5 850.3 782.0 850.8 782.5 850.4 783.0 851.1 783.5 850.7 784.0 850.3 784.5 850.8 785.0 851.4 785.5 850.5 786.0 851.2 786.5 850.6 787.0 850.9 787.5 850.6 788.0 850.8 788.5 851.1 789.0 850.7 789.5 849.8 790.0 850.4 790.5 850.6 791.0 851.8 791.5 850.8 792.0 850.1 792.5 850.1 793.0 849.9 793.5 850.3 794.0 850.0 794.5 849.3 795.0 850.2 795.5 849.1 796.0 849.6 796.5 848.9 797.0 849.6 797.5 849.8 798.0 848.8 798.5 849.1 799.0 847.9 799.5 849.1 800.0 848.1 800.5 849.1 801.0 848.8 801.5 848.0 802.0 847.3 802.5 847.2 803.0 847.9 803.5 847.6 804.0 847.5 804.5 847.8 805.0 847.6 805.5 847.4 806.0 847.3 806.5 847.2 807.0 847.8 807.5 846.9 808.0 847.2 808.5 846.6 809.0 846.4 809.5 846.4 810.0 846.0 810.5 844.8 811.0 845.7 811.5 844.3 812.0 843.4 812.5 843.0 813.0 842.6 813.5 842.3 814.0 841.7 814.5 841.7 815.0 840.2 815.5 839.4 816.0 839.2 816.5 838.1 817.0 837.4 817.5 837.5 818.0 835.2 818.5 835.1 819.0 834.7 819.5 833.3 820.0 833.0 820.5 831.4 821.0 831.3 821.5 830.0 822.0 828.1 822.5 826.0 823.0 825.0 823.5 823.3 824.0 821.8 824.5 819.9 825.0 818.5 825.5 816.7 826.0 815.0 826.5 813.4 827.0 811.5 827.5 809.4 828.0 809.4 828.5 808.0 829.0 806.1 829.5 804.2 830.0 802.6 830.5 801.2 831.0 800.7 831.5 800.9 832.0 799.7 832.5 798.4 833.0 797.5 833.5 798.1 834.0 797.3 834.5 796.6 835.0 795.5 835.5 795.0 836.0 794.8 836.5 793.7 837.0 794.7 837.5 795.0 838.0 795.9 838.5 796.4 839.0 796.3 839.5 797.4 840.0 797.9 840.5 798.2 841.0 799.1 841.5 798.9 842.0 800.2 842.5 800.6 843.0 800.9 843.5 801.5 844.0 802.5 844.5 802.2 845.0 803.4 845.5 803.6 846.0 803.1 846.5 803.2 847.0 801.2 847.5 800.8 848.0 800.9 848.5 798.9 849.0 797.2 849.5 794.7 850.0 793.1 850.5 790.4 851.0 788.3 851.5 785.7 852.0 783.7 852.5 781.0 853.0 777.8 853.5 775.3 854.0 772.3 854.5 768.3 855.0 767.0 855.5 763.6 856.0 760.7 856.5 757.7 857.0 754.7 857.5 751.6 858.0 748.0 858.5 745.1 859.0 742.8 859.5 746.3 860.0 750.7 860.5 753.0 861.0 757.7 861.5 759.8 862.0 764.2 862.5 767.4 863.0 771.4 863.5 775.5 864.0 778.3 864.5 782.7 865.0 787.0 865.5 791.4 866.0 794.5 866.5 799.5 867.0 802.7 867.5 807.6 868.0 811.3 868.5 814.7 869.0 817.8 869.5 820.6 870.0 824.2 870.5 825.1 871.0 828.8 871.5 829.9 872.0 831.9 872.5 832.7 873.0 834.1 873.5 836.0 874.0 836.1 874.5 838.2 875.0 838.7 875.5 838.8 876.0 839.6 876.5 841.6 877.0 841.4 877.5 841.8 878.0 843.0 878.5 843.1 879.0 843.1 879.5 843.2 880.0 844.4 880.5 845.5 881.0 845.3 881.5 844.8 882.0 846.1 882.5 847.2 883.0 846.9 883.5 846.8 884.0 846.7 884.5 847.6 885.0 847.8 885.5 848.1 886.0 848.4 886.5 849.2 887.0 850.3 887.5 849.2 888.0 848.7 888.5 848.7 889.0 849.5 889.5 849.8 890.0 849.1 890.5 849.4 891.0 849.6 891.5 849.4 892.0 849.4 892.5 849.0 893.0 849.9 893.5 850.7 894.0 849.9 894.5 849.6 895.0 849.6 895.5 849.6 896.0 849.7 896.5 849.8 897.0 849.7 897.5 848.8 898.0 849.7 898.5 849.3 899.0 849.2 899.5 848.9 900.0 849.2 900.5 848.4 901.0 848.3 901.5 849.3 902.0 849.3 902.5 848.8 903.0 849.4 903.5 849.1 904.0 850.8 904.5 848.8 905.0 850.1 905.5 849.0 906.0 849.7 906.5 848.7 907.0 849.3 907.5 849.3 908.0 848.8 908.5 849.0 909.0 848.8 909.5 849.0 910.0 849.3 910.5 848.2 911.0 848.7 911.5 849.0 912.0 848.8 912.5 849.5 913.0 848.4 913.5 847.5 914.0 847.5 914.5 847.7 915.0 848.6 915.5 848.8 916.0 848.3 916.5 849.2 917.0 848.0 917.5 848.1 918.0 848.6 918.5 848.8 919.0 848.8 919.5 847.8 920.0 848.9 920.5 848.1 921.0 848.3 921.5 849.6 922.0 847.6 922.5 849.4 923.0 847.9 923.5 848.3 924.0 848.0 924.5 849.6 925.0 849.2 925.5 847.8 926.0 848.7 926.5 848.3 927.0 848.3 927.5 849.0 928.0 848.1 928.5 847.9 929.0 848.0 929.5 847.8 930.0 848.8 930.5 848.7 931.0 848.1 931.5 847.9 932.0 847.1 932.5 847.8 933.0 848.3 933.5 848.2 934.0 847.9 934.5 848.1 935.0 847.8 935.5 849.3 936.0 847.9 936.5 847.4 937.0 847.1 937.5 847.5 938.0 847.0 938.5 847.8 939.0 846.8 939.5 847.2 940.0 847.0 940.5 847.8 941.0 848.1 941.5 847.7 942.0 847.6 942.5 847.9 943.0 848.1 943.5 847.4 944.0 846.6 944.5 848.2 945.0 847.4 945.5 847.4 946.0 847.5 946.5 847.0 947.0 847.9 947.5 847.4 948.0 847.2 948.5 847.8 949.0 846.8 949.5 846.6 950.0 846.5 950.5 847.2 951.0 847.4 951.5 846.9 952.0 846.8 952.5 846.3 953.0 847.3 953.5 846.3 954.0 846.6 954.5 847.0 955.0 846.7 955.5 847.3 956.0 845.6 956.5 846.7 957.0 847.1 957.5 847.4 958.0 846.7 958.5 846.3 959.0 845.9 959.5 847.0 960.0 845.9 960.5 847.0 961.0 846.3 961.5 846.5 962.0 845.9 962.5 846.4 963.0 844.9 963.5 845.7 964.0 845.7 964.5 845.9 965.0 845.1 965.5 846.0 966.0 846.2 966.5 845.6 967.0 845.3 967.5 845.4 968.0 844.0 968.5 845.1 969.0 844.8 969.5 846.5 970.0 845.3 970.5 845.7 971.0 846.0 971.5 845.6 972.0 845.6 972.5 844.9 973.0 846.1 973.5 845.3 974.0 845.6 974.5 845.1 975.0 845.2 975.5 845.7 976.0 844.8 976.5 845.3 977.0 844.5 977.5 845.5 978.0 845.7 978.5 845.2 979.0 845.5 979.5 844.9 980.0 844.5 980.5 845.3 981.0 844.0 981.5 845.1 982.0 844.4 982.5 843.8 983.0 844.2 983.5 844.7 984.0 844.4 984.5 843.5 985.0 843.4 985.5 844.0 986.0 843.8 986.5 843.5 987.0 843.0 987.5 843.3 988.0 842.8 988.5 842.7 989.0 843.3 989.5 841.9 990.0 842.6 990.5 841.3 991.0 841.6 991.5 841.5 992.0 842.0 992.5 841.9 993.0 840.3 993.5 841.2 994.0 840.1 994.5 840.7 995.0 841.2 995.5 839.8 996.0 841.3 996.5 840.2 997.0 840.8 997.5 840.3 998.0 840.0 998.5 838.7 999.0 840.0 999.5 838.5 1000.0 838.7 1000.5 838.3 1001.0 838.3 1001.5 838.0 1002.0 838.3 1002.5 838.1 1003.0 837.8 1003.5 837.6 1004.0 838.1 1004.5 837.7 1005.0 838.5 1005.5 837.4 1006.0 838.3 1006.5 837.5 1007.0 838.1 1007.5 839.0 1008.0 838.7 1008.5 840.0 1009.0 839.0 1009.5 839.5 1010.0 841.1 1010.5 839.5 1011.0 839.7 1011.5 839.9 1012.0 841.3 1012.5 841.2 1013.0 841.3 1013.5 841.0 1014.0 841.3 1014.5 841.9 1015.0 841.9 1015.5 842.1 1016.0 841.9 1016.5 842.7 1017.0 842.4 1017.5 842.9 1018.0 842.6 1018.5 843.6 1019.0 842.8 1019.5 842.7 1020.0 842.7 1020.5 842.6 1021.0 842.5 1021.5 842.8 1022.0 843.0 1022.5 843.9 1023.0 843.7 1023.5 843.5 1024.0 842.9 1024.5 844.1 1025.0 843.9 1025.5 843.5 1026.0 843.3 1026.5 844.3 1027.0 843.3 1027.5 842.8 1028.0 843.4 1028.5 843.7 1029.0 843.5 1029.5 843.3 1030.0 842.3 1030.5 842.8 1031.0 843.1 1031.5 844.1 1032.0 843.2 1032.5 843.4 1033.0 843.1 1033.5 842.8 1034.0 842.6 1034.5 842.1 1035.0 842.5 1035.5 842.8 1036.0 842.2 1036.5 841.7 1037.0 841.5 1037.5 841.8 1038.0 841.4 1038.5 841.3 1039.0 841.6 1039.5 840.1 1040.0 841.3 1040.5 841.6 1041.0 840.5 1041.5 841.3 1042.0 840.8 1042.5 839.9 1043.0 838.7 1043.5 839.6 1044.0 838.4 1044.5 837.9 1045.0 838.6 1045.5 838.8 1046.0 837.5 1046.5 837.9 1047.0 837.8 1047.5 838.8 1048.0 838.1 1048.5 836.7 1049.0 837.3 1049.5 837.3 1050.0 837.1 1050.5 836.0 1051.0 837.6 1051.5 836.0 1052.0 836.4 1052.5 837.1 1053.0 837.0 1053.5 838.2 1054.0 838.0 1054.5 838.8 1055.0 839.6 1055.5 838.1 1056.0 839.7 1056.5 838.7 1057.0 838.9 1057.5 839.2 1058.0 840.1 1058.5 839.5 1059.0 840.4 1059.5 839.6 1060.0 841.3 1060.5 841.4 1061.0 841.3 1061.5 842.9 1062.0 843.3 1062.5 843.1 1063.0 842.9 1063.5 844.1 1064.0 844.1 1064.5 844.4 1065.0 844.0 1065.5 844.1 1066.0 846.3 1066.5 846.2 1067.0 846.5 1067.5 845.4 1068.0 845.7 1068.5 846.2 1069.0 845.8 1069.5 846.2 1070.0 846.2 1070.5 846.5 1071.0 846.0 1071.5 845.6 1072.0 846.5 1072.5 846.3 1073.0 845.9 1073.5 847.3 1074.0 846.3 1074.5 846.6 1075.0 846.3 1075.5 846.3 1076.0 846.2 1076.5 846.7 1077.0 846.8 1077.5 846.5 1078.0 846.0 1078.5 846.9 1079.0 847.2 1079.5 846.9 1080.0 846.5 1080.5 847.2 1081.0 847.0 1081.5 847.0 1082.0 846.7 1082.5 846.5 1083.0 847.6 1083.5 847.7 1084.0 846.9 1084.5 847.3 1085.0 847.1 1085.5 846.9 1086.0 847.1 1086.5 846.6 1087.0 846.3 1087.5 847.0 1088.0 847.5 1088.5 847.6 1089.0 846.9 1089.5 846.7 1090.0 847.4 1090.5 847.5 1091.0 846.9 1091.5 847.2 1092.0 847.0 1092.5 847.5 1093.0 847.4 1093.5 847.7 1094.0 847.6 1094.5 848.2 1095.0 847.8 1095.5 847.5 1096.0 848.1 1096.5 848.5 1097.0 847.8 1097.5 847.5 1098.0 848.3 1098.5 848.4 1099.0 848.3 1099.5 848.0 1100.0 848.4 1100.5 848.5 1101.0 848.5 1101.5 847.8 1102.0 847.5 1102.5 848.8 1103.0 848.2 1103.5 848.2 1104.0 848.4 1104.5 848.7 1105.0 848.2 1105.5 848.2 1106.0 847.9 1106.5 848.3 1107.0 847.6 1107.5 847.4 1108.0 847.5 1108.5 848.0 1109.0 847.9 1109.5 848.3 1110.0 848.3 1110.5 848.9 1111.0 848.0 1111.5 848.6 1112.0 847.8 1112.5 848.4 1113.0 848.7 1113.5 847.9 1114.0 848.3 1114.5 848.4 1115.0 848.7 1115.5 848.9 1116.0 848.2 1116.5 848.5 1117.0 848.2 1117.5 848.6 1118.0 848.6 1118.5 848.7 1119.0 848.8 1119.5 849.1 1120.0 848.7 1120.5 848.6 1121.0 848.1 1121.5 848.9 1122.0 849.2 1122.5 849.2 1123.0 848.4 1123.5 848.3 1124.0 848.4 1124.5 848.4 1125.0 849.3 1125.5 848.8 1126.0 848.3 1126.5 848.1 1127.0 848.4 1127.5 847.9 1128.0 848.2 1128.5 848.4 1129.0 848.6 1129.5 848.8 1130.0 848.4 1130.5 848.6 1131.0 848.6 1131.5 849.5 1132.0 849.7 1132.5 849.0 1133.0 849.2 1133.5 849.3 1134.0 849.0 1134.5 848.8 1135.0 849.5 1135.5 848.9 1136.0 848.6 1136.5 848.5 1137.0 848.8 1137.5 849.0 1138.0 848.0 1138.5 849.4 1139.0 849.4 1139.5 849.5 1140.0 848.9 1140.5 849.0 1141.0 848.5 1141.5 848.8 1142.0 849.1 1142.5 849.8 1143.0 848.4 1143.5 850.5 1144.0 849.1 1144.5 849.9 1145.0 849.7 1145.5 849.0 1146.0 849.8 1146.5 849.3 1147.0 849.5 1147.5 849.9 1148.0 849.3 1148.5 850.4 1149.0 849.1 1149.5 849.2 1150.0 849.1 1150.5 849.4 1151.0 848.8 1151.5 848.6 1152.0 848.2 1152.5 848.4 1153.0 849.1 1153.5 849.2 1154.0 848.7 1154.5 850.1 1155.0 848.3 1155.5 848.9 1156.0 849.1 1156.5 848.9 1157.0 849.1 1157.5 849.5 1158.0 849.6 1158.5 849.3 1159.0 848.5 1159.5 849.0 1160.0 849.8 1160.5 848.8 1161.0 849.5 1161.5 849.7 1162.0 848.7 1162.5 850.0 1163.0 849.9 1163.5 849.4 1164.0 850.0 1164.5 849.2 1165.0 849.6 1165.5 849.6 1166.0 849.2 1166.5 849.8 1167.0 848.7 1167.5 849.5 1168.0 849.5 1168.5 849.4 1169.0 849.6 1169.5 849.2 1170.0 849.8 1170.5 849.5 1171.0 850.0 1171.5 851.0 1172.0 849.2 1172.5 848.1 1173.0 848.4 1173.5 848.9 1174.0 849.1 1174.5 848.9 1175.0 850.0 1175.5 848.5 1176.0 848.9 1176.5 850.3 1177.0 850.0 1177.5 849.8 1178.0 849.1 1178.5 849.6 1179.0 849.7 1179.5 849.2 1180.0 849.9 1180.5 848.9 1181.0 849.1 1181.5 850.2 1182.0 849.3 1182.5 848.8 1183.0 850.6 1183.5 849.1 1184.0 849.2 1184.5 850.6 1185.0 849.8 1185.5 849.6 1186.0 850.0 1186.5 848.9 1187.0 849.2 1187.5 849.7 1188.0 849.7 1188.5 849.8 1189.0 849.5 1189.5 849.2 1190.0 849.9 1190.5 849.7 1191.0 849.3 1191.5 849.5 1192.0 849.5 1192.5 849.3 1193.0 849.8 1193.5 849.4 1194.0 849.5 1194.5 849.2 1195.0 849.9 1195.5 849.6 1196.0 849.1 1196.5 849.6 1197.0 848.6 1197.5 849.2 1198.0 848.2 1198.5 848.8 1199.0 849.2 1199.5 849.1 1200.0 849.0 1200.5 848.6 1201.0 849.1 1201.5 848.8 1202.0 850.5 1202.5 848.9 1203.0 849.9 1203.5 849.6 1204.0 849.9 1204.5 849.0 1205.0 849.9 1205.5 850.2 1206.0 849.6 1206.5 849.3 1207.0 849.8 1207.5 849.4 1208.0 849.5 1208.5 848.5 1209.0 848.9 1209.5 848.5 1210.0 848.5 1210.5 849.7 1211.0 849.0 1211.5 849.3 1212.0 849.0 1212.5 849.5 1213.0 849.7 1213.5 849.8 1214.0 850.2 1214.5 851.0 1215.0 849.0 1215.5 849.6 1216.0 849.9 1216.5 849.1 1217.0 849.8 1217.5 849.8 1218.0 849.0 1218.5 848.8 1219.0 849.7 1219.5 848.9 1220.0 849.7 1220.5 849.7 1221.0 849.7 1221.5 849.9 1222.0 849.4 1222.5 849.8 1223.0 849.7 1223.5 849.3 1224.0 849.3 1224.5 849.4 1225.0 848.9 1225.5 848.9 1226.0 848.8 1226.5 849.1 1227.0 849.2 1227.5 849.3 1228.0 849.8 1228.5 849.4 1229.0 848.4 1229.5 849.5 1230.0 849.2 1230.5 850.0 1231.0 848.9 1231.5 849.1 1232.0 848.8 1232.5 849.2 1233.0 850.1" fill="none" stroke="#b3287c" stroke-width="3.3" stroke-linejoin="round"/>
<path d="M755.5 901.3 756.0 901.4 756.5 901.2 757.0 899.6 757.5 899.1 758.0 899.4 758.5 898.6 759.0 898.6 759.5 898.6 760.0 897.8 760.5 897.8 761.0 895.9 761.5 897.5 762.0 896.9 762.5 896.4 763.0 896.9 763.5 896.2 764.0 896.2 764.5 895.6 765.0 896.1 765.5 895.8 766.0 895.7 766.5 896.1 767.0 896.1 767.5 895.8 768.0 897.2 768.5 898.0 769.0 898.1 769.5 898.6 770.0 898.9 770.5 899.0 771.0 900.6 771.5 900.8 772.0 901.2 772.5 901.6 773.0 902.1 773.5 903.3 774.0 902.8 774.5 902.5 775.0 903.6 775.5 904.2 776.0 904.1 776.5 903.5 777.0 903.0 777.5 904.8 778.0 903.3 778.5 903.7 779.0 903.6 779.5 903.5 780.0 903.6 780.5 903.4 781.0 903.5 781.5 903.8 782.0 903.8 782.5 905.1 783.0 903.5 783.5 904.6 784.0 903.9 784.5 903.7 785.0 903.0 785.5 903.5 786.0 903.0 786.5 903.6 787.0 903.6 787.5 902.9 788.0 904.1 788.5 903.7 789.0 903.9 789.5 904.0 790.0 903.8 790.5 904.4 791.0 904.8 791.5 904.2 792.0 904.4 792.5 904.8 793.0 904.1 793.5 903.4 794.0 904.1 794.5 903.6 795.0 903.3 795.5 902.7 796.0 903.4 796.5 903.0 797.0 903.5 797.5 902.4 798.0 902.9 798.5 904.1 799.0 904.1 799.5 903.3 800.0 903.1 800.5 901.7 801.0 902.8 801.5 902.1 802.0 901.1 802.5 901.5 803.0 901.4 803.5 902.1 804.0 901.9 804.5 903.0 805.0 902.4 805.5 901.7 806.0 901.8 806.5 901.1 807.0 902.2 807.5 901.4 808.0 901.5 808.5 901.3 809.0 901.0 809.5 900.5 810.0 901.0 810.5 900.6 811.0 898.5 811.5 898.9 812.0 898.8 812.5 898.3 813.0 898.3 813.5 898.2 814.0 897.3 814.5 896.5 815.0 896.5 815.5 895.6 816.0 895.0 816.5 895.2 817.0 894.0 817.5 892.2 818.0 892.5 818.5 890.6 819.0 890.2 819.5 888.2 820.0 888.5 820.5 886.2 821.0 886.2 821.5 885.6 822.0 883.6 822.5 882.0 823.0 880.0 823.5 878.7 824.0 877.6 824.5 874.3 825.0 873.0 825.5 872.1 826.0 869.6 826.5 868.2 827.0 866.0 827.5 863.3 828.0 862.0 828.5 861.0 829.0 858.7 829.5 857.6 830.0 856.6 830.5 855.1 831.0 854.5 831.5 854.2 832.0 853.4 832.5 853.1 833.0 853.2 833.5 853.5 834.0 852.3 834.5 852.1 835.0 853.7 835.5 852.6 836.0 851.3 836.5 851.9 837.0 851.4 837.5 852.7 838.0 852.1 838.5 852.9 839.0 854.0 839.5 853.1 840.0 854.1 840.5 854.8 841.0 855.6 841.5 856.2 842.0 857.1 842.5 856.6 843.0 857.7 843.5 857.1 844.0 858.5 844.5 858.6 845.0 859.7 845.5 859.1 846.0 858.8 846.5 858.5 847.0 857.5 847.5 857.0 848.0 856.0 848.5 855.2 849.0 853.6 849.5 852.3 850.0 851.0 850.5 848.1 851.0 846.3 851.5 843.9 852.0 843.3 852.5 840.8 853.0 838.0 853.5 835.5 854.0 832.8 854.5 830.4 855.0 826.1 855.5 822.5 856.0 818.5 856.5 813.1 857.0 809.8 857.5 806.4 858.0 802.9 858.5 798.1 859.0 795.9 859.5 798.7 860.0 801.3 860.5 805.0 861.0 807.0 861.5 809.5 862.0 813.6 862.5 816.2 863.0 818.3 863.5 821.7 864.0 823.6 864.5 826.8 865.0 830.4 865.5 833.6 866.0 837.3 866.5 840.0 867.0 844.8 867.5 847.5 868.0 851.8 868.5 857.0 869.0 859.9 869.5 862.9 870.0 867.0 870.5 869.9 871.0 873.1 871.5 876.1 872.0 879.0 872.5 881.4 873.0 884.0 873.5 886.5 874.0 887.2 874.5 888.3 875.0 888.7 875.5 891.0 876.0 891.4 876.5 892.9 877.0 893.2 877.5 894.5 878.0 894.2 878.5 894.8 879.0 895.6 879.5 895.9 880.0 896.8 880.5 896.8 881.0 896.3 881.5 897.1 882.0 897.6 882.5 898.7 883.0 898.7 883.5 899.6 884.0 900.0 884.5 900.0 885.0 899.4 885.5 901.6 886.0 901.1 886.5 900.7 887.0 901.2 887.5 900.9 888.0 901.1 888.5 900.8 889.0 902.3 889.5 901.0 890.0 901.3 890.5 900.8 891.0 901.7 891.5 902.1 892.0 901.6 892.5 901.1 893.0 901.6 893.5 901.4 894.0 901.9 894.5 901.5 895.0 901.5 895.5 901.2 896.0 901.2 896.5 901.2 897.0 901.7 897.5 901.1 898.0 901.3 898.5 900.9 899.0 901.2 899.5 900.8 900.0 901.3 900.5 900.9 901.0 900.3 901.5 900.9 902.0 900.6 902.5 901.1 903.0 901.0 903.5 901.7 904.0 901.0 904.5 900.6 905.0 900.8 905.5 900.8 906.0 900.8 906.5 901.4 907.0 901.1 907.5 901.5 908.0 901.9 908.5 901.2 909.0 901.5 909.5 902.3 910.0 901.6 910.5 901.3 911.0 901.7 911.5 901.3 912.0 901.0 912.5 901.6 913.0 900.9 913.5 900.9 914.0 901.1 914.5 901.5 915.0 901.4 915.5 900.6 916.0 900.8 916.5 900.5 917.0 901.3 917.5 901.2 918.0 900.8 918.5 901.4 919.0 900.4 919.5 900.9 920.0 900.5 920.5 901.9 921.0 901.5 921.5 901.9 922.0 903.0 922.5 901.8 923.0 901.8 923.5 901.5 924.0 902.0 924.5 901.6 925.0 902.0 925.5 901.9 926.0 901.6 926.5 901.2 927.0 901.1 927.5 901.3 928.0 901.2 928.5 901.4 929.0 900.7 929.5 901.0 930.0 901.2 930.5 901.8 931.0 901.2 931.5 901.1 932.0 900.9 932.5 901.6 933.0 900.9 933.5 900.9 934.0 901.0 934.5 900.7 935.0 901.0 935.5 901.2 936.0 900.8 936.5 899.8 937.0 900.9 937.5 900.9 938.0 900.2 938.5 901.2 939.0 900.3 939.5 900.2 940.0 899.5 940.5 901.2 941.0 901.1 941.5 900.7 942.0 900.7 942.5 899.6 943.0 899.7 943.5 900.2 944.0 899.8 944.5 899.2 945.0 899.7 945.5 900.0 946.0 899.4 946.5 900.0 947.0 899.6 947.5 899.1 948.0 898.9 948.5 898.7 949.0 899.4 949.5 898.5 950.0 899.5 950.5 899.4 951.0 898.6 951.5 899.2 952.0 898.8 952.5 899.6 953.0 899.0 953.5 898.5 954.0 898.7 954.5 898.8 955.0 897.7 955.5 897.6 956.0 898.2 956.5 898.8 957.0 897.1 957.5 898.2 958.0 897.7 958.5 897.5 959.0 897.4 959.5 896.7 960.0 896.5 960.5 897.7 961.0 895.9 961.5 896.5 962.0 897.1 962.5 896.4 963.0 896.8 963.5 896.3 964.0 895.8 964.5 896.5 965.0 896.3 965.5 896.0 966.0 896.6 966.5 896.0 967.0 896.0 967.5 895.6 968.0 896.5 968.5 896.3 969.0 895.7 969.5 895.4 970.0 895.1 970.5 895.0 971.0 894.5 971.5 895.6 972.0 894.5 972.5 895.2 973.0 895.0 973.5 894.4 974.0 894.3 974.5 893.7 975.0 894.3 975.5 893.8 976.0 894.6 976.5 893.6 977.0 893.4 977.5 893.8 978.0 892.5 978.5 893.0 979.0 893.6 979.5 892.4 980.0 892.7 980.5 890.5 981.0 891.3 981.5 891.3 982.0 890.5 982.5 891.2 983.0 889.9 983.5 890.1 984.0 890.3 984.5 889.6 985.0 889.2 985.5 888.5 986.0 888.6 986.5 887.9 987.0 888.5 987.5 887.3 988.0 886.5 988.5 887.1 989.0 887.4 989.5 886.4 990.0 885.4 990.5 884.5 991.0 884.5 991.5 884.8 992.0 884.2 992.5 882.5 993.0 882.9 993.5 881.4 994.0 882.0 994.5 882.0 995.0 880.5 995.5 880.7 996.0 879.3 996.5 878.7 997.0 878.6 997.5 878.3 998.0 877.1 998.5 877.4 999.0 876.5 999.5 874.5 1000.0 875.9 1000.5 875.6 1001.0 873.5 1001.5 874.8 1002.0 874.8 1002.5 874.3 1003.0 873.5 1003.5 872.9 1004.0 873.0 1004.5 872.3 1005.0 872.7 1005.5 873.0 1006.0 874.0 1006.5 873.4 1007.0 874.2 1007.5 874.6 1008.0 874.8 1008.5 875.7 1009.0 875.1 1009.5 876.1 1010.0 877.8 1010.5 877.6 1011.0 877.9 1011.5 879.0 1012.0 878.9 1012.5 878.9 1013.0 879.9 1013.5 880.5 1014.0 880.4 1014.5 881.7 1015.0 881.6 1015.5 882.0 1016.0 882.0 1016.5 883.8 1017.0 884.3 1017.5 883.0 1018.0 884.0 1018.5 884.0 1019.0 885.3 1019.5 884.9 1020.0 885.7 1020.5 885.5 1021.0 885.2 1021.5 886.7 1022.0 886.3 1022.5 886.3 1023.0 886.2 1023.5 887.0 1024.0 887.6 1024.5 886.8 1025.0 888.2 1025.5 888.0 1026.0 887.3 1026.5 887.7 1027.0 887.3 1027.5 887.7 1028.0 886.9 1028.5 887.0 1029.0 888.6 1029.5 887.6 1030.0 887.9 1030.5 887.3 1031.0 887.7 1031.5 887.3 1032.0 886.4 1032.5 887.0 1033.0 887.1 1033.5 886.8 1034.0 887.1 1034.5 886.7 1035.0 885.4 1035.5 885.5 1036.0 885.6 1036.5 885.5 1037.0 885.4 1037.5 884.4 1038.0 885.2 1038.5 884.8 1039.0 883.6 1039.5 883.2 1040.0 883.4 1040.5 883.4 1041.0 882.7 1041.5 882.3 1042.0 881.8 1042.5 881.5 1043.0 881.4 1043.5 880.9 1044.0 879.3 1044.5 879.9 1045.0 879.6 1045.5 878.0 1046.0 878.5 1046.5 877.1 1047.0 876.1 1047.5 876.8 1048.0 875.4 1048.5 874.9 1049.0 875.2 1049.5 874.3 1050.0 872.9 1050.5 872.2 1051.0 872.0 1051.5 871.5 1052.0 871.4 1052.5 869.2 1053.0 870.6 1053.5 871.2 1054.0 871.6 1054.5 872.5 1055.0 873.3 1055.5 872.7 1056.0 873.2 1056.5 874.2 1057.0 874.9 1057.5 875.5 1058.0 876.5 1058.5 878.3 1059.0 877.6 1059.5 878.8 1060.0 880.3 1060.5 881.0 1061.0 882.1 1061.5 883.6 1062.0 884.8 1062.5 885.4 1063.0 887.3 1063.5 888.6 1064.0 889.7 1064.5 891.0 1065.0 890.6 1065.5 892.5 1066.0 892.7 1066.5 893.6 1067.0 894.1 1067.5 894.2 1068.0 895.4 1068.5 896.5 1069.0 896.1 1069.5 897.0 1070.0 896.3 1070.5 896.6 1071.0 897.2 1071.5 897.1 1072.0 897.2 1072.5 898.0 1073.0 898.1 1073.5 898.4 1074.0 898.1 1074.5 898.1 1075.0 898.1 1075.5 898.8 1076.0 898.4 1076.5 899.3 1077.0 899.4 1077.5 900.1 1078.0 899.0 1078.5 900.0 1079.0 898.8 1079.5 900.2 1080.0 900.0 1080.5 900.4 1081.0 898.8 1081.5 900.5 1082.0 899.7 1082.5 899.7 1083.0 899.1 1083.5 899.6 1084.0 900.6 1084.5 900.9 1085.0 900.4 1085.5 899.9 1086.0 900.5 1086.5 899.6 1087.0 900.4 1087.5 900.4 1088.0 901.2 1088.5 900.0 1089.0 900.7 1089.5 901.1 1090.0 901.4 1090.5 900.5 1091.0 900.8 1091.5 899.8 1092.0 901.1 1092.5 900.6 1093.0 900.8 1093.5 900.3 1094.0 901.3 1094.5 900.4 1095.0 900.0 1095.5 901.1 1096.0 900.9 1096.5 900.6 1097.0 900.1 1097.5 900.5 1098.0 900.9 1098.5 900.6 1099.0 900.7 1099.5 901.3 1100.0 900.4 1100.5 901.1 1101.0 900.5 1101.5 900.3 1102.0 901.3 1102.5 901.2 1103.0 900.5 1103.5 900.3 1104.0 901.2 1104.5 900.7 1105.0 899.7 1105.5 900.4 1106.0 900.7 1106.5 900.1 1107.0 900.8 1107.5 900.1 1108.0 900.7 1108.5 900.5 1109.0 900.8 1109.5 900.8 1110.0 900.7 1110.5 900.2 1111.0 901.5 1111.5 900.7 1112.0 900.5 1112.5 901.9 1113.0 900.8 1113.5 901.6 1114.0 899.8 1114.5 900.9 1115.0 900.6 1115.5 900.2 1116.0 901.0 1116.5 900.1 1117.0 900.5 1117.5 900.3 1118.0 901.2 1118.5 900.1 1119.0 900.9 1119.5 901.0 1120.0 900.1 1120.5 902.6 1121.0 901.1 1121.5 901.1 1122.0 901.1 1122.5 900.4 1123.0 900.4 1123.5 899.6 1124.0 900.5 1124.5 900.7 1125.0 901.2 1125.5 901.1 1126.0 901.3 1126.5 901.2 1127.0 901.5 1127.5 901.7 1128.0 901.8 1128.5 902.1 1129.0 900.8 1129.5 901.2 1130.0 901.6 1130.5 901.2 1131.0 900.9 1131.5 901.1 1132.0 901.0 1132.5 900.9 1133.0 901.9 1133.5 901.6 1134.0 900.6 1134.5 901.0 1135.0 901.9 1135.5 900.7 1136.0 901.1 1136.5 900.6 1137.0 900.2 1137.5 900.5 1138.0 900.8 1138.5 901.4 1139.0 900.5 1139.5 901.5 1140.0 900.8 1140.5 901.0 1141.0 900.6 1141.5 900.1 1142.0 901.1 1142.5 900.6 1143.0 900.9 1143.5 900.8 1144.0 900.0 1144.5 900.6 1145.0 900.9 1145.5 901.0 1146.0 901.1 1146.5 901.0 1147.0 900.6 1147.5 901.0 1148.0 900.5 1148.5 900.8 1149.0 900.9 1149.5 900.7 1150.0 901.5 1150.5 900.2 1151.0 899.8 1151.5 901.0 1152.0 900.5 1152.5 901.1 1153.0 901.0 1153.5 901.2 1154.0 900.9 1154.5 901.1 1155.0 902.1 1155.5 901.9 1156.0 900.9 1156.5 901.2 1157.0 901.9 1157.5 901.2 1158.0 900.7 1158.5 901.3 1159.0 901.3 1159.5 900.8 1160.0 901.1 1160.5 900.7 1161.0 901.6 1161.5 901.8 1162.0 900.9 1162.5 900.6 1163.0 901.4 1163.5 901.2 1164.0 901.1 1164.5 900.8 1165.0 901.0 1165.5 900.9 1166.0 901.1 1166.5 901.5 1167.0 901.3 1167.5 902.4 1168.0 901.4 1168.5 901.4 1169.0 901.5 1169.5 901.9 1170.0 902.0 1170.5 901.0 1171.0 901.0 1171.5 900.8 1172.0 901.3 1172.5 901.5 1173.0 902.1 1173.5 902.0 1174.0 900.8 1174.5 900.0 1175.0 900.1 1175.5 900.6 1176.0 901.2 1176.5 901.5 1177.0 900.5 1177.5 901.4 1178.0 901.4 1178.5 900.0 1179.0 900.5 1179.5 902.1 1180.0 901.1 1180.5 901.2 1181.0 903.0 1181.5 901.6 1182.0 901.6 1182.5 900.5 1183.0 901.5 1183.5 901.6 1184.0 901.1 1184.5 902.0 1185.0 900.9 1185.5 902.1 1186.0 901.5 1186.5 901.0 1187.0 901.6 1187.5 901.9 1188.0 901.6 1188.5 900.6 1189.0 901.8 1189.5 901.2 1190.0 901.6 1190.5 901.5 1191.0 900.8 1191.5 901.4 1192.0 900.7 1192.5 901.8 1193.0 901.0 1193.5 901.6 1194.0 901.2 1194.5 900.7 1195.0 901.6 1195.5 900.3 1196.0 901.5 1196.5 900.8 1197.0 900.9 1197.5 900.7 1198.0 900.3 1198.5 901.0 1199.0 900.3 1199.5 899.5 1200.0 900.9 1200.5 900.2 1201.0 901.5 1201.5 900.9 1202.0 901.1 1202.5 900.6 1203.0 901.4 1203.5 900.6 1204.0 900.4 1204.5 900.2 1205.0 900.7 1205.5 901.7 1206.0 901.5 1206.5 901.2 1207.0 900.9 1207.5 901.2 1208.0 901.9 1208.5 901.6 1209.0 901.5 1209.5 902.0 1210.0 901.0 1210.5 901.1 1211.0 900.2 1211.5 900.6 1212.0 900.6 1212.5 900.8 1213.0 901.0 1213.5 900.7 1214.0 901.1 1214.5 901.4 1215.0 900.8 1215.5 901.1 1216.0 901.2 1216.5 900.4 1217.0 901.8 1217.5 900.9 1218.0 901.2 1218.5 900.3 1219.0 901.3 1219.5 901.3 1220.0 901.2 1220.5 901.0 1221.0 901.6 1221.5 900.7 1222.0 901.7 1222.5 901.8 1223.0 901.9 1223.5 902.1 1224.0 901.5 1224.5 901.4 1225.0 901.6 1225.5 901.4 1226.0 900.8 1226.5 901.2 1227.0 900.8 1227.5 901.2 1228.0 901.3 1228.5 901.4 1229.0 901.5 1229.5 901.6 1230.0 901.0 1230.5 901.9 1231.0 901.5 1231.5 902.7 1232.0 901.5 1232.5 900.1 1233.0 902.1" fill="none" stroke="#a06c24" stroke-width="3.3" stroke-linejoin="round"/>
<path d="M755.5 963.5 756.0 962.4 756.5 963.4 757.0 962.2 757.5 961.6 758.0 961.4 758.5 961.6 759.0 961.6 759.5 960.6 760.0 960.9 760.5 960.9 761.0 961.2 761.5 960.3 762.0 961.4 762.5 960.6 763.0 960.5 763.5 960.0 764.0 960.6 764.5 959.1 765.0 960.4 765.5 959.5 766.0 960.3 766.5 961.2 767.0 960.9 767.5 961.5 768.0 962.1 768.5 962.2 769.0 963.9 769.5 963.3 770.0 964.2 770.5 964.3 771.0 964.4 771.5 965.1 772.0 965.8 772.5 965.2 773.0 966.3 773.5 965.7 774.0 966.3 774.5 965.9 775.0 966.8 775.5 965.9 776.0 965.6 776.5 966.0 777.0 966.5 777.5 966.4 778.0 966.0 778.5 967.3 779.0 967.0 779.5 966.2 780.0 966.3 780.5 966.5 781.0 967.0 781.5 967.0 782.0 967.2 782.5 967.2 783.0 965.7 783.5 966.3 784.0 965.9 784.5 966.8 785.0 966.6 785.5 966.0 786.0 966.0 786.5 965.7 787.0 965.6 787.5 967.2 788.0 966.3 788.5 965.8 789.0 965.9 789.5 965.1 790.0 966.7 790.5 966.5 791.0 965.4 791.5 965.7 792.0 966.5 792.5 966.2 793.0 966.3 793.5 965.2 794.0 965.7 794.5 965.7 795.0 967.0 795.5 966.7 796.0 965.9 796.5 966.3 797.0 965.6 797.5 966.4 798.0 965.9 798.5 966.4 799.0 966.0 799.5 965.9 800.0 966.6 800.5 966.3 801.0 966.6 801.5 966.1 802.0 966.0 802.5 966.9 803.0 965.7 803.5 966.1 804.0 966.7 804.5 965.5 805.0 966.2 805.5 965.5 806.0 965.8 806.5 966.5 807.0 966.6 807.5 965.4 808.0 965.2 808.5 964.7 809.0 964.8 809.5 965.7 810.0 965.1 810.5 963.6 811.0 963.7 811.5 964.3 812.0 963.5 812.5 963.1 813.0 962.7 813.5 962.8 814.0 962.2 814.5 961.7 815.0 960.1 815.5 961.0 816.0 960.2 816.5 958.9 817.0 959.0 817.5 958.8 818.0 957.1 818.5 957.0 819.0 956.0 819.5 955.8 820.0 955.2 820.5 954.4 821.0 953.3 821.5 952.3 822.0 952.8 822.5 950.3 823.0 949.5 823.5 947.4 824.0 947.1 824.5 946.0 825.0 944.2 825.5 943.0 826.0 941.5 826.5 939.7 827.0 938.0 827.5 936.6 828.0 935.8 828.5 934.1 829.0 932.8 829.5 930.8 830.0 930.0 830.5 928.8 831.0 928.5 831.5 927.6 832.0 927.6 832.5 926.1 833.0 925.3 833.5 924.4 834.0 923.3 834.5 922.6 835.0 922.0 835.5 921.5 836.0 920.5 836.5 919.7 837.0 920.5 837.5 921.7 838.0 921.4 838.5 921.4 839.0 922.6 839.5 923.0 840.0 922.9 840.5 923.5 841.0 922.8 841.5 924.8 842.0 923.1 842.5 922.8 843.0 923.5 843.5 922.8 844.0 922.9 844.5 922.0 845.0 921.0 845.5 920.8 846.0 920.0 846.5 920.8 847.0 919.4 847.5 918.1 848.0 917.1 848.5 915.7 849.0 916.3 849.5 913.1 850.0 912.8 850.5 911.3 851.0 908.3 851.5 908.0 852.0 905.7 852.5 903.5 853.0 899.9 853.5 899.5 854.0 897.1 854.5 893.6 855.0 890.1 855.5 886.3 856.0 882.3 856.5 879.7 857.0 876.6 857.5 873.6 858.0 870.3 858.5 867.3 859.0 862.7 859.5 859.3 860.0 864.1 860.5 867.5 861.0 872.5 861.5 876.5 862.0 882.6 862.5 886.5 863.0 890.2 863.5 894.6 864.0 898.7 864.5 900.6 865.0 904.4 865.5 907.5 866.0 910.9 866.5 914.7 867.0 917.5 867.5 919.7 868.0 922.7 868.5 924.9 869.0 927.3 869.5 930.6 870.0 932.3 870.5 934.1 871.0 936.7 871.5 938.2 872.0 940.4 872.5 941.4 873.0 944.0 873.5 946.2 874.0 947.6 874.5 949.3 875.0 950.4 875.5 952.6 876.0 953.5 876.5 954.3 877.0 956.0 877.5 957.2 878.0 957.8 878.5 958.0 879.0 959.4 879.5 960.4 880.0 960.1 880.5 960.9 881.0 961.4 881.5 961.5 882.0 961.1 882.5 962.3 883.0 962.4 883.5 962.5 884.0 962.4 884.5 962.6 885.0 962.8 885.5 963.2 886.0 962.7 886.5 964.4 887.0 964.6 887.5 964.6 888.0 964.4 888.5 964.0 889.0 964.4 889.5 965.6 890.0 966.1 890.5 965.4 891.0 966.3 891.5 965.9 892.0 965.3 892.5 965.3 893.0 966.0 893.5 964.9 894.0 966.5 894.5 965.7 895.0 966.7 895.5 966.5 896.0 967.3 896.5 966.9 897.0 966.8 897.5 966.8 898.0 966.7 898.5 966.6 899.0 967.0 899.5 965.0 900.0 966.5 900.5 966.2 901.0 966.3 901.5 966.5 902.0 966.7 902.5 966.2 903.0 966.5 903.5 966.4 904.0 967.0 904.5 966.8 905.0 965.3 905.5 966.4 906.0 965.8 906.5 966.0 907.0 965.6 907.5 966.9 908.0 966.6 908.5 966.0 909.0 966.0 909.5 966.4 910.0 966.2 910.5 966.4 911.0 966.9 911.5 965.6 912.0 965.3 912.5 965.9 913.0 966.4 913.5 965.2 914.0 965.9 914.5 965.7 915.0 965.3 915.5 965.5 916.0 965.3 916.5 965.0 917.0 964.0 917.5 965.7 918.0 965.4 918.5 965.7 919.0 965.9 919.5 965.3 920.0 966.0 920.5 965.1 921.0 965.1 921.5 966.4 922.0 965.1 922.5 965.3 923.0 965.9 923.5 964.7 924.0 965.2 924.5 964.4 925.0 964.8 925.5 964.6 926.0 964.5 926.5 965.2 927.0 964.4 927.5 965.1 928.0 964.1 928.5 965.2 929.0 964.3 929.5 964.7 930.0 964.7 930.5 963.6 931.0 964.7 931.5 963.9 932.0 963.8 932.5 964.5 933.0 963.2 933.5 964.2 934.0 964.8 934.5 963.2 935.0 962.8 935.5 963.6 936.0 963.1 936.5 962.5 937.0 962.2 937.5 962.2 938.0 962.0 938.5 961.9 939.0 962.6 939.5 962.8 940.0 962.1 940.5 962.6 941.0 961.3 941.5 961.9 942.0 961.6 942.5 960.9 943.0 960.6 943.5 960.3 944.0 960.8 944.5 960.9 945.0 960.2 945.5 960.4 946.0 959.9 946.5 960.2 947.0 959.7 947.5 959.1 948.0 958.4 948.5 958.8 949.0 959.4 949.5 957.5 950.0 958.9 950.5 956.7 951.0 957.3 951.5 956.6 952.0 957.6 952.5 956.6 953.0 956.9 953.5 957.3 954.0 955.6 954.5 957.1 955.0 956.0 955.5 955.0 956.0 955.3 956.5 955.0 957.0 955.3 957.5 953.9 958.0 954.1 958.5 954.6 959.0 952.9 959.5 953.1 960.0 953.0 960.5 952.6 961.0 953.1 961.5 951.5 962.0 951.7 962.5 952.4 963.0 951.5 963.5 951.0 964.0 951.0 964.5 950.7 965.0 950.7 965.5 951.0 966.0 950.4 966.5 949.9 967.0 949.8 967.5 948.4 968.0 948.8 968.5 949.4 969.0 948.5 969.5 948.2 970.0 949.5 970.5 948.2 971.0 947.9 971.5 946.3 972.0 946.9 972.5 946.6 973.0 945.7 973.5 946.1 974.0 945.4 974.5 945.2 975.0 944.8 975.5 945.3 976.0 944.4 976.5 944.1 977.0 942.9 977.5 942.4 978.0 942.6 978.5 941.5 979.0 942.0 979.5 940.4 980.0 939.9 980.5 938.7 981.0 938.3 981.5 937.1 982.0 936.9 982.5 936.7 983.0 935.5 983.5 935.6 984.0 935.5 984.5 934.2 985.0 933.1 985.5 931.7 986.0 930.5 986.5 929.2 987.0 928.5 987.5 926.4 988.0 926.2 988.5 923.7 989.0 922.9 989.5 921.6 990.0 919.3 990.5 918.6 991.0 917.8 991.5 916.1 992.0 914.9 992.5 912.3 993.0 911.6 993.5 909.9 994.0 909.1 994.5 906.7 995.0 906.6 995.5 904.0 996.0 903.1 996.5 901.8 997.0 900.0 997.5 900.1 998.0 897.9 998.5 896.1 999.0 895.5 999.5 894.4 1000.0 893.5 1000.5 892.7 1001.0 891.6 1001.5 890.5 1002.0 890.3 1002.5 889.3 1003.0 887.9 1003.5 886.8 1004.0 886.8 1004.5 886.5 1005.0 885.8 1005.5 885.2 1006.0 887.1 1006.5 887.2 1007.0 888.2 1007.5 888.7 1008.0 890.7 1008.5 890.3 1009.0 892.2 1009.5 892.8 1010.0 893.3 1010.5 895.2 1011.0 897.6 1011.5 899.0 1012.0 900.9 1012.5 903.4 1013.0 904.3 1013.5 905.1 1014.0 907.6 1014.5 908.4 1015.0 911.1 1015.5 912.9 1016.0 913.4 1016.5 913.9 1017.0 914.7 1017.5 916.8 1018.0 917.6 1018.5 918.4 1019.0 919.1 1019.5 920.4 1020.0 921.6 1020.5 921.8 1021.0 922.7 1021.5 922.3 1022.0 923.1 1022.5 924.0 1023.0 924.6 1023.5 924.5 1024.0 925.2 1024.5 925.8 1025.0 925.3 1025.5 925.7 1026.0 926.1 1026.5 926.9 1027.0 925.7 1027.5 926.1 1028.0 925.4 1028.5 924.9 1029.0 924.5 1029.5 925.2 1030.0 924.7 1030.5 924.8 1031.0 923.6 1031.5 923.5 1032.0 924.3 1032.5 924.4 1033.0 923.4 1033.5 924.1 1034.0 924.3 1034.5 923.0 1035.0 923.8 1035.5 922.8 1036.0 922.2 1036.5 920.6 1037.0 920.4 1037.5 920.5 1038.0 919.3 1038.5 919.0 1039.0 917.2 1039.5 916.5 1040.0 916.0 1040.5 915.2 1041.0 913.6 1041.5 912.7 1042.0 910.3 1042.5 910.1 1043.0 907.8 1043.5 906.6 1044.0 905.4 1044.5 903.6 1045.0 902.4 1045.5 900.7 1046.0 899.3 1046.5 897.0 1047.0 895.3 1047.5 893.5 1048.0 892.4 1048.5 890.5 1049.0 888.2 1049.5 887.7 1050.0 885.0 1050.5 883.9 1051.0 883.9 1051.5 881.5 1052.0 880.3 1052.5 878.9 1053.0 879.0 1053.5 881.7 1054.0 882.3 1054.5 884.1 1055.0 885.6 1055.5 886.8 1056.0 888.6 1056.5 889.8 1057.0 891.3 1057.5 893.4 1058.0 895.8 1058.5 897.5 1059.0 900.5 1059.5 902.8 1060.0 906.4 1060.5 909.6 1061.0 913.0 1061.5 915.9 1062.0 920.2 1062.5 923.1 1063.0 926.3 1063.5 931.0 1064.0 933.7 1064.5 937.3 1065.0 939.4 1065.5 941.3 1066.0 944.3 1066.5 945.7 1067.0 948.4 1067.5 948.6 1068.0 950.2 1068.5 951.9 1069.0 951.2 1069.5 953.3 1070.0 954.0 1070.5 954.8 1071.0 956.3 1071.5 957.2 1072.0 956.2 1072.5 957.4 1073.0 957.6 1073.5 957.5 1074.0 958.3 1074.5 959.6 1075.0 959.0 1075.5 959.7 1076.0 960.4 1076.5 960.5 1077.0 961.1 1077.5 961.4 1078.0 961.9 1078.5 962.0 1079.0 961.5 1079.5 962.2 1080.0 962.8 1080.5 963.2 1081.0 963.0 1081.5 963.7 1082.0 963.0 1082.5 964.8 1083.0 963.7 1083.5 963.9 1084.0 963.8 1084.5 964.3 1085.0 964.5 1085.5 964.6 1086.0 964.2 1086.5 965.2 1087.0 964.9 1087.5 964.0 1088.0 965.0 1088.5 964.4 1089.0 964.2 1089.5 965.1 1090.0 964.3 1090.5 964.7 1091.0 964.2 1091.5 964.6 1092.0 965.6 1092.5 964.9 1093.0 965.2 1093.5 965.3 1094.0 964.5 1094.5 965.7 1095.0 965.2 1095.5 965.0 1096.0 965.6 1096.5 965.7 1097.0 965.0 1097.5 965.4 1098.0 964.8 1098.5 964.8 1099.0 965.4 1099.5 965.2 1100.0 965.3 1100.5 964.9 1101.0 965.1 1101.5 965.6 1102.0 965.3 1102.5 965.6 1103.0 966.1 1103.5 964.9 1104.0 965.2 1104.5 966.2 1105.0 964.6 1105.5 965.4 1106.0 966.2 1106.5 966.1 1107.0 965.2 1107.5 965.7 1108.0 965.1 1108.5 965.8 1109.0 966.0 1109.5 965.9 1110.0 966.3 1110.5 965.5 1111.0 965.7 1111.5 966.1 1112.0 965.4 1112.5 965.6 1113.0 965.8 1113.5 964.8 1114.0 965.0 1114.5 965.5 1115.0 965.0 1115.5 965.1 1116.0 964.8 1116.5 965.0 1117.0 965.0 1117.5 965.1 1118.0 964.3 1118.5 964.9 1119.0 965.4 1119.5 964.2 1120.0 965.2 1120.5 964.9 1121.0 965.2 1121.5 966.0 1122.0 965.9 1122.5 965.5 1123.0 966.0 1123.5 964.4 1124.0 965.6 1124.5 965.2 1125.0 964.9 1125.5 966.4 1126.0 964.8 1126.5 965.1 1127.0 965.0 1127.5 966.2 1128.0 965.6 1128.5 965.4 1129.0 964.8 1129.5 966.4 1130.0 965.1 1130.5 964.5 1131.0 964.9 1131.5 965.0 1132.0 965.8 1132.5 965.7 1133.0 964.3 1133.5 965.2 1134.0 965.8 1134.5 965.5 1135.0 965.2 1135.5 965.1 1136.0 965.6 1136.5 965.0 1137.0 965.1 1137.5 965.1 1138.0 965.3 1138.5 965.5 1139.0 966.2 1139.5 965.2 1140.0 966.6 1140.5 965.1 1141.0 965.1 1141.5 965.8 1142.0 965.3 1142.5 965.1 1143.0 965.7 1143.5 964.6 1144.0 965.6 1144.5 965.0 1145.0 965.2 1145.5 965.0 1146.0 963.8 1146.5 964.4 1147.0 964.9 1147.5 965.4 1148.0 964.8 1148.5 965.4 1149.0 965.3 1149.5 964.7 1150.0 966.3 1150.5 964.5 1151.0 964.8 1151.5 965.0 1152.0 965.5 1152.5 964.8 1153.0 965.1 1153.5 965.2 1154.0 965.0 1154.5 964.8 1155.0 965.7 1155.5 965.1 1156.0 965.5 1156.5 965.4 1157.0 964.4 1157.5 965.7 1158.0 965.6 1158.5 965.0 1159.0 964.9 1159.5 964.7 1160.0 965.2 1160.5 964.5 1161.0 964.5 1161.5 965.4 1162.0 964.2 1162.5 966.1 1163.0 965.1 1163.5 964.7 1164.0 964.4 1164.5 965.5 1165.0 965.2 1165.5 963.5 1166.0 963.8 1166.5 964.3 1167.0 964.5 1167.5 963.7 1168.0 964.6 1168.5 964.4 1169.0 964.6 1169.5 964.8 1170.0 965.4 1170.5 964.2 1171.0 964.8 1171.5 964.2 1172.0 964.8 1172.5 964.5 1173.0 964.4 1173.5 965.4 1174.0 964.2 1174.5 964.9 1175.0 964.4 1175.5 964.2 1176.0 964.5 1176.5 964.4 1177.0 964.2 1177.5 964.7 1178.0 964.3 1178.5 964.1 1179.0 964.0 1179.5 964.9 1180.0 965.0 1180.5 964.6 1181.0 964.2 1181.5 964.9 1182.0 964.3 1182.5 963.6 1183.0 964.6 1183.5 963.5 1184.0 963.7 1184.5 964.3 1185.0 963.4 1185.5 964.3 1186.0 964.7 1186.5 965.0 1187.0 964.1 1187.5 965.6 1188.0 965.0 1188.5 963.7 1189.0 964.3 1189.5 963.6 1190.0 964.3 1190.5 965.4 1191.0 964.8 1191.5 964.9 1192.0 963.7 1192.5 963.5 1193.0 964.3 1193.5 963.7 1194.0 963.1 1194.5 964.0 1195.0 964.0 1195.5 963.9 1196.0 962.6 1196.5 963.2 1197.0 963.1 1197.5 962.7 1198.0 963.4 1198.5 963.8 1199.0 963.6 1199.5 962.9 1200.0 963.6 1200.5 963.4 1201.0 962.4 1201.5 962.3 1202.0 963.3 1202.5 963.8 1203.0 963.9 1203.5 963.4 1204.0 963.2 1204.5 962.5 1205.0 964.5 1205.5 964.0 1206.0 963.3 1206.5 963.0 1207.0 963.4 1207.5 962.3 1208.0 963.1 1208.5 964.3 1209.0 963.8 1209.5 962.1 1210.0 963.5 1210.5 963.0 1211.0 962.2 1211.5 962.5 1212.0 963.0 1212.5 963.1 1213.0 962.6 1213.5 962.4 1214.0 963.3 1214.5 962.6 1215.0 963.0 1215.5 963.5 1216.0 963.1 1216.5 962.6 1217.0 963.3 1217.5 963.1 1218.0 962.6 1218.5 962.6 1219.0 962.8 1219.5 961.9 1220.0 963.4 1220.5 962.0 1221.0 962.5 1221.5 962.2 1222.0 962.2 1222.5 963.0 1223.0 962.2 1223.5 961.2 1224.0 962.2 1224.5 962.2 1225.0 962.6 1225.5 963.2 1226.0 962.8 1226.5 962.7 1227.0 962.2 1227.5 961.6 1228.0 962.4 1228.5 961.9 1229.0 962.5 1229.5 962.1 1230.0 962.1 1230.5 962.0 1231.0 961.3 1231.5 960.7 1232.0 961.7 1232.5 962.3 1233.0 961.5" fill="none" stroke="#3065a3" stroke-width="3.3" stroke-linejoin="round"/>
<path d="M755.5 1017.0 756.0 1017.4 756.5 1017.6 757.0 1017.6 757.5 1018.4 758.0 1018.1 758.5 1018.4 759.0 1018.2 759.5 1017.7 760.0 1018.1 760.5 1018.5 761.0 1018.2 761.5 1018.1 762.0 1017.8 762.5 1019.2 763.0 1018.2 763.5 1018.3 764.0 1018.3 764.5 1019.3 765.0 1019.4 765.5 1019.0 766.0 1019.4 766.5 1019.6 767.0 1019.4 767.5 1019.1 768.0 1019.5 768.5 1019.7 769.0 1019.2 769.5 1019.3 770.0 1020.0 770.5 1020.3 771.0 1020.3 771.5 1020.1 772.0 1020.6 772.5 1019.8 773.0 1020.0 773.5 1019.9 774.0 1020.7 774.5 1020.1 775.0 1020.1 775.5 1021.1 776.0 1020.0 776.5 1019.6 777.0 1020.9 777.5 1021.1 778.0 1020.3 778.5 1020.2 779.0 1020.4 779.5 1020.6 780.0 1021.2 780.5 1021.2 781.0 1019.9 781.5 1021.1 782.0 1019.9 782.5 1020.4 783.0 1020.3 783.5 1020.1 784.0 1019.8 784.5 1021.5 785.0 1020.3 785.5 1020.9 786.0 1020.0 786.5 1020.6 787.0 1020.0 787.5 1020.5 788.0 1020.6 788.5 1019.9 789.0 1020.1 789.5 1020.6 790.0 1020.8 790.5 1020.8 791.0 1020.2 791.5 1019.9 792.0 1020.1 792.5 1020.8 793.0 1020.7 793.5 1019.4 794.0 1018.9 794.5 1019.5 795.0 1019.9 795.5 1020.0 796.0 1019.1 796.5 1019.4 797.0 1019.7 797.5 1018.9 798.0 1019.7 798.5 1020.0 799.0 1019.9 799.5 1020.1 800.0 1019.2 800.5 1018.5 801.0 1019.9 801.5 1019.4 802.0 1019.6 802.5 1018.8 803.0 1018.0 803.5 1018.2 804.0 1018.2 804.5 1017.9 805.0 1018.3 805.5 1018.2 806.0 1017.9 806.5 1017.2 807.0 1017.0 807.5 1017.9 808.0 1017.8 808.5 1017.3 809.0 1018.4 809.5 1017.1 810.0 1017.6 810.5 1017.4 811.0 1016.8 811.5 1017.6 812.0 1017.1 812.5 1016.9 813.0 1016.0 813.5 1016.0 814.0 1015.6 814.5 1016.0 815.0 1015.8 815.5 1016.0 816.0 1014.6 816.5 1015.2 817.0 1014.9 817.5 1015.1 818.0 1013.3 818.5 1014.6 819.0 1013.4 819.5 1013.6 820.0 1013.0 820.5 1012.5 821.0 1013.1 821.5 1012.7 822.0 1012.4 822.5 1011.7 823.0 1010.4 823.5 1011.1 824.0 1010.6 824.5 1010.7 825.0 1009.8 825.5 1008.9 826.0 1008.8 826.5 1007.8 827.0 1007.7 827.5 1007.5 828.0 1007.3 828.5 1006.7 829.0 1006.0 829.5 1006.2 830.0 1006.2 830.5 1005.8 831.0 1005.6 831.5 1004.9 832.0 1005.0 832.5 1004.0 833.0 1003.1 833.5 1003.5 834.0 1003.9 834.5 1002.3 835.0 1002.1 835.5 1004.0 836.0 1002.8 836.5 1003.8 837.0 1003.3 837.5 1004.2 838.0 1003.3 838.5 1003.5 839.0 1004.1 839.5 1004.1 840.0 1004.7 840.5 1005.2 841.0 1004.2 841.5 1004.3 842.0 1003.9 842.5 1003.7 843.0 1004.0 843.5 1003.2 844.0 1003.1 844.5 1002.9 845.0 1001.2 845.5 1001.3 846.0 1000.8 846.5 1000.2 847.0 1000.2 847.5 999.2 848.0 998.4 848.5 997.3 849.0 998.1 849.5 995.3 850.0 995.2 850.5 995.4 851.0 995.6 851.5 994.4 852.0 994.5 852.5 993.6 853.0 994.0 853.5 993.3 854.0 993.3 854.5 992.5 855.0 992.2 855.5 992.2 856.0 991.2 856.5 992.0 857.0 992.1 857.5 991.4 858.0 992.1 858.5 991.9 859.0 991.3 859.5 992.2 860.0 991.2 860.5 991.9 861.0 991.1 861.5 991.9 862.0 991.7 862.5 993.2 863.0 993.2 863.5 993.7 864.0 995.0 864.5 995.6 865.0 996.3 865.5 996.0 866.0 997.2 866.5 996.6 867.0 997.7 867.5 999.0 868.0 999.5 868.5 1000.2 869.0 1001.7 869.5 1003.0 870.0 1002.9 870.5 1004.5 871.0 1004.5 871.5 1005.1 872.0 1006.8 872.5 1007.6 873.0 1007.6 873.5 1009.4 874.0 1010.6 874.5 1010.2 875.0 1011.7 875.5 1013.1 876.0 1013.3 876.5 1014.1 877.0 1015.7 877.5 1016.6 878.0 1016.3 878.5 1016.3 879.0 1016.5 879.5 1015.9 880.0 1017.0 880.5 1017.4 881.0 1017.7 881.5 1018.5 882.0 1017.0 882.5 1017.9 883.0 1017.6 883.5 1017.5 884.0 1018.1 884.5 1017.7 885.0 1017.3 885.5 1018.1 886.0 1017.5 886.5 1018.0 887.0 1018.2 887.5 1018.1 888.0 1017.5 888.5 1018.3 889.0 1018.3 889.5 1017.3 890.0 1017.1 890.5 1016.2 891.0 1017.3 891.5 1016.7 892.0 1017.2 892.5 1017.3 893.0 1017.8 893.5 1017.0 894.0 1016.9 894.5 1017.5 895.0 1017.1 895.5 1017.2 896.0 1017.3 896.5 1016.7 897.0 1018.0 897.5 1017.2 898.0 1017.9 898.5 1017.9 899.0 1016.9 899.5 1016.6 900.0 1017.8 900.5 1018.1 901.0 1017.3 901.5 1017.4 902.0 1017.2 902.5 1017.7 903.0 1016.8 903.5 1017.6 904.0 1018.2 904.5 1018.1 905.0 1017.3 905.5 1018.6 906.0 1017.4 906.5 1018.1 907.0 1017.4 907.5 1017.8 908.0 1017.5 908.5 1017.7 909.0 1018.1 909.5 1016.8 910.0 1017.0 910.5 1017.4 911.0 1016.4 911.5 1017.1 912.0 1017.1 912.5 1017.1 913.0 1017.3 913.5 1017.5 914.0 1017.1 914.5 1016.8 915.0 1017.3 915.5 1016.5 916.0 1017.7 916.5 1017.8 917.0 1018.0 917.5 1018.7 918.0 1017.0 918.5 1017.7 919.0 1016.8 919.5 1017.3 920.0 1016.8 920.5 1017.8 921.0 1017.8 921.5 1016.9 922.0 1017.7 922.5 1017.6 923.0 1018.0 923.5 1016.9 924.0 1018.1 924.5 1018.0 925.0 1017.8 925.5 1018.3 926.0 1018.1 926.5 1017.9 927.0 1018.1 927.5 1018.5 928.0 1018.6 928.5 1017.8 929.0 1017.8 929.5 1016.6 930.0 1017.8 930.5 1016.4 931.0 1017.7 931.5 1018.1 932.0 1017.3 932.5 1017.8 933.0 1017.4 933.5 1018.4 934.0 1017.7 934.5 1018.3 935.0 1017.5 935.5 1017.7 936.0 1016.9 936.5 1016.8 937.0 1018.3 937.5 1018.5 938.0 1017.3 938.5 1017.1 939.0 1017.0 939.5 1017.3 940.0 1016.9 940.5 1017.5 941.0 1016.8 941.5 1016.8 942.0 1016.2 942.5 1016.7 943.0 1015.5 943.5 1015.0 944.0 1015.3 944.5 1015.2 945.0 1015.1 945.5 1014.7 946.0 1014.1 946.5 1014.1 947.0 1015.4 947.5 1013.0 948.0 1013.1 948.5 1013.0 949.0 1012.7 949.5 1012.8 950.0 1012.5 950.5 1011.9 951.0 1010.4 951.5 1010.2 952.0 1010.7 952.5 1010.9 953.0 1010.9 953.5 1010.1 954.0 1009.4 954.5 1010.0 955.0 1009.2 955.5 1009.7 956.0 1008.9 956.5 1008.0 957.0 1008.8 957.5 1007.5 958.0 1007.2 958.5 1006.4 959.0 1006.3 959.5 1005.7 960.0 1005.9 960.5 1005.2 961.0 1005.9 961.5 1005.2 962.0 1004.1 962.5 1004.6 963.0 1003.7 963.5 1004.6 964.0 1003.9 964.5 1003.0 965.0 1001.9 965.5 1002.4 966.0 1002.4 966.5 1002.2 967.0 1001.4 967.5 1000.9 968.0 1001.7 968.5 1001.0 969.0 1000.4 969.5 1000.3 970.0 999.5 970.5 999.9 971.0 998.8 971.5 998.5 972.0 997.9 972.5 997.9 973.0 997.2 973.5 996.8 974.0 995.7 974.5 995.3 975.0 995.9 975.5 995.3 976.0 994.4 976.5 993.6 977.0 993.3 977.5 992.9 978.0 992.5 978.5 991.6 979.0 991.1 979.5 991.5 980.0 990.0 980.5 989.1 981.0 989.3 981.5 988.8 982.0 986.6 982.5 986.1 983.0 987.0 983.5 986.1 984.0 983.8 984.5 983.9 985.0 982.8 985.5 981.9 986.0 979.7 986.5 978.8 987.0 978.3 987.5 977.1 988.0 975.8 988.5 974.3 989.0 972.9 989.5 971.6 990.0 969.7 990.5 967.9 991.0 966.4 991.5 965.2 992.0 963.2 992.5 960.8 993.0 959.0 993.5 957.9 994.0 955.5 994.5 953.3 995.0 951.6 995.5 949.6 996.0 947.7 996.5 945.9 997.0 943.4 997.5 940.9 998.0 938.8 998.5 935.8 999.0 934.8 999.5 932.6 1000.0 929.4 1000.5 927.1 1001.0 926.4 1001.5 924.6 1002.0 922.1 1002.5 920.4 1003.0 919.5 1003.5 917.0 1004.0 916.3 1004.5 915.3 1005.0 914.0 1005.5 914.6 1006.0 913.1 1006.5 915.8 1007.0 916.4 1007.5 917.8 1008.0 919.7 1008.5 921.6 1009.0 923.3 1009.5 924.5 1010.0 925.8 1010.5 927.9 1011.0 929.5 1011.5 931.9 1012.0 933.9 1012.5 935.8 1013.0 937.4 1013.5 940.2 1014.0 942.5 1014.5 944.4 1015.0 946.1 1015.5 949.0 1016.0 949.8 1016.5 952.2 1017.0 954.4 1017.5 956.1 1018.0 958.1 1018.5 958.8 1019.0 961.2 1019.5 961.7 1020.0 964.1 1020.5 965.0 1021.0 966.3 1021.5 966.5 1022.0 967.5 1022.5 967.9 1023.0 969.7 1023.5 970.5 1024.0 970.1 1024.5 970.1 1025.0 970.2 1025.5 972.3 1026.0 971.3 1026.5 972.6 1027.0 972.2 1027.5 972.3 1028.0 973.2 1028.5 972.1 1029.0 973.7 1029.5 973.2 1030.0 972.8 1030.5 972.4 1031.0 972.7 1031.5 973.3 1032.0 972.9 1032.5 972.5 1033.0 971.8 1033.5 972.0 1034.0 970.7 1034.5 970.5 1035.0 970.6 1035.5 970.2 1036.0 970.2 1036.5 969.6 1037.0 968.3 1037.5 968.1 1038.0 967.4 1038.5 967.3 1039.0 965.9 1039.5 964.4 1040.0 964.9 1040.5 963.3 1041.0 963.4 1041.5 960.7 1042.0 960.1 1042.5 958.8 1043.0 957.1 1043.5 955.5 1044.0 953.4 1044.5 951.8 1045.0 950.1 1045.5 948.3 1046.0 946.8 1046.5 945.4 1047.0 941.9 1047.5 941.0 1048.0 938.0 1048.5 936.4 1049.0 934.2 1049.5 932.1 1050.0 929.4 1050.5 927.8 1051.0 925.7 1051.5 922.7 1052.0 920.7 1052.5 919.6 1053.0 916.3 1053.5 914.8 1054.0 914.0 1054.5 915.3 1055.0 917.4 1055.5 919.3 1056.0 921.0 1056.5 921.8 1057.0 924.2 1057.5 925.7 1058.0 927.9 1058.5 930.4 1059.0 932.4 1059.5 935.2 1060.0 939.7 1060.5 942.7 1061.0 946.5 1061.5 950.1 1062.0 953.0 1062.5 957.5 1063.0 962.6 1063.5 964.8 1064.0 968.3 1064.5 972.2 1065.0 974.8 1065.5 976.8 1066.0 981.4 1066.5 984.6 1067.0 987.0 1067.5 990.1 1068.0 992.4 1068.5 994.4 1069.0 996.7 1069.5 998.5 1070.0 999.9 1070.5 1001.3 1071.0 1002.6 1071.5 1004.5 1072.0 1005.1 1072.5 1006.1 1073.0 1006.5 1073.5 1007.3 1074.0 1009.2 1074.5 1008.9 1075.0 1009.4 1075.5 1010.1 1076.0 1011.1 1076.5 1012.0 1077.0 1012.4 1077.5 1012.9 1078.0 1013.1 1078.5 1013.2 1079.0 1013.9 1079.5 1014.7 1080.0 1014.6 1080.5 1015.7 1081.0 1014.9 1081.5 1014.5 1082.0 1015.5 1082.5 1016.2 1083.0 1015.8 1083.5 1017.2 1084.0 1015.8 1084.5 1016.3 1085.0 1017.3 1085.5 1018.4 1086.0 1017.3 1086.5 1016.6 1087.0 1018.4 1087.5 1017.5 1088.0 1017.8 1088.5 1017.8 1089.0 1017.7 1089.5 1018.0 1090.0 1018.5 1090.5 1018.1 1091.0 1018.0 1091.5 1017.7 1092.0 1018.6 1092.5 1018.3 1093.0 1018.1 1093.5 1018.9 1094.0 1017.6 1094.5 1017.5 1095.0 1017.9 1095.5 1018.5 1096.0 1018.2 1096.5 1018.0 1097.0 1017.7 1097.5 1017.7 1098.0 1018.2 1098.5 1018.2 1099.0 1017.9 1099.5 1018.3 1100.0 1017.6 1100.5 1017.6 1101.0 1018.1 1101.5 1018.8 1102.0 1018.4 1102.5 1018.5 1103.0 1019.0 1103.5 1018.7 1104.0 1019.5 1104.5 1018.2 1105.0 1018.9 1105.5 1018.1 1106.0 1018.4 1106.5 1019.0 1107.0 1018.8 1107.5 1018.4 1108.0 1018.4 1108.5 1018.8 1109.0 1018.2 1109.5 1018.4 1110.0 1018.6 1110.5 1018.0 1111.0 1018.9 1111.5 1019.2 1112.0 1018.9 1112.5 1018.0 1113.0 1018.5 1113.5 1018.6 1114.0 1018.8 1114.5 1018.1 1115.0 1018.0 1115.5 1018.5 1116.0 1019.2 1116.5 1019.0 1117.0 1018.8 1117.5 1018.1 1118.0 1017.6 1118.5 1017.5 1119.0 1018.4 1119.5 1018.2 1120.0 1018.4 1120.5 1018.1 1121.0 1017.6 1121.5 1018.1 1122.0 1018.7 1122.5 1019.0 1123.0 1018.4 1123.5 1018.0 1124.0 1017.6 1124.5 1017.7 1125.0 1018.7 1125.5 1018.8 1126.0 1018.8 1126.5 1019.4 1127.0 1018.8 1127.5 1018.5 1128.0 1018.5 1128.5 1018.8 1129.0 1019.0 1129.5 1018.5 1130.0 1018.5 1130.5 1019.1 1131.0 1019.0 1131.5 1019.0 1132.0 1018.3 1132.5 1018.9 1133.0 1018.6 1133.5 1018.4 1134.0 1018.2 1134.5 1018.8 1135.0 1017.5 1135.5 1017.2 1136.0 1017.8 1136.5 1017.5 1137.0 1017.6 1137.5 1017.6 1138.0 1017.5 1138.5 1018.1 1139.0 1018.0 1139.5 1017.4 1140.0 1017.5 1140.5 1018.2 1141.0 1018.4 1141.5 1018.7 1142.0 1018.8 1142.5 1018.3 1143.0 1018.4 1143.5 1018.3 1144.0 1018.0 1144.5 1018.1 1145.0 1019.2 1145.5 1017.8 1146.0 1017.4 1146.5 1017.7 1147.0 1017.8 1147.5 1017.8 1148.0 1018.5 1148.5 1019.1 1149.0 1018.5 1149.5 1018.5 1150.0 1018.4 1150.5 1018.5 1151.0 1017.1 1151.5 1018.3 1152.0 1018.7 1152.5 1018.4 1153.0 1018.8 1153.5 1018.4 1154.0 1017.0 1154.5 1017.5 1155.0 1018.2 1155.5 1018.9 1156.0 1017.9 1156.5 1018.4 1157.0 1017.7 1157.5 1017.7 1158.0 1018.2 1158.5 1018.4 1159.0 1018.5 1159.5 1018.7 1160.0 1017.7 1160.5 1018.3 1161.0 1017.0 1161.5 1018.8 1162.0 1018.4 1162.5 1018.5 1163.0 1018.6 1163.5 1017.6 1164.0 1018.3 1164.5 1017.7 1165.0 1017.9 1165.5 1017.8 1166.0 1017.5 1166.5 1017.9 1167.0 1017.4 1167.5 1016.9 1168.0 1017.9 1168.5 1017.6 1169.0 1017.0 1169.5 1017.7 1170.0 1017.9 1170.5 1018.2 1171.0 1018.4 1171.5 1017.4 1172.0 1018.7 1172.5 1017.7 1173.0 1017.3 1173.5 1017.7 1174.0 1018.0 1174.5 1016.7 1175.0 1017.9 1175.5 1017.6 1176.0 1018.2 1176.5 1017.9 1177.0 1018.1 1177.5 1017.2 1178.0 1017.0 1178.5 1019.1 1179.0 1018.5 1179.5 1017.8 1180.0 1018.4 1180.5 1017.2 1181.0 1017.0 1181.5 1017.7 1182.0 1016.6 1182.5 1017.5 1183.0 1017.7 1183.5 1017.6 1184.0 1017.6 1184.5 1017.7 1185.0 1018.3 1185.5 1017.9 1186.0 1017.4 1186.5 1017.5 1187.0 1017.4 1187.5 1017.3 1188.0 1017.0 1188.5 1018.0 1189.0 1018.4 1189.5 1017.8 1190.0 1017.5 1190.5 1017.0 1191.0 1017.7 1191.5 1016.8 1192.0 1017.3 1192.5 1017.3 1193.0 1017.8 1193.5 1017.9 1194.0 1017.4 1194.5 1017.4 1195.0 1016.9 1195.5 1017.4 1196.0 1017.6 1196.5 1016.3 1197.0 1017.4 1197.5 1017.6 1198.0 1017.1 1198.5 1016.2 1199.0 1017.0 1199.5 1016.3 1200.0 1017.0 1200.5 1017.0 1201.0 1016.5 1201.5 1017.0 1202.0 1016.4 1202.5 1016.4 1203.0 1018.1 1203.5 1017.2 1204.0 1017.2 1204.5 1016.4 1205.0 1017.2 1205.5 1017.1 1206.0 1016.7 1206.5 1015.6 1207.0 1016.3 1207.5 1016.4 1208.0 1016.6 1208.5 1016.2 1209.0 1017.7 1209.5 1017.4 1210.0 1016.7 1210.5 1017.1 1211.0 1017.0 1211.5 1017.0 1212.0 1017.1 1212.5 1016.7 1213.0 1017.4 1213.5 1016.4 1214.0 1016.8 1214.5 1016.8 1215.0 1017.0 1215.5 1015.6 1216.0 1016.6 1216.5 1016.5 1217.0 1015.7 1217.5 1016.5 1218.0 1016.3 1218.5 1016.1 1219.0 1017.8 1219.5 1016.4 1220.0 1016.7 1220.5 1015.7 1221.0 1017.0 1221.5 1016.4 1222.0 1016.4 1222.5 1016.7 1223.0 1015.3 1223.5 1015.5 1224.0 1015.6 1224.5 1015.1 1225.0 1015.2 1225.5 1015.0 1226.0 1015.6 1226.5 1015.7 1227.0 1015.8 1227.5 1015.4 1228.0 1015.5 1228.5 1016.3 1229.0 1015.9 1229.5 1015.2 1230.0 1015.9 1230.5 1014.6 1231.0 1014.9 1231.5 1015.8 1232.0 1015.8 1232.5 1014.8 1233.0 1015.0" fill="none" stroke="#7b12f2" stroke-width="3.3" stroke-linejoin="round"/>
<path d="M755.5 1070.6 756.0 1069.9 756.5 1070.7 757.0 1070.4 757.5 1070.8 758.0 1070.8 758.5 1069.9 759.0 1070.4 759.5 1069.8 760.0 1070.0 760.5 1070.6 761.0 1071.4 761.5 1070.3 762.0 1070.6 762.5 1070.9 763.0 1070.3 763.5 1071.2 764.0 1070.5 764.5 1070.6 765.0 1071.0 765.5 1070.7 766.0 1069.7 766.5 1070.5 767.0 1071.2 767.5 1071.1 768.0 1070.4 768.5 1069.9 769.0 1069.8 769.5 1069.6 770.0 1071.2 770.5 1070.2 771.0 1070.6 771.5 1070.2 772.0 1069.8 772.5 1071.5 773.0 1070.4 773.5 1069.4 774.0 1071.3 774.5 1070.9 775.0 1070.1 775.5 1069.7 776.0 1070.4 776.5 1070.5 777.0 1070.2 777.5 1071.4 778.0 1071.2 778.5 1071.2 779.0 1070.8 779.5 1070.3 780.0 1071.5 780.5 1071.0 781.0 1070.5 781.5 1070.7 782.0 1070.8 782.5 1070.6 783.0 1070.9 783.5 1071.1 784.0 1070.5 784.5 1071.1 785.0 1071.8 785.5 1071.6 786.0 1070.7 786.5 1070.3 787.0 1069.7 787.5 1070.4 788.0 1070.3 788.5 1070.6 789.0 1070.3 789.5 1071.0 790.0 1071.1 790.5 1070.7 791.0 1070.3 791.5 1071.4 792.0 1070.9 792.5 1071.0 793.0 1071.1 793.5 1070.9 794.0 1070.7 794.5 1069.8 795.0 1070.7 795.5 1070.3 796.0 1069.9 796.5 1071.4 797.0 1071.0 797.5 1070.7 798.0 1070.2 798.5 1069.9 799.0 1071.4 799.5 1070.3 800.0 1069.4 800.5 1068.9 801.0 1070.2 801.5 1071.1 802.0 1070.8 802.5 1070.9 803.0 1070.0 803.5 1070.5 804.0 1071.3 804.5 1070.2 805.0 1069.5 805.5 1069.9 806.0 1070.4 806.5 1070.5 807.0 1070.1 807.5 1070.1 808.0 1070.9 808.5 1071.4 809.0 1070.7 809.5 1070.5 810.0 1071.1 810.5 1070.5 811.0 1069.9 811.5 1070.4 812.0 1070.2 812.5 1069.8 813.0 1068.3 813.5 1069.6 814.0 1069.2 814.5 1068.3 815.0 1068.7 815.5 1068.7 816.0 1067.5 816.5 1067.9 817.0 1066.9 817.5 1066.4 818.0 1066.4 818.5 1065.6 819.0 1065.7 819.5 1064.5 820.0 1064.5 820.5 1065.2 821.0 1063.4 821.5 1063.1 822.0 1062.9 822.5 1062.5 823.0 1061.6 823.5 1060.9 824.0 1060.1 824.5 1060.4 825.0 1060.3 825.5 1059.8 826.0 1058.0 826.5 1057.9 827.0 1058.4 827.5 1058.6 828.0 1057.7 828.5 1057.5 829.0 1058.8 829.5 1057.4 830.0 1056.3 830.5 1057.9 831.0 1056.9 831.5 1057.3 832.0 1057.3 832.5 1056.2 833.0 1058.3 833.5 1056.4 834.0 1056.4 834.5 1056.9 835.0 1057.9 835.5 1056.5 836.0 1056.8 836.5 1057.0 837.0 1056.3 837.5 1056.2 838.0 1056.5 838.5 1056.7 839.0 1057.1 839.5 1055.6 840.0 1056.5 840.5 1055.6 841.0 1056.7 841.5 1056.9 842.0 1056.1 842.5 1056.0 843.0 1056.0 843.5 1055.1 844.0 1056.2 844.5 1055.5 845.0 1056.3 845.5 1056.1 846.0 1055.3 846.5 1054.6 847.0 1054.3 847.5 1053.3 848.0 1052.8 848.5 1053.0 849.0 1051.9 849.5 1051.1 850.0 1051.7 850.5 1051.2 851.0 1049.7 851.5 1050.5 852.0 1048.9 852.5 1049.9 853.0 1049.3 853.5 1049.4 854.0 1048.2 854.5 1047.7 855.0 1048.0 855.5 1046.9 856.0 1047.1 856.5 1048.2 857.0 1047.6 857.5 1048.4 858.0 1047.9 858.5 1048.5 859.0 1048.8 859.5 1048.2 860.0 1049.0 860.5 1049.6 861.0 1048.7 861.5 1050.1 862.0 1051.2 862.5 1050.3 863.0 1050.4 863.5 1051.1 864.0 1053.4 864.5 1053.2 865.0 1053.4 865.5 1053.9 866.0 1053.7 866.5 1054.6 867.0 1054.7 867.5 1056.0 868.0 1057.0 868.5 1056.8 869.0 1057.1 869.5 1057.6 870.0 1060.1 870.5 1060.6 871.0 1061.0 871.5 1061.5 872.0 1063.1 872.5 1065.5 873.0 1064.2 873.5 1065.4 874.0 1065.6 874.5 1065.5 875.0 1067.3 875.5 1068.3 876.0 1068.5 876.5 1068.7 877.0 1069.6 877.5 1069.7 878.0 1069.5 878.5 1071.1 879.0 1070.0 879.5 1070.7 880.0 1069.8 880.5 1070.5 881.0 1070.4 881.5 1069.8 882.0 1070.8 882.5 1070.4 883.0 1070.7 883.5 1069.6 884.0 1071.1 884.5 1070.6 885.0 1070.1 885.5 1070.3 886.0 1070.5 886.5 1070.1 887.0 1071.0 887.5 1071.2 888.0 1070.4 888.5 1070.3 889.0 1070.8 889.5 1070.2 890.0 1070.2 890.5 1070.2 891.0 1070.2 891.5 1071.2 892.0 1070.8 892.5 1069.9 893.0 1069.8 893.5 1069.1 894.0 1070.5 894.5 1070.8 895.0 1070.0 895.5 1070.4 896.0 1070.4 896.5 1069.5 897.0 1069.8 897.5 1070.3 898.0 1070.7 898.5 1071.0 899.0 1069.2 899.5 1069.6 900.0 1070.0 900.5 1071.1 901.0 1070.5 901.5 1070.7 902.0 1071.1 902.5 1070.7 903.0 1071.6 903.5 1070.5 904.0 1070.9 904.5 1070.5 905.0 1070.7 905.5 1070.4 906.0 1070.5 906.5 1071.0 907.0 1070.9 907.5 1070.7 908.0 1071.4 908.5 1070.3 909.0 1070.3 909.5 1071.4 910.0 1071.1 910.5 1071.1 911.0 1070.4 911.5 1070.6 912.0 1070.9 912.5 1070.1 913.0 1070.2 913.5 1069.9 914.0 1069.7 914.5 1070.1 915.0 1070.2 915.5 1070.2 916.0 1070.6 916.5 1070.3 917.0 1070.7 917.5 1070.6 918.0 1070.2 918.5 1070.1 919.0 1070.3 919.5 1070.7 920.0 1071.3 920.5 1070.7 921.0 1069.7 921.5 1070.8 922.0 1070.3 922.5 1070.9 923.0 1071.2 923.5 1069.3 924.0 1070.7 924.5 1069.8 925.0 1069.5 925.5 1070.6 926.0 1069.8 926.5 1070.2 927.0 1071.0 927.5 1070.7 928.0 1070.9 928.5 1070.5 929.0 1070.9 929.5 1070.7 930.0 1070.3 930.5 1070.0 931.0 1070.4 931.5 1070.3 932.0 1069.6 932.5 1069.2 933.0 1068.8 933.5 1070.1 934.0 1069.8 934.5 1069.9 935.0 1069.3 935.5 1067.9 936.0 1069.0 936.5 1069.2 937.0 1067.9 937.5 1068.7 938.0 1068.4 938.5 1068.8 939.0 1067.6 939.5 1067.6 940.0 1067.5 940.5 1068.3 941.0 1067.9 941.5 1066.8 942.0 1066.0 942.5 1066.2 943.0 1066.1 943.5 1067.0 944.0 1066.3 944.5 1065.8 945.0 1065.9 945.5 1064.2 946.0 1064.7 946.5 1065.0 947.0 1064.6 947.5 1063.9 948.0 1064.5 948.5 1063.6 949.0 1064.1 949.5 1063.3 950.0 1062.2 950.5 1062.1 951.0 1062.8 951.5 1062.1 952.0 1062.9 952.5 1061.5 953.0 1062.0 953.5 1060.9 954.0 1059.6 954.5 1059.8 955.0 1061.0 955.5 1059.9 956.0 1060.4 956.5 1059.7 957.0 1059.0 957.5 1058.5 958.0 1058.6 958.5 1058.9 959.0 1058.6 959.5 1057.9 960.0 1058.0 960.5 1057.8 961.0 1058.0 961.5 1057.5 962.0 1056.5 962.5 1056.3 963.0 1056.8 963.5 1056.7 964.0 1055.5 964.5 1056.9 965.0 1055.5 965.5 1054.8 966.0 1054.9 966.5 1053.8 967.0 1053.9 967.5 1053.7 968.0 1053.0 968.5 1051.7 969.0 1051.5 969.5 1052.9 970.0 1052.8 970.5 1051.6 971.0 1051.3 971.5 1051.5 972.0 1050.7 972.5 1050.9 973.0 1049.1 973.5 1049.5 974.0 1049.4 974.5 1049.5 975.0 1048.7 975.5 1048.2 976.0 1047.8 976.5 1047.5 977.0 1046.4 977.5 1046.1 978.0 1045.4 978.5 1045.1 979.0 1044.7 979.5 1043.8 980.0 1043.1 980.5 1042.7 981.0 1042.4 981.5 1042.3 982.0 1040.6 982.5 1040.3 983.0 1040.2 983.5 1038.6 984.0 1038.5 984.5 1038.5 985.0 1037.3 985.5 1037.5 986.0 1035.6 986.5 1034.5 987.0 1033.6 987.5 1033.6 988.0 1032.3 988.5 1029.2 989.0 1028.4 989.5 1027.9 990.0 1026.2 990.5 1025.7 991.0 1023.3 991.5 1021.5 992.0 1019.2 992.5 1017.7 993.0 1015.2 993.5 1013.8 994.0 1010.4 994.5 1008.5 995.0 1005.9 995.5 1003.6 996.0 1000.4 996.5 997.4 997.0 996.6 997.5 993.1 998.0 991.1 998.5 989.3 999.0 988.0 999.5 985.2 1000.0 983.2 1000.5 981.2 1001.0 978.5 1001.5 976.6 1002.0 975.9 1002.5 974.4 1003.0 973.1 1003.5 971.7 1004.0 969.9 1004.5 968.5 1005.0 969.0 1005.5 967.3 1006.0 967.9 1006.5 968.7 1007.0 970.2 1007.5 971.2 1008.0 972.6 1008.5 973.6 1009.0 975.5 1009.5 976.5 1010.0 978.2 1010.5 979.2 1011.0 981.0 1011.5 982.7 1012.0 983.8 1012.5 985.6 1013.0 988.6 1013.5 991.4 1014.0 992.6 1014.5 995.2 1015.0 997.8 1015.5 999.9 1016.0 1002.0 1016.5 1004.5 1017.0 1006.3 1017.5 1008.7 1018.0 1009.6 1018.5 1012.5 1019.0 1014.3 1019.5 1016.1 1020.0 1016.2 1020.5 1016.5 1021.0 1018.9 1021.5 1019.6 1022.0 1020.3 1022.5 1020.9 1023.0 1021.4 1023.5 1022.2 1024.0 1022.4 1024.5 1024.5 1025.0 1023.7 1025.5 1024.4 1026.0 1023.8 1026.5 1024.2 1027.0 1024.5 1027.5 1024.6 1028.0 1024.6 1028.5 1025.8 1029.0 1024.8 1029.5 1024.9 1030.0 1024.9 1030.5 1025.6 1031.0 1025.7 1031.5 1025.0 1032.0 1026.6 1032.5 1025.8 1033.0 1024.5 1033.5 1025.7 1034.0 1026.2 1034.5 1025.0 1035.0 1025.1 1035.5 1024.5 1036.0 1025.1 1036.5 1024.5 1037.0 1023.7 1037.5 1023.4 1038.0 1023.2 1038.5 1022.5 1039.0 1022.2 1039.5 1021.3 1040.0 1020.9 1040.5 1020.6 1041.0 1018.9 1041.5 1018.2 1042.0 1016.4 1042.5 1016.1 1043.0 1014.5 1043.5 1011.9 1044.0 1010.6 1044.5 1007.8 1045.0 1007.4 1045.5 1004.3 1046.0 1002.1 1046.5 999.5 1047.0 998.5 1047.5 996.6 1048.0 994.5 1048.5 992.0 1049.0 989.8 1049.5 987.7 1050.0 985.7 1050.5 984.1 1051.0 981.2 1051.5 979.2 1052.0 976.7 1052.5 974.7 1053.0 973.3 1053.5 970.0 1054.0 968.5 1054.5 968.2 1055.0 970.0 1055.5 971.7 1056.0 973.4 1056.5 974.9 1057.0 977.4 1057.5 979.2 1058.0 980.3 1058.5 983.0 1059.0 985.5 1059.5 988.1 1060.0 991.7 1060.5 995.2 1061.0 998.6 1061.5 1000.3 1062.0 1005.3 1062.5 1009.2 1063.0 1012.3 1063.5 1016.3 1064.0 1020.0 1064.5 1023.2 1065.0 1026.5 1065.5 1030.4 1066.0 1032.5 1066.5 1035.4 1067.0 1038.8 1067.5 1041.5 1068.0 1043.5 1068.5 1045.1 1069.0 1047.8 1069.5 1049.8 1070.0 1052.1 1070.5 1051.7 1071.0 1054.2 1071.5 1055.7 1072.0 1056.3 1072.5 1057.9 1073.0 1058.6 1073.5 1060.3 1074.0 1060.4 1074.5 1061.9 1075.0 1061.9 1075.5 1062.4 1076.0 1064.1 1076.5 1064.2 1077.0 1064.4 1077.5 1066.1 1078.0 1065.6 1078.5 1066.3 1079.0 1067.2 1079.5 1065.7 1080.0 1067.0 1080.5 1066.7 1081.0 1067.1 1081.5 1067.2 1082.0 1068.2 1082.5 1068.4 1083.0 1067.2 1083.5 1068.2 1084.0 1068.3 1084.5 1068.3 1085.0 1069.2 1085.5 1068.6 1086.0 1068.2 1086.5 1068.1 1087.0 1067.8 1087.5 1068.6 1088.0 1069.5 1088.5 1068.7 1089.0 1068.4 1089.5 1068.8 1090.0 1069.4 1090.5 1069.3 1091.0 1069.5 1091.5 1069.3 1092.0 1070.7 1092.5 1069.5 1093.0 1069.3 1093.5 1069.4 1094.0 1069.5 1094.5 1069.4 1095.0 1069.2 1095.5 1069.6 1096.0 1069.2 1096.5 1069.2 1097.0 1069.0 1097.5 1069.6 1098.0 1069.5 1098.5 1069.6 1099.0 1070.3 1099.5 1069.2 1100.0 1070.2 1100.5 1070.0 1101.0 1069.4 1101.5 1069.4 1102.0 1070.1 1102.5 1068.9 1103.0 1069.6 1103.5 1069.5 1104.0 1069.8 1104.5 1070.4 1105.0 1069.2 1105.5 1069.9 1106.0 1069.2 1106.5 1069.7 1107.0 1069.5 1107.5 1068.9 1108.0 1069.8 1108.5 1069.7 1109.0 1069.9 1109.5 1069.7 1110.0 1070.1 1110.5 1070.0 1111.0 1069.6 1111.5 1070.0 1112.0 1069.0 1112.5 1070.0 1113.0 1069.3 1113.5 1070.6 1114.0 1069.1 1114.5 1069.3 1115.0 1069.4 1115.5 1069.4 1116.0 1069.5 1116.5 1070.7 1117.0 1070.1 1117.5 1070.8 1118.0 1069.4 1118.5 1069.6 1119.0 1069.6 1119.5 1069.8 1120.0 1069.2 1120.5 1069.9 1121.0 1069.2 1121.5 1068.7 1122.0 1068.1 1122.5 1069.9 1123.0 1069.4 1123.5 1070.1 1124.0 1070.0 1124.5 1070.0 1125.0 1069.9 1125.5 1069.8 1126.0 1070.0 1126.5 1069.8 1127.0 1069.7 1127.5 1069.9 1128.0 1070.1 1128.5 1069.5 1129.0 1070.1 1129.5 1069.6 1130.0 1070.1 1130.5 1069.7 1131.0 1069.2 1131.5 1068.3 1132.0 1070.1 1132.5 1069.7 1133.0 1069.7 1133.5 1069.7 1134.0 1070.8 1134.5 1068.9 1135.0 1069.6 1135.5 1070.0 1136.0 1069.6 1136.5 1069.8 1137.0 1069.9 1137.5 1069.0 1138.0 1069.7 1138.5 1069.4 1139.0 1070.2 1139.5 1069.1 1140.0 1069.2 1140.5 1069.1 1141.0 1070.5 1141.5 1068.8 1142.0 1069.0 1142.5 1070.4 1143.0 1069.9 1143.5 1069.1 1144.0 1069.3 1144.5 1068.8 1145.0 1069.5 1145.5 1069.1 1146.0 1070.0 1146.5 1069.8 1147.0 1069.5 1147.5 1069.4 1148.0 1069.8 1148.5 1069.0 1149.0 1070.0 1149.5 1070.0 1150.0 1069.6 1150.5 1069.4 1151.0 1069.3 1151.5 1069.2 1152.0 1069.5 1152.5 1069.3 1153.0 1069.7 1153.5 1069.9 1154.0 1068.9 1154.5 1069.6 1155.0 1069.2 1155.5 1069.4 1156.0 1068.8 1156.5 1069.2 1157.0 1069.2 1157.5 1070.0 1158.0 1069.2 1158.5 1070.2 1159.0 1070.0 1159.5 1069.6 1160.0 1069.7 1160.5 1069.2 1161.0 1070.2 1161.5 1069.8 1162.0 1070.0 1162.5 1069.3 1163.0 1069.7 1163.5 1070.1 1164.0 1068.5 1164.5 1069.1 1165.0 1069.1 1165.5 1069.0 1166.0 1069.8 1166.5 1069.9 1167.0 1069.3 1167.5 1070.3 1168.0 1068.8 1168.5 1070.6 1169.0 1070.1 1169.5 1070.1 1170.0 1070.1 1170.5 1069.5 1171.0 1070.1 1171.5 1069.9 1172.0 1068.9 1172.5 1070.5 1173.0 1069.3 1173.5 1068.8 1174.0 1068.8 1174.5 1070.3 1175.0 1070.3 1175.5 1069.4 1176.0 1069.2 1176.5 1069.4 1177.0 1070.1 1177.5 1069.9 1178.0 1069.1 1178.5 1069.2 1179.0 1068.9 1179.5 1069.3 1180.0 1069.5 1180.5 1069.3 1181.0 1070.2 1181.5 1069.1 1182.0 1069.1 1182.5 1068.8 1183.0 1069.7 1183.5 1069.4 1184.0 1069.4 1184.5 1069.0 1185.0 1069.3 1185.5 1069.4 1186.0 1069.2 1186.5 1069.7 1187.0 1069.5 1187.5 1069.6 1188.0 1069.3 1188.5 1069.7 1189.0 1069.0 1189.5 1069.5 1190.0 1069.5 1190.5 1070.7 1191.0 1068.8 1191.5 1069.3 1192.0 1069.5 1192.5 1069.1 1193.0 1069.6 1193.5 1069.2 1194.0 1069.7 1194.5 1069.5 1195.0 1069.7 1195.5 1069.6 1196.0 1069.4 1196.5 1068.3 1197.0 1068.8 1197.5 1069.5 1198.0 1069.5 1198.5 1069.4 1199.0 1068.9 1199.5 1069.3 1200.0 1069.3 1200.5 1069.0 1201.0 1069.9 1201.5 1069.9 1202.0 1069.1 1202.5 1069.6 1203.0 1069.4 1203.5 1069.1 1204.0 1069.4 1204.5 1068.9 1205.0 1069.0 1205.5 1068.8 1206.0 1069.3 1206.5 1068.8 1207.0 1068.7 1207.5 1068.4 1208.0 1068.8 1208.5 1069.3 1209.0 1069.7 1209.5 1069.5 1210.0 1068.6 1210.5 1069.9 1211.0 1069.1 1211.5 1069.6 1212.0 1068.5 1212.5 1069.6 1213.0 1069.3 1213.5 1069.9 1214.0 1069.2 1214.5 1069.3 1215.0 1068.4 1215.5 1069.0 1216.0 1069.0 1216.5 1068.2 1217.0 1068.6 1217.5 1069.6 1218.0 1068.9 1218.5 1070.0 1219.0 1069.6 1219.5 1068.8 1220.0 1069.5 1220.5 1070.6 1221.0 1068.8 1221.5 1068.4 1222.0 1068.8 1222.5 1069.5 1223.0 1069.2 1223.5 1069.1 1224.0 1069.1 1224.5 1069.8 1225.0 1069.5 1225.5 1069.4 1226.0 1068.8 1226.5 1070.0 1227.0 1069.3 1227.5 1069.2 1228.0 1069.2 1228.5 1069.3 1229.0 1069.2 1229.5 1068.9 1230.0 1068.7 1230.5 1067.9 1231.0 1068.0 1231.5 1068.8 1232.0 1067.9 1232.5 1068.4 1233.0 1068.1" fill="none" stroke="#008000" stroke-width="3.3" stroke-linejoin="round"/>
<path d="M755.5 1121.7 756.0 1121.7 756.5 1123.0 757.0 1121.9 757.5 1121.5 758.0 1122.6 758.5 1122.5 759.0 1122.1 759.5 1122.3 760.0 1121.4 760.5 1122.2 761.0 1122.1 761.5 1120.8 762.0 1123.1 762.5 1122.7 763.0 1122.4 763.5 1122.8 764.0 1121.7 764.5 1122.4 765.0 1121.6 765.5 1122.7 766.0 1122.2 766.5 1122.6 767.0 1122.7 767.5 1121.6 768.0 1121.9 768.5 1122.6 769.0 1123.1 769.5 1122.8 770.0 1122.6 770.5 1122.4 771.0 1122.7 771.5 1122.8 772.0 1123.5 772.5 1122.6 773.0 1123.5 773.5 1122.5 774.0 1123.0 774.5 1122.6 775.0 1123.7 775.5 1123.2 776.0 1124.5 776.5 1122.4 777.0 1124.3 777.5 1123.3 778.0 1122.4 778.5 1123.4 779.0 1122.9 779.5 1122.2 780.0 1124.0 780.5 1123.7 781.0 1123.6 781.5 1123.9 782.0 1123.3 782.5 1123.3 783.0 1122.6 783.5 1123.5 784.0 1123.3 784.5 1123.2 785.0 1123.5 785.5 1124.1 786.0 1124.1 786.5 1124.9 787.0 1124.1 787.5 1123.4 788.0 1123.6 788.5 1123.7 789.0 1123.4 789.5 1123.8 790.0 1123.5 790.5 1123.8 791.0 1122.9 791.5 1123.1 792.0 1123.4 792.5 1124.1 793.0 1123.9 793.5 1124.2 794.0 1124.6 794.5 1123.6 795.0 1123.3 795.5 1125.1 796.0 1124.3 796.5 1123.7 797.0 1122.7 797.5 1124.7 798.0 1122.8 798.5 1124.3 799.0 1124.4 799.5 1124.7 800.0 1123.1 800.5 1123.9 801.0 1123.9 801.5 1124.2 802.0 1124.1 802.5 1123.6 803.0 1123.3 803.5 1123.8 804.0 1122.2 804.5 1124.4 805.0 1123.0 805.5 1122.9 806.0 1123.7 806.5 1122.7 807.0 1122.2 807.5 1123.9 808.0 1124.3 808.5 1123.3 809.0 1124.4 809.5 1123.2 810.0 1123.0 810.5 1123.2 811.0 1123.1 811.5 1123.9 812.0 1123.8 812.5 1122.8 813.0 1123.1 813.5 1123.9 814.0 1122.5 814.5 1122.9 815.0 1121.4 815.5 1120.5 816.0 1120.0 816.5 1119.7 817.0 1119.4 817.5 1118.9 818.0 1118.9 818.5 1117.5 819.0 1116.8 819.5 1117.4 820.0 1116.2 820.5 1115.3 821.0 1114.8 821.5 1114.4 822.0 1114.0 822.5 1113.9 823.0 1112.4 823.5 1113.1 824.0 1112.0 824.5 1111.2 825.0 1110.7 825.5 1110.4 826.0 1109.1 826.5 1109.8 827.0 1108.3 827.5 1108.7 828.0 1108.7 828.5 1108.2 829.0 1108.1 829.5 1106.6 830.0 1108.4 830.5 1107.6 831.0 1108.1 831.5 1107.5 832.0 1107.2 832.5 1105.9 833.0 1107.9 833.5 1107.1 834.0 1108.6 834.5 1107.8 835.0 1107.0 835.5 1108.2 836.0 1108.0 836.5 1107.3 837.0 1106.7 837.5 1106.8 838.0 1107.2 838.5 1107.6 839.0 1107.7 839.5 1108.2 840.0 1106.1 840.5 1107.1 841.0 1107.5 841.5 1107.2 842.0 1106.4 842.5 1107.2 843.0 1107.7 843.5 1106.2 844.0 1106.9 844.5 1106.0 845.0 1106.9 845.5 1107.1 846.0 1106.5 846.5 1106.6 847.0 1106.9 847.5 1106.4 848.0 1105.2 848.5 1105.3 849.0 1106.7 849.5 1106.1 850.0 1106.0 850.5 1104.8 851.0 1105.1 851.5 1104.4 852.0 1103.6 852.5 1103.7 853.0 1103.2 853.5 1104.0 854.0 1102.7 854.5 1103.1 855.0 1102.7 855.5 1103.4 856.0 1102.7 856.5 1103.7 857.0 1103.5 857.5 1103.6 858.0 1104.7 858.5 1105.1 859.0 1104.1 859.5 1105.0 860.0 1106.4 860.5 1106.0 861.0 1106.8 861.5 1106.8 862.0 1107.5 862.5 1107.7 863.0 1108.5 863.5 1108.7 864.0 1108.6 864.5 1108.4 865.0 1108.6 865.5 1109.5 866.0 1110.0 866.5 1110.9 867.0 1111.8 867.5 1111.5 868.0 1112.6 868.5 1112.4 869.0 1112.0 869.5 1113.7 870.0 1114.4 870.5 1113.9 871.0 1115.7 871.5 1116.0 872.0 1115.7 872.5 1116.9 873.0 1116.1 873.5 1117.5 874.0 1117.0 874.5 1118.0 875.0 1117.9 875.5 1119.6 876.0 1119.9 876.5 1119.6 877.0 1120.0 877.5 1120.7 878.0 1121.8 878.5 1120.9 879.0 1121.4 879.5 1122.0 880.0 1122.9 880.5 1123.1 881.0 1123.5 881.5 1123.0 882.0 1125.1 882.5 1125.0 883.0 1125.4 883.5 1125.2 884.0 1125.6 884.5 1124.5 885.0 1126.0 885.5 1125.5 886.0 1125.7 886.5 1125.7 887.0 1124.3 887.5 1125.2 888.0 1125.2 888.5 1124.0 889.0 1125.5 889.5 1124.9 890.0 1126.4 890.5 1126.8 891.0 1125.9 891.5 1127.0 892.0 1126.6 892.5 1125.1 893.0 1125.8 893.5 1126.3 894.0 1125.0 894.5 1125.6 895.0 1125.5 895.5 1124.8 896.0 1125.0 896.5 1125.5 897.0 1126.0 897.5 1124.9 898.0 1125.7 898.5 1126.3 899.0 1124.8 899.5 1125.6 900.0 1125.4 900.5 1125.9 901.0 1125.0 901.5 1124.2 902.0 1124.9 902.5 1125.2 903.0 1124.8 903.5 1124.8 904.0 1124.9 904.5 1125.6 905.0 1125.4 905.5 1125.2 906.0 1125.4 906.5 1125.2 907.0 1124.8 907.5 1124.3 908.0 1125.2 908.5 1126.1 909.0 1125.6 909.5 1126.1 910.0 1124.6 910.5 1124.8 911.0 1126.0 911.5 1125.6 912.0 1124.7 912.5 1123.6 913.0 1125.4 913.5 1125.0 914.0 1124.8 914.5 1126.1 915.0 1124.8 915.5 1124.9 916.0 1125.3 916.5 1124.1 917.0 1124.5 917.5 1123.2 918.0 1123.5 918.5 1123.6 919.0 1125.2 919.5 1123.4 920.0 1123.5 920.5 1124.1 921.0 1124.5 921.5 1124.4 922.0 1124.0 922.5 1125.0 923.0 1125.4 923.5 1124.9 924.0 1124.1 924.5 1124.1 925.0 1124.4 925.5 1124.1 926.0 1123.4 926.5 1122.5 927.0 1123.4 927.5 1123.2 928.0 1122.6 928.5 1123.2 929.0 1122.6 929.5 1122.9 930.0 1123.5 930.5 1122.4 931.0 1123.3 931.5 1123.2 932.0 1123.2 932.5 1122.6 933.0 1122.4 933.5 1122.3 934.0 1123.2 934.5 1122.2 935.0 1122.4 935.5 1122.3 936.0 1122.4 936.5 1122.0 937.0 1121.4 937.5 1122.6 938.0 1122.0 938.5 1122.9 939.0 1122.1 939.5 1121.7 940.0 1122.5 940.5 1120.9 941.0 1122.2 941.5 1121.7 942.0 1121.1 942.5 1120.3 943.0 1119.7 943.5 1120.9 944.0 1119.3 944.5 1119.5 945.0 1118.5 945.5 1119.0 946.0 1119.1 946.5 1119.4 947.0 1119.8 947.5 1118.4 948.0 1118.1 948.5 1117.3 949.0 1116.9 949.5 1117.6 950.0 1117.5 950.5 1117.4 951.0 1117.3 951.5 1117.7 952.0 1116.2 952.5 1116.3 953.0 1117.2 953.5 1116.3 954.0 1115.9 954.5 1115.8 955.0 1114.8 955.5 1114.6 956.0 1114.6 956.5 1114.6 957.0 1113.3 957.5 1113.5 958.0 1112.3 958.5 1112.8 959.0 1111.1 959.5 1111.9 960.0 1111.9 960.5 1111.3 961.0 1111.7 961.5 1110.7 962.0 1110.0 962.5 1110.3 963.0 1108.5 963.5 1109.1 964.0 1108.0 964.5 1107.4 965.0 1107.6 965.5 1108.0 966.0 1107.7 966.5 1106.7 967.0 1106.5 967.5 1106.1 968.0 1106.1 968.5 1105.1 969.0 1104.9 969.5 1105.2 970.0 1105.2 970.5 1103.8 971.0 1104.4 971.5 1103.6 972.0 1104.0 972.5 1103.4 973.0 1104.1 973.5 1102.9 974.0 1102.3 974.5 1101.0 975.0 1101.7 975.5 1101.7 976.0 1100.5 976.5 1101.4 977.0 1100.4 977.5 1099.4 978.0 1099.8 978.5 1098.7 979.0 1098.1 979.5 1097.2 980.0 1096.8 980.5 1096.5 981.0 1095.9 981.5 1095.1 982.0 1093.5 982.5 1094.5 983.0 1093.2 983.5 1093.2 984.0 1090.6 984.5 1091.3 985.0 1089.6 985.5 1088.8 986.0 1088.5 986.5 1086.9 987.0 1084.9 987.5 1085.4 988.0 1084.5 988.5 1083.0 989.0 1081.2 989.5 1079.9 990.0 1079.3 990.5 1078.1 991.0 1076.5 991.5 1075.0 992.0 1073.7 992.5 1072.0 993.0 1070.2 993.5 1069.3 994.0 1066.9 994.5 1065.8 995.0 1063.2 995.5 1061.5 996.0 1060.3 996.5 1058.8 997.0 1055.5 997.5 1053.1 998.0 1051.8 998.5 1048.6 999.0 1045.6 999.5 1043.8 1000.0 1040.4 1000.5 1038.5 1001.0 1036.4 1001.5 1032.9 1002.0 1030.6 1002.5 1030.1 1003.0 1028.4 1003.5 1027.1 1004.0 1025.6 1004.5 1024.2 1005.0 1023.9 1005.5 1022.5 1006.0 1021.2 1006.5 1019.0 1007.0 1021.7 1007.5 1022.6 1008.0 1023.3 1008.5 1024.9 1009.0 1027.7 1009.5 1029.3 1010.0 1030.7 1010.5 1032.9 1011.0 1033.9 1011.5 1035.9 1012.0 1038.8 1012.5 1040.0 1013.0 1044.4 1013.5 1046.1 1014.0 1049.9 1014.5 1050.3 1015.0 1053.0 1015.5 1055.4 1016.0 1058.5 1016.5 1059.4 1017.0 1060.4 1017.5 1063.8 1018.0 1064.6 1018.5 1065.5 1019.0 1067.7 1019.5 1067.9 1020.0 1070.0 1020.5 1070.6 1021.0 1072.6 1021.5 1072.1 1022.0 1072.5 1022.5 1075.6 1023.0 1075.0 1023.5 1075.8 1024.0 1077.0 1024.5 1077.3 1025.0 1077.1 1025.5 1077.0 1026.0 1078.1 1026.5 1079.3 1027.0 1077.2 1027.5 1078.4 1028.0 1079.3 1028.5 1079.4 1029.0 1079.2 1029.5 1080.6 1030.0 1080.8 1030.5 1079.1 1031.0 1080.4 1031.5 1079.9 1032.0 1079.5 1032.5 1079.2 1033.0 1078.2 1033.5 1078.3 1034.0 1078.4 1034.5 1077.7 1035.0 1077.7 1035.5 1077.2 1036.0 1077.8 1036.5 1077.9 1037.0 1076.6 1037.5 1075.9 1038.0 1076.9 1038.5 1076.2 1039.0 1075.4 1039.5 1073.3 1040.0 1073.2 1040.5 1072.9 1041.0 1071.4 1041.5 1071.0 1042.0 1068.8 1042.5 1067.4 1043.0 1067.2 1043.5 1065.6 1044.0 1063.7 1044.5 1062.5 1045.0 1059.8 1045.5 1059.4 1046.0 1058.1 1046.5 1055.5 1047.0 1052.4 1047.5 1050.8 1048.0 1048.8 1048.5 1045.7 1049.0 1045.2 1049.5 1041.7 1050.0 1039.9 1050.5 1038.1 1051.0 1035.3 1051.5 1033.7 1052.0 1031.6 1052.5 1029.9 1053.0 1026.5 1053.5 1024.5 1054.0 1023.2 1054.5 1019.5 1055.0 1022.0 1055.5 1024.3 1056.0 1026.0 1056.5 1028.0 1057.0 1029.6 1057.5 1031.4 1058.0 1033.8 1058.5 1036.8 1059.0 1039.5 1059.5 1041.4 1060.0 1046.7 1060.5 1050.7 1061.0 1055.0 1061.5 1059.8 1062.0 1064.1 1062.5 1068.3 1063.0 1070.8 1063.5 1075.4 1064.0 1079.0 1064.5 1081.4 1065.0 1084.7 1065.5 1088.4 1066.0 1091.5 1066.5 1092.8 1067.0 1095.5 1067.5 1096.7 1068.0 1098.5 1068.5 1100.7 1069.0 1101.7 1069.5 1103.5 1070.0 1104.5 1070.5 1107.3 1071.0 1108.3 1071.5 1108.6 1072.0 1109.8 1072.5 1112.1 1073.0 1111.9 1073.5 1112.0 1074.0 1113.1 1074.5 1114.1 1075.0 1113.9 1075.5 1115.6 1076.0 1116.1 1076.5 1116.7 1077.0 1116.7 1077.5 1117.9 1078.0 1118.3 1078.5 1118.3 1079.0 1118.8 1079.5 1118.5 1080.0 1119.9 1080.5 1119.2 1081.0 1119.5 1081.5 1120.4 1082.0 1120.8 1082.5 1121.0 1083.0 1121.2 1083.5 1120.7 1084.0 1121.1 1084.5 1121.7 1085.0 1121.6 1085.5 1121.4 1086.0 1121.9 1086.5 1123.2 1087.0 1122.8 1087.5 1121.8 1088.0 1121.7 1088.5 1122.9 1089.0 1121.1 1089.5 1121.5 1090.0 1122.0 1090.5 1122.9 1091.0 1121.4 1091.5 1121.5 1092.0 1123.1 1092.5 1122.3 1093.0 1121.1 1093.5 1122.1 1094.0 1120.8 1094.5 1122.9 1095.0 1122.7 1095.5 1123.7 1096.0 1121.9 1096.5 1121.7 1097.0 1122.3 1097.5 1122.4 1098.0 1122.7 1098.5 1121.9 1099.0 1122.7 1099.5 1122.7 1100.0 1121.9 1100.5 1122.3 1101.0 1122.5 1101.5 1122.3 1102.0 1122.4 1102.5 1122.1 1103.0 1122.3 1103.5 1122.7 1104.0 1121.9 1104.5 1122.5 1105.0 1122.8 1105.5 1122.1 1106.0 1122.6 1106.5 1123.0 1107.0 1122.3 1107.5 1122.6 1108.0 1121.3 1108.5 1122.7 1109.0 1123.1 1109.5 1122.8 1110.0 1123.4 1110.5 1123.1 1111.0 1122.8 1111.5 1122.7 1112.0 1121.9 1112.5 1123.9 1113.0 1123.6 1113.5 1122.8 1114.0 1122.6 1114.5 1121.1 1115.0 1122.7 1115.5 1122.9 1116.0 1123.2 1116.5 1122.1 1117.0 1122.7 1117.5 1122.5 1118.0 1122.2 1118.5 1123.0 1119.0 1122.1 1119.5 1122.4 1120.0 1122.5 1120.5 1122.5 1121.0 1123.0 1121.5 1121.7 1122.0 1123.7 1122.5 1123.3 1123.0 1122.2 1123.5 1122.7 1124.0 1121.9 1124.5 1122.6 1125.0 1122.6 1125.5 1122.7 1126.0 1122.7 1126.5 1123.1 1127.0 1123.4 1127.5 1122.4 1128.0 1121.2 1128.5 1122.3 1129.0 1123.5 1129.5 1122.7 1130.0 1122.9 1130.5 1122.9 1131.0 1121.9 1131.5 1123.4 1132.0 1122.9 1132.5 1123.0 1133.0 1123.1 1133.5 1122.3 1134.0 1122.8 1134.5 1122.7 1135.0 1122.9 1135.5 1122.7 1136.0 1123.3 1136.5 1122.3 1137.0 1121.6 1137.5 1122.3 1138.0 1121.8 1138.5 1121.8 1139.0 1122.5 1139.5 1123.0 1140.0 1122.1 1140.5 1121.7 1141.0 1122.3 1141.5 1123.5 1142.0 1122.6 1142.5 1122.3 1143.0 1122.8 1143.5 1121.4 1144.0 1123.1 1144.5 1123.3 1145.0 1122.6 1145.5 1122.3 1146.0 1123.0 1146.5 1123.5 1147.0 1122.5 1147.5 1122.5 1148.0 1122.2 1148.5 1122.2 1149.0 1122.2 1149.5 1123.1 1150.0 1122.1 1150.5 1123.1 1151.0 1123.2 1151.5 1122.8 1152.0 1123.5 1152.5 1121.8 1153.0 1123.2 1153.5 1122.2 1154.0 1123.7 1154.5 1121.8 1155.0 1122.8 1155.5 1123.4 1156.0 1121.9 1156.5 1122.1 1157.0 1122.7 1157.5 1122.0 1158.0 1121.8 1158.5 1122.1 1159.0 1122.2 1159.5 1121.5 1160.0 1121.7 1160.5 1121.6 1161.0 1122.4 1161.5 1123.0 1162.0 1122.5 1162.5 1122.9 1163.0 1123.2 1163.5 1121.2 1164.0 1122.8 1164.5 1123.2 1165.0 1123.1 1165.5 1122.5 1166.0 1121.3 1166.5 1123.1 1167.0 1122.7 1167.5 1122.2 1168.0 1122.0 1168.5 1121.3 1169.0 1121.7 1169.5 1122.7 1170.0 1123.5 1170.5 1122.4 1171.0 1123.2 1171.5 1123.0 1172.0 1122.5 1172.5 1122.4 1173.0 1122.4 1173.5 1122.2 1174.0 1122.9 1174.5 1122.3 1175.0 1121.4 1175.5 1121.9 1176.0 1121.3 1176.5 1121.3 1177.0 1121.8 1177.5 1121.6 1178.0 1122.7 1178.5 1121.4 1179.0 1121.8 1179.5 1122.2 1180.0 1122.5 1180.5 1123.1 1181.0 1122.2 1181.5 1122.1 1182.0 1121.9 1182.5 1122.3 1183.0 1122.8 1183.5 1121.2 1184.0 1122.4 1184.5 1122.5 1185.0 1122.1 1185.5 1123.1 1186.0 1122.9 1186.5 1121.7 1187.0 1122.1 1187.5 1123.1 1188.0 1122.5 1188.5 1123.1 1189.0 1123.1 1189.5 1122.0 1190.0 1122.8 1190.5 1122.6 1191.0 1122.3 1191.5 1122.2 1192.0 1122.0 1192.5 1122.8 1193.0 1122.7 1193.5 1122.1 1194.0 1123.5 1194.5 1122.2 1195.0 1123.0 1195.5 1122.7 1196.0 1122.7 1196.5 1123.0 1197.0 1121.6 1197.5 1121.9 1198.0 1121.8 1198.5 1122.8 1199.0 1122.4 1199.5 1122.1 1200.0 1121.6 1200.5 1123.4 1201.0 1122.1 1201.5 1121.9 1202.0 1122.1 1202.5 1121.7 1203.0 1121.9 1203.5 1122.6 1204.0 1122.2 1204.5 1121.9 1205.0 1122.4 1205.5 1123.0 1206.0 1121.9 1206.5 1121.9 1207.0 1122.0 1207.5 1122.6 1208.0 1121.9 1208.5 1122.6 1209.0 1121.9 1209.5 1123.0 1210.0 1122.0 1210.5 1122.4 1211.0 1122.8 1211.5 1122.9 1212.0 1121.8 1212.5 1121.6 1213.0 1121.9 1213.5 1123.1 1214.0 1122.4 1214.5 1121.9 1215.0 1122.8 1215.5 1121.8 1216.0 1122.3 1216.5 1123.2 1217.0 1122.7 1217.5 1122.9 1218.0 1123.4 1218.5 1122.8 1219.0 1122.8 1219.5 1122.1 1220.0 1123.3 1220.5 1124.4 1221.0 1121.9 1221.5 1123.2 1222.0 1121.9 1222.5 1121.5 1223.0 1122.8 1223.5 1122.7 1224.0 1123.5 1224.5 1122.3 1225.0 1122.7 1225.5 1123.6 1226.0 1123.3 1226.5 1123.8 1227.0 1122.7 1227.5 1122.5 1228.0 1123.6 1228.5 1123.8 1229.0 1122.9 1229.5 1122.4 1230.0 1122.4 1230.5 1122.4 1231.0 1123.3 1231.5 1122.6 1232.0 1123.0 1232.5 1122.3 1233.0 1122.8" fill="none" stroke="#000000" stroke-width="3.3" stroke-linejoin="round"/>
</g>
<rect x="755.5" y="668" width="477.5" height="478.4000000000001" fill="none" stroke="#000" stroke-width="3.4"/>
<line x1="785.3" y1="1146.4" x2="785.3" y2="1136.4" stroke="#000" stroke-width="3" stroke-linecap="round"/>
<line x1="785.3" y1="668" x2="785.3" y2="678" stroke="#000" stroke-width="3" stroke-linecap="round"/>
<line x1="835.1" y1="1146.4" x2="835.1" y2="1127.4" stroke="#000" stroke-width="3" stroke-linecap="round"/>
<line x1="835.1" y1="668" x2="835.1" y2="687" stroke="#000" stroke-width="3" stroke-linecap="round"/>
<line x1="884.8" y1="1146.4" x2="884.8" y2="1136.4" stroke="#000" stroke-width="3" stroke-linecap="round"/>
<line x1="884.8" y1="668" x2="884.8" y2="678" stroke="#000" stroke-width="3" stroke-linecap="round"/>
<line x1="934.6" y1="1146.4" x2="934.6" y2="1127.4" stroke="#000" stroke-width="3" stroke-linecap="round"/>
<line x1="934.6" y1="668" x2="934.6" y2="687" stroke="#000" stroke-width="3" stroke-linecap="round"/>
<line x1="984.3" y1="1146.4" x2="984.3" y2="1136.4" stroke="#000" stroke-width="3" stroke-linecap="round"/>
<line x1="984.3" y1="668" x2="984.3" y2="678" stroke="#000" stroke-width="3" stroke-linecap="round"/>
<line x1="1034.0" y1="1146.4" x2="1034.0" y2="1127.4" stroke="#000" stroke-width="3" stroke-linecap="round"/>
<line x1="1034.0" y1="668" x2="1034.0" y2="687" stroke="#000" stroke-width="3" stroke-linecap="round"/>
<line x1="1083.8" y1="1146.4" x2="1083.8" y2="1136.4" stroke="#000" stroke-width="3" stroke-linecap="round"/>
<line x1="1083.8" y1="668" x2="1083.8" y2="678" stroke="#000" stroke-width="3" stroke-linecap="round"/>
<line x1="1133.5" y1="1146.4" x2="1133.5" y2="1127.4" stroke="#000" stroke-width="3" stroke-linecap="round"/>
<line x1="1133.5" y1="668" x2="1133.5" y2="687" stroke="#000" stroke-width="3" stroke-linecap="round"/>
<line x1="1183.3" y1="1146.4" x2="1183.3" y2="1136.4" stroke="#000" stroke-width="3" stroke-linecap="round"/>
<line x1="1183.3" y1="668" x2="1183.3" y2="678" stroke="#000" stroke-width="3" stroke-linecap="round"/>
<text x="106.2" y="61.5" font-size="46" text-anchor="start">a.</text>
<text x="552.9" y="49.2" font-size="35.5" text-anchor="end">pristine, Ar</text>
<text x="548.6" y="99.4" font-size="35.5" text-anchor="end">4 mW</text>
<text x="548.6" y="200.6" font-size="35.5" text-anchor="end">2 mW</text>
<text x="548.6" y="252.4" font-size="35.5" text-anchor="end">1.5 mW</text>
<text x="548.6" y="301.2" font-size="35.5" text-anchor="end">1 mW</text>
<text x="548.6" y="350.6" font-size="35.5" text-anchor="end">0.5 mW</text>
<text x="548.6" y="397.6" font-size="35.5" text-anchor="end">0.3 mW</text>
<text x="548.6" y="441.8" font-size="35.5" text-anchor="end">0.1 mW</text>
<text x="163.3" y="521.5" font-size="35" text-anchor="middle">500</text>
<text x="263.0" y="521.5" font-size="35" text-anchor="middle">1000</text>
<text x="362.7" y="521.5" font-size="35" text-anchor="middle">1500</text>
<text x="462.3" y="521.5" font-size="35" text-anchor="middle">2000</text>
<text x="562.0" y="521.5" font-size="35" text-anchor="middle">2500</text>
<text x="143.0" y="598.8" font-size="44">Raman shift (cm<tspan font-size="27" dy="-22.8">-1</tspan><tspan font-size="44" dx="2.5" dy="22.8">)</tspan></text>
<text transform="translate(34.7,464.4) rotate(-90)" font-size="43.5">Normalized Intensity</text>
<text x="781.0" y="57.5" font-size="46" text-anchor="start">b.</text>
<text x="1227.6" y="53.9" font-size="35.5" text-anchor="end">pristine, air</text>
<text x="1218.6" y="110.0" font-size="35.5" text-anchor="end">4 mW</text>
<text x="1218.6" y="196.5" font-size="35.5" text-anchor="end">2 mW</text>
<text x="1218.6" y="249.1" font-size="35.5" text-anchor="end">1.5 mW</text>
<text x="1218.6" y="295.9" font-size="35.5" text-anchor="end">1 mW</text>
<text x="1218.6" y="350.6" font-size="35.5" text-anchor="end">0.5 mW</text>
<text x="1218.6" y="396.5" font-size="35.5" text-anchor="end">0.3 mW</text>
<text x="1218.6" y="445.4" font-size="35.5" text-anchor="end">0.1 mW</text>
<text x="835.8" y="524.0" font-size="35" text-anchor="middle">500</text>
<text x="935.4" y="524.0" font-size="35" text-anchor="middle">1000</text>
<text x="1035.1" y="524.0" font-size="35" text-anchor="middle">1500</text>
<text x="1134.8" y="524.0" font-size="35" text-anchor="middle">2000</text>
<text x="1234.5" y="524.0" font-size="35" text-anchor="middle">2500</text>
<text x="814.4" y="599.2" font-size="44">Raman shift (cm<tspan font-size="27" dy="-22.8">-1</tspan><tspan font-size="44" dx="2.5" dy="22.8">)</tspan></text>
<text transform="translate(706.9,466.0) rotate(-90)" font-size="43.5">Normalized Intensity</text>
<text x="104.3" y="722.0" font-size="46" text-anchor="start">c.</text>
<text x="551.8" y="718.4" font-size="35.5" text-anchor="end" textLength="136.7" lengthAdjust="spacing">4.7 V, Ar</text>
<text x="550.4" y="769.3" font-size="35.5" text-anchor="end">4 mW</text>
<text x="550.4" y="835.0" font-size="35.5" text-anchor="end">2 mW</text>
<text x="550.4" y="894.0" font-size="35.5" text-anchor="end">1.5 mW</text>
<text x="550.4" y="946.9" font-size="35.5" text-anchor="end">1 mW</text>
<text x="550.4" y="1002.2" font-size="35.5" text-anchor="end">0.5 mW</text>
<text x="550.4" y="1058.4" font-size="35.5" text-anchor="end">0.3 mW</text>
<text x="550.4" y="1109.0" font-size="35.5" text-anchor="end">0.1 mW</text>
<text x="162.2" y="1187.5" font-size="35" text-anchor="middle">500</text>
<text x="261.8" y="1187.5" font-size="35" text-anchor="middle">1000</text>
<text x="361.4" y="1187.5" font-size="35" text-anchor="middle">1500</text>
<text x="461.1" y="1187.5" font-size="35" text-anchor="middle">2000</text>
<text x="560.7" y="1187.5" font-size="35" text-anchor="middle">2500</text>
<text x="142.0" y="1265.5" font-size="44">Raman shift (cm<tspan font-size="27" dy="-22.8">-1</tspan><tspan font-size="44" dx="2.5" dy="22.8">)</tspan></text>
<text transform="translate(33.8,1129.8) rotate(-90)" font-size="43.5">Normalized Intensity</text>
<text x="777.9" y="727.8" font-size="46" text-anchor="start">d.</text>
<text x="1225.5" y="721.5" font-size="35.5" text-anchor="end" textLength="140.5" lengthAdjust="spacing">4.7 V, air</text>
<text x="1220.9" y="782.5" font-size="35.5" text-anchor="end">4 mW</text>
<text x="1220.9" y="840.6" font-size="35.5" text-anchor="end">2 mW</text>
<text x="1220.9" y="894.0" font-size="35.5" text-anchor="end">1.5 mW</text>
<text x="1220.9" y="954.4" font-size="35.5" text-anchor="end">1 mW</text>
<text x="1220.9" y="1006.8" font-size="35.5" text-anchor="end">0.5 mW</text>
<text x="1220.9" y="1063.1" font-size="35.5" text-anchor="end">0.3 mW</text>
<text x="1220.9" y="1113.7" font-size="35.5" text-anchor="end">0.1 mW</text>
<text x="835.1" y="1191.5" font-size="35" text-anchor="middle">500</text>
<text x="934.6" y="1191.5" font-size="35" text-anchor="middle">1000</text>
<text x="1034.0" y="1191.5" font-size="35" text-anchor="middle">1500</text>
<text x="1133.5" y="1191.5" font-size="35" text-anchor="middle">2000</text>
<text x="1233.0" y="1191.5" font-size="35" text-anchor="middle">2500</text>
<text x="813.9" y="1267.4" font-size="44">Raman shift (cm<tspan font-size="27" dy="-22.8">-1</tspan><tspan font-size="44" dx="2.5" dy="22.8">)</tspan></text>
<text transform="translate(705.3,1134.1) rotate(-90)" font-size="43.5">Normalized Intensity</text>
</svg></div></body></html>
